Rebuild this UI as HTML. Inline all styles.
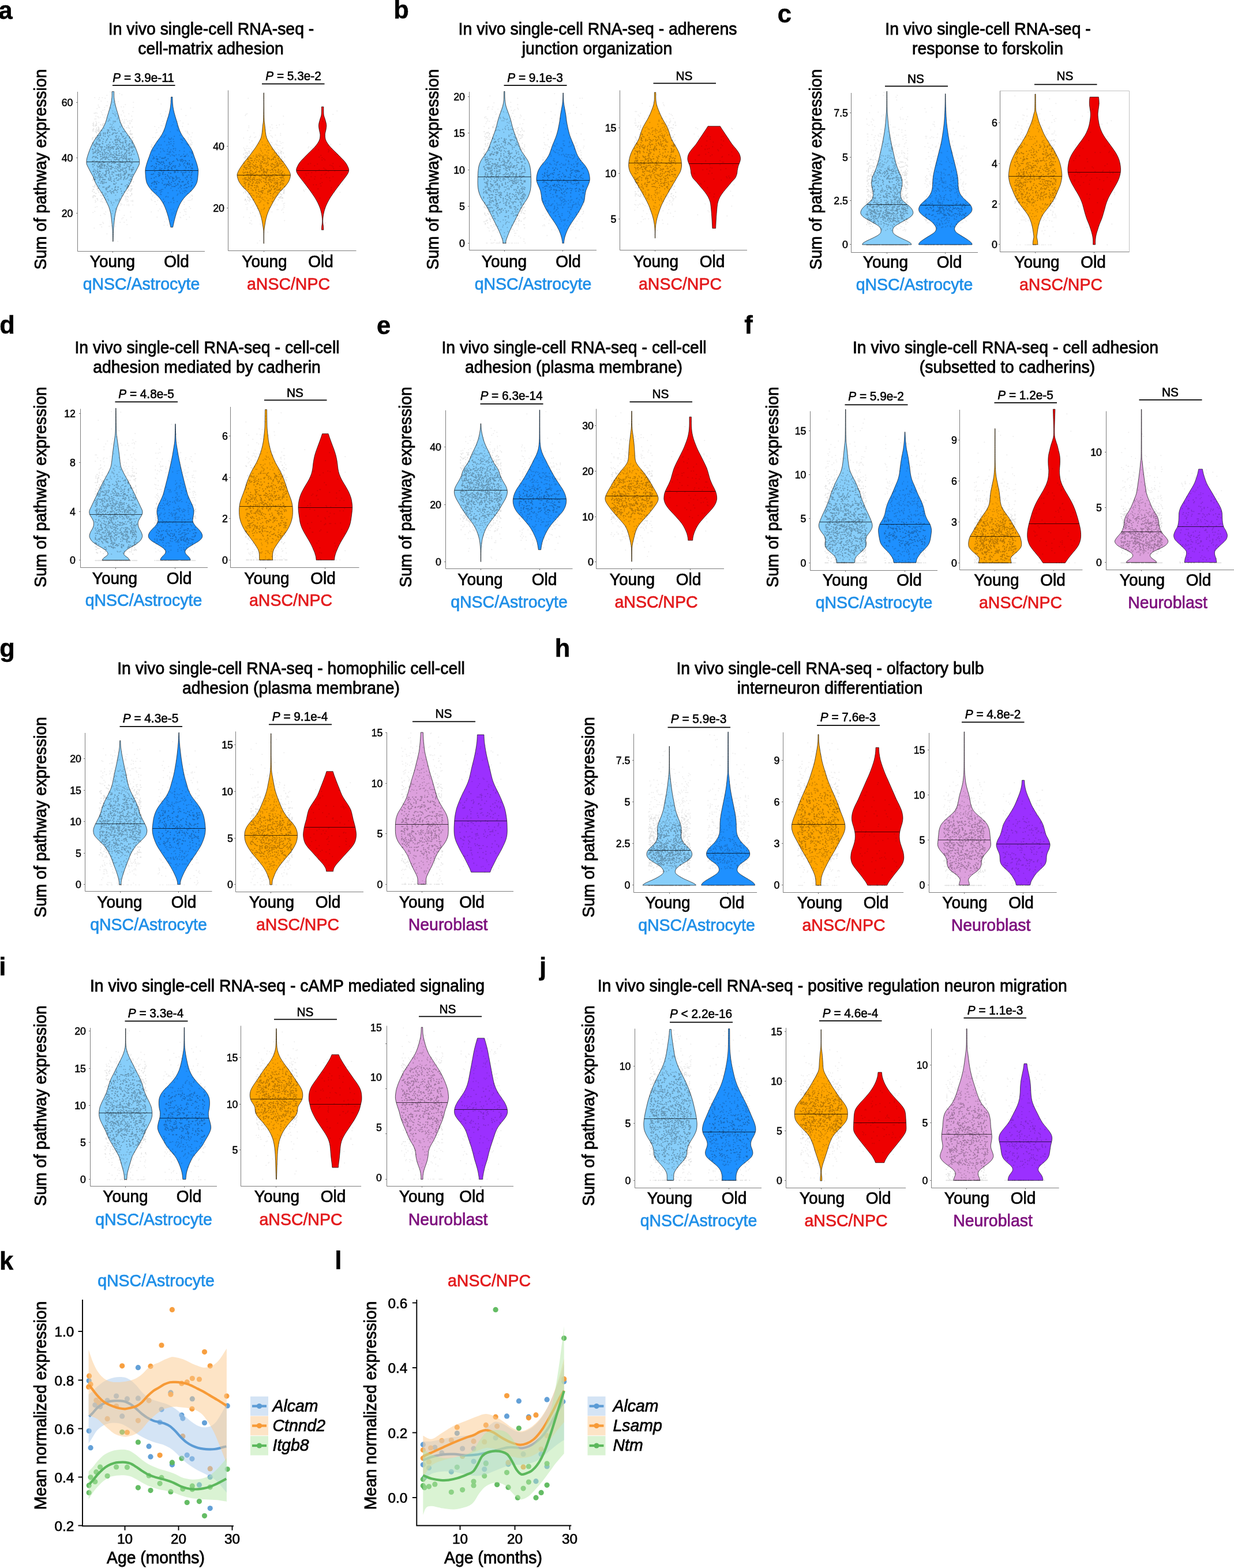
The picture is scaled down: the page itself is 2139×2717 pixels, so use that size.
<!DOCTYPE html>
<html lang="en"><head><meta charset="utf-8"><title>Figure</title>
<style>
html,body{margin:0;padding:0;background:#fff}
svg{display:block}
text{font-family:"Liberation Sans", sans-serif;}
</style></head><body>
<svg xmlns="http://www.w3.org/2000/svg" width="2139" height="2717" viewBox="0 0 2139 2717">
<rect width="2139" height="2717" fill="#fff"/>
<text x="-2.4" y="32.6" font-size="43.5" stroke="#000" stroke-width="0.5" font-weight="bold">a</text>
<text font-size="28.4" text-anchor="middle" stroke="#000" stroke-width="0.8" transform="translate(366.0 59.7) scale(1 1.045)">In vivo single-cell RNA-seq -</text>
<text font-size="28.4" text-anchor="middle" stroke="#000" stroke-width="0.8" transform="translate(365.5 93.7) scale(1 1.045)">cell-matrix adhesion</text>
<text font-size="28.3" text-anchor="middle" stroke="#000" stroke-width="0.8" transform="translate(80.0 293.5) rotate(-90) scale(1 1.04)">Sum of pathway expression</text>
<path d="M197.6 158.7c0 1.6-.1 6.4.1 9.7c.3 3.3.7 6.5 1.4 10c.8 3.6 2 7.6 3 11.5c1.1 3.8 2.4 7.8 3.5 11.4c1 3.6 1.6 6.7 2.8 10c1.3 3.3 2.6 6.4 4.7 10c2.1 3.6 5.3 7.6 7.9 11.4c2.6 3.8 5.6 7.6 7.9 11.4c2.2 3.9 4 7.7 5.7 11.5c1.6 3.8 3.1 8.1 4.3 11.4c1.1 3.3 1.9 6.3 2.4 8.6c.5 2.2.5 3.3.4 5c0 1.6.4 2.2-.7 5c-1.1 2.7-3.9 7.8-5.7 11.4c-1.9 3.6-4 6.9-5.4 10c-1.5 3.1-1.7 5.5-3.2 8.6c-1.5 3.1-3.7 6.6-5.7 10c-2 3.3-4.3 6.4-6.4 10c-2.1 3.5-4.3 7.6-6.2 11.4c-1.9 3.8-3.8 7.6-5.3 11.4c-1.4 3.8-2.4 7.4-3.2 11.5c-.9 4-1.2 8.3-1.8 12.8c-.5 4.5-1.1 9.5-1.4 14.3c-.3 4.8-.3 10.7-.4 14.3c-.1 3.6-.2 5.9-.2 7.1l-.5 0c0-1.2-.1-3.5-.2-7.1c-.1-3.6-.1-9.5-.4-14.3c-.3-4.8-.9-9.8-1.4-14.3c-.6-4.5-.9-8.8-1.7-12.8c-.9-4.1-1.9-7.7-3.3-11.5c-1.5-3.8-3.4-7.6-5.3-11.4c-1.9-3.8-4.1-7.9-6.2-11.4c-2.1-3.6-4.4-6.7-6.4-10c-2-3.4-4.2-6.9-5.7-10c-1.5-3.1-1.7-5.5-3.1-8.6c-1.5-3.1-3.6-6.4-5.5-10c-1.8-3.6-4.6-8.7-5.7-11.4c-1.1-2.8-.7-3.4-.7-5c0-1.7 0-2.8.4-5c.5-2.3 1.3-5.3 2.5-8.6c1.1-3.3 2.6-7.6 4.2-11.4c1.7-3.8 3.5-7.6 5.8-11.5c2.2-3.8 5.2-7.6 7.8-11.4c2.6-3.8 5.8-7.8 7.9-11.4c2.1-3.6 3.4-6.7 4.7-10c1.2-3.3 1.8-6.4 2.8-10c1.1-3.6 2.4-7.6 3.5-11.4c1-3.9 2.2-7.9 3-11.5c.7-3.5 1.1-6.7 1.4-10c.3-3.3.1-8.1.1-9.7z" fill="#87cefa" stroke="#000" stroke-opacity="0.72" stroke-width="0.9" stroke-linejoin="round"/>
<path d="M150.0 280.5H241.7" stroke="#000" stroke-opacity="0.7" stroke-width="1" fill="none"/>
<path d="M298.9 168.1c0 2 .1 8.1.4 11.8c.3 3.6.7 6.4 1.4 10c.7 3.5 1.9 7.8 2.9 11.4c1 3.6 2.1 6.7 3.1 10c1 3.3 1.6 6.4 2.9 10c1.3 3.6 2.8 7.6 5 11.4c2.1 3.8 5.6 8.1 7.8 11.4c2.3 3.4 4 5.8 5.7 8.6c1.8 2.9 3.6 5.5 5 8.6c1.5 3.1 2.4 6.7 3.6 10c1.2 3.3 2.6 6.9 3.6 10c1 3.1 1.9 6.2 2.4 8.6c.6 2.3.8 3.3.9 5.7c0 2.4-.2 5.7-.5 8.5c-.2 2.9-.5 6.2-1 8.6c-.4 2.4-.8 3.6-1.8 5.7c-1 2.2-2.5 4.8-4.3 7.2c-1.8 2.4-4 4.7-6.4 7.1c-2.4 2.4-5.6 4.8-7.9 7.2c-2.2 2.3-4 4.7-5.7 7.1c-1.7 2.4-2.9 4.3-4.3 7.1c-1.4 2.9-3 6.5-4.3 10c-1.3 3.6-2.5 7.7-3.5 11.5c-1.1 3.8-2.2 8.4-2.9 11.4c-.7 3-1.2 5.6-1.4 6.7l-3.7 0c-.3-1.1-.8-3.7-1.5-6.7c-.7-3-1.8-7.6-2.8-11.4c-1.1-3.8-2.3-7.9-3.6-11.5c-1.3-3.5-2.9-7.1-4.3-10c-1.4-2.8-2.6-4.7-4.3-7.1c-1.6-2.4-3.4-4.8-5.7-7.1c-2.2-2.4-5.5-4.8-7.8-7.2c-2.4-2.4-4.7-4.7-6.5-7.1c-1.8-2.4-3.2-5-4.3-7.2c-1-2.1-1.3-3.3-1.8-5.7c-.5-2.4-.8-5.7-1-8.6c-.3-2.8-.5-6.1-.4-8.5c0-2.4.3-3.4.8-5.7c.6-2.4 1.4-5.5 2.4-8.6c1-3.1 2.4-6.7 3.6-10c1.2-3.3 2.2-6.9 3.6-10c1.4-3.1 3.2-5.7 5-8.6c1.8-2.8 3.4-5.2 5.7-8.6c2.3-3.3 5.7-7.6 7.9-11.4c2.1-3.8 3.6-7.8 5-11.4c1.3-3.6 1.8-6.7 2.8-10c1-3.3 2.2-6.4 3.2-10c1-3.6 2.1-7.9 2.8-11.4c.7-3.6 1.1-6.4 1.4-10c.4-3.7.4-9.8.5-11.8z" fill="#1e90ff" stroke="#000" stroke-opacity="0.72" stroke-width="0.9" stroke-linejoin="round"/>
<path d="M251.9 295.5H343.6" stroke="#000" stroke-opacity="0.7" stroke-width="1" fill="none"/>
<path d="M134.5 159.0V435.5H355.0" stroke="#6e6e6e" stroke-width="0.9" fill="none"/>
<path d="M132.0 177.5L134.5 177.5" stroke="#6e6e6e" stroke-width="0.9" fill="none"/>
<path d="M132.0 273.5L134.5 273.5" stroke="#6e6e6e" stroke-width="0.9" fill="none"/>
<path d="M132.0 369.5L134.5 369.5" stroke="#6e6e6e" stroke-width="0.9" fill="none"/>
<text x="126.5" y="183.5" font-size="17.8" text-anchor="end" stroke="#000" stroke-width="0.5">60</text>
<text x="126.5" y="279.9" font-size="17.8" text-anchor="end" stroke="#000" stroke-width="0.5">40</text>
<text x="126.5" y="375.9" font-size="17.8" text-anchor="end" stroke="#000" stroke-width="0.5">20</text>
<path d="M195.5 435.5L195.5 438.0" stroke="#6e6e6e" stroke-width="0.9" fill="none"/>
<path d="M297.5 435.5L297.5 438.0" stroke="#6e6e6e" stroke-width="0.9" fill="none"/>
<text font-size="20.8" text-anchor="middle" stroke="#000" stroke-width="0.6" transform="translate(248.5 141.9) scale(1 1.02)"><tspan font-style="italic">P</tspan> = 3.9e-11</text>
<path d="M195.0 147.9L303.5 147.9" stroke="#000" stroke-width="1.7" fill="none"/>
<text font-size="28" text-anchor="middle" stroke="#000" stroke-width="0.7" transform="translate(195.0 463.3) scale(1 1.04)">Young</text>
<text font-size="28" text-anchor="middle" stroke="#000" stroke-width="0.7" transform="translate(306.0 463.3) scale(1 1.04)">Old</text>
<text font-size="28.5" text-anchor="middle" fill="#1f8fe8" stroke="#1f8fe8" stroke-width="0.7" transform="translate(245.0 501.5) scale(1 1.04)">qNSC/Astrocyte</text>
<path d="M457.5 160.9c0 4.3 0 18.1.1 26c0 7.9.1 16.1.4 21.4c.3 5.2.8 6.4 1.1 10c.4 3.6.7 8.1 1.2 11.4c.5 3.3.7 5.7 1.7 8.6c1 2.8 2.4 5.2 4.3 8.6c1.9 3.3 4.5 7.6 7.1 11.4c2.6 3.8 5.6 7.6 8.6 11.4c3 3.8 6.4 7.6 9.3 11.4c2.8 3.9 5.9 8.4 7.8 11.5c1.9 3.1 2.9 5.3 3.6 7.1c.7 1.8.7 2.2.7 3.6c0 1.4-.1 3-.7 5c-.6 2-1.3 4.5-2.8 7.1c-1.6 2.6-4 5.7-6.5 8.6c-2.5 2.9-5.8 5.2-8.5 8.6c-2.8 3.3-5.5 7.6-7.9 11.4c-2.4 3.8-4.4 7.6-6.4 11.4c-2.1 3.8-4.2 7.6-5.7 11.5c-1.6 3.8-2.7 7.6-3.6 11.4c-1 3.8-1.6 8.1-2.2 11.4c-.5 3.3-1 5.5-1.2 8.6c-.3 3.1-.3 6.1-.4 10c0 3.9 0 11.3 0 13.6l-.5 0c0-2.3.1-9.7 0-13.6c0-3.9 0-6.9-.3-10c-.3-3.1-.7-5.3-1.3-8.6c-.5-3.3-1.2-7.6-2.1-11.4c-1-3.8-2-7.6-3.6-11.4c-1.5-3.9-3.7-7.7-5.7-11.5c-2-3.8-4-7.6-6.4-11.4c-2.4-3.8-5.1-8.1-7.9-11.4c-2.7-3.4-6.1-5.7-8.6-8.6c-2.5-2.9-4.8-6-6.4-8.6c-1.5-2.6-2.2-5.1-2.8-7.1c-.6-2-.8-3.6-.8-5c0-1.4 0-1.8.8-3.6c.7-1.8 1.6-4 3.5-7.1c1.9-3.1 5-7.6 7.9-11.5c2.8-3.8 6.3-7.6 9.3-11.4c2.9-3.8 5.9-7.6 8.5-11.4c2.7-3.8 5.3-8.1 7.2-11.4c1.9-3.4 3.3-5.8 4.3-8.6c1-2.9 1.2-5.3 1.7-8.6c.5-3.3.7-7.8 1.1-11.4c.4-3.6.9-4.8 1.2-10c.2-5.3.3-13.5.4-21.4c.1-7.9 0-21.7 0-26z" fill="#ffa500" stroke="#000" stroke-opacity="0.72" stroke-width="0.9" stroke-linejoin="round"/>
<path d="M411.1 303.5H503.4" stroke="#000" stroke-opacity="0.7" stroke-width="1" fill="none"/>
<path d="M560.9 185c0 2.2-.1 9.9.2 13.3c.4 3.4 1.4 4.7 2 7.1c.7 2.4 1.6 5 2 7.2c.5 2.1.8 3.5.8 5.7c-.1 2.1-.6 4.7-1 7.1c-.4 2.4-1.4 4.6-1.5 7.2c-.1 2.6 0 5.9.7 8.5c.8 2.7 2.1 4.8 3.6 7.2c1.6 2.4 3.3 4.5 5.7 7.1c2.4 2.6 5.7 5.7 8.6 8.6c2.9 2.9 5.8 5.7 8.6 8.6c2.7 2.8 5.8 5.9 7.8 8.5c2.1 2.7 3.3 5 4.3 7.2c1 2.1 1.8 3.8 1.9 5.7c.1 1.9 0 3.3-1.2 5.7c-1.1 2.4-3.4 5.5-5.7 8.6c-2.2 3.1-5.1 6.4-7.8 10c-2.8 3.6-5.9 7.6-8.6 11.4c-2.8 3.8-5.6 7.9-7.9 11.4c-2.2 3.6-4 6.7-5.7 10c-1.7 3.4-3.1 6.5-4.3 10c-1.2 3.6-2.2 7.7-2.8 11.5c-.7 3.8-1 8.1-1 11.4c0 3.3.8 6.2 1 8.6c.2 2.4.2 4.7.3 5.7l-3.5 0c.1-1 .1-3.3.3-5.7c.2-2.4 1-5.3 1-8.6c0-3.3-.3-7.6-1-11.4c-.6-3.8-1.7-7.9-2.8-11.5c-1.2-3.5-2.7-6.6-4.3-10c-1.7-3.3-3.5-6.4-5.7-10c-2.3-3.5-5.2-7.6-7.9-11.4c-2.7-3.8-5.8-7.8-8.6-11.4c-2.7-3.6-5.6-6.9-7.8-10c-2.3-3.1-4.6-6.2-5.7-8.6c-1.2-2.4-1.3-3.8-1.2-5.7c.1-1.9.8-3.6 1.9-5.7c1-2.2 2.2-4.5 4.3-7.2c2-2.6 5.1-5.7 7.8-8.5c2.8-2.9 5.7-5.7 8.6-8.6c2.8-2.9 6.2-6 8.6-8.6c2.3-2.6 4.1-4.7 5.7-7.1c1.5-2.4 2.8-4.5 3.5-7.2c.8-2.6.9-5.9.8-8.5c-.2-2.6-1.1-4.8-1.5-7.2c-.4-2.4-.9-5-1-7.1c0-2.2.3-3.6.7-5.7c.5-2.2 1.4-4.8 2-7.2c.7-2.4 1.7-3.7 2-7.1c.4-3.4.3-11.1.3-13.3z" fill="#ee0000" stroke="#000" stroke-opacity="0.72" stroke-width="0.9" stroke-linejoin="round"/>
<path d="M514.1 295.5H604.2" stroke="#000" stroke-opacity="0.7" stroke-width="1" fill="none"/>
<path d="M395.5 156.5V434.5H617.5" stroke="#6e6e6e" stroke-width="0.9" fill="none"/>
<path d="M393.0 253.5L395.5 253.5" stroke="#6e6e6e" stroke-width="0.9" fill="none"/>
<path d="M393.0 360.5L395.5 360.5" stroke="#6e6e6e" stroke-width="0.9" fill="none"/>
<text x="389.0" y="260.2" font-size="17.8" text-anchor="end" stroke="#000" stroke-width="0.5">40</text>
<text x="389.0" y="366.9" font-size="17.8" text-anchor="end" stroke="#000" stroke-width="0.5">20</text>
<path d="M457.5 434.5L457.5 437.0" stroke="#6e6e6e" stroke-width="0.9" fill="none"/>
<path d="M558.5 434.5L558.5 437.0" stroke="#6e6e6e" stroke-width="0.9" fill="none"/>
<text font-size="20.8" text-anchor="middle" stroke="#000" stroke-width="0.6" transform="translate(508.5 139.4) scale(1 1.02)"><tspan font-style="italic">P</tspan> = 5.3e-2</text>
<path d="M454.0 145.4L562.5 145.4" stroke="#000" stroke-width="1.7" fill="none"/>
<text font-size="28" text-anchor="middle" stroke="#000" stroke-width="0.7" transform="translate(458.5 463.3) scale(1 1.04)">Young</text>
<text font-size="28" text-anchor="middle" stroke="#000" stroke-width="0.7" transform="translate(556.0 463.3) scale(1 1.04)">Old</text>
<text font-size="28.5" text-anchor="middle" fill="#e31a1c" stroke="#e31a1c" stroke-width="0.7" transform="translate(500.0 501.5) scale(1 1.04)">aNSC/NPC</text>
<text x="682.3" y="32.4" font-size="43.5" stroke="#000" stroke-width="0.5" font-weight="bold">b</text>
<text font-size="28.4" text-anchor="middle" stroke="#000" stroke-width="0.8" transform="translate(1036.0 59.7) scale(1 1.045)">In vivo single-cell RNA-seq - adherens</text>
<text font-size="28.4" text-anchor="middle" stroke="#000" stroke-width="0.8" transform="translate(1035.0 93.7) scale(1 1.045)">junction organization</text>
<text font-size="28.3" text-anchor="middle" stroke="#000" stroke-width="0.8" transform="translate(760.0 293.5) rotate(-90) scale(1 1.04)">Sum of pathway expression</text>
<path d="M875 158.4c0 2.4-.1 10 .3 14.3c.3 4.3.9 7.6 1.8 11.4c1 3.9 2.7 7.7 4 11.5c1.4 3.8 2.8 7.6 3.9 11.4c1.1 3.8 1.8 7.6 2.9 11.4c1 3.8 2.2 7.6 3.5 11.5c1.3 3.8 2.9 7.6 4.3 11.4c1.4 3.8 3 8.1 4.3 11.4c1.3 3.3 2 5.7 3.6 8.6c1.5 2.8 3.8 5.7 5.7 8.6c1.9 2.8 4.2 5.7 5.7 8.5c1.5 2.9 2.5 5.7 3.3 8.6c.8 2.9 1.1 5.4 1.4 8.6c.3 3.2.5 6.9.6 10.7c.1 3.8.3 8.2.1 12.1c-.1 4-.4 7.9-1.1 11.5c-.8 3.5-2.1 7.1-3.3 10c-1.2 2.8-2.4 4.7-3.9 7.1c-1.4 2.4-3.2 4.3-5 7.1c-1.7 2.9-3.8 6.5-5.7 10c-1.9 3.6-3.8 7.7-5.7 11.5c-1.9 3.8-3.8 7.6-5.7 11.4c-1.9 3.8-4 7.6-5.7 11.4c-1.8 3.8-3.5 8.4-4.7 11.5c-1.2 3.1-2 5.2-2.5 7.1c-.4 1.9-.2 3.6-.2 4.3l-5.2 0c0-.7.2-2.4-.3-4.3c-.4-1.9-1.2-4-2.4-7.1c-1.2-3.1-3-7.7-4.7-11.5c-1.8-3.8-3.8-7.6-5.7-11.4c-1.9-3.8-3.8-7.6-5.7-11.4c-1.9-3.8-3.9-7.9-5.8-11.5c-1.9-3.5-3.9-7.1-5.7-10c-1.8-2.8-3.5-4.7-5-7.1c-1.4-2.4-2.6-4.3-3.8-7.1c-1.2-2.9-2.6-6.5-3.3-10c-.8-3.6-1-7.5-1.2-11.5c-.1-3.9.1-8.3.2-12.1c.1-3.8.2-7.5.6-10.7c.3-3.2.6-5.7 1.4-8.6c.8-2.9 1.8-5.7 3.3-8.6c1.5-2.8 3.8-5.7 5.7-8.5c1.9-2.9 4.2-5.8 5.7-8.6c1.5-2.9 2.3-5.3 3.6-8.6c1.3-3.3 2.8-7.6 4.3-11.4c1.4-3.8 2.9-7.6 4.2-11.4c1.4-3.9 2.5-7.7 3.6-11.5c1.1-3.8 1.8-7.6 2.9-11.4c1.1-3.8 2.5-7.6 3.8-11.4c1.3-3.8 3.1-7.6 4-11.5c1-3.8 1.5-7.1 1.9-11.4c.3-4.3.2-11.9.3-14.3z" fill="#87cefa" stroke="#000" stroke-opacity="0.72" stroke-width="0.9" stroke-linejoin="round"/>
<path d="M828.3 306.5H920.3" stroke="#000" stroke-opacity="0.7" stroke-width="1" fill="none"/>
<path d="M976.4 161c.1 2.4.1 10.2.5 14.6c.3 4.3 1 7.6 1.7 11.4c.6 3.8 1.5 7.6 2.1 11.4c.6 3.8.8 7.6 1.4 11.5c.6 3.8 1.4 7.6 2.2 11.4c.8 3.8 1.7 7.6 2.8 11.4c1.2 3.8 3 8.1 4.3 11.4c1.3 3.4 2.5 5.8 3.6 8.6c1.1 2.9 1.8 5.7 2.9 8.6c1 2.8 2 5.7 3.5 8.6c1.6 2.8 3.6 5.7 5.7 8.5c2.2 2.9 5.2 5.7 7.2 8.6c2 2.9 3.7 5.7 5 8.6c1.2 2.8 1.9 5.7 2.4 8.5c.5 2.9.8 5.8.4 8.6c-.4 2.9-1.7 5.7-2.8 8.6c-1.1 2.8-2.7 5.7-3.6 8.6c-.9 2.8-1.2 5.7-1.7 8.5c-.5 2.9-.4 5.7-1.1 8.6c-.8 2.9-2.3 5.7-3.6 8.6c-1.3 2.8-2.4 5.2-4.3 8.5c-1.9 3.4-4.6 7.7-7.1 11.5c-2.5 3.8-5.5 7.6-7.9 11.4c-2.4 3.8-4.6 7.6-6.4 11.4c-1.8 3.8-3.3 8.1-4.3 11.5c-1 3.3-1.4 6.6-1.7 8.5c-.3 1.9 0 2.4 0 2.9l-2.9 0c0-.5.3-1 0-2.9c-.3-1.9-.7-5.2-1.7-8.5c-1-3.4-2.5-7.7-4.3-11.5c-1.8-3.8-4-7.6-6.4-11.4c-2.4-3.8-5.4-7.6-7.9-11.4c-2.5-3.8-5.2-8.1-7.1-11.5c-1.9-3.3-3-5.7-4.3-8.5c-1.3-2.9-2.8-5.7-3.6-8.6c-.8-2.9-.6-5.7-1.1-8.6c-.5-2.8-.8-5.7-1.7-8.5c-.9-2.9-2.5-5.8-3.6-8.6c-1.1-2.9-2.5-5.7-2.9-8.6c-.4-2.8 0-5.7.5-8.6c.4-2.8 1.2-5.7 2.4-8.5c1.2-2.9 3-5.7 5-8.6c2-2.9 5-5.7 7.1-8.6c2.2-2.8 4.2-5.7 5.8-8.5c1.5-2.9 2.5-5.8 3.5-8.6c1.1-2.9 1.8-5.7 2.9-8.6c1.1-2.8 2.2-5.2 3.6-8.6c1.3-3.3 3.1-7.6 4.2-11.4c1.2-3.8 2.1-7.6 2.9-11.4c.8-3.8 1.5-7.6 2.1-11.4c.6-3.9.9-7.7 1.5-11.5c.6-3.8 1.5-7.6 2.1-11.4c.7-3.8 1.4-7.1 1.7-11.4c.4-4.4.4-12.2.5-14.6z" fill="#1e90ff" stroke="#000" stroke-opacity="0.72" stroke-width="0.9" stroke-linejoin="round"/>
<path d="M930.1 312.5H1022.1" stroke="#000" stroke-opacity="0.7" stroke-width="1" fill="none"/>
<path d="M813.5 159.0V433.5H1034.0" stroke="#6e6e6e" stroke-width="0.9" fill="none"/>
<path d="M811.0 167.5L813.5 167.5" stroke="#6e6e6e" stroke-width="0.9" fill="none"/>
<path d="M811.0 230.5L813.5 230.5" stroke="#6e6e6e" stroke-width="0.9" fill="none"/>
<path d="M811.0 294.5L813.5 294.5" stroke="#6e6e6e" stroke-width="0.9" fill="none"/>
<path d="M811.0 357.5L813.5 357.5" stroke="#6e6e6e" stroke-width="0.9" fill="none"/>
<path d="M811.0 421.5L813.5 421.5" stroke="#6e6e6e" stroke-width="0.9" fill="none"/>
<text x="806.0" y="173.5" font-size="17.8" text-anchor="end" stroke="#000" stroke-width="0.5">20</text>
<text x="806.0" y="237.4" font-size="17.8" text-anchor="end" stroke="#000" stroke-width="0.5">15</text>
<text x="806.0" y="300.6" font-size="17.8" text-anchor="end" stroke="#000" stroke-width="0.5">10</text>
<text x="806.0" y="364.2" font-size="17.8" text-anchor="end" stroke="#000" stroke-width="0.5">5</text>
<text x="806.0" y="427.8" font-size="17.8" text-anchor="end" stroke="#000" stroke-width="0.5">0</text>
<path d="M874.5 433.5L874.5 436.0" stroke="#6e6e6e" stroke-width="0.9" fill="none"/>
<path d="M975.5 433.5L975.5 436.0" stroke="#6e6e6e" stroke-width="0.9" fill="none"/>
<text font-size="20.8" text-anchor="middle" stroke="#000" stroke-width="0.6" transform="translate(927.5 141.9) scale(1 1.02)"><tspan font-style="italic">P</tspan> = 9.1e-3</text>
<path d="M873.5 147.9L982.5 147.9" stroke="#000" stroke-width="1.7" fill="none"/>
<text font-size="28" text-anchor="middle" stroke="#000" stroke-width="0.7" transform="translate(874.0 463.3) scale(1 1.04)">Young</text>
<text font-size="28" text-anchor="middle" stroke="#000" stroke-width="0.7" transform="translate(985.0 463.3) scale(1 1.04)">Old</text>
<text font-size="28.5" text-anchor="middle" fill="#1f8fe8" stroke="#1f8fe8" stroke-width="0.7" transform="translate(924.0 501.5) scale(1 1.04)">qNSC/Astrocyte</text>
<path d="M1136.7 160.1c0 2.1-.1 9 .2 12.5c.2 3.5.6 5.7 1.2 8.5c.7 2.9 1.8 5.8 2.9 8.6c1.1 2.9 2.3 5.7 3.6 8.6c1.3 2.8 2.7 5.7 4.3 8.6c1.5 2.8 3.4 5.7 5 8.5c1.5 2.9 3.1 5.7 4.2 8.6c1.2 2.9 1.9 5.7 2.9 8.6c1 2.8 1.5 5.7 2.9 8.5c1.3 2.9 3.3 5.8 5 8.6c1.6 2.9 3.5 5.7 5 8.6c1.5 2.8 2.9 5.7 4 8.6c1 2.8 1.8 5.9 2.4 8.5c.6 2.6.8 4.8 1 7.2c.2 2.4.4 4.5 0 7.1c-.4 2.6-1.2 5.7-2.4 8.6c-1.3 2.8-3.4 5.7-5 8.6c-1.7 2.8-3.4 5.7-5 8.5c-1.7 2.9-3.4 5.7-5 8.6c-1.7 2.9-3.1 5.2-5 8.6c-1.9 3.3-4.4 7.6-6.5 11.4c-2 3.8-4 7.6-5.7 11.4c-1.7 3.8-3 7.6-4.3 11.5c-1.3 3.8-2.6 7.6-3.5 11.4c-1 3.8-1.7 7.6-2.2 11.4c-.5 3.8-.7 7.6-.8 11.4c-.2 3.9-.1 9.6-.1 11.5l-.5 0c0-1.9.1-7.6 0-11.5c-.2-3.8-.4-7.6-.9-11.4c-.5-3.8-1.2-7.6-2.1-11.4c-1-3.8-2.3-7.6-3.6-11.4c-1.3-3.9-2.6-7.7-4.3-11.5c-1.6-3.8-3.7-7.6-5.7-11.4c-2-3.8-4.5-8.1-6.4-11.4c-1.9-3.4-3.3-5.7-5-8.6c-1.7-2.9-3.3-5.7-5-8.6c-1.7-2.8-3.3-5.7-5-8.5c-1.7-2.9-3.8-5.8-5-8.6c-1.3-2.9-2-6-2.4-8.6c-.4-2.6-.2-4.7 0-7.1c.1-2.4.4-4.6 1-7.2c.5-2.6 1.3-5.7 2.4-8.5c1.1-2.9 2.5-5.8 4-8.6c1.5-2.9 3.3-5.7 5-8.6c1.7-2.8 3.7-5.7 5-8.6c1.3-2.8 1.9-5.7 2.8-8.5c1-2.9 1.7-5.7 2.9-8.6c1.2-2.9 2.7-5.7 4.3-8.6c1.5-2.8 3.4-5.7 5-8.5c1.5-2.9 3-5.8 4.3-8.6c1.3-2.9 2.5-5.7 3.5-8.6c1.1-2.8 2.2-5.7 2.9-8.6c.7-2.8 1-5 1.3-8.5c.2-3.5.1-10.4.1-12.5z" fill="#ffa500" stroke="#000" stroke-opacity="0.72" stroke-width="0.9" stroke-linejoin="round"/>
<path d="M1089.9 282.5H1181.2" stroke="#000" stroke-opacity="0.7" stroke-width="1" fill="none"/>
<path d="M1248.4 218.7c.6.9 1.8 3 3.3 5.3c1.5 2.3 3.8 5.7 5.7 8.6c1.9 2.8 3.8 5.7 5.7 8.5c1.9 2.9 3.6 5.8 5.8 8.6c2.1 2.9 5.1 6 7.1 8.6c2 2.6 3.8 5 5 7.1c1.2 2.2 1.7 3.8 2.1 5.7c.4 1.9.6 3.9.3 5.8c-.2 1.9-1 3.8-1.7 5.7c-.6 1.9-1.5 3.5-2.1 5.7c-.6 2.1-1.1 5-1.5 7.1c-.3 2.2-.1 3.6-.7 5.7c-.6 2.2-1.3 4.8-2.8 7.2c-1.6 2.4-4.2 4.5-6.5 7.1c-2.2 2.6-4.7 5.7-7.1 8.6c-2.4 2.9-5 5.7-7.1 8.6c-2.2 2.8-4.2 5.7-5.8 8.5c-1.5 2.9-2.7 5.8-3.5 8.6c-.9 2.9-1.1 5.3-1.5 8.6c-.4 3.3-.6 7.6-1 11.4c-.3 3.8-.6 7.1-.8 11.4c-.3 4.4-.6 12.2-.7 14.6l-5.7 0c-.2-2.4-.5-10.2-.8-14.6c-.2-4.3-.5-7.6-.8-11.4c-.3-3.8-.6-8.1-1-11.4c-.4-3.3-.6-5.7-1.4-8.6c-.9-2.8-2.1-5.7-3.6-8.6c-1.6-2.8-3.6-5.7-5.7-8.5c-2.2-2.9-4.8-5.7-7.2-8.6c-2.4-2.9-4.9-6-7.1-8.6c-2.3-2.6-4.9-4.7-6.4-7.1c-1.6-2.4-2.3-5-2.9-7.2c-.6-2.1-.4-3.5-.7-5.7c-.4-2.1-.8-5-1.4-7.1c-.6-2.2-1.5-3.8-2.2-5.7c-.6-1.9-1.5-3.8-1.7-5.7c-.2-1.9-.1-3.9.3-5.8c.4-1.9.9-3.5 2.1-5.7c1.2-2.1 3-4.5 5-7.1c2.1-2.6 5-5.7 7.2-8.6c2.1-2.8 3.8-5.7 5.7-8.6c1.9-2.8 3.8-5.7 5.7-8.5c1.9-2.9 4.2-6.3 5.7-8.6c1.5-2.3 2.8-4.4 3.3-5.3z" fill="#ee0000" stroke="#000" stroke-opacity="0.72" stroke-width="0.9" stroke-linejoin="round"/>
<path d="M1194.0 283.5H1281.4" stroke="#000" stroke-opacity="0.7" stroke-width="1" fill="none"/>
<path d="M1074.5 156.5V433.5H1295.0" stroke="#6e6e6e" stroke-width="0.9" fill="none"/>
<path d="M1072.0 221.5L1074.5 221.5" stroke="#6e6e6e" stroke-width="0.9" fill="none"/>
<path d="M1072.0 300.5L1074.5 300.5" stroke="#6e6e6e" stroke-width="0.9" fill="none"/>
<path d="M1072.0 379.5L1074.5 379.5" stroke="#6e6e6e" stroke-width="0.9" fill="none"/>
<text x="1068.5" y="228.4" font-size="17.8" text-anchor="end" stroke="#000" stroke-width="0.5">15</text>
<text x="1068.5" y="307.2" font-size="17.8" text-anchor="end" stroke="#000" stroke-width="0.5">10</text>
<text x="1068.5" y="385.5" font-size="17.8" text-anchor="end" stroke="#000" stroke-width="0.5">5</text>
<path d="M1135.5 433.5L1135.5 436.0" stroke="#6e6e6e" stroke-width="0.9" fill="none"/>
<path d="M1237.5 433.5L1237.5 436.0" stroke="#6e6e6e" stroke-width="0.9" fill="none"/>
<text font-size="20.8" text-anchor="middle" stroke="#000" stroke-width="0.6" transform="translate(1186.0 138.9) scale(1 1.02)">NS</text>
<path d="M1132.5 144.4L1241.0 144.4" stroke="#000" stroke-width="1.7" fill="none"/>
<text font-size="28" text-anchor="middle" stroke="#000" stroke-width="0.7" transform="translate(1137.0 463.3) scale(1 1.04)">Young</text>
<text font-size="28" text-anchor="middle" stroke="#000" stroke-width="0.7" transform="translate(1234.5 463.3) scale(1 1.04)">Old</text>
<text font-size="28.5" text-anchor="middle" fill="#e31a1c" stroke="#e31a1c" stroke-width="0.7" transform="translate(1179.0 501.5) scale(1 1.04)">aNSC/NPC</text>
<text x="1347.8" y="39.0" font-size="43.5" stroke="#000" stroke-width="0.5" font-weight="bold">c</text>
<text font-size="28.4" text-anchor="middle" stroke="#000" stroke-width="0.8" transform="translate(1712.5 59.7) scale(1 1.045)">In vivo single-cell RNA-seq -</text>
<text font-size="28.4" text-anchor="middle" stroke="#000" stroke-width="0.8" transform="translate(1712.0 93.7) scale(1 1.045)">response to forskolin</text>
<text font-size="28.3" text-anchor="middle" stroke="#000" stroke-width="0.8" transform="translate(1424.0 293.5) rotate(-90) scale(1 1.04)">Sum of pathway expression</text>
<path d="M1537.5 158.3c.1 4.4.1 19.6.2 26.4c.2 6.8.4 9.5.7 14.3c.3 4.8.7 9.5 1.2 14.3c.4 4.7 1 9.5 1.7 14.3c.7 4.7 1.5 9.5 2.4 14.3c.9 4.7 1.8 9.5 2.9 14.2c1 4.8 2.1 9.6 3.3 14.3c1.1 4.8 2.2 10 3.5 14.3c1.3 4.3 2.9 7.9 4.3 11.4c1.4 3.6 3.3 7.2 4.3 10c1 2.9 1.4 4.8 1.7 7.2c.3 2.4.3 4.5 0 7.1c-.3 2.6-1.2 5.7-1.7 8.6c-.5 2.9-1.1 6-1 8.6c.1 2.6.8 5.2 1.7 7.1c.9 1.9 2.2 2.9 3.6 4.3c1.4 1.4 3.3 2.9 5 4.3c1.7 1.4 3.5 2.8 5 4.3c1.5 1.4 2.9 2.6 4 4.3c1.1 1.6 2.2 4 2.4 5.7c.3 1.6-.2 2.8-1 4.3c-.8 1.4-2.1 2.8-4 4.2c-1.8 1.5-4.3 2.7-7.1 4.3c-2.9 1.7-6.8 3.8-10 5.7c-3.2 1.9-7.2 4.1-9.3 5.8c-2.1 1.6-2.5 2.8-3.2 4.2c-.6 1.5-.8 2.9-.7 4.3c.2 1.5.5 2.9 1.7 4.3c1.3 1.4 3.4 2.9 5.8 4.3c2.3 1.4 5.6 2.9 8.5 4.3c3 1.4 6.8 3 9.3 4.3c2.5 1.3 4.5 2.5 5.7 3.5c1.2 1.1 1.2 2.4 1.5 2.9l-85.2 0c.3-.5.3-1.8 1.4-2.9c1.2-1 3.3-2.2 5.8-3.5c2.5-1.3 6.3-2.9 9.2-4.3c3-1.4 6.2-2.9 8.6-4.3c2.4-1.4 4.5-2.9 5.7-4.3c1.3-1.4 1.6-2.8 1.7-4.3c.2-1.4 0-2.8-.7-4.3c-.6-1.4-1-2.6-3.1-4.2c-2.1-1.7-6.1-3.9-9.3-5.8c-3.2-1.9-7.1-4-10-5.7c-2.9-1.6-5.3-2.8-7.1-4.3c-1.9-1.4-3.2-2.8-4-4.2c-.9-1.5-1.3-2.7-1-4.3c.2-1.7 1.3-4.1 2.4-5.7c1.1-1.7 2.5-2.9 4-4.3c1.5-1.5 3.3-2.9 5-4.3c1.7-1.4 3.6-2.9 5-4.3c1.4-1.4 2.7-2.4 3.6-4.3c.8-1.9 1.6-4.5 1.7-7.1c.1-2.6-.6-5.7-1-8.6c-.5-2.9-1.5-6-1.7-8.6c-.3-2.6-.3-4.7 0-7.1c.2-2.4.7-4.3 1.7-7.2c1-2.8 2.8-6.4 4.3-10c1.4-3.5 2.9-7.1 4.2-11.4c1.4-4.3 2.5-9.5 3.6-14.3c1.2-4.7 2.3-9.5 3.3-14.3c1-4.7 2-9.5 2.9-14.2c.8-4.8 1.7-9.6 2.4-14.3c.7-4.8 1.2-9.6 1.7-14.3c.5-4.8.8-9.5 1.1-14.3c.4-4.8.6-7.5.8-14.3c.1-6.8.1-22 .1-26.4z" fill="#87cefa" stroke="#000" stroke-opacity="0.72" stroke-width="0.9" stroke-linejoin="round"/>
<path d="M1502.5 354.5H1572.1" stroke="#000" stroke-opacity="0.7" stroke-width="1" fill="none"/>
<path d="M1639 162.6c0 3.7.1 14.9.3 22.1c.2 7.3.6 15.5 1 21.4c.4 6 .8 9.6 1.4 14.3c.6 4.8 1.3 9.6 2 14.3c.8 4.8 1.6 9.5 2.6 14.3c1 4.8 2.4 9.5 3.6 14.3c1.1 4.7 2.3 9.5 3.5 14.3c1.2 4.7 2.6 10 3.6 14.3c1 4.2 1.8 7.8 2.4 11.4c.6 3.6.9 6.7 1.2 10c.2 3.3 0 6.9.4 10c.4 3.1.8 5.9 1.7 8.6c.9 2.6 1.9 4.7 3.6 7.1c1.7 2.4 4.3 5 6.4 7.1c2.2 2.2 4.8 4.1 6.4 5.8c1.7 1.6 2.7 2.6 3.6 4.2c1 1.7 2 3.9 2.2 5.8c.1 1.9-.3 3.8-1.5 5.7c-1.2 1.9-3.4 3.8-5.7 5.7c-2.2 1.9-5.2 3.8-7.8 5.7c-2.7 1.9-5.8 3.8-7.9 5.7c-2.1 1.9-3.8 4.1-5 5.7c-1.2 1.7-1.8 2.9-2.1 4.3c-.4 1.4-.4 2.9.2 4.3c.6 1.4 1.7 2.9 3.3 4.3c1.6 1.4 3.8 2.6 6.5 4.3c2.6 1.6 6.5 3.9 9.2 5.7c2.8 1.8 5.4 3.6 7.2 5c1.7 1.4 2.7 2.6 3.3 3.6c.6.9.2 1.7.3 2.1l-92.3 0c0-.4-.3-1.2.3-2.1c.6-1 1.5-2.2 3.2-3.6c1.8-1.4 4.4-3.2 7.2-5c2.7-1.8 6.7-4.1 9.3-5.7c2.6-1.7 4.8-2.9 6.4-4.3c1.6-1.4 2.7-2.9 3.3-4.3c.6-1.4.6-2.9.3-4.3c-.3-1.4-1-2.6-2.2-4.3c-1.2-1.6-2.8-3.8-5-5.7c-2.1-1.9-5.2-3.8-7.8-5.7c-2.6-1.9-5.6-3.8-7.9-5.7c-2.2-1.9-4.5-3.8-5.7-5.7c-1.2-1.9-1.5-3.8-1.4-5.7c.1-1.9 1.2-4.1 2.1-5.8c1-1.6 1.9-2.6 3.6-4.2c1.7-1.7 4.3-3.6 6.4-5.8c2.2-2.1 4.8-4.7 6.4-7.1c1.7-2.4 2.7-4.5 3.6-7.1c.9-2.7 1.4-5.5 1.7-8.6c.4-3.1.2-6.7.5-10c.2-3.3.5-6.4 1.1-10c.6-3.6 1.4-7.2 2.4-11.4c1-4.3 2.4-9.6 3.6-14.3c1.2-4.8 2.4-9.6 3.6-14.3c1.2-4.8 2.5-9.5 3.5-14.3c1.1-4.8 1.9-9.5 2.6-14.3c.8-4.7 1.4-9.5 2-14.3c.6-4.7 1-8.3 1.4-14.3c.4-5.9.8-14.1 1-21.4c.3-7.2.3-18.4.4-22.1z" fill="#1e90ff" stroke="#000" stroke-opacity="0.72" stroke-width="0.9" stroke-linejoin="round"/>
<path d="M1595.5 355.5H1681.9" stroke="#000" stroke-opacity="0.7" stroke-width="1" fill="none"/>
<path d="M1475.5 161.0V437.5H1695.0" stroke="#6e6e6e" stroke-width="0.9" fill="none"/>
<path d="M1473.0 195.5L1475.5 195.5" stroke="#6e6e6e" stroke-width="0.9" fill="none"/>
<path d="M1473.0 272.5L1475.5 272.5" stroke="#6e6e6e" stroke-width="0.9" fill="none"/>
<path d="M1473.0 347.5L1475.5 347.5" stroke="#6e6e6e" stroke-width="0.9" fill="none"/>
<path d="M1473.0 423.5L1475.5 423.5" stroke="#6e6e6e" stroke-width="0.9" fill="none"/>
<text x="1470.0" y="201.9" font-size="17.8" text-anchor="end" stroke="#000" stroke-width="0.5">7.5</text>
<text x="1470.0" y="278.6" font-size="17.8" text-anchor="end" stroke="#000" stroke-width="0.5">5</text>
<text x="1470.0" y="354.1" font-size="17.8" text-anchor="end" stroke="#000" stroke-width="0.5">2.5</text>
<text x="1470.0" y="429.8" font-size="17.8" text-anchor="end" stroke="#000" stroke-width="0.5">0</text>
<path d="M1537.5 437.5L1537.5 440.0" stroke="#6e6e6e" stroke-width="0.9" fill="none"/>
<path d="M1638.5 437.5L1638.5 440.0" stroke="#6e6e6e" stroke-width="0.9" fill="none"/>
<text font-size="20.8" text-anchor="middle" stroke="#000" stroke-width="0.6" transform="translate(1587.5 143.9) scale(1 1.02)">NS</text>
<path d="M1534.0 149.4L1643.0 149.4" stroke="#000" stroke-width="1.7" fill="none"/>
<text font-size="28" text-anchor="middle" stroke="#000" stroke-width="0.7" transform="translate(1535.0 464.3) scale(1 1.04)">Young</text>
<text font-size="28" text-anchor="middle" stroke="#000" stroke-width="0.7" transform="translate(1645.5 464.3) scale(1 1.04)">Old</text>
<text font-size="28.5" text-anchor="middle" fill="#1f8fe8" stroke="#1f8fe8" stroke-width="0.7" transform="translate(1585.0 502.5) scale(1 1.04)">qNSC/Astrocyte</text>
<path d="M1795.1 163.1c.1 4.3 0 20 .3 25.8c.4 5.7 1.1 5.7 1.7 8.5c.7 2.9 1.4 5.7 2.2 8.6c.8 2.9 1.8 5.7 2.8 8.6c1.1 2.8 2.4 5.7 3.6 8.5c1.2 2.9 2.2 5.8 3.6 8.6c1.4 2.9 3 5.7 4.7 8.6c1.7 2.8 3.5 5.7 5.3 8.6c1.8 2.8 3.9 5.7 5.7 8.5c1.8 2.9 3.5 5.7 5 8.6c1.5 2.9 3 5.7 4.3 8.6c1.2 2.8 2.3 5.7 3.1 8.5c.9 2.9 1.5 5.8 2 8.6c.6 2.9 1 6.3 1.2 8.6c.2 2.2.2 3.1.1 5c-.1 1.9-.2 3.9-.7 6.4c-.5 2.5-1.2 5.7-2.1 8.6c-1 2.8-2.4 5.7-3.6 8.6c-1.2 2.8-2.3 5.7-3.6 8.5c-1.3 2.9-2.6 5.7-4.3 8.6c-1.6 2.9-3.7 5.7-5.7 8.6c-2 2.8-4.3 5.7-6.4 8.5c-2.2 2.9-4.7 5.8-6.4 8.6c-1.8 2.9-3.1 5.7-4.3 8.6c-1.2 2.8-2.1 5.7-2.9 8.6c-.8 2.8-1.4 5.9-1.8 8.5c-.5 2.6-.8 5-1 7.2c-.3 2.1-.8 4-.8 5.7c0 1.7.5 2.8.8 4.3c.2 1.4.5 2.7.7 4.3c.1 1.5.2 4.1.3 5l-8.6 0c0-.9.1-3.5.3-5c.1-1.6.4-2.9.7-4.3c.2-1.5.7-2.6.7-4.3c0-1.7-.4-3.6-.7-5.7c-.3-2.2-.5-4.6-1-7.2c-.5-2.6-1.1-5.7-1.9-8.5c-.8-2.9-1.6-5.8-2.8-8.6c-1.2-2.9-2.5-5.7-4.3-8.6c-1.8-2.8-4.3-5.7-6.4-8.6c-2.2-2.8-4.4-5.7-6.5-8.5c-2-2.9-4-5.7-5.7-8.6c-1.7-2.9-3-5.7-4.3-8.6c-1.3-2.8-2.4-5.7-3.5-8.5c-1.2-2.9-2.7-5.8-3.6-8.6c-1-2.9-1.7-6.1-2.2-8.6c-.4-2.5-.6-4.5-.7-6.4c-.1-1.9 0-2.8.2-5c.2-2.3.6-5.7 1.1-8.6c.5-2.8 1.2-5.7 2-8.6c.9-2.8 1.9-5.7 3.2-8.5c1.2-2.9 2.7-5.7 4.2-8.6c1.6-2.9 3.3-5.7 5-8.6c1.8-2.8 3.9-5.7 5.8-8.5c1.8-2.9 3.6-5.8 5.2-8.6c1.7-2.9 3.4-5.7 4.8-8.6c1.3-2.8 2.3-5.7 3.5-8.6c1.2-2.8 2.5-5.7 3.6-8.5c1.1-2.9 2-5.7 2.9-8.6c.8-2.9 1.5-5.7 2.1-8.6c.6-2.8 1.4-2.8 1.7-8.5c.3-5.8.3-21.5.3-25.8z" fill="#ffa500" stroke="#000" stroke-opacity="0.72" stroke-width="0.9" stroke-linejoin="round"/>
<path d="M1748.4 305.5H1840.7" stroke="#000" stroke-opacity="0.7" stroke-width="1" fill="none"/>
<path d="M1904.3 168.1c.1 1.1.6 4.2.7 6.5c.1 2.2.2 4.7 0 7.1c-.2 2.4-.7 4.8-1 7.2c-.3 2.3-.7 4.7-.9 7.1c-.1 2.4 0 4.8.2 7.1c.2 2.4.6 4.8 1 7.2c.4 2.4.7 4.5 1.4 7.1c.7 2.6 1.7 5.7 2.9 8.6c1.2 2.9 2.6 5.7 4.3 8.6c1.6 2.8 3.6 5.7 5.7 8.5c2 2.9 4.3 5.8 6.4 8.6c2.1 2.9 4.2 5.7 6.1 8.6c1.9 2.8 3.9 5.7 5.3 8.6c1.5 2.8 2.7 5.7 3.6 8.5c.9 2.9 1.4 5.7 1.9 8.6c.4 2.9.7 5.7.7 8.6c-.1 2.8-.5 5.7-1.2 8.5c-.6 2.9-1.6 5.8-2.8 8.6c-1.2 2.9-2.8 5.7-4.3 8.6c-1.6 2.8-3.3 5.7-5 8.6c-1.7 2.8-3.5 5.7-5 8.5c-1.6 2.9-3.1 5.7-4.3 8.6c-1.2 2.9-2.2 5.7-3.1 8.6c-.9 2.8-1.5 5.7-2.3 8.5c-.8 2.9-1.6 5.8-2.5 8.6c-.8 2.9-1.7 5.7-2.8 8.6c-1.1 2.8-2.5 5.7-3.6 8.6c-1.1 2.8-1.9 5.7-2.8 8.5c-.9 2.9-1.9 5.7-2.6 8.6c-.7 2.9-1.2 5.6-1.4 8.6c-.3 2.9-.2 7.7-.2 9.3l-4 0c0-1.6.1-6.4-.1-9.3c-.3-3-.8-5.7-1.5-8.6c-.6-2.9-1.6-5.7-2.5-8.6c-.9-2.8-1.8-5.7-2.9-8.5c-1.1-2.9-2.5-5.8-3.6-8.6c-1-2.9-1.9-5.7-2.8-8.6c-.9-2.8-1.7-5.7-2.4-8.6c-.8-2.8-1.4-5.7-2.3-8.5c-.9-2.9-1.9-5.7-3.2-8.6c-1.2-2.9-2.7-5.7-4.3-8.6c-1.5-2.8-3.3-5.7-5-8.5c-1.6-2.9-3.4-5.8-5-8.6c-1.5-2.9-3.1-5.7-4.2-8.6c-1.2-2.8-2.2-5.7-2.9-8.6c-.7-2.8-1.1-5.7-1.1-8.5c-.1-2.9.2-5.7.7-8.6c.4-2.9.9-5.7 1.8-8.6c.9-2.8 2.1-5.7 3.6-8.5c1.5-2.9 3.4-5.8 5.3-8.6c1.9-2.9 4-5.7 6.1-8.6c2.1-2.8 4.4-5.7 6.5-8.6c2-2.8 4-5.7 5.7-8.5c1.6-2.9 3.1-5.7 4.3-8.6c1.1-2.9 2.1-6 2.8-8.6c.7-2.6 1-4.7 1.4-7.1c.4-2.4.9-4.8 1-7.2c.2-2.3.3-4.7.2-7.1c-.1-2.4-.6-4.8-.9-7.1c-.3-2.4-.8-4.8-1-7.2c-.1-2.4-.1-4.9 0-7.1c.1-2.3.6-5.4.7-6.5z" fill="#ee0000" stroke="#000" stroke-opacity="0.72" stroke-width="0.9" stroke-linejoin="round"/>
<path d="M1851.4 298.5H1942.0" stroke="#000" stroke-opacity="0.7" stroke-width="1" fill="none"/>
<path d="M1733.5 157.5H1957.5V436.5" stroke="#c2c2c2" stroke-width="1" fill="none"/>
<path d="M1733.5 157.5V436.5H1957.5" stroke="#6e6e6e" stroke-width="0.9" fill="none"/>
<path d="M1731.0 212.5L1733.5 212.5" stroke="#6e6e6e" stroke-width="0.9" fill="none"/>
<path d="M1731.0 283.5L1733.5 283.5" stroke="#6e6e6e" stroke-width="0.9" fill="none"/>
<path d="M1731.0 353.5L1733.5 353.5" stroke="#6e6e6e" stroke-width="0.9" fill="none"/>
<path d="M1731.0 423.5L1733.5 423.5" stroke="#6e6e6e" stroke-width="0.9" fill="none"/>
<text x="1729.0" y="218.9" font-size="17.8" text-anchor="end" stroke="#000" stroke-width="0.5">6</text>
<text x="1729.0" y="289.6" font-size="17.8" text-anchor="end" stroke="#000" stroke-width="0.5">4</text>
<text x="1729.0" y="359.6" font-size="17.8" text-anchor="end" stroke="#000" stroke-width="0.5">2</text>
<text x="1729.0" y="429.6" font-size="17.8" text-anchor="end" stroke="#000" stroke-width="0.5">0</text>
<path d="M1794.5 436.5L1794.5 439.0" stroke="#6e6e6e" stroke-width="0.9" fill="none"/>
<path d="M1896.5 436.5L1896.5 439.0" stroke="#6e6e6e" stroke-width="0.9" fill="none"/>
<text font-size="20.8" text-anchor="middle" stroke="#000" stroke-width="0.6" transform="translate(1846.0 138.9) scale(1 1.02)">NS</text>
<path d="M1793.0 146.4L1901.5 146.4" stroke="#000" stroke-width="1.7" fill="none"/>
<text font-size="28" text-anchor="middle" stroke="#000" stroke-width="0.7" transform="translate(1797.5 464.3) scale(1 1.04)">Young</text>
<text font-size="28" text-anchor="middle" stroke="#000" stroke-width="0.7" transform="translate(1895.0 464.3) scale(1 1.04)">Old</text>
<text font-size="28.5" text-anchor="middle" fill="#e31a1c" stroke="#e31a1c" stroke-width="0.7" transform="translate(1839.0 502.5) scale(1 1.04)">aNSC/NPC</text>
<text x="-0.7" y="578.1" font-size="43.5" stroke="#000" stroke-width="0.5" font-weight="bold">d</text>
<text font-size="28.4" text-anchor="middle" stroke="#000" stroke-width="0.8" transform="translate(359.0 612.2) scale(1 1.045)">In vivo single-cell RNA-seq - cell-cell</text>
<text font-size="28.4" text-anchor="middle" stroke="#000" stroke-width="0.8" transform="translate(358.5 645.7) scale(1 1.045)">adhesion mediated by cadherin</text>
<text font-size="28.3" text-anchor="middle" stroke="#000" stroke-width="0.8" transform="translate(80.0 844.0) rotate(-90) scale(1 1.04)">Sum of pathway expression</text>
<path d="M201.1 707.4c.1 6.5.2 29.8.5 38.6c.3 8.8.8 9.5 1.4 14.3c.6 4.7 1.4 9.5 2 14.3c.6 4.7 1.3 9.7 1.9 14.3c.5 4.5.8 9.2 1.4 12.8c.5 3.6.9 5.7 1.8 8.6c1 2.8 2.5 5.7 3.9 8.6c1.4 2.8 3 5.7 4.6 8.5c1.5 2.9 3.2 5.7 4.7 8.6c1.5 2.9 2.8 5.7 4.3 8.6c1.4 2.8 2.9 5.7 4.3 8.5c1.3 2.9 2.6 5.8 4 8.6c1.3 2.9 2.7 5.7 4.1 8.6c1.4 2.8 2.9 6.2 4 8.6c1.1 2.3 2.1 4 2.6 5.7c.4 1.6.4 2.8.3 4.3c-.2 1.4-.6 2.6-1.5 4.2c-.8 1.7-2.5 3.9-3.5 5.8c-1 1.9-2.1 3.8-2.5 5.7c-.4 1.9-.3 3.8 0 5.7c.4 1.9 1.1 3.8 2 5.7c.9 1.9 2.5 3.8 3.3 5.7c.9 1.9 1.6 4.1 1.9 5.7c.2 1.7.2 2.6-.5 4.3c-.6 1.7-1.7 3.8-3.5 5.7c-1.8 1.9-4.3 3.8-7.2 5.7c-2.8 1.9-7.2 4.1-10 5.8c-2.7 1.6-4.7 2.8-6.4 4.2c-1.7 1.5-2.9 3.1-3.6 4.3c-.7 1.2-.9 1.9-.7 2.9c.3.9 1 1.8 2.2 2.8c1.1 1.1 3.6 2.4 5 3.6c1.3 1.3 2.3 3.2 2.8 3.9l-47.7 0c.5-.7 1.5-2.6 2.9-3.9c1.3-1.2 3.8-2.5 5-3.6c1.1-1 1.9-1.9 2.1-2.8c.2-1 0-1.7-.7-2.9c-.7-1.2-1.9-2.8-3.6-4.3c-1.7-1.4-3.7-2.6-6.4-4.2c-2.8-1.7-7.2-3.9-10-5.8c-2.9-1.9-5.4-3.8-7.2-5.7c-1.7-1.9-2.9-4-3.5-5.7c-.7-1.7-.7-2.6-.5-4.3c.3-1.6 1-3.8 1.9-5.7c.9-1.9 2.4-3.8 3.3-5.7c.9-1.9 1.7-3.8 2-5.7c.3-1.9.4-3.8 0-5.7c-.4-1.9-1.4-3.8-2.4-5.7c-1-1.9-2.8-4.1-3.6-5.8c-.8-1.6-1.3-2.8-1.4-4.2c-.2-1.5-.2-2.7.2-4.3c.5-1.7 1.5-3.4 2.6-5.7c1.1-2.4 2.7-5.8 4-8.6c1.4-2.9 2.8-5.7 4.2-8.6c1.3-2.8 2.6-5.7 4-8.6c1.3-2.8 2.8-5.7 4.2-8.5c1.5-2.9 2.8-5.7 4.3-8.6c1.5-2.9 3.2-5.7 4.7-8.6c1.6-2.8 3.2-5.7 4.6-8.5c1.4-2.9 2.9-5.8 3.9-8.6c.9-2.9 1.3-5 1.8-8.6c.6-3.6.9-8.3 1.5-12.8c.5-4.6 1.2-9.6 1.8-14.3c.7-4.8 1.4-9.6 2-14.3c.6-4.8 1.1-5.5 1.4-14.3c.4-8.8.4-32.1.5-38.6z" fill="#87cefa" stroke="#000" stroke-opacity="0.72" stroke-width="0.9" stroke-linejoin="round"/>
<path d="M155.7 891.5H246.0" stroke="#000" stroke-opacity="0.7" stroke-width="1" fill="none"/>
<path d="M304.2 734.6c.2 4.3.3 19 .7 25.7c.3 6.7 1 9.5 1.7 14.3c.7 4.7 1.5 9.5 2.4 14.3c.9 4.7 1.8 9.5 2.9 14.2c1 4.8 2.1 9.6 3.2 14.3c1.2 4.8 2.3 9.6 3.5 14.3c1.2 4.8 2.5 10 3.7 14.3c1.1 4.3 1.9 7.9 3.1 11.4c1.3 3.6 2.9 6.9 4.3 10c1.4 3.1 3 6 4 8.6c1 2.6 1.7 5 2 7.1c.4 2.2.3 3.6.2 5.8c-.2 2.1-.9 5-1.2 7.1c-.3 2.1-.8 4-.7 5.7c.1 1.7.3 2.6 1.1 4.3c.9 1.7 2.3 3.8 3.9 5.7c1.6 1.9 4 3.8 5.7 5.7c1.7 1.9 3.3 4 4.3 5.7c1 1.8 1.6 3.5 1.7 5c.1 1.6 0 2.8-1 4.3c-1 1.6-2.6 3.2-5 5c-2.4 1.8-6.2 3.8-9.3 5.7c-3.1 1.9-7 4.1-9.3 5.8c-2.2 1.6-3.4 2.9-4.2 4.2c-.9 1.4-1.2 2.4-1 3.6c.1 1.2.7 2.3 1.7 3.6c1 1.3 3.1 3 4.3 4.3c1.1 1.3 2 2.5 2.5 3.5c.6 1 .5 2.1.6 2.5l-52 0c.1-.4 0-1.5.6-2.5c.5-1 1.4-2.2 2.5-3.5c1.2-1.3 3.3-3 4.3-4.3c1-1.3 1.6-2.4 1.7-3.6c.2-1.2-.1-2.2-1-3.6c-.8-1.3-2-2.6-4.2-4.2c-2.3-1.7-6.2-3.9-9.3-5.8c-3.1-1.9-6.9-3.9-9.3-5.7c-2.4-1.8-4-3.4-5-5c-1-1.5-1.1-2.7-1-4.3c.1-1.5.7-3.2 1.7-5c1-1.7 2.6-3.8 4.3-5.7c1.7-1.9 4.1-3.8 5.7-5.7c1.6-1.9 3-4 3.9-5.7c.8-1.7 1-2.6 1.1-4.3c.1-1.7-.4-3.6-.7-5.7c-.3-2.1-1-5-1.2-7.1c-.1-2.2-.2-3.6.2-5.8c.3-2.1 1-4.5 2-7.1c1-2.6 2.6-5.5 4-8.6c1.4-3.1 3-6.4 4.3-10c1.2-3.5 2-7.1 3.1-11.4c1.2-4.3 2.5-9.5 3.7-14.3c1.2-4.7 2.3-9.5 3.5-14.3c1.1-4.7 2.2-9.5 3.2-14.3c1.1-4.7 2-9.5 2.9-14.2c.9-4.8 1.7-9.6 2.4-14.3c.7-4.8 1.4-7.6 1.7-14.3c.4-6.7.5-21.4.7-25.7z" fill="#1e90ff" stroke="#000" stroke-opacity="0.72" stroke-width="0.9" stroke-linejoin="round"/>
<path d="M273.2 904.5H334.8" stroke="#000" stroke-opacity="0.7" stroke-width="1" fill="none"/>
<path d="M139.5 708.5V983.5H360.0" stroke="#6e6e6e" stroke-width="0.9" fill="none"/>
<path d="M137.0 716.5L139.5 716.5" stroke="#6e6e6e" stroke-width="0.9" fill="none"/>
<path d="M137.0 801.5L139.5 801.5" stroke="#6e6e6e" stroke-width="0.9" fill="none"/>
<path d="M137.0 886.5L139.5 886.5" stroke="#6e6e6e" stroke-width="0.9" fill="none"/>
<path d="M137.0 970.5L139.5 970.5" stroke="#6e6e6e" stroke-width="0.9" fill="none"/>
<text x="131.0" y="722.5" font-size="17.8" text-anchor="end" stroke="#000" stroke-width="0.5">12</text>
<text x="131.0" y="807.9" font-size="17.8" text-anchor="end" stroke="#000" stroke-width="0.5">8</text>
<text x="131.0" y="892.5" font-size="17.8" text-anchor="end" stroke="#000" stroke-width="0.5">4</text>
<text x="131.0" y="976.8" font-size="17.8" text-anchor="end" stroke="#000" stroke-width="0.5">0</text>
<path d="M200.5 983.5L200.5 986.0" stroke="#6e6e6e" stroke-width="0.9" fill="none"/>
<path d="M303.5 983.5L303.5 986.0" stroke="#6e6e6e" stroke-width="0.9" fill="none"/>
<text font-size="20.8" text-anchor="middle" stroke="#000" stroke-width="0.6" transform="translate(253.5 690.4) scale(1 1.02)"><tspan font-style="italic">P</tspan> = 4.8e-5</text>
<path d="M199.5 696.4L308.0 696.4" stroke="#000" stroke-width="1.7" fill="none"/>
<text font-size="28" text-anchor="middle" stroke="#000" stroke-width="0.7" transform="translate(199.0 1011.8) scale(1 1.04)">Young</text>
<text font-size="28" text-anchor="middle" stroke="#000" stroke-width="0.7" transform="translate(310.5 1011.8) scale(1 1.04)">Old</text>
<text font-size="28.5" text-anchor="middle" fill="#1f8fe8" stroke="#1f8fe8" stroke-width="0.7" transform="translate(249.0 1050.0) scale(1 1.04)">qNSC/Astrocyte</text>
<path d="M462.4 709.7c.1 3.2.2 13.5.3 19c.1 5.6.1 9.5.4 14.3c.4 4.8 1 10.2 1.5 14.3c.4 4 .7 6.4 1.4 10c.7 3.6 1.5 7.6 2.6 11.4c1 3.8 2.4 7.6 3.8 11.4c1.5 3.9 3.1 7.7 5 11.5c1.9 3.8 4.4 7.6 6.5 11.4c2 3.8 4 7.6 5.7 11.4c1.6 3.8 3.1 8.1 4.3 11.5c1.1 3.3 1.9 5.7 2.8 8.5c1 2.9 1.8 5.7 2.9 8.6c1 2.9 2.2 5.7 3.3 8.6c1 2.8 2.1 5.7 2.8 8.5c.7 2.9 1.2 5.8 1.4 8.6c.3 2.9.4 5.7.3 8.6c0 2.8-.2 5.7-.7 8.6c-.5 2.8-1.2 5.7-2.1 8.5c-1 2.9-2.2 5.7-3.6 8.6c-1.4 2.9-3.1 5.7-5 8.6c-1.9 2.8-4.3 5.7-6.4 8.5c-2.2 2.9-4.4 5.8-6.5 8.6c-2 2.9-4.2 6.2-5.7 8.6c-1.4 2.4-2.3 3.8-3.1 5.7c-.8 1.9-1.3 3.8-1.6 5.7c-.3 1.9-.2 3.8-.3 5.7c0 2 0 5 0 6l-22.8 0c0-1 0-4 0-6c-.1-1.9 0-3.8-.3-5.7c-.3-1.9-.8-3.8-1.6-5.7c-.8-1.9-1.7-3.3-3.1-5.7c-1.5-2.4-3.7-5.7-5.7-8.6c-2.1-2.8-4.3-5.7-6.5-8.6c-2.1-2.8-4.5-5.7-6.4-8.5c-1.9-2.9-3.6-5.7-5-8.6c-1.4-2.9-2.6-5.7-3.6-8.6c-.9-2.8-1.6-5.7-2.1-8.5c-.5-2.9-.7-5.8-.7-8.6c-.1-2.9 0-5.7.3-8.6c.2-2.8.7-5.7 1.4-8.6c.7-2.8 1.8-5.7 2.8-8.5c1.1-2.9 2.3-5.7 3.3-8.6c1.1-2.9 1.9-5.7 2.9-8.6c.9-2.8 1.7-5.2 2.8-8.5c1.2-3.4 2.7-7.7 4.3-11.5c1.7-3.8 3.7-7.6 5.7-11.4c2.1-3.8 4.6-7.6 6.5-11.4c1.9-3.8 3.5-7.6 5-11.5c1.4-3.8 2.8-7.6 3.8-11.4c1.1-3.8 1.9-7.8 2.6-11.4c.7-3.6 1-6 1.4-10c.5-4.1 1.1-9.5 1.5-14.3c.3-4.8.3-8.7.4-14.3c.1-5.5.2-15.8.3-19z" fill="#ffa500" stroke="#000" stroke-opacity="0.72" stroke-width="0.9" stroke-linejoin="round"/>
<path d="M415.1 877.5H506.9" stroke="#000" stroke-opacity="0.7" stroke-width="1" fill="none"/>
<path d="M569.1 751.6c.4.9 1 3.1 1.9 5.7c.9 2.6 2.3 6.4 3.6 10c1.3 3.6 2.9 7.6 4.3 11.4c1.3 3.8 2.6 7.6 3.5 11.4c1 3.9 1.6 7.7 2.2 11.5c.6 3.8.8 8.1 1.4 11.4c.6 3.3 1.2 5.7 2.1 8.6c1 2.8 2.2 5.7 3.6 8.5c1.4 2.9 3.3 5.8 5 8.6c1.7 2.9 3.5 5.7 5 8.6c1.6 2.8 3.1 5.7 4.3 8.6c1.2 2.8 2.1 5.7 2.9 8.5c.7 2.9 1.1 6 1.4 8.6c.3 2.6.5 4.5.4 7.1c0 2.7-.4 5.8-.7 8.6c-.3 2.9-.7 5.7-1.1 8.6c-.5 2.8-.8 5.7-1.5 8.6c-.7 2.8-1.6 5.7-2.8 8.5c-1.2 2.9-2.8 5.7-4.3 8.6c-1.6 2.9-3.3 5.7-5 8.6c-1.7 2.8-3.5 5.7-5 8.5c-1.6 2.9-3 5.8-4.3 8.6c-1.3 2.9-2.6 6-3.6 8.6c-.9 2.6-1.6 4.9-2.1 7.1c-.5 2.2-.6 5-.7 6l-31.5 0c-.1-1-.2-3.8-.7-6c-.4-2.2-1.2-4.5-2.1-7.1c-1-2.6-2.3-5.7-3.6-8.6c-1.3-2.8-2.7-5.7-4.3-8.6c-1.5-2.8-3.3-5.7-5-8.5c-1.6-2.9-3.4-5.7-5-8.6c-1.5-2.9-3.1-5.7-4.3-8.6c-1.1-2.8-2.1-5.7-2.8-8.5c-.7-2.9-1-5.8-1.4-8.6c-.5-2.9-.9-5.7-1.2-8.6c-.3-2.8-.7-5.9-.7-8.6c0-2.6.1-4.5.4-7.1c.3-2.6.7-5.7 1.5-8.6c.7-2.8 1.6-5.7 2.8-8.5c1.2-2.9 2.8-5.8 4.3-8.6c1.5-2.9 3.3-5.7 5-8.6c1.7-2.8 3.6-5.7 5-8.6c1.4-2.8 2.6-5.7 3.6-8.5c.9-2.9 1.5-5.3 2.1-8.6c.6-3.3.8-7.6 1.4-11.4c.6-3.8 1.2-7.6 2.2-11.5c.9-3.8 2.2-7.6 3.6-11.4c1.3-3.8 2.9-7.8 4.2-11.4c1.4-3.6 2.7-7.4 3.6-10c.9-2.6 1.6-4.8 1.9-5.7z" fill="#ee0000" stroke="#000" stroke-opacity="0.72" stroke-width="0.9" stroke-linejoin="round"/>
<path d="M517.1 879.5H610.7" stroke="#000" stroke-opacity="0.7" stroke-width="1" fill="none"/>
<path d="M399.5 705.0V983.5H622.5" stroke="#6e6e6e" stroke-width="0.9" fill="none"/>
<path d="M397.0 755.5L399.5 755.5" stroke="#6e6e6e" stroke-width="0.9" fill="none"/>
<path d="M397.0 827.5L399.5 827.5" stroke="#6e6e6e" stroke-width="0.9" fill="none"/>
<path d="M397.0 898.5L399.5 898.5" stroke="#6e6e6e" stroke-width="0.9" fill="none"/>
<path d="M397.0 970.5L399.5 970.5" stroke="#6e6e6e" stroke-width="0.9" fill="none"/>
<text x="395.0" y="761.6" font-size="17.8" text-anchor="end" stroke="#000" stroke-width="0.5">6</text>
<text x="395.0" y="833.8" font-size="17.8" text-anchor="end" stroke="#000" stroke-width="0.5">4</text>
<text x="395.0" y="905.2" font-size="17.8" text-anchor="end" stroke="#000" stroke-width="0.5">2</text>
<text x="395.0" y="976.6" font-size="17.8" text-anchor="end" stroke="#000" stroke-width="0.5">0</text>
<path d="M460.5 983.5L460.5 986.0" stroke="#6e6e6e" stroke-width="0.9" fill="none"/>
<path d="M563.5 983.5L563.5 986.0" stroke="#6e6e6e" stroke-width="0.9" fill="none"/>
<text font-size="20.8" text-anchor="middle" stroke="#000" stroke-width="0.6" transform="translate(511.5 687.9) scale(1 1.02)">NS</text>
<path d="M458.0 693.4L566.5 693.4" stroke="#000" stroke-width="1.7" fill="none"/>
<text font-size="28" text-anchor="middle" stroke="#000" stroke-width="0.7" transform="translate(462.5 1011.8) scale(1 1.04)">Young</text>
<text font-size="28" text-anchor="middle" stroke="#000" stroke-width="0.7" transform="translate(560.0 1011.8) scale(1 1.04)">Old</text>
<text font-size="28.5" text-anchor="middle" fill="#e31a1c" stroke="#e31a1c" stroke-width="0.7" transform="translate(504.0 1050.0) scale(1 1.04)">aNSC/NPC</text>
<text x="653.0" y="578.8" font-size="43.5" stroke="#000" stroke-width="0.5" font-weight="bold">e</text>
<text font-size="28.4" text-anchor="middle" stroke="#000" stroke-width="0.8" transform="translate(995.0 612.2) scale(1 1.045)">In vivo single-cell RNA-seq - cell-cell</text>
<text font-size="28.4" text-anchor="middle" stroke="#000" stroke-width="0.8" transform="translate(994.5 645.7) scale(1 1.045)">adhesion (plasma membrane)</text>
<text font-size="28.3" text-anchor="middle" stroke="#000" stroke-width="0.8" transform="translate(712.5 844.0) rotate(-90) scale(1 1.04)">Sum of pathway expression</text>
<path d="M833.7 734c.1 1.8.3 7 .7 10.7c.5 3.7 1.3 7.9 2.2 11.4c.8 3.6 1.6 6.7 2.8 10c1.2 3.4 2.9 6.9 4.3 10c1.4 3.1 3 5.8 4.3 8.6c1.3 2.9 2.3 5.7 3.6 8.6c1.3 2.8 2.6 5.7 4.3 8.6c1.6 2.8 4.1 5.9 5.7 8.5c1.5 2.6 2.6 4.8 3.5 7.2c1 2.4 1.1 4.5 2.2 7.1c1.1 2.6 2.7 5.7 4.3 8.6c1.5 2.8 3.8 6.2 5 8.6c1.2 2.3 1.6 4 2.1 5.7c.5 1.6.7 2.6.7 4.3c0 1.6-.1 3.5-.7 5.7c-.6 2.1-1.5 4.5-2.8 7.1c-1.4 2.6-3.4 5.7-5 8.6c-1.7 2.8-3.3 5.7-5 8.6c-1.8 2.8-3.7 5.7-5.8 8.5c-2 2.9-4.2 5.7-6.4 8.6c-2.1 2.9-4.5 5.7-6.4 8.6c-1.9 2.8-3.6 5.7-5 8.5c-1.4 2.9-2.6 5.8-3.6 8.6c-1 2.9-1.8 5.7-2.4 8.6c-.7 2.8-1 5.2-1.4 8.6c-.4 3.3-.8 7.8-1 11.4c-.2 3.6-.2 6.7-.2 10c-.1 3.3 0 8.3 0 10l-.5 0c0-1.7 0-6.7 0-10c-.1-3.3 0-6.4-.2-10c-.2-3.6-.6-8.1-1-11.4c-.4-3.4-.8-5.8-1.4-8.6c-.7-2.9-1.5-5.7-2.5-8.6c-1-2.8-2.1-5.7-3.5-8.6c-1.5-2.8-3.1-5.7-5-8.5c-1.9-2.9-4.3-5.7-6.5-8.6c-2.1-2.9-4.4-5.7-6.4-8.6c-2-2.8-3.9-5.7-5.7-8.5c-1.8-2.9-3.3-5.8-5-8.6c-1.7-2.9-3.7-6-5-8.6c-1.3-2.6-2.3-5-2.9-7.1c-.6-2.2-.7-4.1-.7-5.7c0-1.7.3-2.7.7-4.3c.5-1.7 1-3.4 2.2-5.7c1.2-2.4 3.4-5.8 5-8.6c1.5-2.9 3.2-6 4.3-8.6c1-2.6 1.2-4.7 2.1-7.1c1-2.4 2-4.6 3.6-7.2c1.5-2.6 4-5.7 5.7-8.5c1.7-2.9 3-5.8 4.3-8.6c1.3-2.9 2.2-5.7 3.6-8.6c1.3-2.8 2.8-5.5 4.2-8.6c1.5-3.1 3.1-6.6 4.3-10c1.2-3.3 2.1-6.4 2.9-10c.8-3.5 1.7-7.7 2.1-11.4c.5-3.7.6-8.9.7-10.7z" fill="#87cefa" stroke="#000" stroke-opacity="0.72" stroke-width="0.9" stroke-linejoin="round"/>
<path d="M787.8 849.5H879.0" stroke="#000" stroke-opacity="0.7" stroke-width="1" fill="none"/>
<path d="M935.7 710.4c0 7.6 0 35.7.2 45.7c.1 10 .3 10.5.7 14.3c.3 3.8.7 5.7 1.4 8.6c.7 2.9 1.7 5.7 2.9 8.6c1.1 2.8 2.8 5.7 4.2 8.5c1.5 2.9 2.9 5.8 4.3 8.6c1.5 2.9 3.1 5.7 4.6 8.6c1.5 2.8 3.1 5.7 4.7 8.6c1.6 2.8 3.2 5.7 5 8.5c1.8 2.9 3.8 5.7 5.7 8.6c1.9 2.9 4.2 6 5.7 8.6c1.6 2.6 2.7 5 3.6 7.1c.9 2.2 1.4 3.8 1.9 5.7c.4 1.9.9 3.6 1 5.7c.1 2.2 0 4.8-.5 7.2c-.4 2.4-1.3 4.7-2.4 7.1c-1.1 2.4-2.5 4.8-4.3 7.2c-1.8 2.4-4.3 4.7-6.4 7.1c-2.1 2.4-4.2 4.5-6.4 7.2c-2.3 2.6-5 5.7-7.2 8.5c-2.1 2.9-4 5.7-5.7 8.6c-1.7 2.9-3 5.7-4.3 8.6c-1.3 2.8-2.6 5.7-3.5 8.5c-1 2.9-1.6 5.9-2.2 8.6c-.5 2.8-.9 6.6-1.1 7.9l-4.3 0c-.2-1.3-.6-5.1-1.2-7.9c-.5-2.7-1.1-5.7-2.1-8.6c-1-2.8-2.3-5.7-3.6-8.5c-1.3-2.9-2.6-5.7-4.3-8.6c-1.6-2.9-3.5-5.7-5.7-8.6c-2.1-2.8-4.9-5.9-7.1-8.5c-2.3-2.7-4.3-4.8-6.4-7.2c-2.2-2.4-4.7-4.7-6.5-7.1c-1.8-2.4-3.1-4.8-4.3-7.2c-1.1-2.4-1.9-4.7-2.4-7.1c-.5-2.4-.5-5-.4-7.2c.1-2.1.5-3.8 1-5.7c.5-1.9.9-3.5 1.8-5.7c.9-2.1 2.1-4.5 3.6-7.1c1.6-2.6 3.8-5.7 5.7-8.6c1.9-2.9 4-5.7 5.7-8.6c1.8-2.8 3.4-5.7 5-8.5c1.7-2.9 3.2-5.8 4.8-8.6c1.5-2.9 3.1-5.7 4.5-8.6c1.5-2.8 2.9-5.7 4.3-8.6c1.4-2.8 3.1-5.7 4.3-8.5c1.2-2.9 2.1-5.7 2.9-8.6c.7-2.9 1-4.8 1.4-8.6c.3-3.8.6-4.3.7-14.3c.1-10 .1-38.1.2-45.7z" fill="#1e90ff" stroke="#000" stroke-opacity="0.72" stroke-width="0.9" stroke-linejoin="round"/>
<path d="M889.5 864.5H981.3" stroke="#000" stroke-opacity="0.7" stroke-width="1" fill="none"/>
<path d="M772.5 711.0V985.5H992.5" stroke="#6e6e6e" stroke-width="0.9" fill="none"/>
<path d="M770.0 774.5L772.5 774.5" stroke="#6e6e6e" stroke-width="0.9" fill="none"/>
<path d="M770.0 874.5L772.5 874.5" stroke="#6e6e6e" stroke-width="0.9" fill="none"/>
<path d="M770.0 973.5L772.5 973.5" stroke="#6e6e6e" stroke-width="0.9" fill="none"/>
<text x="765.0" y="780.9" font-size="17.8" text-anchor="end" stroke="#000" stroke-width="0.5">40</text>
<text x="765.0" y="880.5" font-size="17.8" text-anchor="end" stroke="#000" stroke-width="0.5">20</text>
<text x="765.0" y="979.8" font-size="17.8" text-anchor="end" stroke="#000" stroke-width="0.5">0</text>
<path d="M833.5 985.5L833.5 988.0" stroke="#6e6e6e" stroke-width="0.9" fill="none"/>
<path d="M935.5 985.5L935.5 988.0" stroke="#6e6e6e" stroke-width="0.9" fill="none"/>
<text font-size="20.8" text-anchor="middle" stroke="#000" stroke-width="0.6" transform="translate(886.5 692.9) scale(1 1.02)"><tspan font-style="italic">P</tspan> = 6.3e-14</text>
<path d="M832.5 699.9L941.5 699.9" stroke="#000" stroke-width="1.7" fill="none"/>
<text font-size="28" text-anchor="middle" stroke="#000" stroke-width="0.7" transform="translate(832.5 1014.3) scale(1 1.04)">Young</text>
<text font-size="28" text-anchor="middle" stroke="#000" stroke-width="0.7" transform="translate(943.5 1014.3) scale(1 1.04)">Old</text>
<text font-size="28.5" text-anchor="middle" fill="#1f8fe8" stroke="#1f8fe8" stroke-width="0.7" transform="translate(882.5 1052.5) scale(1 1.04)">qNSC/Astrocyte</text>
<path d="M1095.3 712.4c0 4.4 0 19.7.3 26.5c.3 6.7 1 9.5 1.5 14.2c.6 4.8 1.3 9.6 1.8 14.3c.4 4.8.8 10 1.1 14.3c.3 4.3.4 8.3.7 11.4c.4 3.1.5 4.8 1.4 7.2c1 2.4 2.4 4.5 4.3 7.1c1.9 2.6 4.9 5.7 7.2 8.6c2.2 2.9 4.4 5.7 6.4 8.6c2 2.8 3.9 5.7 5.7 8.5c1.8 2.9 3.3 5.8 5 8.6c1.7 2.9 3.6 6 5 8.6c1.4 2.6 2.7 5 3.6 7.1c.9 2.2 1.6 3.8 1.7 5.7c.1 1.9-.1 3.6-1 5.8c-.9 2.1-2.5 4.5-4.3 7.1c-1.8 2.6-4.2 5.7-6.4 8.6c-2.3 2.8-4.7 5.7-7.2 8.5c-2.5 2.9-5.3 5.8-7.8 8.6c-2.5 2.9-5.2 5.7-7.2 8.6c-1.9 2.8-3.3 5.7-4.5 8.6c-1.2 2.8-1.8 5.7-2.6 8.5c-.8 2.9-1.5 5.7-2.1 8.6c-.7 2.9-1.4 5.7-1.8 8.6c-.4 2.8-.5 3.8-.7 8.5c-.1 4.8-.1 16.7-.2 20l-.4 0c-.1-3.3-.1-15.2-.2-20c-.2-4.7-.3-5.7-.7-8.5c-.4-2.9-1.1-5.7-1.8-8.6c-.6-2.9-1.3-5.7-2.1-8.6c-.8-2.8-1.4-5.7-2.6-8.5c-1.2-2.9-2.6-5.8-4.5-8.6c-2-2.9-4.7-5.7-7.2-8.6c-2.5-2.8-5.3-5.7-7.8-8.6c-2.5-2.8-4.9-5.7-7.2-8.5c-2.2-2.9-4.6-6-6.4-8.6c-1.8-2.6-3.4-5-4.3-7.1c-.9-2.2-1.1-3.9-1-5.8c.1-1.9.8-3.5 1.7-5.7c.9-2.1 2.2-4.5 3.6-7.1c1.4-2.6 3.3-5.7 5-8.6c1.7-2.8 3.2-5.7 5-8.6c1.8-2.8 3.7-5.7 5.7-8.5c2-2.9 4.2-5.7 6.4-8.6c2.3-2.9 5.3-6 7.2-8.6c1.9-2.6 3.3-4.7 4.3-7.1c.9-2.4 1-4.1 1.4-7.2c.3-3.1.4-7.1.7-11.4c.3-4.3.7-9.5 1.1-14.3c.5-4.7 1.2-9.5 1.8-14.3c.5-4.7 1.2-7.5 1.5-14.2c.3-6.8.3-22.1.3-26.5z" fill="#ffa500" stroke="#000" stroke-opacity="0.72" stroke-width="0.9" stroke-linejoin="round"/>
<path d="M1050.2 859.5H1139.8" stroke="#000" stroke-opacity="0.7" stroke-width="1" fill="none"/>
<path d="M1198.4 722.4c.1 2.8 0 11.8.2 16.5c.2 4.6.5 7.8 1.1 11.4c.6 3.6 1.4 6.7 2.4 10c1 3.3 2.4 6.9 3.6 10c1.2 3.1 2.3 5.7 3.6 8.6c1.3 2.8 2.8 5.7 4.3 8.5c1.4 2.9 2.8 5.7 4.3 8.6c1.4 2.9 2.9 5.7 4.2 8.6c1.4 2.8 2.6 5.7 3.6 8.5c1 2.9 1.8 5.8 2.6 8.6c.8 2.9 1.4 5.7 2.4 8.6c1 2.8 2.3 5.7 3.6 8.6c1.3 2.8 3.1 5.9 4.3 8.5c1.2 2.6 2.2 4.8 2.8 7.2c.7 2.4 1.1 5 1.2 7.1c.1 2.2.1 3.6-.5 5.7c-.5 2.2-1.5 4.8-2.8 7.2c-1.3 2.4-2.9 4.5-5 7.1c-2.2 2.6-5.3 5.7-7.9 8.6c-2.6 2.8-5.3 5.7-7.8 8.6c-2.5 2.8-5.1 5.7-7.2 8.5c-2 2.9-3.5 5.7-5 8.6c-1.4 2.9-2.7 6-3.5 8.6c-.9 2.6-1.4 5.2-1.8 7.1c-.3 2-.3 3.8-.4 4.6l-8 0c-.1-.8-.1-2.6-.4-4.6c-.4-1.9-.8-4.5-1.7-7.1c-.9-2.6-2.2-5.7-3.6-8.6c-1.4-2.9-3-5.7-5-8.6c-2-2.8-4.6-5.7-7.1-8.5c-2.5-2.9-5.3-5.8-7.9-8.6c-2.6-2.9-5.7-6-7.9-8.6c-2.1-2.6-3.6-4.7-5-7.1c-1.3-2.4-2.3-5-2.8-7.2c-.6-2.1-.6-3.5-.4-5.7c.1-2.1.4-4.7 1.1-7.1c.7-2.4 1.7-4.6 2.9-7.2c1.1-2.6 2.9-5.7 4.2-8.5c1.4-2.9 2.6-5.8 3.6-8.6c1-2.9 1.6-5.7 2.4-8.6c.9-2.8 1.6-5.7 2.6-8.6c1-2.8 2.3-5.7 3.6-8.5c1.3-2.9 2.8-5.7 4.3-8.6c1.4-2.9 2.8-5.7 4.3-8.6c1.4-2.8 2.9-5.7 4.2-8.5c1.4-2.9 2.4-5.5 3.6-8.6c1.2-3.1 2.6-6.7 3.6-10c1-3.3 1.8-6.4 2.4-10c.6-3.6.9-6.8 1.2-11.4c.2-4.7.1-13.7.1-16.5z" fill="#ee0000" stroke="#000" stroke-opacity="0.72" stroke-width="0.9" stroke-linejoin="round"/>
<path d="M1153.1 851.5H1240.3" stroke="#000" stroke-opacity="0.7" stroke-width="1" fill="none"/>
<path d="M1033.5 708.5V985.5H1255.0" stroke="#6e6e6e" stroke-width="0.9" fill="none"/>
<path d="M1031.0 737.5L1033.5 737.5" stroke="#6e6e6e" stroke-width="0.9" fill="none"/>
<path d="M1031.0 816.5L1033.5 816.5" stroke="#6e6e6e" stroke-width="0.9" fill="none"/>
<path d="M1031.0 895.5L1033.5 895.5" stroke="#6e6e6e" stroke-width="0.9" fill="none"/>
<path d="M1031.0 973.5L1033.5 973.5" stroke="#6e6e6e" stroke-width="0.9" fill="none"/>
<text x="1029.0" y="744.2" font-size="17.8" text-anchor="end" stroke="#000" stroke-width="0.5">30</text>
<text x="1029.0" y="822.9" font-size="17.8" text-anchor="end" stroke="#000" stroke-width="0.5">20</text>
<text x="1029.0" y="901.5" font-size="17.8" text-anchor="end" stroke="#000" stroke-width="0.5">10</text>
<text x="1029.0" y="979.6" font-size="17.8" text-anchor="end" stroke="#000" stroke-width="0.5">0</text>
<path d="M1094.5 985.5L1094.5 988.0" stroke="#6e6e6e" stroke-width="0.9" fill="none"/>
<path d="M1196.5 985.5L1196.5 988.0" stroke="#6e6e6e" stroke-width="0.9" fill="none"/>
<text font-size="20.8" text-anchor="middle" stroke="#000" stroke-width="0.6" transform="translate(1145.0 690.4) scale(1 1.02)">NS</text>
<path d="M1091.5 696.4L1200.0 696.4" stroke="#000" stroke-width="1.7" fill="none"/>
<text font-size="28" text-anchor="middle" stroke="#000" stroke-width="0.7" transform="translate(1096.0 1014.3) scale(1 1.04)">Young</text>
<text font-size="28" text-anchor="middle" stroke="#000" stroke-width="0.7" transform="translate(1193.5 1014.3) scale(1 1.04)">Old</text>
<text font-size="28.5" text-anchor="middle" fill="#e31a1c" stroke="#e31a1c" stroke-width="0.7" transform="translate(1137.5 1052.5) scale(1 1.04)">aNSC/NPC</text>
<text x="1290.2" y="578.1" font-size="43.5" stroke="#000" stroke-width="0.5" font-weight="bold">f</text>
<text font-size="28.4" text-anchor="middle" stroke="#000" stroke-width="0.8" transform="translate(1743.0 612.2) scale(1 1.045)">In vivo single-cell RNA-seq - cell adhesion</text>
<text font-size="28.4" text-anchor="middle" stroke="#000" stroke-width="0.8" transform="translate(1746.0 645.7) scale(1 1.045)">(subsetted to cadherins)</text>
<text font-size="28.3" text-anchor="middle" stroke="#000" stroke-width="0.8" transform="translate(1349.0 844.0) rotate(-90) scale(1 1.04)">Sum of pathway expression</text>
<path d="M1466 709.3c0 8 0 37.5.3 47.8c.2 10.4.7 9.6 1.1 14.3c.5 4.8 1 9.6 1.5 14.3c.4 4.8.8 10 1.4 14.3c.5 4.3 1.1 8.1 1.8 11.4c.8 3.4 1.7 5.7 2.9 8.6c1.2 2.9 2.9 5.7 4.3 8.6c1.4 2.8 3 5.7 4.3 8.5c1.3 2.9 2.4 5.8 3.5 8.6c1.2 2.9 2.6 5.7 3.6 8.6c1 2.8 1.5 5.7 2.4 8.6c1 2.8 2.2 5.7 3.3 8.5c1.2 2.9 2.3 5.7 3.6 8.6c1.3 2.9 2.7 5.7 4 8.6c1.3 2.8 2.7 5.9 3.9 8.5c1.1 2.7 2.1 5 2.8 7.2c.7 2.1 1.4 3.8 1.4 5.7c.1 1.9-.2 3.8-1 5.7c-.7 1.9-2 3.8-3.2 5.7c-1.3 1.9-3.3 4.1-4.3 5.7c-1.1 1.7-1.7 2.7-2.2 4.3c-.4 1.7-.7 3.8-.7 5.7c0 1.9.8 3.9.7 5.8c-.1 1.9-.3 3.8-1.4 5.7c-1.1 1.9-3.1 3.8-5 5.7c-1.9 1.9-4.6 4-6.4 5.7c-1.8 1.7-3.2 2.9-4.3 4.3c-1.1 1.4-1.7 2.5-2.2 4.3c-.4 1.8-.6 5.3-.7 6.4l-31.4 0c-.1-1.1-.2-4.6-.7-6.4c-.5-1.8-1.1-2.9-2.2-4.3c-1-1.4-2.5-2.6-4.2-4.3c-1.8-1.7-4.6-3.8-6.5-5.7c-1.9-1.9-3.9-3.8-5-5.7c-1-1.9-1.3-3.8-1.4-5.7c-.1-1.9.7-3.9.7-5.8c0-1.9-.2-4-.7-5.7c-.5-1.6-1.1-2.6-2.1-4.3c-1.1-1.6-3.1-3.8-4.3-5.7c-1.3-1.9-2.6-3.8-3.3-5.7c-.7-1.9-1.1-3.8-1-5.7c.1-1.9.7-3.6 1.4-5.7c.7-2.2 1.8-4.5 2.9-7.2c1.1-2.6 2.5-5.7 3.8-8.5c1.3-2.9 2.8-5.7 4-8.6c1.3-2.9 2.5-5.7 3.6-8.6c1.1-2.8 2.3-5.7 3.3-8.5c.9-2.9 1.4-5.8 2.4-8.6c1-2.9 2.4-5.7 3.6-8.6c1.2-2.8 2.2-5.7 3.6-8.6c1.3-2.8 2.8-5.7 4.2-8.5c1.5-2.9 3.1-5.7 4.3-8.6c1.2-2.9 2.1-5.2 2.9-8.6c.8-3.3 1.3-7.1 1.8-11.4c.6-4.3 1-9.5 1.5-14.3c.4-4.7 1-9.5 1.4-14.3c.4-4.7.9-3.9 1.1-14.3c.3-10.3.3-39.8.4-47.8z" fill="#87cefa" stroke="#000" stroke-opacity="0.72" stroke-width="0.9" stroke-linejoin="round"/>
<path d="M1420.6 904.5H1510.8" stroke="#000" stroke-opacity="0.7" stroke-width="1" fill="none"/>
<path d="M1568.9 748.6c.1 2.6.4 10.7.8 15.7c.4 5 1 9.5 1.7 14.3c.8 4.7 2.1 9.5 2.9 14.3c.8 4.7 1.5 9.5 2.1 14.2c.7 4.8 1.2 10.3 1.9 14.3c.7 4.1 1.4 6.9 2.4 10c1 3.1 2.4 5.7 3.6 8.6c1.2 2.9 2.4 5.7 3.6 8.6c1.1 2.8 2.2 5.7 3.5 8.5c1.3 2.9 3 5.8 4.3 8.6c1.3 2.9 2.6 5.7 3.6 8.6c1 2.8 1.7 5.7 2.4 8.6c.7 2.8 1 5.7 1.9 8.5c.9 2.9 2.2 6 3.5 8.6c1.4 2.6 3.3 5 4.3 7.1c1.1 2.2 1.6 3.9 2.2 5.8c.5 1.9.9 3.5 1 5.7c0 2.1-.3 4.7-.6 7.1c-.3 2.4-.7 4.8-1.1 7.2c-.5 2.3-.9 5-1.8 7.1c-.8 2.1-1.9 3.8-3.2 5.7c-1.4 1.9-3.3 3.8-5 5.7c-1.8 1.9-4 3.8-5.8 5.7c-1.7 1.9-3.2 3.9-4.5 5.8c-1.3 1.9-2.5 3.6-3.3 5.7c-.8 2-1.2 5.3-1.4 6.4l-38.6 0c-.3-1.1-.7-4.4-1.4-6.4c-.8-2.1-2-3.8-3.3-5.7c-1.3-1.9-2.9-3.9-4.6-5.8c-1.7-1.9-3.9-3.8-5.7-5.7c-1.8-1.9-3.6-3.8-5-5.7c-1.4-1.9-2.5-3.6-3.3-5.7c-.8-2.1-1.2-4.8-1.7-7.1c-.5-2.4-.9-4.8-1.2-7.2c-.2-2.4-.6-5-.5-7.1c0-2.2.4-3.8 1-5.7c.5-1.9 1-3.6 2.1-5.8c1.1-2.1 3-4.5 4.3-7.1c1.3-2.6 2.7-5.7 3.6-8.6c.9-2.8 1.1-5.7 1.8-8.5c.7-2.9 1.5-5.8 2.5-8.6c1-2.9 2.2-5.7 3.5-8.6c1.3-2.8 3-5.7 4.3-8.6c1.3-2.8 2.4-5.7 3.6-8.5c1.2-2.9 2.4-5.7 3.6-8.6c1.1-2.9 2.5-5.5 3.5-8.6c1-3.1 1.7-5.9 2.5-10c.7-4 1.1-9.5 1.8-14.3c.7-4.7 1.3-9.5 2.2-14.2c.8-4.8 2.1-9.6 2.8-14.3c.8-4.8 1.3-9.3 1.7-14.3c.5-5 .7-13.1.9-15.7z" fill="#1e90ff" stroke="#000" stroke-opacity="0.72" stroke-width="0.9" stroke-linejoin="round"/>
<path d="M1525.1 908.5H1612.1" stroke="#000" stroke-opacity="0.7" stroke-width="1" fill="none"/>
<path d="M1404.5 712.5V988.5H1625.0" stroke="#6e6e6e" stroke-width="0.9" fill="none"/>
<path d="M1402.0 746.5L1404.5 746.5" stroke="#6e6e6e" stroke-width="0.9" fill="none"/>
<path d="M1402.0 822.5L1404.5 822.5" stroke="#6e6e6e" stroke-width="0.9" fill="none"/>
<path d="M1402.0 898.5L1404.5 898.5" stroke="#6e6e6e" stroke-width="0.9" fill="none"/>
<path d="M1402.0 975.5L1404.5 975.5" stroke="#6e6e6e" stroke-width="0.9" fill="none"/>
<text x="1397.5" y="752.9" font-size="17.8" text-anchor="end" stroke="#000" stroke-width="0.5">15</text>
<text x="1397.5" y="828.9" font-size="17.8" text-anchor="end" stroke="#000" stroke-width="0.5">10</text>
<text x="1397.5" y="905.4" font-size="17.8" text-anchor="end" stroke="#000" stroke-width="0.5">5</text>
<text x="1397.5" y="981.5" font-size="17.8" text-anchor="end" stroke="#000" stroke-width="0.5">0</text>
<path d="M1465.5 988.5L1465.5 991.0" stroke="#6e6e6e" stroke-width="0.9" fill="none"/>
<path d="M1568.5 988.5L1568.5 991.0" stroke="#6e6e6e" stroke-width="0.9" fill="none"/>
<text font-size="20.8" text-anchor="middle" stroke="#000" stroke-width="0.6" transform="translate(1518.5 694.4) scale(1 1.02)"><tspan font-style="italic">P</tspan> = 5.9e-2</text>
<path d="M1464.5 701.4L1573.5 701.4" stroke="#000" stroke-width="1.7" fill="none"/>
<text font-size="28" text-anchor="middle" stroke="#000" stroke-width="0.7" transform="translate(1465.0 1015.3) scale(1 1.04)">Young</text>
<text font-size="28" text-anchor="middle" stroke="#000" stroke-width="0.7" transform="translate(1576.0 1015.3) scale(1 1.04)">Old</text>
<text font-size="28.5" text-anchor="middle" fill="#1f8fe8" stroke="#1f8fe8" stroke-width="0.7" transform="translate(1515.0 1053.5) scale(1 1.04)">qNSC/Astrocyte</text>
<path d="M1725 742.7c0 9.2 0 43.2.1 55.3c.2 12.1.3 12.4.6 17.1c.3 4.8.7 8.1 1.2 11.5c.4 3.3 1.1 5.7 1.7 8.5c.5 2.9 1.1 5.8 1.7 8.6c.6 2.9 1.4 5.7 1.8 8.6c.5 2.8.7 5.7 1 8.6c.4 2.8.5 5.9.9 8.5c.4 2.6.8 4.8 1.7 7.2c.9 2.4 2.2 4.7 3.6 7.1c1.4 2.4 3.3 4.8 5 7.2c1.7 2.3 3.4 4.7 5 7.1c1.5 2.4 2.8 4.8 4.3 7.1c1.4 2.4 2.7 4.6 4.3 7.2c1.5 2.6 3.3 5.7 5 8.6c1.6 2.8 3.8 5.9 5 8.5c1.1 2.6 1.6 5 2.1 7.2c.5 2.1.8 3.8.7 5.7c0 1.9-.1 3.8-1 5.7c-.9 1.9-2.8 4-4.3 5.7c-1.5 1.7-3.1 2.9-4.7 4.3c-1.6 1.4-3.6 2.9-5 4.3c-1.4 1.4-3 2.8-3.6 4.3c-.6 1.4-.1 2.8 0 4.3c.2 1.4.9 3.8 1 4.5l-56.8 0c.2-.7.8-3.1 1-4.5c.2-1.5.6-2.9 0-4.3c-.6-1.5-2.2-2.9-3.6-4.3c-1.4-1.4-3.4-2.9-5-4.3c-1.6-1.4-3.2-2.6-4.7-4.3c-1.5-1.7-3.4-3.8-4.3-5.7c-.9-1.9-.9-3.8-1-5.7c0-1.9.3-3.6.7-5.7c.5-2.2 1-4.6 2.2-7.2c1.2-2.6 3.3-5.7 5-8.5c1.6-2.9 3.4-6 5-8.6c1.5-2.6 2.8-4.8 4.3-7.2c1.4-2.3 2.7-4.7 4.2-7.1c1.6-2.4 3.4-4.8 5-7.1c1.7-2.4 3.6-4.8 5-7.2c1.5-2.4 2.7-4.7 3.6-7.1c.9-2.4 1.3-4.6 1.7-7.2c.5-2.6.6-5.7.9-8.5c.3-2.9.5-5.8 1-8.6c.5-2.9 1.2-5.7 1.8-8.6c.6-2.8 1.2-5.7 1.8-8.6c.5-2.8 1.2-5.2 1.7-8.5c.4-3.4.8-6.7 1.1-11.5c.3-4.7.5-5 .6-17.1c.1-12.1.1-46.1.2-55.3z" fill="#ffa500" stroke="#000" stroke-opacity="0.72" stroke-width="0.9" stroke-linejoin="round"/>
<path d="M1681.6 929.5H1767.9" stroke="#000" stroke-opacity="0.7" stroke-width="1" fill="none"/>
<path d="M1828.9 709.1c-.1 2.9-.4 10.3-.6 17.5c-.2 7.2-.7 19.7-.4 25.7c.2 5.9 1 6.7 1.8 10c.8 3.3 2.3 6.9 3.2 10c.8 3.1 1.4 5.7 2.1 8.6c.7 2.8 1.5 5.7 1.9 8.5c.4 2.9.5 5.7.5 8.6c.1 2.9-.1 5.7-.3 8.6c-.1 2.8-.6 5.7-.7 8.5c0 2.9.1 5.8.5 8.6c.3 2.9.6 5.7 1.4 8.6c.7 2.8 1.9 5.7 3.1 8.6c1.3 2.8 2.8 5.7 4.3 8.5c1.6 2.9 3.3 5.7 5 8.6c1.7 2.9 3.5 5.7 5 8.6c1.6 2.8 3 5.7 4.3 8.5c1.3 2.9 2.5 5.8 3.6 8.6c1 2.9 1.9 5.7 2.8 8.6c.9 2.8 1.7 5.7 2.5 8.6c.7 2.8 1.6 5.7 2.2 8.5c.7 2.9 1.4 5.7 1.8 8.6c.4 2.9.7 5.7.7 8.6c0 2.8-.1 5.7-.7 8.5c-.6 2.9-1.5 5.8-2.9 8.6c-1.4 2.9-3.6 5.7-5.7 8.6c-2.2 2.8-5 5.9-7.2 8.6c-2.1 2.6-3.9 4.7-5.7 7.1c-1.8 2.4-4.1 6.2-5 7.4l-38.5 0c-.9-1.2-3.3-5-5-7.4c-1.8-2.4-3.6-4.5-5.8-7.1c-2.1-2.7-5-5.8-7.1-8.6c-2.1-2.9-4.3-5.7-5.7-8.6c-1.4-2.8-2.3-5.7-2.9-8.6c-.6-2.8-.7-5.7-.7-8.5c0-2.9.3-5.7.7-8.6c.4-2.9 1.1-5.7 1.7-8.6c.7-2.8 1.5-5.7 2.3-8.5c.8-2.9 1.6-5.8 2.5-8.6c.8-2.9 1.7-5.7 2.8-8.6c1.1-2.8 2.3-5.7 3.6-8.6c1.3-2.8 2.7-5.7 4.3-8.5c1.5-2.9 3.3-5.7 5-8.6c1.6-2.9 3.4-5.7 5-8.6c1.5-2.8 3-5.7 4.3-8.5c1.2-2.9 2.3-5.8 3.1-8.6c.8-2.9 1.1-5.7 1.4-8.6c.3-2.8.5-5.7.5-8.6c-.1-2.8-.6-5.7-.8-8.5c-.1-2.9-.3-5.7-.2-8.6c0-2.9.1-5.7.5-8.6c.4-2.8 1.2-5.7 1.9-8.5c.7-2.9 1.2-5.5 2.1-8.6c.9-3.1 2.3-6.7 3.2-10c.8-3.3 1.6-4.1 1.8-10c.3-6-.2-18.5-.4-25.7c-.2-7.2-.5-14.6-.6-17.5z" fill="#ee0000" stroke="#000" stroke-opacity="0.72" stroke-width="0.9" stroke-linejoin="round"/>
<path d="M1783.7 907.5H1870.6" stroke="#000" stroke-opacity="0.7" stroke-width="1" fill="none"/>
<path d="M1663.5 710.0V987.5H1876.4" stroke="#6e6e6e" stroke-width="0.9" fill="none"/>
<path d="M1661.0 762.5L1663.5 762.5" stroke="#6e6e6e" stroke-width="0.9" fill="none"/>
<path d="M1661.0 833.5L1663.5 833.5" stroke="#6e6e6e" stroke-width="0.9" fill="none"/>
<path d="M1661.0 904.5L1663.5 904.5" stroke="#6e6e6e" stroke-width="0.9" fill="none"/>
<path d="M1661.0 975.5L1663.5 975.5" stroke="#6e6e6e" stroke-width="0.9" fill="none"/>
<text x="1659.0" y="768.8" font-size="17.8" text-anchor="end" stroke="#000" stroke-width="0.5">9</text>
<text x="1659.0" y="839.5" font-size="17.8" text-anchor="end" stroke="#000" stroke-width="0.5">6</text>
<text x="1659.0" y="910.6" font-size="17.8" text-anchor="end" stroke="#000" stroke-width="0.5">3</text>
<text x="1659.0" y="981.6" font-size="17.8" text-anchor="end" stroke="#000" stroke-width="0.5">0</text>
<path d="M1724.5 987.5L1724.5 990.0" stroke="#6e6e6e" stroke-width="0.9" fill="none"/>
<path d="M1826.5 987.5L1826.5 990.0" stroke="#6e6e6e" stroke-width="0.9" fill="none"/>
<text font-size="20.8" text-anchor="middle" stroke="#000" stroke-width="0.6" transform="translate(1777.5 691.9) scale(1 1.02)"><tspan font-style="italic">P</tspan> = 1.2e-5</text>
<path d="M1723.5 697.9L1832.0 697.9" stroke="#000" stroke-width="1.7" fill="none"/>
<text font-size="28" text-anchor="middle" stroke="#000" stroke-width="0.7" transform="translate(1727.5 1015.3) scale(1 1.04)">Young</text>
<text font-size="28" text-anchor="middle" stroke="#000" stroke-width="0.7" transform="translate(1825.0 1015.3) scale(1 1.04)">Old</text>
<text font-size="28.5" text-anchor="middle" fill="#e31a1c" stroke="#e31a1c" stroke-width="0.7" transform="translate(1769.0 1053.5) scale(1 1.04)">aNSC/NPC</text>
<path d="M1978.8 709.3c.1 12.7 0 61.3.2 76.4c.2 15.1.6 9.5 1 14.3c.4 4.8.9 9.5 1.4 14.3c.6 4.7 1.2 9.5 1.9 14.3c.6 4.7 1.3 10 2 14.3c.6 4.2 1.1 8.1 1.8 11.4c.8 3.3 1.8 5.7 2.9 8.6c1.1 2.8 2.4 5.7 3.6 8.5c1.2 2.9 2.1 5.7 3.5 8.6c1.5 2.9 3.5 6 5 8.6c1.6 2.6 3.3 4.7 4.3 7.1c1 2.4 1.3 4.5 1.7 7.2c.5 2.6.6 5.9 1.2 8.5c.5 2.6 1.2 5 2.1 7.2c1 2.1 2.2 3.8 3.6 5.7c1.4 1.9 3.6 4 5 5.7c1.4 1.7 2.5 3 3.3 4.3c.8 1.3 1.4 2.4 1.4 3.6c.1 1.1-.2 2.2-1.1 3.5c-.9 1.3-2.3 2.9-4.3 4.3c-2 1.4-5 2.9-7.9 4.3c-2.8 1.4-6.6 2.9-9.3 4.3c-2.6 1.4-5 3-6.4 4.3c-1.4 1.3-2 2.4-2.1 3.5c-.1 1.2.4 2.4 1.4 3.6c1 1.2 2.9 2.5 4.3 3.6c1.4 1.1 3 2 4 2.8c.9.9 1.4 2.1 1.7 2.5l-52.9 0c.3-.4.8-1.6 1.8-2.5c.9-.8 2.6-1.7 4-2.8c1.3-1.1 3.3-2.4 4.2-3.6c1-1.2 1.6-2.4 1.5-3.6c-.1-1.1-.7-2.2-2.2-3.5c-1.4-1.3-3.8-2.9-6.4-4.3c-2.6-1.4-6.4-2.9-9.3-4.3c-2.8-1.4-5.8-2.9-7.8-4.3c-2.1-1.4-3.4-3-4.3-4.3c-.9-1.3-1.2-2.4-1.2-3.5c.1-1.2.7-2.3 1.5-3.6c.7-1.3 1.9-2.6 3.2-4.3c1.4-1.7 3.6-3.8 5-5.7c1.5-1.9 2.7-3.6 3.6-5.7c1-2.2 1.6-4.6 2.2-7.2c.5-2.6.6-5.9 1.1-8.5c.5-2.7.7-4.8 1.7-7.2c1-2.4 2.8-4.5 4.3-7.1c1.5-2.6 3.6-5.7 5-8.6c1.4-2.9 2.4-5.7 3.6-8.6c1.2-2.8 2.5-5.7 3.5-8.5c1.1-2.9 2.1-5.3 2.9-8.6c.8-3.3 1.2-7.2 1.9-11.4c.6-4.3 1.3-9.6 2-14.3c.6-4.8 1.3-9.6 1.8-14.3c.6-4.8 1-9.5 1.4-14.3c.4-4.8.8.8 1-14.3c.2-15.1.2-63.7.2-76.4z" fill="#dda0dd" stroke="#000" stroke-opacity="0.72" stroke-width="0.9" stroke-linejoin="round"/>
<path d="M1943.9 921.5H2013.2" stroke="#000" stroke-opacity="0.7" stroke-width="1" fill="none"/>
<path d="M2084.3 812.9c.3 1.4 1 5.4 1.8 8.5c.9 3.1 2.1 6.9 3.2 10c1.1 3.1 2.1 5.7 3.6 8.6c1.4 2.9 3.3 5.7 5 8.6c1.6 2.8 3.3 5.7 5 8.5c1.6 2.9 3.3 5.8 5 8.6c1.6 2.9 3.5 6 5 8.6c1.4 2.6 2.6 4.7 3.5 7.1c.9 2.4 1.5 4.6 1.9 7.2c.3 2.6.1 5.7.3 8.5c.1 2.9.3 6 .7 8.6c.4 2.6.9 5 1.7 7.2c.8 2.1 2.3 3.8 3.3 5.7c.9 1.9 1.9 4 2.4 5.7c.5 1.7.9 2.6.7 4.3c-.1 1.6-.6 3.8-1.7 5.7c-1.1 1.9-3.1 3.8-5 5.7c-1.9 1.9-4.4 3.8-6.4 5.7c-2 1.9-4.3 4.1-5.7 5.7c-1.5 1.7-2.4 2.6-2.9 4.3c-.5 1.7-.3 3.8 0 5.7c.3 1.9 1.3 3.6 1.9 5.7c.5 2.2 1 6.2 1.3 7.5l-55.8 0c.3-1.3.8-5.3 1.3-7.5c.6-2.1 1.6-3.8 1.9-5.7c.3-1.9.5-4 0-5.7c-.5-1.7-1.4-2.6-2.9-4.3c-1.4-1.6-3.7-3.8-5.7-5.7c-2-1.9-4.5-3.8-6.4-5.7c-1.9-1.9-3.9-3.8-5-5.7c-1.1-1.9-1.6-4.1-1.7-5.7c-.2-1.7.2-2.6.7-4.3c.5-1.7 1.5-3.8 2.4-5.7c1-1.9 2.5-3.6 3.3-5.7c.8-2.2 1.3-4.6 1.7-7.2c.4-2.6.6-5.7.7-8.6c.2-2.8 0-5.9.3-8.5c.4-2.6 1-4.8 1.9-7.2c.9-2.4 2.1-4.5 3.5-7.1c1.5-2.6 3.4-5.7 5-8.6c1.7-2.8 3.4-5.7 5-8.6c1.7-2.8 3.4-5.7 5-8.5c1.7-2.9 3.6-5.7 5-8.6c1.5-2.9 2.5-5.5 3.6-8.6c1.1-3.1 2.3-6.9 3.2-10c.8-3.1 1.5-7.1 1.8-8.5z" fill="#9b30ff" stroke="#000" stroke-opacity="0.72" stroke-width="0.9" stroke-linejoin="round"/>
<path d="M2041.1 912.5H2120.9" stroke="#000" stroke-opacity="0.7" stroke-width="1" fill="none"/>
<path d="M1917.5 712.5V987.5H2139.0" stroke="#6e6e6e" stroke-width="0.9" fill="none"/>
<path d="M1915.0 783.5L1917.5 783.5" stroke="#6e6e6e" stroke-width="0.9" fill="none"/>
<path d="M1915.0 879.5L1917.5 879.5" stroke="#6e6e6e" stroke-width="0.9" fill="none"/>
<path d="M1915.0 974.5L1917.5 974.5" stroke="#6e6e6e" stroke-width="0.9" fill="none"/>
<text x="1910.0" y="789.8" font-size="17.8" text-anchor="end" stroke="#000" stroke-width="0.5">10</text>
<text x="1910.0" y="885.8" font-size="17.8" text-anchor="end" stroke="#000" stroke-width="0.5">5</text>
<text x="1910.0" y="980.8" font-size="17.8" text-anchor="end" stroke="#000" stroke-width="0.5">0</text>
<path d="M1978.5 987.5L1978.5 990.0" stroke="#6e6e6e" stroke-width="0.9" fill="none"/>
<path d="M2080.5 987.5L2080.5 990.0" stroke="#6e6e6e" stroke-width="0.9" fill="none"/>
<text font-size="20.8" text-anchor="middle" stroke="#000" stroke-width="0.6" transform="translate(2028.5 686.9) scale(1 1.02)">NS</text>
<path d="M1974.5 692.9L2083.5 692.9" stroke="#000" stroke-width="1.7" fill="none"/>
<text font-size="28" text-anchor="middle" stroke="#000" stroke-width="0.7" transform="translate(1980.0 1015.3) scale(1 1.04)">Young</text>
<text font-size="28" text-anchor="middle" stroke="#000" stroke-width="0.7" transform="translate(2077.5 1015.3) scale(1 1.04)">Old</text>
<text font-size="28.5" text-anchor="middle" fill="#7d0f7d" stroke="#7d0f7d" stroke-width="0.7" transform="translate(2024.0 1053.5) scale(1 1.04)">Neuroblast</text>
<text x="-0.7" y="1137.5" font-size="43.5" stroke="#000" stroke-width="0.5" font-weight="bold">g</text>
<text font-size="28.4" text-anchor="middle" stroke="#000" stroke-width="0.8" transform="translate(504.5 1168.2) scale(1 1.045)">In vivo single-cell RNA-seq - homophilic cell-cell</text>
<text font-size="28.4" text-anchor="middle" stroke="#000" stroke-width="0.8" transform="translate(504.5 1202.2) scale(1 1.045)">adhesion (plasma membrane)</text>
<text font-size="28.3" text-anchor="middle" stroke="#000" stroke-width="0.8" transform="translate(80.0 1416.0) rotate(-90) scale(1 1.04)">Sum of pathway expression</text>
<path d="M208.9 1283.4c.1 2 .1 7.9.5 11.7c.4 3.9 1.1 7.7 1.7 11.5c.7 3.8 1.4 7.6 2.2 11.4c.7 3.8 1.6 7.6 2.4 11.4c.8 3.8 1.8 7.6 2.6 11.5c.8 3.8 1.3 7.6 2.1 11.4c.9 3.8 1.8 8.1 2.9 11.4c1.1 3.3 2.2 5.7 3.6 8.6c1.3 2.8 2.8 5.7 4.2 8.6c1.5 2.8 3 5.7 4.3 8.5c1.3 2.9 2.6 5.7 3.6 8.6c1 2.9 1.5 5.7 2.4 8.6c1 2.8 2.1 5.7 3.3 8.5c1.3 2.9 3 6 4.3 8.6c1.3 2.6 2.7 5 3.6 7.2c.9 2.1 1.5 4 1.8 5.7c.4 1.6.5 2.6.3 4.3c-.2 1.6-.5 3.8-1.4 5.7c-1 1.9-2.6 3.8-4.3 5.7c-1.7 1.9-3.6 3.6-5.7 5.7c-2.2 2.1-5.1 4.8-7.2 7.1c-2 2.4-3.6 4.6-5.2 7.2c-1.7 2.6-3.4 5.7-4.8 8.6c-1.3 2.8-2.4 5.7-3.5 8.5c-1.1 2.9-2.1 5.7-3.2 8.6c-1 2.9-2.2 5.7-3.3 8.6c-1 2.8-1.9 5.7-2.8 8.5c-.9 2.9-1.9 6.2-2.4 8.6c-.6 2.4-.8 4.3-.9 5.7c-.1 1.5 0 2.6 0 3.2l-3.4 0c0-.6.1-1.7 0-3.2c-.2-1.4-.3-3.3-.9-5.7c-.5-2.4-1.5-5.7-2.4-8.6c-.9-2.8-1.8-5.7-2.9-8.5c-1-2.9-2.2-5.7-3.3-8.6c-1-2.9-2-5.7-3.1-8.6c-1.1-2.8-2.2-5.7-3.6-8.5c-1.4-2.9-3-6-4.7-8.6c-1.7-2.6-3.2-4.8-5.3-7.2c-2-2.3-5-5-7.1-7.1c-2.2-2.1-4.1-3.8-5.7-5.7c-1.7-1.9-3.4-3.8-4.3-5.7c-1-1.9-1.3-4.1-1.4-5.7c-.2-1.7-.1-2.7.2-4.3c.4-1.7 1-3.6 1.9-5.7c.9-2.2 2.3-4.6 3.6-7.2c1.3-2.6 3-5.7 4.3-8.6c1.2-2.8 2.3-5.7 3.2-8.5c1-2.9 1.5-5.7 2.5-8.6c1-2.9 2.2-5.7 3.5-8.6c1.4-2.8 2.9-5.7 4.3-8.5c1.5-2.9 3-5.8 4.3-8.6c1.3-2.9 2.5-5.3 3.6-8.6c1.1-3.3 2-7.6 2.8-11.4c.9-3.8 1.4-7.6 2.2-11.4c.8-3.9 1.7-7.7 2.6-11.5c.8-3.8 1.6-7.6 2.4-11.4c.7-3.8 1.5-7.6 2.1-11.4c.7-3.8 1.4-7.6 1.7-11.5c.4-3.8.5-9.7.6-11.7z" fill="#87cefa" stroke="#000" stroke-opacity="0.72" stroke-width="0.9" stroke-linejoin="round"/>
<path d="M165.7 1427.5H250.9" stroke="#000" stroke-opacity="0.7" stroke-width="1" fill="none"/>
<path d="M310.4 1269.4c.1 2.9.4 11.9.7 17.2c.4 5.2.9 9.5 1.5 14.3c.5 4.7 1 9.5 1.7 14.2c.7 4.8 1.4 9.6 2.3 14.3c.8 4.8 1.7 9.6 2.8 14.3c1.1 4.8 2.6 10 3.9 14.3c1.2 4.3 2.1 7.9 3.6 11.4c1.4 3.6 3.1 6.9 5 10c1.9 3.1 4.2 5.7 6.4 8.6c2.1 2.9 4.5 5.7 6.4 8.6c1.9 2.8 3.7 5.7 5 8.5c1.4 2.9 2.3 5.8 3.2 8.6c.8 2.9 1.3 5.7 1.8 8.6c.5 2.8.8 5.9 1 8.6c.3 2.6.5 4.5.4 7.1c-.1 2.6-.4 5.7-1 8.6c-.6 2.8-1.5 5.7-2.5 8.5c-1.1 2.9-2.2 5.8-3.6 8.6c-1.4 2.9-3.2 5.7-5 8.6c-1.8 2.8-3.8 5.7-5.7 8.6c-1.9 2.8-3.8 5.7-5.7 8.5c-1.9 2.9-4 5.7-5.7 8.6c-1.8 2.9-3.5 5.7-5 8.6c-1.6 2.8-3 5.7-4.3 8.5c-1.3 2.9-2.8 6.2-3.6 8.6c-.8 2.4-1.2 4.3-1.4 5.7c-.3 1.5 0 2.6 0 3.2l-4.9 0c0-.6.3-1.7 0-3.2c-.2-1.4-.6-3.3-1.4-5.7c-.8-2.4-2.3-5.7-3.6-8.6c-1.3-2.8-2.7-5.7-4.3-8.5c-1.5-2.9-3.2-5.7-5-8.6c-1.8-2.9-3.8-5.7-5.7-8.6c-1.9-2.8-3.8-5.7-5.7-8.5c-1.9-2.9-3.9-5.8-5.7-8.6c-1.8-2.9-3.6-5.7-5-8.6c-1.4-2.8-2.6-5.7-3.6-8.6c-1-2.8-2-5.7-2.6-8.5c-.6-2.9-.9-6-1-8.6c-.1-2.6.2-4.5.5-7.1c.2-2.7.5-5.8 1-8.6c.4-2.9 1-5.7 1.8-8.6c.9-2.8 1.8-5.7 3.2-8.6c1.3-2.8 3.1-5.7 5-8.5c1.9-2.9 4.3-5.7 6.4-8.6c2.1-2.9 4.5-5.5 6.4-8.6c1.9-3.1 3.6-6.4 5-10c1.5-3.5 2.4-7.1 3.6-11.4c1.2-4.3 2.7-9.5 3.9-14.3c1.1-4.7 2-9.5 2.8-14.3c.9-4.7 1.6-9.5 2.3-14.3c.7-4.7 1.2-9.5 1.7-14.2c.5-4.8 1.1-9.1 1.4-14.3c.4-5.3.6-14.3.8-17.2z" fill="#1e90ff" stroke="#000" stroke-opacity="0.72" stroke-width="0.9" stroke-linejoin="round"/>
<path d="M264.3 1435.5H356.0" stroke="#000" stroke-opacity="0.7" stroke-width="1" fill="none"/>
<path d="M147.5 1270.0V1544.5H367.5" stroke="#6e6e6e" stroke-width="0.9" fill="none"/>
<path d="M145.0 1314.5L147.5 1314.5" stroke="#6e6e6e" stroke-width="0.9" fill="none"/>
<path d="M145.0 1369.5L147.5 1369.5" stroke="#6e6e6e" stroke-width="0.9" fill="none"/>
<path d="M145.0 1423.5L147.5 1423.5" stroke="#6e6e6e" stroke-width="0.9" fill="none"/>
<path d="M145.0 1478.5L147.5 1478.5" stroke="#6e6e6e" stroke-width="0.9" fill="none"/>
<path d="M145.0 1532.5L147.5 1532.5" stroke="#6e6e6e" stroke-width="0.9" fill="none"/>
<text x="141.0" y="1321.4" font-size="17.8" text-anchor="end" stroke="#000" stroke-width="0.5">20</text>
<text x="141.0" y="1375.9" font-size="17.8" text-anchor="end" stroke="#000" stroke-width="0.5">15</text>
<text x="141.0" y="1430.2" font-size="17.8" text-anchor="end" stroke="#000" stroke-width="0.5">10</text>
<text x="141.0" y="1484.5" font-size="17.8" text-anchor="end" stroke="#000" stroke-width="0.5">5</text>
<text x="141.0" y="1538.8" font-size="17.8" text-anchor="end" stroke="#000" stroke-width="0.5">0</text>
<path d="M208.5 1544.5L208.5 1547.0" stroke="#6e6e6e" stroke-width="0.9" fill="none"/>
<path d="M309.5 1544.5L309.5 1547.0" stroke="#6e6e6e" stroke-width="0.9" fill="none"/>
<text font-size="20.8" text-anchor="middle" stroke="#000" stroke-width="0.6" transform="translate(261.0 1251.9) scale(1 1.02)"><tspan font-style="italic">P</tspan> = 4.3e-5</text>
<path d="M207.5 1258.9L316.0 1258.9" stroke="#000" stroke-width="1.7" fill="none"/>
<text font-size="28" text-anchor="middle" stroke="#000" stroke-width="0.7" transform="translate(207.5 1572.8) scale(1 1.04)">Young</text>
<text font-size="28" text-anchor="middle" stroke="#000" stroke-width="0.7" transform="translate(318.5 1572.8) scale(1 1.04)">Old</text>
<text font-size="28.5" text-anchor="middle" fill="#1f8fe8" stroke="#1f8fe8" stroke-width="0.7" transform="translate(257.5 1611.5) scale(1 1.04)">qNSC/Astrocyte</text>
<path d="M470 1271c0 7 0 31.5.1 42.1c.2 10.6.2 15.8.6 21.5c.4 5.7 1.2 8.8 1.9 12.8c.6 4.1 1.4 7.6 2.1 11.5c.8 3.8 1.4 7.6 2.4 11.4c1.1 3.8 2.4 7.6 3.8 11.4c1.3 3.8 3.1 7.9 4.5 11.4c1.5 3.6 2.8 6.9 4.3 10c1.6 3.1 3.2 6 5 8.6c1.8 2.6 3.7 4.8 5.7 7.2c2.1 2.3 4.6 4.7 6.5 7.1c1.9 2.4 3.6 4.8 5 7.1c1.3 2.4 2.2 5 2.8 7.2c.6 2.1.7 3.6.7 5.7c.1 2.1.1 4.8-.3 7.1c-.3 2.4-.8 4.6-1.8 7.2c-1 2.6-2.6 5.7-4.3 8.6c-1.7 2.8-3.6 5.7-5.7 8.5c-2.2 2.9-4.8 5.7-7.2 8.6c-2.3 2.9-4.8 5.7-7.1 8.6c-2.3 2.8-4.5 5.7-6.4 8.5c-1.9 2.9-3.7 6-5 8.6c-1.3 2.6-2.1 5-2.9 7.2c-.8 2.1-1.7 4-2.1 5.7c-.5 1.6-.6 2.8-.7 4.3c-.2 1.4-.2 3.5-.2 4.2l-4 0c0-.7 0-2.8-.1-4.2c-.2-1.5-.3-2.7-.7-4.3c-.5-1.7-1.4-3.6-2.2-5.7c-.8-2.2-1.5-4.6-2.8-7.2c-1.4-2.6-3.1-5.7-5-8.6c-1.9-2.8-4.2-5.7-6.5-8.5c-2.2-2.9-4.7-5.7-7.1-8.6c-2.4-2.9-5-5.7-7.2-8.6c-2.1-2.8-4-5.7-5.7-8.5c-1.6-2.9-3.2-6-4.3-8.6c-1-2.6-1.5-4.8-1.8-7.2c-.4-2.3-.4-5-.3-7.1c.1-2.1.1-3.6.7-5.7c.6-2.2 1.6-4.8 2.9-7.2c1.3-2.3 3.1-4.7 5-7.1c1.9-2.4 4.4-4.8 6.4-7.1c2-2.4 3.9-4.6 5.7-7.2c1.8-2.6 3.5-5.5 5-8.6c1.6-3.1 2.8-6.4 4.3-10c1.5-3.5 3.2-7.6 4.6-11.4c1.4-3.8 2.7-7.6 3.7-11.4c1-3.8 1.7-7.6 2.4-11.4c.8-3.9 1.5-7.4 2.2-11.5c.6-4 1.4-7.1 1.8-12.8c.4-5.7.5-10.9.6-21.5c.1-10.6.1-35.1.2-42.1z" fill="#ffa500" stroke="#000" stroke-opacity="0.72" stroke-width="0.9" stroke-linejoin="round"/>
<path d="M424.0 1447.5H515.4" stroke="#000" stroke-opacity="0.7" stroke-width="1" fill="none"/>
<path d="M577.1 1336.7c.5 1.3 1.5 4.7 2.6 7.9c1.2 3.2 2.8 7.6 4.3 11.4c1.5 3.8 3.1 7.9 4.6 11.4c1.4 3.6 2.5 6.9 4 10c1.5 3.1 3.2 5.7 5 8.6c1.8 2.9 3.9 5.7 5.7 8.6c1.7 2.8 3.5 5.7 4.7 8.5c1.2 2.9 1.7 5.8 2.4 8.6c.7 2.9 1.2 5.7 1.9 8.6c.7 2.8 1.7 5.7 2.4 8.6c.7 2.8 1.4 5.7 1.9 8.5c.4 2.9 1 5.7 1 8.6c0 2.9-.4 6-1 8.6c-.6 2.6-1.3 4.7-2.6 7.1c-1.3 2.4-3.1 4.8-5 7.2c-1.9 2.3-4.3 4.7-6.4 7.1c-2.2 2.4-4.3 4.8-6.5 7.1c-2.1 2.4-4.2 4.8-6.4 7.2c-2.1 2.4-4.7 5-6.4 7.1c-1.7 2.2-3 4.1-3.9 5.7c-.9 1.7-1.2 3.2-1.5 4.3c-.4 1.1-.3 2.1-.3 2.5l-12 0c-.1-.4 0-1.4-.3-2.5c-.3-1.1-.7-2.6-1.6-4.3c-.9-1.6-2.1-3.5-3.8-5.7c-1.8-2.1-4.3-4.7-6.5-7.1c-2.1-2.4-4.3-4.8-6.4-7.2c-2.1-2.3-4.3-4.7-6.4-7.1c-2.2-2.4-4.6-4.8-6.5-7.1c-1.9-2.4-3.7-4.8-5-7.2c-1.2-2.4-1.9-4.5-2.5-7.1c-.6-2.6-1-5.7-1-8.6c0-2.9.5-5.7 1-8.6c.4-2.8 1.1-5.7 1.8-8.5c.7-2.9 1.7-5.8 2.5-8.6c.7-2.9 1.1-5.7 1.8-8.6c.7-2.8 1.3-5.7 2.4-8.6c1.2-2.8 3-5.7 4.8-8.5c1.7-2.9 3.9-5.7 5.7-8.6c1.8-2.9 3.5-5.5 5-8.6c1.5-3.1 2.5-6.4 4-10c1.4-3.5 3.1-7.6 4.5-11.4c1.5-3.8 3.2-8.2 4.3-11.4c1.2-3.2 2.2-6.6 2.6-7.9z" fill="#ee0000" stroke="#000" stroke-opacity="0.72" stroke-width="0.9" stroke-linejoin="round"/>
<path d="M527.5 1433.5H615.6" stroke="#000" stroke-opacity="0.7" stroke-width="1" fill="none"/>
<path d="M408.5 1267.5V1545.5H630.0" stroke="#6e6e6e" stroke-width="0.9" fill="none"/>
<path d="M406.0 1290.5L408.5 1290.5" stroke="#6e6e6e" stroke-width="0.9" fill="none"/>
<path d="M406.0 1371.5L408.5 1371.5" stroke="#6e6e6e" stroke-width="0.9" fill="none"/>
<path d="M406.0 1452.5L408.5 1452.5" stroke="#6e6e6e" stroke-width="0.9" fill="none"/>
<path d="M406.0 1532.5L408.5 1532.5" stroke="#6e6e6e" stroke-width="0.9" fill="none"/>
<text x="404.0" y="1297.1" font-size="17.8" text-anchor="end" stroke="#000" stroke-width="0.5">15</text>
<text x="404.0" y="1377.8" font-size="17.8" text-anchor="end" stroke="#000" stroke-width="0.5">10</text>
<text x="404.0" y="1458.5" font-size="17.8" text-anchor="end" stroke="#000" stroke-width="0.5">5</text>
<text x="404.0" y="1538.9" font-size="17.8" text-anchor="end" stroke="#000" stroke-width="0.5">0</text>
<path d="M469.5 1545.5L469.5 1548.0" stroke="#6e6e6e" stroke-width="0.9" fill="none"/>
<path d="M571.5 1545.5L571.5 1548.0" stroke="#6e6e6e" stroke-width="0.9" fill="none"/>
<text font-size="20.8" text-anchor="middle" stroke="#000" stroke-width="0.6" transform="translate(520.0 1249.4) scale(1 1.02)"><tspan font-style="italic">P</tspan> = 9.1e-4</text>
<path d="M466.0 1255.4L575.0 1255.4" stroke="#000" stroke-width="1.7" fill="none"/>
<text font-size="28" text-anchor="middle" stroke="#000" stroke-width="0.7" transform="translate(471.0 1572.8) scale(1 1.04)">Young</text>
<text font-size="28" text-anchor="middle" stroke="#000" stroke-width="0.7" transform="translate(568.5 1572.8) scale(1 1.04)">Old</text>
<text font-size="28.5" text-anchor="middle" fill="#e31a1c" stroke="#e31a1c" stroke-width="0.7" transform="translate(516.0 1611.5) scale(1 1.04)">aNSC/NPC</text>
<path d="M733.3 1269.1c.1 1.8.3 7.1.6 10.8c.2 3.6.6 7.6 1 11.4c.4 3.8.7 7.6 1.4 11.4c.7 3.8 1.7 7.6 2.6 11.4c.9 3.9 1.9 7.7 2.8 11.5c1 3.8 1.8 7.6 2.9 11.4c1 3.8 2.4 7.6 3.5 11.4c1.2 3.8 2.3 7.6 3.3 11.5c1.1 3.8 2.1 7.6 3.2 11.4c1.1 3.8 2.1 7.8 3.5 11.4c1.5 3.6 3.4 6.9 5 10c1.7 3.1 3.5 6 5 8.6c1.6 2.6 3.1 4.7 4.3 7.1c1.2 2.4 2.2 4.8 2.9 7.2c.7 2.4 1.1 4.5 1.4 7.1c.3 2.6.4 5.5.4 8.6c.1 3.1.2 6.9 0 10c-.1 3.1-.3 5.7-1.1 8.6c-.8 2.8-2.1 5.9-3.6 8.5c-1.4 2.6-3.1 4.6-5 7.2c-1.9 2.6-4.5 5.7-6.4 8.5c-1.9 2.9-3.6 5.8-5 8.6c-1.4 2.9-2.4 5.7-3.6 8.6c-1.2 2.8-2.2 5.7-3.5 8.6c-1.4 2.8-3 5.9-4.3 8.5c-1.3 2.6-2.6 5-3.6 7.2c-1 2.1-1.7 3.8-2.1 5.7c-.5 1.9-.4 3.9-.5 5.7c0 1.8 0 4.4 0 5.3l-14.3 0c0-.9.1-3.5 0-5.3c0-1.8 0-3.8-.4-5.7c-.4-1.9-1.2-3.6-2.1-5.7c-1-2.2-2.3-4.6-3.6-7.2c-1.3-2.6-3-5.7-4.3-8.5c-1.3-2.9-2.4-5.8-3.6-8.6c-1.1-2.9-2.1-5.7-3.5-8.6c-1.5-2.8-3.1-5.7-5-8.6c-1.9-2.8-4.6-5.9-6.5-8.5c-1.9-2.6-3.5-4.6-5-7.2c-1.4-2.6-2.7-5.7-3.5-8.5c-.8-2.9-1-5.5-1.2-8.6c-.2-3.1 0-6.9 0-10c.1-3.1.1-6 .5-8.6c.3-2.6.7-4.7 1.4-7.1c.7-2.4 1.7-4.8 2.8-7.2c1.2-2.4 2.8-4.5 4.3-7.1c1.6-2.6 3.4-5.5 5-8.6c1.7-3.1 3.6-6.4 5-10c1.5-3.6 2.5-7.6 3.6-11.4c1.1-3.8 2.1-7.6 3.1-11.4c1.1-3.9 2.2-7.7 3.3-11.5c1.2-3.8 2.5-7.6 3.6-11.4c1.1-3.8 1.9-7.6 2.9-11.4c.9-3.8 1.9-7.6 2.8-11.5c.9-3.8 1.9-7.6 2.6-11.4c.7-3.8 1-7.6 1.4-11.4c.4-3.8.8-7.8 1-11.4c.3-3.7.5-9 .6-10.8z" fill="#dda0dd" stroke="#000" stroke-opacity="0.72" stroke-width="0.9" stroke-linejoin="round"/>
<path d="M685.6 1428.5H777.0" stroke="#000" stroke-opacity="0.7" stroke-width="1" fill="none"/>
<path d="M838.9 1273.1c.1 2.1.2 8 .7 12.5c.4 4.4 1.3 9.5 2.1 14.3c.8 4.7 1.8 9.5 2.9 14.2c1 4.8 2.4 9.6 3.5 14.3c1.2 4.8 2.3 10 3.3 14.3c1.1 4.3 1.8 7.6 3.2 11.4c1.3 3.9 3.2 7.7 5 11.5c1.8 3.8 3.9 7.6 5.7 11.4c1.8 3.8 3.4 7.6 5 11.4c1.5 3.8 3.1 7.6 4.3 11.5c1.1 3.8 1.9 7.6 2.5 11.4c.7 3.8 1.1 7.6 1.5 11.4c.3 3.8.5 7.6.5 11.4c.1 3.9.2 7.9-.2 11.5c-.4 3.5-1.1 6.6-2.2 10c-1.1 3.3-2.7 6.6-4.3 10c-1.5 3.3-3.2 6.6-5 10c-1.8 3.3-3.9 6.6-5.7 10c-1.8 3.3-3.4 6.9-5 10c-1.5 3.1-3.1 5.9-4.3 8.5c-1.2 2.7-2.4 6-2.8 7.2l-32.9 0c-.5-1.2-1.7-4.5-2.8-7.2c-1.2-2.6-2.8-5.4-4.3-8.5c-1.6-3.1-3.2-6.7-5-10c-1.8-3.4-4-6.7-5.7-10c-1.8-3.4-3.5-6.7-5-10c-1.6-3.4-3.3-6.7-4.3-10c-1.1-3.4-1.8-6.5-2.2-10c-.4-3.6-.3-7.6-.3-11.5c.1-3.8.3-7.6.6-11.4c.3-3.8.8-7.6 1.4-11.4c.7-3.8 1.5-7.6 2.6-11.4c1.2-3.9 2.8-7.7 4.3-11.5c1.5-3.8 3.2-7.6 5-11.4c1.8-3.8 3.9-7.6 5.7-11.4c1.8-3.8 3.7-7.6 5-11.5c1.4-3.8 2.1-7.1 3.2-11.4c1-4.3 2.1-9.5 3.2-14.3c1.2-4.7 2.5-9.5 3.6-14.3c1.1-4.7 2-9.5 2.9-14.2c.8-4.8 1.6-9.9 2.1-14.3c.5-4.5.6-10.4.7-12.5z" fill="#9b30ff" stroke="#000" stroke-opacity="0.72" stroke-width="0.9" stroke-linejoin="round"/>
<path d="M787.8 1422.5H878.5" stroke="#000" stroke-opacity="0.7" stroke-width="1" fill="none"/>
<path d="M670.5 1269.0V1544.5H890.0" stroke="#6e6e6e" stroke-width="0.9" fill="none"/>
<path d="M668.0 1269.5L670.5 1269.5" stroke="#6e6e6e" stroke-width="0.9" fill="none"/>
<path d="M668.0 1357.5L670.5 1357.5" stroke="#6e6e6e" stroke-width="0.9" fill="none"/>
<path d="M668.0 1444.5L670.5 1444.5" stroke="#6e6e6e" stroke-width="0.9" fill="none"/>
<path d="M668.0 1532.5L670.5 1532.5" stroke="#6e6e6e" stroke-width="0.9" fill="none"/>
<text x="663.5" y="1276.4" font-size="17.8" text-anchor="end" stroke="#000" stroke-width="0.5">15</text>
<text x="663.5" y="1363.9" font-size="17.8" text-anchor="end" stroke="#000" stroke-width="0.5">10</text>
<text x="663.5" y="1451.1" font-size="17.8" text-anchor="end" stroke="#000" stroke-width="0.5">5</text>
<text x="663.5" y="1538.5" font-size="17.8" text-anchor="end" stroke="#000" stroke-width="0.5">0</text>
<path d="M731.5 1544.5L731.5 1547.0" stroke="#6e6e6e" stroke-width="0.9" fill="none"/>
<path d="M832.5 1544.5L832.5 1547.0" stroke="#6e6e6e" stroke-width="0.9" fill="none"/>
<text font-size="20.8" text-anchor="middle" stroke="#000" stroke-width="0.6" transform="translate(769.0 1244.4) scale(1 1.02)">NS</text>
<path d="M715.0 1250.4L824.0 1250.4" stroke="#000" stroke-width="1.7" fill="none"/>
<text font-size="28" text-anchor="middle" stroke="#000" stroke-width="0.7" transform="translate(731.0 1572.8) scale(1 1.04)">Young</text>
<text font-size="28" text-anchor="middle" stroke="#000" stroke-width="0.7" transform="translate(818.0 1572.8) scale(1 1.04)">Old</text>
<text font-size="28.5" text-anchor="middle" fill="#7d0f7d" stroke="#7d0f7d" stroke-width="0.7" transform="translate(776.5 1611.5) scale(1 1.04)">Neuroblast</text>
<text x="961.8" y="1137.5" font-size="43.5" stroke="#000" stroke-width="0.5" font-weight="bold">h</text>
<text font-size="28.4" text-anchor="middle" stroke="#000" stroke-width="0.8" transform="translate(1439.0 1168.2) scale(1 1.045)">In vivo single-cell RNA-seq - olfactory bulb</text>
<text font-size="28.4" text-anchor="middle" stroke="#000" stroke-width="0.8" transform="translate(1438.5 1202.2) scale(1 1.045)">interneuron differentiation</text>
<text font-size="28.3" text-anchor="middle" stroke="#000" stroke-width="0.8" transform="translate(1030.0 1416.0) rotate(-90) scale(1 1.04)">Sum of pathway expression</text>
<path d="M1160.5 1293.1c.1 6.4 0 29.6.2 38.3c.2 8.8.6 9.6 1 14.3c.4 4.8 1 9.5 1.6 14.3c.6 4.8 1.2 9.5 2 14.3c.7 4.7 1.7 9.5 2.6 14.3c.9 4.7 1.7 10 2.8 14.3c1.1 4.2 2.4 8.1 3.6 11.4c1.2 3.3 2.5 5.7 3.6 8.6c1 2.8 2 5.7 2.5 8.5c.6 2.9.6 5.7.6 8.6c0 2.9-.5 6-.3 8.6c.2 2.6.6 5 1.4 7.1c.9 2.2 2.1 3.8 3.6 5.7c1.6 1.9 4.1 4.1 5.7 5.7c1.7 1.7 3.1 2.9 4.3 4.3c1.2 1.5 2.2 2.8 2.9 4.3c.6 1.6 1.1 3.3 1 5c-.1 1.7-.7 3.5-1.7 5c-1 1.6-2.5 2.9-4.3 4.3c-1.8 1.4-4.2 2.9-6.5 4.3c-2.2 1.4-5 2.8-7.1 4.3c-2.1 1.4-4.2 2.8-5.7 4.3c-1.5 1.4-2.5 2.9-3.2 4.2c-.6 1.4-.8 2.4-.7 3.6c.2 1.2.5 2.3 1.7 3.6c1.3 1.3 3.5 2.8 5.8 4.3c2.2 1.4 5.2 2.9 7.8 4.3c2.6 1.3 5.3 2.3 7.9 3.5c2.6 1.2 5.9 2.6 7.8 3.6c1.9 1 2.8 1.5 3.6 2.1c.8.7 1.2 1.6 1.4 1.9l-92.3 0c.3-.3.6-1.2 1.5-1.9c.8-.6 1.6-1.1 3.5-2.1c1.9-1 5.3-2.4 7.9-3.6c2.6-1.2 5.2-2.2 7.9-3.5c2.6-1.4 5.6-2.9 7.8-4.3c2.3-1.5 4.5-3 5.7-4.3c1.3-1.3 1.6-2.4 1.7-3.6c.2-1.2 0-2.2-.7-3.6c-.6-1.3-1.6-2.8-3.1-4.2c-1.5-1.5-3.6-2.9-5.7-4.3c-2.2-1.5-4.9-2.9-7.2-4.3c-2.2-1.4-4.6-2.9-6.4-4.3c-1.8-1.4-3.3-2.7-4.3-4.3c-1-1.5-1.6-3.3-1.7-5c-.1-1.7.4-3.4 1-5c.6-1.5 1.7-2.8 2.9-4.3c1.1-1.4 2.6-2.6 4.2-4.3c1.7-1.6 4.2-3.8 5.8-5.7c1.5-1.9 2.7-3.5 3.5-5.7c.9-2.1 1.3-4.5 1.5-7.1c.1-2.6-.4-5.7-.3-8.6c0-2.9 0-5.7.5-8.6c.6-2.8 1.6-5.7 2.6-8.5c1-2.9 2.4-5.3 3.6-8.6c1.2-3.3 2.5-7.2 3.6-11.4c1-4.3 1.9-9.6 2.8-14.3c.9-4.8 1.8-9.6 2.6-14.3c.7-4.8 1.4-9.5 2-14.3c.6-4.8 1.1-9.5 1.6-14.3c.4-4.7.8-5.5 1-14.3c.2-8.7.1-31.9.1-38.3z" fill="#87cefa" stroke="#000" stroke-opacity="0.72" stroke-width="0.9" stroke-linejoin="round"/>
<path d="M1123.7 1473.5H1196.9" stroke="#000" stroke-opacity="0.7" stroke-width="1" fill="none"/>
<path d="M1262.4 1268.3c0 10.5.1 50.2.3 63.1c.2 12.9.5 9.6.9 14.3c.4 4.8.8 9.5 1.4 14.3c.6 4.8 1.3 9.5 2.1 14.3c.9 4.7 1.9 9.5 2.9 14.3c1 4.7 2 10 2.9 14.3c.8 4.2 1.6 7.6 2.1 11.4c.5 3.8.9 7.6 1.1 11.4c.3 3.8.1 8.1.3 11.4c.3 3.4.5 6 1.2 8.6c.7 2.6 1.8 4.8 3.1 7.2c1.4 2.3 3.2 5 5 7.1c1.8 2.1 4 3.9 5.7 5.7c1.8 1.8 3.5 3.3 4.7 5c1.3 1.7 2.3 3.5 2.9 5c.6 1.6.8 2.9.7 4.3c-.1 1.4-.3 2.9-1.1 4.3c-.8 1.4-2.1 2.8-3.6 4.3c-1.5 1.4-3.8 2.8-5.7 4.3c-1.9 1.4-4.1 2.8-5.7 4.2c-1.6 1.5-3.1 2.9-4 4.3c-1 1.5-1.5 3-1.7 4.3c-.3 1.3-.2 2.4.2 3.6c.5 1.2 1.2 2.2 2.6 3.6c1.4 1.3 3.6 2.8 5.7 4.2c2.2 1.5 4.8 2.9 7.2 4.3c2.4 1.5 5.1 3 7.1 4.3c2 1.3 3.8 2.5 5 3.6c1.2 1.1 1.7 2.1 2.2 2.8c.4.8.6 1.6.7 1.9l-92.9 0c.1-.3.3-1.1.7-1.9c.5-.7 1-1.7 2.2-2.8c1.2-1.1 2.9-2.3 5-3.6c2-1.3 4.7-2.8 7.1-4.3c2.4-1.4 5-2.8 7.2-4.3c2.1-1.4 4.3-2.9 5.7-4.2c1.4-1.4 2.1-2.4 2.5-3.6c.5-1.2.6-2.3.3-3.6c-.2-1.3-.7-2.8-1.7-4.3c-.9-1.4-2.4-2.8-4-4.3c-1.6-1.4-3.8-2.8-5.7-4.2c-1.9-1.5-4.2-2.9-5.7-4.3c-1.6-1.5-2.8-2.9-3.6-4.3c-.8-1.4-1.1-2.9-1.1-4.3c-.1-1.4.1-2.7.7-4.3c.6-1.5 1.6-3.3 2.8-5c1.3-1.7 3-3.2 4.8-5c1.7-1.8 3.9-3.6 5.7-5.7c1.8-2.1 3.6-4.8 5-7.1c1.3-2.4 2.4-4.6 3.1-7.2c.7-2.6.9-5.2 1.2-8.6c.2-3.3 0-7.6.2-11.4c.3-3.8.6-7.6 1.2-11.4c.5-3.8 1.3-7.2 2.1-11.4c.9-4.3 1.9-9.6 2.9-14.3c.9-4.8 2-9.6 2.8-14.3c.9-4.8 1.6-9.5 2.2-14.3c.6-4.8 1-9.5 1.4-14.3c.4-4.7.7-1.4.9-14.3c.2-12.9.2-52.6.3-63.1z" fill="#1e90ff" stroke="#000" stroke-opacity="0.72" stroke-width="0.9" stroke-linejoin="round"/>
<path d="M1224.9 1478.5H1299.4" stroke="#000" stroke-opacity="0.7" stroke-width="1" fill="none"/>
<path d="M1098.5 1271.5V1546.5H1312.1" stroke="#6e6e6e" stroke-width="0.9" fill="none"/>
<path d="M1096.0 1317.5L1098.5 1317.5" stroke="#6e6e6e" stroke-width="0.9" fill="none"/>
<path d="M1096.0 1389.5L1098.5 1389.5" stroke="#6e6e6e" stroke-width="0.9" fill="none"/>
<path d="M1096.0 1461.5L1098.5 1461.5" stroke="#6e6e6e" stroke-width="0.9" fill="none"/>
<path d="M1096.0 1533.5L1098.5 1533.5" stroke="#6e6e6e" stroke-width="0.9" fill="none"/>
<text x="1092.5" y="1324.4" font-size="17.8" text-anchor="end" stroke="#000" stroke-width="0.5">7.5</text>
<text x="1092.5" y="1396.2" font-size="17.8" text-anchor="end" stroke="#000" stroke-width="0.5">5</text>
<text x="1092.5" y="1468.2" font-size="17.8" text-anchor="end" stroke="#000" stroke-width="0.5">2.5</text>
<text x="1092.5" y="1540.1" font-size="17.8" text-anchor="end" stroke="#000" stroke-width="0.5">0</text>
<path d="M1160.5 1546.5L1160.5 1549.0" stroke="#6e6e6e" stroke-width="0.9" fill="none"/>
<path d="M1261.5 1546.5L1261.5 1549.0" stroke="#6e6e6e" stroke-width="0.9" fill="none"/>
<text font-size="20.8" text-anchor="middle" stroke="#000" stroke-width="0.6" transform="translate(1211.0 1252.9) scale(1 1.02)"><tspan font-style="italic">P</tspan> = 5.9e-3</text>
<path d="M1157.5 1260.4L1266.0 1260.4" stroke="#000" stroke-width="1.7" fill="none"/>
<text font-size="28" text-anchor="middle" stroke="#000" stroke-width="0.7" transform="translate(1157.5 1574.3) scale(1 1.04)">Young</text>
<text font-size="28" text-anchor="middle" stroke="#000" stroke-width="0.7" transform="translate(1268.5 1574.3) scale(1 1.04)">Old</text>
<text font-size="28.5" text-anchor="middle" fill="#1f8fe8" stroke="#1f8fe8" stroke-width="0.7" transform="translate(1207.5 1612.5) scale(1 1.04)">qNSC/Astrocyte</text>
<path d="M1419.1 1272.7c.1 2.2 0 8.8.3 12.9c.3 4 .9 7.6 1.5 11.4c.5 3.8 1.2 7.6 2 11.4c.7 3.8 1.3 7.6 2.2 11.5c.9 3.8 2.1 7.6 3.2 11.4c1.1 3.8 2.3 7.6 3.6 11.4c1.2 3.8 2.4 7.6 3.8 11.4c1.4 3.9 3.1 7.7 4.7 11.5c1.6 3.8 3.4 7.6 5 11.4c1.7 3.8 3.5 7.6 5 11.4c1.6 3.8 2.9 7.6 4.3 11.5c1.4 3.8 3 8.1 4.3 11.4c1.3 3.3 2.4 5.9 3.3 8.6c.9 2.6 1.6 5 2 7.1c.4 2.1.6 3.8.6 5.7c0 1.9-.1 3.6-.6 5.7c-.5 2.2-1.3 4.6-2.4 7.2c-1.2 2.6-2.8 5.7-4.3 8.5c-1.5 2.9-3.2 5.8-4.7 8.6c-1.6 2.9-3 5.7-4.6 8.6c-1.6 2.8-3.3 5.7-5 8.6c-1.7 2.8-3.4 5.7-5 8.5c-1.6 2.9-3.1 5.7-4.6 8.6c-1.5 2.9-2.9 5.7-4.3 8.6c-1.3 2.8-2.7 5.9-3.7 8.5c-.9 2.7-1.5 4.8-2 7.2c-.4 2.4-.6 5-.7 7.1c-.1 2.2-.1 4.8-.1 5.7l-8.6 0c0-.9 0-3.5-.2-5.7c-.1-2.1-.2-4.7-.7-7.1c-.4-2.4-1-4.5-2-7.2c-.9-2.6-2.4-5.7-3.7-8.5c-1.3-2.9-2.8-5.7-4.3-8.6c-1.4-2.9-2.9-5.7-4.5-8.6c-1.6-2.8-3.4-5.7-5-8.5c-1.7-2.9-3.4-5.8-5-8.6c-1.6-2.9-3.1-5.7-4.6-8.6c-1.6-2.8-3.2-5.7-4.7-8.6c-1.5-2.8-3.2-5.9-4.3-8.5c-1.1-2.6-1.9-5-2.4-7.2c-.5-2.1-.6-3.8-.6-5.7c0-1.9.1-3.6.6-5.7c.4-2.1 1.1-4.5 2-7.1c.8-2.7 2-5.3 3.2-8.6c1.3-3.3 2.9-7.6 4.3-11.4c1.5-3.9 2.8-7.7 4.3-11.5c1.6-3.8 3.3-7.6 5-11.4c1.7-3.8 3.4-7.6 5-11.4c1.6-3.8 3.3-7.6 4.7-11.5c1.5-3.8 2.6-7.6 3.9-11.4c1.2-3.8 2.4-7.6 3.6-11.4c1.1-3.8 2.2-7.6 3.1-11.4c.9-3.9 1.6-7.7 2.3-11.5c.7-3.8 1.4-7.6 2-11.4c.6-3.8 1.1-7.4 1.4-11.4c.3-4.1.3-10.7.3-12.9z" fill="#ffa500" stroke="#000" stroke-opacity="0.72" stroke-width="0.9" stroke-linejoin="round"/>
<path d="M1372.7 1428.5H1464.4" stroke="#000" stroke-opacity="0.7" stroke-width="1" fill="none"/>
<path d="M1523.3 1295.3c.1 1.7.2 6.7.7 10.3c.5 3.6 1.2 7.6 2.1 11.4c1 3.8 2.3 7.6 3.6 11.4c1.3 3.8 2.8 7.6 4.3 11.5c1.5 3.8 3.3 7.6 5 11.4c1.7 3.8 3.3 7.6 5 11.4c1.7 3.8 3.3 7.6 5 11.4c1.7 3.9 3.3 7.9 5 11.5c1.7 3.5 3.6 6.9 5 10c1.4 3.1 2.7 5.9 3.6 8.5c.9 2.7 1.4 4.8 1.8 7.2c.4 2.4.7 4.7.6 7.1c-.1 2.4-.5 4.8-1 7.2c-.5 2.4-1.4 4.5-2.1 7.1c-.8 2.6-1.7 5.7-2.2 8.6c-.5 2.8-.7 5.7-.7 8.6c0 2.8.4 5.7 1 8.5c.6 2.9 1.7 5.7 2.6 8.6c.9 2.9 2.2 6 2.8 8.6c.7 2.6 1 5 1.2 7.1c.2 2.2.3 3.6 0 5.7c-.3 2.2-.9 4.8-1.9 7.2c-1 2.4-2.6 4.7-4.3 7.1c-1.6 2.4-3.8 4.8-5.7 7.2c-1.9 2.3-3.9 4.7-5.7 7.1c-1.8 2.4-3.7 5-5.3 7.1c-1.5 2.2-3 4.1-4 5.8c-1 1.6-1.8 3.5-2.1 4.2l-33.7 0c-.4-.7-1.2-2.6-2.2-4.2c-1-1.7-2.4-3.6-4-5.8c-1.5-2.1-3.4-4.7-5.3-7.1c-1.8-2.4-3.8-4.8-5.7-7.1c-1.9-2.4-4-4.8-5.7-7.2c-1.7-2.4-3.3-4.7-4.3-7.1c-1-2.4-1.5-5-1.8-7.2c-.4-2.1-.2-3.5 0-5.7c.1-2.1.4-4.5 1.1-7.1c.7-2.6 2-5.7 2.9-8.6c.9-2.9 1.9-5.7 2.5-8.6c.6-2.8 1-5.7 1-8.5c.1-2.9-.2-5.8-.7-8.6c-.5-2.9-1.4-6-2.1-8.6c-.7-2.6-1.6-4.7-2.2-7.1c-.5-2.4-.9-4.8-1-7.2c0-2.4.2-4.7.6-7.1c.4-2.4 1-4.5 1.9-7.2c.9-2.6 2.1-5.4 3.5-8.5c1.5-3.1 3.4-6.5 5-10c1.7-3.6 3.4-7.6 5-11.5c1.7-3.8 3.4-7.6 5-11.4c1.7-3.8 3.4-7.6 5-11.4c1.7-3.8 3.5-7.6 5-11.4c1.6-3.9 3-7.7 4.3-11.5c1.3-3.8 2.6-7.6 3.6-11.4c.9-3.8 1.7-7.8 2.1-11.4c.5-3.6.6-8.6.7-10.3z" fill="#ee0000" stroke="#000" stroke-opacity="0.72" stroke-width="0.9" stroke-linejoin="round"/>
<path d="M1481.7 1441.5H1559.7" stroke="#000" stroke-opacity="0.7" stroke-width="1" fill="none"/>
<path d="M1357.5 1269.0V1546.5H1566.1" stroke="#6e6e6e" stroke-width="0.9" fill="none"/>
<path d="M1355.0 1317.5L1357.5 1317.5" stroke="#6e6e6e" stroke-width="0.9" fill="none"/>
<path d="M1355.0 1389.5L1357.5 1389.5" stroke="#6e6e6e" stroke-width="0.9" fill="none"/>
<path d="M1355.0 1461.5L1357.5 1461.5" stroke="#6e6e6e" stroke-width="0.9" fill="none"/>
<path d="M1355.0 1533.5L1357.5 1533.5" stroke="#6e6e6e" stroke-width="0.9" fill="none"/>
<text x="1351.5" y="1323.8" font-size="17.8" text-anchor="end" stroke="#000" stroke-width="0.5">9</text>
<text x="1351.5" y="1396.1" font-size="17.8" text-anchor="end" stroke="#000" stroke-width="0.5">6</text>
<text x="1351.5" y="1468.1" font-size="17.8" text-anchor="end" stroke="#000" stroke-width="0.5">3</text>
<text x="1351.5" y="1539.9" font-size="17.8" text-anchor="end" stroke="#000" stroke-width="0.5">0</text>
<path d="M1418.5 1546.5L1418.5 1549.0" stroke="#6e6e6e" stroke-width="0.9" fill="none"/>
<path d="M1520.5 1546.5L1520.5 1549.0" stroke="#6e6e6e" stroke-width="0.9" fill="none"/>
<text font-size="20.8" text-anchor="middle" stroke="#000" stroke-width="0.6" transform="translate(1470.0 1250.4) scale(1 1.02)"><tspan font-style="italic">P</tspan> = 7.6e-3</text>
<path d="M1416.0 1256.9L1525.0 1256.9" stroke="#000" stroke-width="1.7" fill="none"/>
<text font-size="28" text-anchor="middle" stroke="#000" stroke-width="0.7" transform="translate(1421.0 1574.3) scale(1 1.04)">Young</text>
<text font-size="28" text-anchor="middle" stroke="#000" stroke-width="0.7" transform="translate(1518.5 1574.3) scale(1 1.04)">Old</text>
<text font-size="28.5" text-anchor="middle" fill="#e31a1c" stroke="#e31a1c" stroke-width="0.7" transform="translate(1462.5 1612.5) scale(1 1.04)">aNSC/NPC</text>
<path d="M1671.7 1268c0 10.2 0 48.3.2 61.4c.2 13.1.6 12.4 1 17.2c.4 4.7.7 7.6 1.4 11.4c.7 3.8 1.8 7.6 2.8 11.4c1 3.8 2.3 7.6 3.2 11.5c.9 3.8 1.3 8.1 2.1 11.4c.9 3.3 1.6 5.9 2.9 8.6c1.3 2.6 2.8 4.7 5 7.1c2.1 2.4 5.2 4.8 7.8 7.1c2.7 2.4 5.6 4.8 7.9 7.2c2.3 2.4 4.2 4.5 5.7 7.1c1.5 2.6 2.4 5.7 3.2 8.6c.7 2.9.8 5.7 1.1 8.6c.3 2.8.5 5.7.7 8.5c.3 2.9.9 6.2.7 8.6c-.1 2.4-.7 3.8-1.7 5.7c-.9 1.9-2.5 3.8-4 5.7c-1.5 1.9-3.5 3.9-5 5.8c-1.5 1.9-3 3.8-3.8 5.7c-.9 1.9-1.2 3.8-1.5 5.7c-.3 1.9 0 3.8-.4 5.7c-.4 1.9-1 3.8-2.1 5.7c-1.2 1.9-2.9 3.8-5 5.7c-2.2 1.9-5.6 3.8-7.9 5.7c-2.3 1.9-4.5 4.1-5.7 5.8c-1.3 1.6-1.6 2.9-1.7 4.2c-.1 1.4.6 2.2 1 3.6c.3 1.4.8 4.2 1 5l-18.3 0c.2-.8.7-3.6 1-5c.3-1.4 1.1-2.2 1-3.6c-.1-1.3-.5-2.6-1.7-4.2c-1.3-1.7-3.5-3.9-5.7-5.8c-2.3-1.9-5.8-3.8-7.9-5.7c-2.1-1.9-3.8-3.8-5-5.7c-1.2-1.9-1.7-3.8-2.1-5.7c-.5-1.9-.2-3.8-.5-5.7c-.3-1.9-.5-3.8-1.4-5.7c-.9-1.9-2.4-3.8-3.9-5.7c-1.4-1.9-3.5-3.9-5-5.8c-1.5-1.9-3-3.8-4-5.7c-.9-1.9-1.5-3.3-1.7-5.7c-.1-2.4.5-5.7.7-8.6c.3-2.8.4-5.7.8-8.5c.3-2.9.4-5.7 1.1-8.6c.7-2.9 1.7-6 3.1-8.6c1.5-2.6 3.5-4.7 5.8-7.1c2.2-2.4 5.2-4.8 7.8-7.2c2.6-2.3 5.7-4.7 7.9-7.1c2.1-2.4 3.7-4.5 5-7.1c1.3-2.7 2-5.3 2.8-8.6c.9-3.3 1.3-7.6 2.2-11.4c.9-3.9 2.1-7.7 3.1-11.5c1-3.8 2.2-7.6 2.9-11.4c.7-3.8 1-6.7 1.4-11.4c.4-4.8.8-4.1 1-17.2c.2-13.1.1-51.2.2-61.4z" fill="#dda0dd" stroke="#000" stroke-opacity="0.72" stroke-width="0.9" stroke-linejoin="round"/>
<path d="M1626.1 1455.5H1716.7" stroke="#000" stroke-opacity="0.7" stroke-width="1" fill="none"/>
<path d="M1775.6 1352c.1 1.5.3 6 .7 8.9c.4 2.9 1.1 5.7 1.8 8.5c.8 2.9 1.8 5.7 2.9 8.6c1.1 2.9 2.4 5.7 3.6 8.6c1.2 2.8 2.2 5.7 3.5 8.5c1.4 2.9 3.1 5.8 4.8 8.6c1.6 2.9 3.4 5.7 5.2 8.6c1.9 2.8 4.1 5.7 5.8 8.6c1.6 2.8 3.1 5.7 4.2 8.5c1.2 2.9 1.6 5.7 2.5 8.6c.8 2.9 1.4 5.7 2.5 8.6c1.2 2.8 3.3 6.2 4.3 8.5c1.1 2.4 1.7 4.1 2.2 5.8c.4 1.6.6 2.6.4 4.2c-.2 1.7-.8 3.9-1.4 5.8c-.7 1.9-1.9 3.8-2.6 5.7c-.7 1.9-1.4 3.8-1.7 5.7c-.4 1.9-.3 3.8-.4 5.7c-.2 1.9-.2 3.8-.8 5.7c-.6 1.9-1.1 3.6-2.8 5.7c-1.7 2.2-4.8 4.8-7.2 7.2c-2.3 2.4-5.1 4.7-7.1 7.1c-2 2.4-3.5 4.8-5 7.2c-1.5 2.3-3 5-3.9 7.1c-.8 2.1-1.1 4.8-1.4 5.7l-24.3 0c-.2-.9-.5-3.6-1.4-5.7c-.9-2.1-2.4-4.8-3.9-7.1c-1.4-2.4-2.9-4.8-5-7.2c-2-2.4-4.7-4.7-7.1-7.1c-2.4-2.4-5.5-5-7.1-7.2c-1.7-2.1-2.3-3.8-2.9-5.7c-.6-1.9-.5-3.8-.7-5.7c-.2-1.9-.1-3.8-.4-5.7c-.4-1.9-1-3.8-1.8-5.7c-.7-1.9-1.9-3.8-2.5-5.7c-.7-1.9-1.3-4.1-1.5-5.8c-.1-1.6 0-2.6.5-4.2c.4-1.7 1-3.4 2.1-5.8c1.1-2.3 3.2-5.7 4.3-8.5c1.1-2.9 1.7-5.7 2.6-8.6c.8-2.9 1.3-5.7 2.4-8.6c1.1-2.8 2.6-5.7 4.3-8.5c1.7-2.9 3.9-5.8 5.7-8.6c1.8-2.9 3.6-5.7 5.3-8.6c1.7-2.8 3.3-5.7 4.7-8.6c1.4-2.8 2.4-5.7 3.6-8.5c1.2-2.9 2.5-5.7 3.5-8.6c1.1-2.9 2.1-5.7 2.9-8.6c.8-2.8 1.4-5.6 1.9-8.5c.4-2.9.6-7.4.7-8.9z" fill="#9b30ff" stroke="#000" stroke-opacity="0.72" stroke-width="0.9" stroke-linejoin="round"/>
<path d="M1727.4 1462.5H1819.7" stroke="#000" stroke-opacity="0.7" stroke-width="1" fill="none"/>
<path d="M1610.5 1270.0V1546.5H1831.7" stroke="#6e6e6e" stroke-width="0.9" fill="none"/>
<path d="M1608.0 1299.5L1610.5 1299.5" stroke="#6e6e6e" stroke-width="0.9" fill="none"/>
<path d="M1608.0 1377.5L1610.5 1377.5" stroke="#6e6e6e" stroke-width="0.9" fill="none"/>
<path d="M1608.0 1455.5L1610.5 1455.5" stroke="#6e6e6e" stroke-width="0.9" fill="none"/>
<path d="M1608.0 1533.5L1610.5 1533.5" stroke="#6e6e6e" stroke-width="0.9" fill="none"/>
<text x="1603.5" y="1305.9" font-size="17.8" text-anchor="end" stroke="#000" stroke-width="0.5">15</text>
<text x="1603.5" y="1383.8" font-size="17.8" text-anchor="end" stroke="#000" stroke-width="0.5">10</text>
<text x="1603.5" y="1461.6" font-size="17.8" text-anchor="end" stroke="#000" stroke-width="0.5">5</text>
<text x="1603.5" y="1539.9" font-size="17.8" text-anchor="end" stroke="#000" stroke-width="0.5">0</text>
<path d="M1671.5 1546.5L1671.5 1549.0" stroke="#6e6e6e" stroke-width="0.9" fill="none"/>
<path d="M1773.5 1546.5L1773.5 1549.0" stroke="#6e6e6e" stroke-width="0.9" fill="none"/>
<text font-size="20.8" text-anchor="middle" stroke="#000" stroke-width="0.6" transform="translate(1721.0 1245.4) scale(1 1.02)"><tspan font-style="italic">P</tspan> = 4.8e-2</text>
<path d="M1667.0 1251.4L1775.5 1251.4" stroke="#000" stroke-width="1.7" fill="none"/>
<text font-size="28" text-anchor="middle" stroke="#000" stroke-width="0.7" transform="translate(1672.5 1574.3) scale(1 1.04)">Young</text>
<text font-size="28" text-anchor="middle" stroke="#000" stroke-width="0.7" transform="translate(1770.0 1574.3) scale(1 1.04)">Old</text>
<text font-size="28.5" text-anchor="middle" fill="#7d0f7d" stroke="#7d0f7d" stroke-width="0.7" transform="translate(1717.5 1612.5) scale(1 1.04)">Neuroblast</text>
<text x="-1.7" y="1689.8" font-size="43.5" stroke="#000" stroke-width="0.5" font-weight="bold">i</text>
<text font-size="28.4" text-anchor="middle" stroke="#000" stroke-width="0.8" transform="translate(498.0 1718.2) scale(1 1.045)">In vivo single-cell RNA-seq - cAMP mediated signaling</text>
<text font-size="28.3" text-anchor="middle" stroke="#000" stroke-width="0.8" transform="translate(80.0 1916.0) rotate(-90) scale(1 1.04)">Sum of pathway expression</text>
<path d="M218 1782.1c0 4.5-.2 20.5.1 26.9c.4 6.4.9 7.9 1.8 11.4c.8 3.6 2.1 6.7 3.5 10c1.5 3.4 3.4 6.7 5 10c1.7 3.4 3.4 6.7 5 10c1.7 3.4 3.4 6.7 5 10c1.7 3.4 3.6 6.7 5 10c1.5 3.4 2.5 6.7 3.6 10c1.1 3.4 1.7 6.7 2.9 10c1.1 3.4 2.8 6.9 4.2 10c1.5 3.1 3 5.7 4.3 8.6c1.3 2.9 2.8 6 3.6 8.6c.8 2.6 1.1 5 1.4 7.1c.3 2.2.4 3.8.3 5.7c0 1.9 0 3.6-.6 5.7c-.5 2.2-1.4 4.6-2.5 7.2c-1.2 2.6-2.9 5.7-4.3 8.6c-1.4 2.8-3 5.7-4.3 8.5c-1.3 2.9-2.3 5.7-3.6 8.6c-1.3 2.9-2.7 5.7-4.3 8.6c-1.5 2.8-3.3 5.7-5 8.5c-1.6 2.9-3.3 5.8-5 8.6c-1.6 2.9-3.4 5.7-4.7 8.6c-1.2 2.8-1.9 5.7-2.8 8.6c-.9 2.8-1.6 5.7-2.5 8.5c-.8 2.9-1.7 6-2.4 8.6c-.6 2.6-1.1 4.7-1.4 7.1c-.3 2.5-.5 6.2-.6 7.5l-4 0c-.1-1.3-.2-5-.6-7.5c-.3-2.4-.7-4.5-1.4-7.1c-.6-2.6-1.6-5.7-2.4-8.6c-.8-2.8-1.6-5.7-2.4-8.5c-.9-2.9-1.6-5.8-2.9-8.6c-1.3-2.9-3.1-5.7-4.7-8.6c-1.6-2.8-3.3-5.7-5-8.6c-1.7-2.8-3.5-5.7-5-8.5c-1.6-2.9-3-5.7-4.3-8.6c-1.3-2.9-2.3-5.7-3.6-8.6c-1.3-2.8-2.8-5.7-4.3-8.5c-1.4-2.9-3.1-6-4.2-8.6c-1.2-2.6-2.1-5-2.6-7.2c-.5-2.1-.5-3.8-.6-5.7c0-1.9 0-3.5.3-5.7c.3-2.1.6-4.5 1.4-7.1c.9-2.6 2.3-5.7 3.6-8.6c1.3-2.9 2.9-5.5 4.3-8.6c1.4-3.1 3.1-6.6 4.3-10c1.2-3.3 1.8-6.6 2.8-10c1.1-3.3 2.2-6.6 3.6-10c1.4-3.3 3.3-6.6 5-10c1.7-3.3 3.3-6.6 5-10c1.7-3.3 3.3-6.6 5-10c1.7-3.3 3.6-6.6 5-10c1.4-3.3 2.7-6.4 3.6-10c.9-3.5 1.4-5 1.7-11.4c.3-6.4.1-22.4.2-26.9z" fill="#87cefa" stroke="#000" stroke-opacity="0.72" stroke-width="0.9" stroke-linejoin="round"/>
<path d="M171.8 1928.5H263.6" stroke="#000" stroke-opacity="0.7" stroke-width="1" fill="none"/>
<path d="M319.7 1780.4c0 4.8.1 21.9.3 28.6c.2 6.7.4 7.6.9 11.4c.4 3.8 1.1 7.6 1.8 11.5c.7 3.8 1.5 7.6 2.4 11.4c1 3.8 1.9 7.8 3.3 11.4c1.4 3.6 3.1 6.9 5 10c1.9 3.1 4.1 5.7 6.5 8.6c2.3 2.8 5.3 5.9 7.8 8.6c2.5 2.6 5.1 4.7 7.2 7.1c2 2.4 3.6 4.8 5 7.1c1.3 2.4 2.2 4.6 2.8 7.2c.6 2.6.7 5.7.7 8.6c0 2.8-.3 5.9-.7 8.5c-.3 2.6-1.2 4.6-1.4 7.2c-.2 2.6-.1 5.7.4 8.5c.5 2.9 1.8 5.8 2.4 8.6c.7 2.9 1.5 6 1.5 8.6c0 2.6-.5 4.5-1.5 7.1c-.9 2.6-2.7 5.7-4.2 8.6c-1.6 2.9-3.4 5.7-5 8.6c-1.7 2.8-3 5.7-5 8.5c-2.1 2.9-4.8 5.8-7.2 8.6c-2.4 2.9-5.1 5.7-7.1 8.6c-2.1 2.8-3.6 5.7-5 8.6c-1.5 2.8-2.5 5.7-3.6 8.5c-1.1 2.9-2.1 6-2.9 8.6c-.7 2.6-1 4.7-1.4 7.1c-.3 2.5-.6 6.2-.7 7.5l-5.1 0c-.2-1.3-.4-5-.8-7.5c-.3-2.4-.7-4.5-1.4-7.1c-.7-2.6-1.8-5.7-2.8-8.6c-1.1-2.8-2.2-5.7-3.6-8.5c-1.4-2.9-3-5.8-5-8.6c-2-2.9-4.8-5.7-7.2-8.6c-2.3-2.8-5.1-5.7-7.1-8.6c-2-2.8-3.3-5.7-5-8.5c-1.7-2.9-3.5-5.7-5-8.6c-1.5-2.9-3.3-6-4.3-8.6c-.9-2.6-1.4-4.5-1.4-7.1c0-2.6.8-5.7 1.4-8.6c.7-2.8 2-5.7 2.4-8.6c.5-2.8.6-5.9.5-8.5c-.2-2.6-1.1-4.6-1.5-7.2c-.3-2.6-.7-5.7-.7-8.5c0-2.9.1-6 .7-8.6c.6-2.6 1.6-4.8 2.9-7.2c1.3-2.3 3-4.7 5-7.1c2-2.4 4.6-4.5 7.1-7.1c2.5-2.7 5.5-5.8 7.9-8.6c2.4-2.9 4.5-5.5 6.4-8.6c1.9-3.1 3.6-6.4 5-10c1.4-3.6 2.4-7.6 3.3-11.4c1-3.8 1.7-7.6 2.4-11.4c.8-3.9 1.4-7.7 1.9-11.5c.5-3.8.7-4.7.9-11.4c.2-6.7.2-23.8.3-28.6z" fill="#1e90ff" stroke="#000" stroke-opacity="0.72" stroke-width="0.9" stroke-linejoin="round"/>
<path d="M276.7 1937.5H362.1" stroke="#000" stroke-opacity="0.7" stroke-width="1" fill="none"/>
<path d="M156.5 1781.0V2055.5H376.0" stroke="#6e6e6e" stroke-width="0.9" fill="none"/>
<path d="M154.0 1786.5L156.5 1786.5" stroke="#6e6e6e" stroke-width="0.9" fill="none"/>
<path d="M154.0 1851.5L156.5 1851.5" stroke="#6e6e6e" stroke-width="0.9" fill="none"/>
<path d="M154.0 1915.5L156.5 1915.5" stroke="#6e6e6e" stroke-width="0.9" fill="none"/>
<path d="M154.0 1979.5L156.5 1979.5" stroke="#6e6e6e" stroke-width="0.9" fill="none"/>
<path d="M154.0 2043.5L156.5 2043.5" stroke="#6e6e6e" stroke-width="0.9" fill="none"/>
<text x="149.0" y="1793.4" font-size="17.8" text-anchor="end" stroke="#000" stroke-width="0.5">20</text>
<text x="149.0" y="1857.6" font-size="17.8" text-anchor="end" stroke="#000" stroke-width="0.5">15</text>
<text x="149.0" y="1921.9" font-size="17.8" text-anchor="end" stroke="#000" stroke-width="0.5">10</text>
<text x="149.0" y="1985.8" font-size="17.8" text-anchor="end" stroke="#000" stroke-width="0.5">5</text>
<text x="149.0" y="2049.8" font-size="17.8" text-anchor="end" stroke="#000" stroke-width="0.5">0</text>
<path d="M217.5 2055.5L217.5 2058.0" stroke="#6e6e6e" stroke-width="0.9" fill="none"/>
<path d="M319.5 2055.5L319.5 2058.0" stroke="#6e6e6e" stroke-width="0.9" fill="none"/>
<text font-size="20.8" text-anchor="middle" stroke="#000" stroke-width="0.6" transform="translate(270.0 1762.9) scale(1 1.02)"><tspan font-style="italic">P</tspan> = 3.3e-4</text>
<path d="M216.5 1769.4L325.5 1769.4" stroke="#000" stroke-width="1.7" fill="none"/>
<text font-size="28" text-anchor="middle" stroke="#000" stroke-width="0.7" transform="translate(217.5 2083.3) scale(1 1.04)">Young</text>
<text font-size="28" text-anchor="middle" stroke="#000" stroke-width="0.7" transform="translate(327.5 2083.3) scale(1 1.04)">Old</text>
<text font-size="28.5" text-anchor="middle" fill="#1f8fe8" stroke="#1f8fe8" stroke-width="0.7" transform="translate(266.5 2122.5) scale(1 1.04)">qNSC/Astrocyte</text>
<path d="M479.3 1782.4c.1 4.4.1 20.1.4 26.5c.3 6.3.7 8.1 1.4 11.4c.8 3.3 1.7 5.7 2.9 8.6c1.2 2.8 2.8 5.7 4.6 8.5c1.8 2.9 4 5.7 6.1 8.6c2.1 2.9 4.4 5.7 6.4 8.6c2.1 2.8 3.9 5.7 5.8 8.5c1.9 2.9 3.9 6 5.7 8.6c1.8 2.6 3.5 5 5 7.2c1.4 2.1 2.5 3.8 3.5 5.7c1.1 1.9 2 3.8 2.6 5.7c.6 1.9.9 3.8 1 5.7c.1 1.9.1 3.8-.3 5.7c-.3 1.9-.9 3.8-1.8 5.7c-.9 1.9-2.5 3.8-3.6 5.7c-1.1 1.9-2.3 3.9-2.9 5.8c-.5 1.9 0 3.8-.4 5.7c-.3 1.9-.8 3.8-1.7 5.7c-.9 1.9-1.9 3.6-3.6 5.7c-1.6 2.1-4.1 4.5-6.4 7.1c-2.3 2.7-5 5.8-7.1 8.6c-2.2 2.9-4.1 5.7-5.8 8.6c-1.6 2.8-3.1 5.7-4.2 8.6c-1.2 2.8-2.1 5.2-2.9 8.5c-.8 3.4-1.6 7.6-2.1 11.5c-.6 3.8-.8 7.6-1 11.4c-.3 3.8-.5 7.6-.6 11.4c-.2 3.8-.2 7.6-.3 11.4c-.1 3.9-.2 8.1-.3 11.5c-.1 3.4-.2 7.4-.3 8.8l-.8 0c-.1-1.4-.2-5.4-.3-8.8c-.1-3.4-.2-7.6-.3-11.5c-.1-3.8-.1-7.6-.3-11.4c-.1-3.8-.3-7.6-.6-11.4c-.2-3.8-.4-7.6-1-11.4c-.5-3.9-1.3-8.1-2.1-11.5c-.8-3.3-1.7-5.7-2.9-8.5c-1.1-2.9-2.6-5.8-4.2-8.6c-1.7-2.9-3.6-5.7-5.8-8.6c-2.1-2.8-4.8-5.9-7.1-8.6c-2.3-2.6-4.8-5-6.4-7.1c-1.7-2.1-2.7-3.8-3.6-5.7c-.9-1.9-1.4-3.8-1.7-5.7c-.4-1.9.1-3.8-.4-5.7c-.6-1.9-1.8-3.9-2.9-5.8c-1.1-1.9-2.7-3.8-3.6-5.7c-.9-1.9-1.5-3.8-1.8-5.7c-.4-1.9-.4-3.8-.3-5.7c.1-1.9.4-3.8 1-5.7c.6-1.9 1.5-3.8 2.6-5.7c1-1.9 2.1-3.6 3.5-5.7c1.5-2.2 3.2-4.6 5-7.2c1.8-2.6 3.8-5.7 5.7-8.6c1.9-2.8 3.7-5.7 5.8-8.5c2-2.9 4.3-5.7 6.4-8.6c2.1-2.9 4.3-5.7 6.1-8.6c1.8-2.8 3.4-5.7 4.6-8.5c1.2-2.9 2.1-5.3 2.9-8.6c.7-3.3 1.1-5.1 1.4-11.4c.3-6.4.3-22.1.4-26.5z" fill="#ffa500" stroke="#000" stroke-opacity="0.72" stroke-width="0.9" stroke-linejoin="round"/>
<path d="M434.4 1904.5H523.6" stroke="#000" stroke-opacity="0.7" stroke-width="1" fill="none"/>
<path d="M587.1 1827.4c.6 1.2 1.9 4.6 3.3 7.2c1.4 2.6 3.3 5.7 5 8.5c1.8 2.9 3.6 5.8 5.5 8.6c1.9 2.9 4 5.7 6 8.6c2 2.8 3.9 5.7 6 8.6c2 2.8 4.4 5.9 6.1 8.5c1.7 2.6 3.1 4.8 4.3 7.2c1.1 2.4 2 4.7 2.6 7.1c.6 2.4.8 4.8 1 7.2c.1 2.3.2 4.7 0 7.1c-.3 2.4-.9 4.5-1.5 7.1c-.6 2.7-1.2 5.8-2.1 8.6c-1 2.9-2.2 5.7-3.6 8.6c-1.3 2.8-2.9 5.7-4.6 8.6c-1.6 2.8-3.5 5.7-5.4 8.5c-1.8 2.9-3.8 5.7-5.7 8.6c-1.9 2.9-4 5.7-5.7 8.6c-1.7 2.8-3.3 5.7-4.6 8.5c-1.2 2.9-2.2 5.8-2.8 8.6c-.7 2.9-.9 5.7-1.2 8.6c-.3 2.8-.4 5.5-.7 8.6c-.3 3.1-.6 6.9-1 10c-.4 3.1-.9 6.1-1.1 8.5c-.3 2.4-.4 4.8-.5 5.7l-10.5 0c-.1-.9-.2-3.3-.5-5.7c-.2-2.4-.8-5.4-1.1-8.5c-.4-3.1-.7-6.9-1-10c-.3-3.1-.4-5.8-.7-8.6c-.3-2.9-.5-5.7-1.2-8.6c-.6-2.8-1.6-5.7-2.8-8.6c-1.3-2.8-2.9-5.7-4.6-8.5c-1.7-2.9-3.8-5.7-5.7-8.6c-1.9-2.9-3.9-5.7-5.7-8.6c-1.9-2.8-3.8-5.7-5.5-8.5c-1.6-2.9-3.2-5.8-4.5-8.6c-1.4-2.9-2.6-5.7-3.6-8.6c-1-2.8-1.5-5.9-2.1-8.6c-.6-2.6-1.2-4.7-1.5-7.1c-.2-2.4-.1-4.8 0-7.1c.2-2.4.4-4.8 1-7.2c.6-2.4 1.5-4.7 2.6-7.1c1.1-2.4 2.5-4.6 4.3-7.2c1.7-2.6 4.1-5.7 6.1-8.5c2.1-2.9 4-5.8 6-8.6c2-2.9 4.1-5.7 6-8.6c1.9-2.8 3.7-5.7 5.5-8.6c1.7-2.8 3.6-5.9 5-8.5c1.3-2.6 2.7-6 3.2-7.2z" fill="#ee0000" stroke="#000" stroke-opacity="0.72" stroke-width="0.9" stroke-linejoin="round"/>
<path d="M536.9 1913.5H625.4" stroke="#000" stroke-opacity="0.7" stroke-width="1" fill="none"/>
<path d="M417.5 1777.5V2055.5H626.1" stroke="#6e6e6e" stroke-width="0.9" fill="none"/>
<path d="M415.0 1832.5L417.5 1832.5" stroke="#6e6e6e" stroke-width="0.9" fill="none"/>
<path d="M415.0 1913.5L417.5 1913.5" stroke="#6e6e6e" stroke-width="0.9" fill="none"/>
<path d="M415.0 1992.5L417.5 1992.5" stroke="#6e6e6e" stroke-width="0.9" fill="none"/>
<text x="412.5" y="1839.4" font-size="17.8" text-anchor="end" stroke="#000" stroke-width="0.5">15</text>
<text x="412.5" y="1919.6" font-size="17.8" text-anchor="end" stroke="#000" stroke-width="0.5">10</text>
<text x="412.5" y="1999.4" font-size="17.8" text-anchor="end" stroke="#000" stroke-width="0.5">5</text>
<path d="M478.5 2055.5L478.5 2058.0" stroke="#6e6e6e" stroke-width="0.9" fill="none"/>
<path d="M580.5 2055.5L580.5 2058.0" stroke="#6e6e6e" stroke-width="0.9" fill="none"/>
<text font-size="20.8" text-anchor="middle" stroke="#000" stroke-width="0.6" transform="translate(529.0 1761.4) scale(1 1.02)">NS</text>
<path d="M475.0 1766.4L584.0 1766.4" stroke="#000" stroke-width="1.7" fill="none"/>
<text font-size="28" text-anchor="middle" stroke="#000" stroke-width="0.7" transform="translate(480.0 2083.3) scale(1 1.04)">Young</text>
<text font-size="28" text-anchor="middle" stroke="#000" stroke-width="0.7" transform="translate(577.5 2083.3) scale(1 1.04)">Old</text>
<text font-size="28.5" text-anchor="middle" fill="#e31a1c" stroke="#e31a1c" stroke-width="0.7" transform="translate(521.5 2122.5) scale(1 1.04)">aNSC/NPC</text>
<path d="M732.6 1780c.1 2 .1 7.9.5 11.7c.5 3.9 1.3 7.6 2.2 11.4c.9 3.9 2 7.7 3.3 11.5c1.3 3.8 2.6 7.6 4.5 11.4c2 3.8 4.9 7.9 7.2 11.4c2.2 3.6 4.3 6.7 6.4 10c2.2 3.4 4.5 6.7 6.4 10c1.9 3.4 3.5 6.7 5 10c1.6 3.4 3.1 6.7 4.3 10c1.3 3.4 2.5 6.9 3.3 10c.8 3.1 1.2 6 1.4 8.6c.3 2.6.5 4.8.3 7.1c-.2 2.4-.8 4.8-1.4 7.2c-.6 2.4-1.3 4.5-2.1 7.1c-.9 2.6-2.1 5.7-2.9 8.6c-.8 2.9-1.3 5.7-2.1 8.6c-.9 2.8-1.8 5.7-2.9 8.5c-1.1 2.9-2.4 5.8-3.6 8.6c-1.2 2.9-2.4 5.7-3.5 8.6c-1.2 2.8-2.3 5.7-3.6 8.6c-1.3 2.8-2.8 5.7-4.3 8.5c-1.5 2.9-3.6 5.7-5 8.6c-1.4 2.9-2.5 5.7-3.1 8.6c-.7 2.8-.5 5.7-.9 8.5c-.4 2.9-1 5.8-1.7 8.6c-.8 2.9-1.9 5.7-2.9 8.6c-.9 2.8-2.1 5.7-2.8 8.6c-.7 2.8-1.2 6.1-1.5 8.5c-.2 2.5 0 5 0 6l-3.4 0c0-1 .3-3.5 0-6c-.2-2.4-.7-5.7-1.4-8.5c-.7-2.9-1.9-5.8-2.9-8.6c-.9-2.9-2.1-5.7-2.8-8.6c-.8-2.8-1.3-5.7-1.7-8.6c-.5-2.8-.2-5.7-.9-8.5c-.7-2.9-1.8-5.7-3.1-8.6c-1.4-2.9-3.5-5.7-5-8.6c-1.6-2.8-3-5.7-4.3-8.5c-1.3-2.9-2.4-5.8-3.6-8.6c-1.2-2.9-2.4-5.7-3.6-8.6c-1.2-2.8-2.5-5.7-3.5-8.6c-1.1-2.8-2.1-5.7-2.9-8.5c-.8-2.9-1.3-5.7-2.1-8.6c-.9-2.9-2.1-6-2.9-8.6c-.8-2.6-1.5-4.7-2.1-7.1c-.6-2.4-1.3-4.8-1.5-7.2c-.2-2.3 0-4.5.3-7.1c.3-2.6.7-5.5 1.4-8.6c.8-3.1 2.1-6.6 3.3-10c1.3-3.3 2.8-6.6 4.3-10c1.6-3.3 3.1-6.6 5-10c1.9-3.3 4.3-6.6 6.4-10c2.2-3.3 4.2-6.4 6.5-10c2.2-3.5 5.2-7.6 7.1-11.4c2-3.8 3.3-7.6 4.6-11.4c1.3-3.8 2.4-7.6 3.3-11.5c.9-3.8 1.7-7.5 2.1-11.4c.5-3.8.5-9.7.6-11.7z" fill="#dda0dd" stroke="#000" stroke-opacity="0.72" stroke-width="0.9" stroke-linejoin="round"/>
<path d="M686.9 1910.5H775.9" stroke="#000" stroke-opacity="0.7" stroke-width="1" fill="none"/>
<path d="M839.6 1798.9c.4 1.6 1.9 6.4 2.8 10c1 3.5 2.1 7.6 2.9 11.4c.8 3.8 1.4 7.6 2.1 11.4c.7 3.8 1.5 7.6 2.2 11.4c.7 3.9 1.4 7.7 2.1 11.5c.7 3.8 1.4 7.8 2.2 11.4c.7 3.6 1.3 6.9 2.1 10c.8 3.1 1.7 5.7 2.9 8.6c1.1 2.8 2.6 5.7 4.2 8.5c1.7 2.9 4 6 5.8 8.6c1.7 2.6 3.5 4.8 5 7.2c1.4 2.3 2.6 5 3.5 7.1c.9 2.1 1.4 3.9 1.7 5.7c.4 1.8.6 3.3.5 5c-.1 1.7-.3 3.2-1 5c-.7 1.8-1.8 3.6-3.3 5.7c-1.5 2.2-3.7 4.6-5.7 7.2c-2.1 2.6-4.7 5.7-6.5 8.5c-1.7 2.9-3.1 5.8-4.2 8.6c-1.2 2.9-1.9 5.7-2.9 8.6c-1 2.8-1.9 5.7-2.9 8.6c-.9 2.8-1.9 5.4-2.8 8.5c-1 3.1-1.9 6.5-2.9 10c-.9 3.6-1.8 7.6-2.8 11.5c-1.1 3.8-2.6 7.8-3.6 11.4c-1 3.6-1.8 6.9-2.4 10c-.7 3.1-1.3 6.4-1.6 8.6c-.3 2.1-.2 3.8-.3 4.5l-6.3 0c0-.7.1-2.4-.3-4.5c-.3-2.2-.9-5.5-1.5-8.6c-.7-3.1-1.5-6.4-2.5-10c-1-3.6-2.5-7.6-3.5-11.4c-1.1-3.9-1.9-7.9-2.9-11.5c-.9-3.5-1.9-6.9-2.8-10c-1-3.1-1.9-5.7-2.9-8.5c-1-2.9-1.9-5.8-2.9-8.6c-.9-2.9-1.6-5.7-2.8-8.6c-1.2-2.8-2.5-5.7-4.3-8.6c-1.8-2.8-4.4-5.9-6.4-8.5c-2.1-2.6-4.2-5-5.7-7.2c-1.5-2.1-2.6-3.9-3.3-5.7c-.7-1.8-.9-3.3-1-5c-.1-1.7 0-3.2.4-5c.4-1.8.8-3.6 1.7-5.7c.9-2.1 2.2-4.8 3.6-7.1c1.4-2.4 3.2-4.6 5-7.2c1.8-2.6 4-5.7 5.7-8.6c1.7-2.8 3.1-5.7 4.3-8.5c1.2-2.9 2-5.5 2.8-8.6c.9-3.1 1.5-6.4 2.2-10c.7-3.6 1.4-7.6 2.1-11.4c.7-3.8 1.5-7.6 2.2-11.5c.7-3.8 1.4-7.6 2.1-11.4c.7-3.8 1.3-7.6 2.2-11.4c.8-3.8 1.9-7.9 2.8-11.4c1-3.6 2.4-8.4 2.9-10z" fill="#9b30ff" stroke="#000" stroke-opacity="0.72" stroke-width="0.9" stroke-linejoin="round"/>
<path d="M787.9 1922.5H879.2" stroke="#000" stroke-opacity="0.7" stroke-width="1" fill="none"/>
<path d="M670.5 1777.5V2055.5H890.0" stroke="#6e6e6e" stroke-width="0.9" fill="none"/>
<path d="M668.0 1808.5L670.5 1808.5" stroke="#6e6e6e" stroke-width="0.9" fill="none"/>
<path d="M668.0 1886.5L670.5 1886.5" stroke="#6e6e6e" stroke-width="0.9" fill="none"/>
<path d="M668.0 1964.5L670.5 1964.5" stroke="#6e6e6e" stroke-width="0.9" fill="none"/>
<path d="M668.0 2043.5L670.5 2043.5" stroke="#6e6e6e" stroke-width="0.9" fill="none"/>
<text x="661.8" y="1786.5" font-size="17.8" text-anchor="end" stroke="#000" stroke-width="0.5">15</text>
<text x="661.8" y="1873.2" font-size="17.8" text-anchor="end" stroke="#000" stroke-width="0.5">10</text>
<text x="661.8" y="1960.1" font-size="17.8" text-anchor="end" stroke="#000" stroke-width="0.5">5</text>
<text x="661.8" y="2047.1" font-size="17.8" text-anchor="end" stroke="#000" stroke-width="0.5">0</text>
<path d="M731.5 2055.5L731.5 2058.0" stroke="#6e6e6e" stroke-width="0.9" fill="none"/>
<path d="M833.5 2055.5L833.5 2058.0" stroke="#6e6e6e" stroke-width="0.9" fill="none"/>
<text font-size="20.8" text-anchor="middle" stroke="#000" stroke-width="0.6" transform="translate(776.0 1756.4) scale(1 1.02)">NS</text>
<path d="M726.0 1761.4L835.0 1761.4" stroke="#000" stroke-width="1.7" fill="none"/>
<text font-size="28" text-anchor="middle" stroke="#000" stroke-width="0.7" transform="translate(731.0 2083.3) scale(1 1.04)">Young</text>
<text font-size="28" text-anchor="middle" stroke="#000" stroke-width="0.7" transform="translate(818.0 2083.3) scale(1 1.04)">Old</text>
<text font-size="28.5" text-anchor="middle" fill="#7d0f7d" stroke="#7d0f7d" stroke-width="0.7" transform="translate(776.5 2122.5) scale(1 1.04)">Neuroblast</text>
<text x="935.1" y="1690.3" font-size="43.5" stroke="#000" stroke-width="0.5" font-weight="bold">j</text>
<text font-size="28.4" text-anchor="middle" stroke="#000" stroke-width="0.8" transform="translate(1442.7 1718.2) scale(1 1.045)">In vivo single-cell RNA-seq - positive regulation neuron migration</text>
<text font-size="28.3" text-anchor="middle" stroke="#000" stroke-width="0.8" transform="translate(1030.0 1916.0) rotate(-90) scale(1 1.04)">Sum of pathway expression</text>
<path d="M1163.4 1783.6c.1 1.5.4 5.8.7 9.3c.4 3.4.9 7.6 1.5 11.4c.5 3.8 1.1 7.6 1.7 11.4c.6 3.8 1.1 7.6 1.8 11.4c.8 3.9 1.7 7.7 2.9 11.5c1.2 3.8 2.6 7.6 4.3 11.4c1.7 3.8 3.8 7.6 5.7 11.4c1.9 3.8 3.9 7.6 5.7 11.5c1.8 3.8 3.5 7.6 5 11.4c1.6 3.8 3 7.6 4.3 11.4c1.3 3.8 2.5 7.6 3.6 11.4c1 3.9 1.9 7.7 2.8 11.5c.9 3.8 1.7 7.6 2.5 11.4c.7 3.8 1.4 8.1 1.8 11.4c.4 3.4.6 5.7.4 8.6c-.1 2.9-.3 5.7-1.1 8.6c-.8 2.8-2.3 5.9-3.6 8.5c-1.3 2.7-2.8 4.8-4.3 7.2c-1.4 2.4-3.1 5-4.2 7.1c-1.2 2.2-1.8 3.8-2.5 5.7c-.6 1.9-1.1 3.9-1.4 5.8c-.3 1.9-.1 3.8-.4 5.7c-.3 1.9-.6 3.8-1.5 5.7c-.8 1.9-2.1 3.8-3.5 5.7c-1.5 1.9-3.4 3.8-5 5.7c-1.7 1.9-3.5 3.8-5 5.7c-1.6 1.9-3.1 3.8-4.3 5.7c-1.2 1.9-2.3 3.9-2.9 5.8c-.6 1.9-.6 3.6-.7 5.7c-.1 2.1 0 5.7 0 6.8l-11.4 0c0-1.1.1-4.7 0-6.8c-.1-2.1-.1-3.8-.7-5.7c-.6-1.9-1.7-3.9-2.9-5.8c-1.2-1.9-2.7-3.8-4.3-5.7c-1.5-1.9-3.3-3.8-5-5.7c-1.6-1.9-3.5-3.8-5-5.7c-1.4-1.9-2.7-3.8-3.5-5.7c-.9-1.9-1.2-3.8-1.5-5.7c-.3-1.9-.1-3.8-.4-5.7c-.3-1.9-.8-3.9-1.4-5.8c-.7-1.9-1.3-3.5-2.5-5.7c-1.1-2.1-2.8-4.7-4.2-7.1c-1.5-2.4-3-4.5-4.3-7.2c-1.3-2.6-2.8-5.7-3.6-8.5c-.8-2.9-1-5.7-1.1-8.6c-.2-2.9 0-5.2.4-8.6c.4-3.3 1.1-7.6 1.8-11.4c.8-3.8 1.6-7.6 2.5-11.4c.9-3.8 1.8-7.6 2.8-11.5c1.1-3.8 2.3-7.6 3.6-11.4c1.3-3.8 2.7-7.6 4.3-11.4c1.5-3.8 3.2-7.6 5-11.4c1.8-3.9 3.8-7.7 5.7-11.5c1.9-3.8 4-7.6 5.7-11.4c1.7-3.8 3.1-7.6 4.3-11.4c1.2-3.8 2.1-7.6 2.9-11.5c.7-3.8 1.2-7.6 1.8-11.4c.6-3.8 1.2-7.6 1.7-11.4c.6-3.8 1.1-8 1.5-11.4c.3-3.5.6-7.8.7-9.3z" fill="#87cefa" stroke="#000" stroke-opacity="0.72" stroke-width="0.9" stroke-linejoin="round"/>
<path d="M1116.8 1938.5H1207.2" stroke="#000" stroke-opacity="0.7" stroke-width="1" fill="none"/>
<path d="M1264.7 1782.6c.1 5 .1 22.8.3 30.3c.2 7.4.4 9.5.9 14.2c.4 4.8 1 9.6 1.8 14.3c.8 4.8 1.8 9.6 2.9 14.3c1 4.8 2.3 10 3.5 14.3c1.3 4.3 2.5 7.6 4 11.4c1.6 3.8 3.5 7.6 5.3 11.5c1.9 3.8 3.8 7.6 5.7 11.4c1.9 3.8 4 7.6 5.8 11.4c1.7 3.8 3.4 7.9 5 11.4c1.5 3.6 2.9 6.9 4.2 10c1.4 3.1 2.7 6 3.6 8.6c.9 2.6 1.5 5 1.9 7.2c.3 2.1.4 3.8.3 5.7c-.2 1.9-.8 3.8-1.5 5.7c-.7 1.9-1.9 3.8-2.8 5.7c-1 1.9-2.2 3.8-2.9 5.7c-.7 1.9-1.3 3.8-1.4 5.7c-.1 1.9.2 3.8.7 5.7c.5 1.9 1.7 3.9 2.1 5.8c.5 1.9 1 3.8.8 5.7c-.3 1.9-.9 3.8-2.2 5.7c-1.3 1.9-3.6 3.8-5.7 5.7c-2.1 1.9-4.9 3.8-7.1 5.7c-2.3 1.9-4.7 3.8-6.5 5.7c-1.8 1.9-3.1 3.8-4.3 5.7c-1.1 1.9-1.8 3.9-2.4 5.8c-.5 1.9-.7 3.6-.8 5.7c-.2 2.1 0 5.7 0 6.8l-24.3 0c0-1.1.1-4.7 0-6.8c-.2-2.1-.3-3.8-.9-5.7c-.5-1.9-1.3-3.9-2.4-5.8c-1.1-1.9-2.5-3.8-4.3-5.7c-1.8-1.9-4.2-3.8-6.4-5.7c-2.3-1.9-5-3.8-7.2-5.7c-2.1-1.9-4.4-3.8-5.7-5.7c-1.3-1.9-1.9-3.8-2.1-5.7c-.3-1.9.2-3.8.7-5.7c.5-1.9 1.7-3.9 2.1-5.8c.5-1.9.9-3.8.7-5.7c-.1-1.9-.7-3.8-1.4-5.7c-.7-1.9-1.9-3.8-2.8-5.7c-1-1.9-2.2-3.8-2.9-5.7c-.7-1.9-1.2-3.8-1.4-5.7c-.2-1.9-.1-3.6.3-5.7c.3-2.2.9-4.6 1.8-7.2c.9-2.6 2.3-5.5 3.6-8.6c1.3-3.1 2.7-6.4 4.3-10c1.5-3.5 3.2-7.6 5-11.4c1.8-3.8 3.8-7.6 5.7-11.4c1.9-3.8 3.9-7.6 5.7-11.4c1.8-3.9 3.7-7.7 5.3-11.5c1.5-3.8 2.7-7.1 4-11.4c1.2-4.3 2.5-9.5 3.6-14.3c1-4.7 2-9.5 2.8-14.3c.8-4.7 1.4-9.5 1.9-14.3c.4-4.7.6-6.8.8-14.2c.2-7.5.3-25.3.3-30.3z" fill="#1e90ff" stroke="#000" stroke-opacity="0.72" stroke-width="0.9" stroke-linejoin="round"/>
<path d="M1218.3 1961.5H1309.1" stroke="#000" stroke-opacity="0.7" stroke-width="1" fill="none"/>
<path d="M1100.5 1782.5V2058.5H1320.0" stroke="#6e6e6e" stroke-width="0.9" fill="none"/>
<path d="M1098.0 1847.5L1100.5 1847.5" stroke="#6e6e6e" stroke-width="0.9" fill="none"/>
<path d="M1098.0 1946.5L1100.5 1946.5" stroke="#6e6e6e" stroke-width="0.9" fill="none"/>
<path d="M1098.0 2045.5L1100.5 2045.5" stroke="#6e6e6e" stroke-width="0.9" fill="none"/>
<text x="1093.5" y="1853.6" font-size="17.8" text-anchor="end" stroke="#000" stroke-width="0.5">10</text>
<text x="1093.5" y="1952.9" font-size="17.8" text-anchor="end" stroke="#000" stroke-width="0.5">5</text>
<text x="1093.5" y="2051.5" font-size="17.8" text-anchor="end" stroke="#000" stroke-width="0.5">0</text>
<path d="M1161.5 2058.5L1161.5 2061.0" stroke="#6e6e6e" stroke-width="0.9" fill="none"/>
<path d="M1263.5 2058.5L1263.5 2061.0" stroke="#6e6e6e" stroke-width="0.9" fill="none"/>
<text font-size="20.8" text-anchor="middle" stroke="#000" stroke-width="0.6" transform="translate(1215.0 1764.4) scale(1 1.02)"><tspan font-style="italic">P</tspan> &lt; 2.2e-16</text>
<path d="M1161.0 1771.4L1270.0 1771.4" stroke="#000" stroke-width="1.7" fill="none"/>
<text font-size="28" text-anchor="middle" stroke="#000" stroke-width="0.7" transform="translate(1161.0 2085.8) scale(1 1.04)">Young</text>
<text font-size="28" text-anchor="middle" stroke="#000" stroke-width="0.7" transform="translate(1272.5 2085.8) scale(1 1.04)">Old</text>
<text font-size="28.5" text-anchor="middle" fill="#1f8fe8" stroke="#1f8fe8" stroke-width="0.7" transform="translate(1211.0 2125.0) scale(1 1.04)">qNSC/Astrocyte</text>
<path d="M1423.5 1784c.1 4.6-.1 20.8.2 27.9c.3 7 1 9.5 1.4 14.2c.5 4.8.9 10.3 1.2 14.3c.3 4.1.2 7.2.6 10c.4 2.9.8 4.6 1.8 7.2c1 2.6 2.8 5.7 4.3 8.5c1.5 2.9 3.3 5.8 5 8.6c1.7 2.9 3.2 5.7 5 8.6c1.8 2.8 3.8 5.7 5.7 8.6c1.9 2.8 3.8 5.9 5.7 8.5c1.9 2.6 4 4.8 5.7 7.2c1.8 2.4 3.7 5 5 7.1c1.4 2.2 2.2 3.8 2.9 5.7c.7 1.9 1 3.6 1.1 5.7c.2 2.2.3 4.8 0 7.2c-.2 2.4-.4 4.7-1.4 7.1c-1 2.4-2.8 4.8-4.7 7.2c-1.9 2.4-4.2 4.7-6.4 7.1c-2.3 2.4-5 4.8-7.2 7.2c-2.1 2.3-4 4.5-5.7 7.1c-1.7 2.6-3 5.7-4.3 8.6c-1.2 2.8-2.2 5.7-3.1 8.5c-1 2.9-1.7 5.8-2.6 8.6c-.9 2.9-1.9 5.7-2.8 8.6c-1 2.8-2 5.7-2.9 8.6c-.9 2.8-1.9 5.9-2.6 8.5c-.6 2.6-1.2 4.8-1.4 7.2c-.2 2.4-.1 5 0 7.1c.1 2.2.5 3.8.6 5.7c.1 1.9.1 4.8.1 5.7l-2.8 0c0-.9 0-3.8.1-5.7c.1-1.9.5-3.5.6-5.7c.1-2.1.2-4.7 0-7.1c-.3-2.4-.8-4.6-1.5-7.2c-.6-2.6-1.6-5.7-2.5-8.5c-.9-2.9-1.9-5.8-2.9-8.6c-.9-2.9-1.9-5.7-2.8-8.6c-.9-2.8-1.7-5.7-2.6-8.6c-1-2.8-1.9-5.7-3.2-8.5c-1.2-2.9-2.6-6-4.2-8.6c-1.7-2.6-3.6-4.8-5.8-7.1c-2.1-2.4-4.8-4.8-7.1-7.2c-2.3-2.4-4.6-4.7-6.4-7.1c-1.9-2.4-3.7-4.8-4.7-7.2c-1.1-2.4-1.2-4.7-1.5-7.1c-.2-2.4-.2-5 0-7.2c.2-2.1.5-3.8 1.2-5.7c.6-1.9 1.5-3.5 2.8-5.7c1.3-2.1 3.2-4.7 5-7.1c1.8-2.4 3.8-4.6 5.7-7.2c1.9-2.6 3.9-5.7 5.8-8.5c1.9-2.9 3.9-5.8 5.7-8.6c1.8-2.9 3.3-5.7 5-8.6c1.6-2.8 3.4-5.7 5-8.6c1.5-2.8 3.2-5.9 4.3-8.5c1-2.6 1.4-4.3 1.8-7.2c.4-2.8.3-5.9.6-10c.3-4 .7-9.5 1.1-14.3c.5-4.7 1.2-7.2 1.5-14.2c.2-7.1.1-23.3.1-27.9z" fill="#ffa500" stroke="#000" stroke-opacity="0.72" stroke-width="0.9" stroke-linejoin="round"/>
<path d="M1377.4 1930.5H1469.1" stroke="#000" stroke-opacity="0.7" stroke-width="1" fill="none"/>
<path d="M1528.3 1858c.2 1.4.5 5.4 1.1 8.1c.7 2.8 1.7 5.8 2.9 8.6c1.2 2.9 2.6 5.7 4.3 8.6c1.6 2.8 3.5 5.7 5.7 8.6c2.1 2.8 4.9 5.9 7.1 8.5c2.3 2.6 4.3 4.8 6.5 7.2c2.1 2.4 4.5 4.7 6.4 7.1c1.9 2.4 3.8 4.8 5 7.2c1.2 2.3 1.7 4.5 2.1 7.1c.5 2.6.6 5.7.7 8.6c.2 2.8.4 5.7.5 8.5c.1 2.9.3 6.2.3 8.6c-.1 2.4-.2 3.8-.8 5.7c-.6 1.9-1.5 3.6-2.8 5.7c-1.3 2.2-3.2 4.8-5 7.2c-1.8 2.4-3.8 4.7-5.7 7.1c-1.9 2.4-3.8 4.8-5.7 7.2c-1.9 2.4-3.9 4.7-5.8 7.1c-1.9 2.4-4 4.8-5.7 7.2c-1.6 2.3-3.1 5-4.3 7.1c-1.1 2.1-2 4.8-2.4 5.7l-15.1 0c-.4-.9-1.3-3.6-2.5-5.7c-1.1-2.1-2.6-4.8-4.2-7.1c-1.7-2.4-3.9-4.8-5.8-7.2c-1.9-2.4-3.8-4.7-5.7-7.1c-1.9-2.4-3.8-4.8-5.7-7.2c-1.9-2.4-3.9-4.7-5.7-7.1c-1.8-2.4-3.7-5-5-7.2c-1.3-2.1-2.3-3.8-2.9-5.7c-.6-1.9-.6-3.3-.7-5.7c0-2.4.2-5.7.3-8.6c.1-2.8.3-5.7.4-8.5c.2-2.9.3-6 .8-8.6c.4-2.6.9-4.8 2.1-7.1c1.2-2.4 3.1-4.8 5-7.2c1.9-2.4 4.3-4.7 6.4-7.1c2.2-2.4 4.2-4.6 6.5-7.2c2.2-2.6 5-5.7 7.1-8.5c2.1-2.9 4-5.8 5.7-8.6c1.7-2.9 3.1-5.7 4.3-8.6c1.2-2.8 2.2-5.8 2.9-8.6c.6-2.7.9-6.7 1.1-8.1z" fill="#ee0000" stroke="#000" stroke-opacity="0.72" stroke-width="0.9" stroke-linejoin="round"/>
<path d="M1479.8 1945.5H1570.5" stroke="#000" stroke-opacity="0.7" stroke-width="1" fill="none"/>
<path d="M1362.5 1781.0V2058.5H1570.1" stroke="#6e6e6e" stroke-width="0.9" fill="none"/>
<path d="M1360.0 1787.5L1362.5 1787.5" stroke="#6e6e6e" stroke-width="0.9" fill="none"/>
<path d="M1360.0 1873.5L1362.5 1873.5" stroke="#6e6e6e" stroke-width="0.9" fill="none"/>
<path d="M1360.0 1959.5L1362.5 1959.5" stroke="#6e6e6e" stroke-width="0.9" fill="none"/>
<path d="M1360.0 2045.5L1362.5 2045.5" stroke="#6e6e6e" stroke-width="0.9" fill="none"/>
<text x="1356.0" y="1794.1" font-size="17.8" text-anchor="end" stroke="#000" stroke-width="0.5">15</text>
<text x="1356.0" y="1880.2" font-size="17.8" text-anchor="end" stroke="#000" stroke-width="0.5">10</text>
<text x="1356.0" y="1965.9" font-size="17.8" text-anchor="end" stroke="#000" stroke-width="0.5">5</text>
<text x="1356.0" y="2051.9" font-size="17.8" text-anchor="end" stroke="#000" stroke-width="0.5">0</text>
<path d="M1423.5 2058.5L1423.5 2061.0" stroke="#6e6e6e" stroke-width="0.9" fill="none"/>
<path d="M1524.5 2058.5L1524.5 2061.0" stroke="#6e6e6e" stroke-width="0.9" fill="none"/>
<text font-size="20.8" text-anchor="middle" stroke="#000" stroke-width="0.6" transform="translate(1474.0 1762.9) scale(1 1.02)"><tspan font-style="italic">P</tspan> = 4.6e-4</text>
<path d="M1420.0 1768.9L1528.5 1768.9" stroke="#000" stroke-width="1.7" fill="none"/>
<text font-size="28" text-anchor="middle" stroke="#000" stroke-width="0.7" transform="translate(1425.0 2085.8) scale(1 1.04)">Young</text>
<text font-size="28" text-anchor="middle" stroke="#000" stroke-width="0.7" transform="translate(1522.5 2085.8) scale(1 1.04)">Old</text>
<text font-size="28.5" text-anchor="middle" fill="#e31a1c" stroke="#e31a1c" stroke-width="0.7" transform="translate(1466.5 2125.0) scale(1 1.04)">aNSC/NPC</text>
<path d="M1676.1 1782.6c.1 5 0 22.8.3 30.3c.3 7.4.9 9.5 1.5 14.2c.5 4.8 1.1 9.6 1.8 14.3c.7 4.8 1.4 9.6 2.4 14.3c1 4.8 2.4 10 3.6 14.3c1.2 4.3 2.4 7.6 3.6 11.4c1.2 3.8 2.4 8.1 3.6 11.5c1.1 3.3 1.9 5.7 3.1 8.5c1.2 2.9 2.5 6 4 8.6c1.5 2.6 3.3 5 5 7.1c1.7 2.2 3.6 3.9 5 5.8c1.4 1.9 2.6 3.5 3.6 5.7c.9 2.1 1.6 4.5 2.1 7.1c.6 2.6.9 5.7 1.2 8.6c.2 2.8.2 5.7.5 8.6c.3 2.8.9 5.7 1.2 8.5c.3 2.9.7 6 .7 8.6c0 2.6-.4 4.8-.7 7.1c-.3 2.4-1.1 5-1.2 7.2c-.1 2.1 0 3.8.5 5.7c.4 1.9 1.5 3.8 2.1 5.7c.6 1.9 1.5 4.1 1.7 5.7c.3 1.7.4 2.6-.3 4.3c-.6 1.7-1.9 3.8-3.5 5.7c-1.7 1.9-4.1 3.8-6.5 5.7c-2.4 1.9-5.7 4.1-7.8 5.8c-2.2 1.6-3.7 2.8-5 4.2c-1.3 1.5-2.4 2.9-2.9 4.3c-.5 1.5-.5 2.9-.3 4.3c.3 1.4 1.2 2.7 1.7 4.3c.6 1.6 1.5 4.5 1.8 5.4l-46.3 0c.3-.9 1.1-3.8 1.7-5.4c.6-1.6 1.5-2.9 1.7-4.3c.2-1.4.2-2.8-.3-4.3c-.5-1.4-1.5-2.8-2.8-4.3c-1.4-1.4-2.9-2.6-5-4.2c-2.2-1.7-5.5-3.9-7.9-5.8c-2.4-1.9-4.8-3.8-6.4-5.7c-1.7-1.9-3-4-3.6-5.7c-.6-1.7-.5-2.6-.3-4.3c.3-1.6 1.1-3.8 1.7-5.7c.7-1.9 1.7-3.8 2.2-5.7c.4-1.9.5-3.6.4-5.7c-.1-2.2-.8-4.8-1.1-7.2c-.4-2.3-.8-4.5-.8-7.1c0-2.6.4-5.7.8-8.6c.3-2.8.8-5.7 1.1-8.5c.3-2.9.3-5.8.6-8.6c.3-2.9.6-6 1.1-8.6c.6-2.6 1.2-5 2.2-7.1c.9-2.2 2.1-3.8 3.5-5.7c1.5-1.9 3.4-3.6 5-5.8c1.7-2.1 3.5-4.5 5-7.1c1.5-2.6 2.8-5.7 4-8.6c1.2-2.8 2.1-5.2 3.2-8.5c1.1-3.4 2.4-7.7 3.5-11.5c1.2-3.8 2.4-7.1 3.6-11.4c1.2-4.3 2.6-9.5 3.6-14.3c1-4.7 1.7-9.5 2.4-14.3c.7-4.7 1.3-9.5 1.9-14.3c.5-4.7 1.1-6.8 1.4-14.2c.3-7.5.2-25.3.3-30.3z" fill="#dda0dd" stroke="#000" stroke-opacity="0.72" stroke-width="0.9" stroke-linejoin="round"/>
<path d="M1632.5 1965.5H1718.9" stroke="#000" stroke-opacity="0.7" stroke-width="1" fill="none"/>
<path d="M1780 1843.1c.2 1.7.8 6.5 1.4 9.8c.6 3.2 1.5 6.6 2.2 10c.6 3.3 1.4 6.6 1.8 10c.5 3.3.8 6.6 1 10c.3 3.3.2 6.6.5 10c.2 3.3.4 6.9 1 10c.5 3.1 1.1 5.7 2.1 8.5c1 2.9 2.3 5.7 3.6 8.6c1.3 2.9 2.8 5.7 4.3 8.6c1.4 2.8 2.7 5.7 4.2 8.5c1.6 2.9 3.3 6 5 8.6c1.8 2.6 3.9 4.8 5.8 7.2c1.9 2.3 4.1 5 5.7 7.1c1.5 2.1 2.7 3.8 3.5 5.7c.9 1.9 1.3 3.8 1.5 5.7c.1 1.9-.1 3.6-.5 5.7c-.3 2.2-1.1 4.6-1.7 7.2c-.5 2.6-.9 5.7-1.4 8.6c-.5 2.8-.6 5.9-1.4 8.5c-.9 2.6-2.1 5-3.6 7.2c-1.5 2.1-3.7 3.8-5.7 5.7c-2 1.9-4.9 4-6.4 5.7c-1.6 1.7-2.4 2.9-2.9 4.3c-.5 1.4-.5 2.8 0 4.3c.5 1.4 1.9 2.8 2.9 4.3c.9 1.4 2.1 2.8 2.8 4.2c.8 1.5 1.4 2.9 1.7 4.3c.4 1.4.4 3.4.5 4l-60.6 0c.1-.6.1-2.6.4-4c.4-1.4 1-2.8 1.7-4.3c.8-1.4 1.9-2.8 2.9-4.2c.9-1.5 2.4-2.9 2.8-4.3c.5-1.5.5-2.9 0-4.3c-.4-1.4-1.3-2.6-2.8-4.3c-1.6-1.7-4.4-3.8-6.4-5.7c-2.1-1.9-4.2-3.6-5.8-5.7c-1.5-2.2-2.7-4.6-3.5-7.2c-.9-2.6-1-5.7-1.5-8.5c-.4-2.9-.9-6-1.4-8.6c-.5-2.6-1.3-5-1.7-7.2c-.4-2.1-.6-3.8-.4-5.7c.1-1.9.6-3.8 1.4-5.7c.8-1.9 2-3.6 3.6-5.7c1.5-2.1 3.8-4.8 5.7-7.1c1.9-2.4 3.9-4.6 5.7-7.2c1.8-2.6 3.5-5.7 5-8.6c1.5-2.8 2.9-5.7 4.3-8.5c1.4-2.9 3-5.7 4.3-8.6c1.3-2.9 2.6-5.7 3.5-8.6c1-2.8 1.7-5.4 2.2-8.5c.5-3.1.7-6.7 1-10c.2-3.4.2-6.7.4-10c.3-3.4.5-6.7 1-10c.5-3.4 1.2-6.7 1.9-10c.6-3.4 1.5-6.8 2.1-10c.6-3.3 1.2-8.1 1.4-9.8z" fill="#9b30ff" stroke="#000" stroke-opacity="0.72" stroke-width="0.9" stroke-linejoin="round"/>
<path d="M1732.3 1978.5H1822.8" stroke="#000" stroke-opacity="0.7" stroke-width="1" fill="none"/>
<path d="M1614.5 1782.5V2058.5H1835.7" stroke="#6e6e6e" stroke-width="0.9" fill="none"/>
<path d="M1612.0 1845.5L1614.5 1845.5" stroke="#6e6e6e" stroke-width="0.9" fill="none"/>
<path d="M1612.0 1945.5L1614.5 1945.5" stroke="#6e6e6e" stroke-width="0.9" fill="none"/>
<path d="M1612.0 2045.5L1614.5 2045.5" stroke="#6e6e6e" stroke-width="0.9" fill="none"/>
<text x="1608.5" y="1851.8" font-size="17.8" text-anchor="end" stroke="#000" stroke-width="0.5">10</text>
<text x="1608.5" y="1951.9" font-size="17.8" text-anchor="end" stroke="#000" stroke-width="0.5">5</text>
<text x="1608.5" y="2051.5" font-size="17.8" text-anchor="end" stroke="#000" stroke-width="0.5">0</text>
<path d="M1675.5 2058.5L1675.5 2061.0" stroke="#6e6e6e" stroke-width="0.9" fill="none"/>
<path d="M1777.5 2058.5L1777.5 2061.0" stroke="#6e6e6e" stroke-width="0.9" fill="none"/>
<text font-size="20.8" text-anchor="middle" stroke="#000" stroke-width="0.6" transform="translate(1725.0 1757.9) scale(1 1.02)"><tspan font-style="italic">P</tspan> = 1.1e-3</text>
<path d="M1670.5 1763.9L1779.0 1763.9" stroke="#000" stroke-width="1.7" fill="none"/>
<text font-size="28" text-anchor="middle" stroke="#000" stroke-width="0.7" transform="translate(1676.0 2085.8) scale(1 1.04)">Young</text>
<text font-size="28" text-anchor="middle" stroke="#000" stroke-width="0.7" transform="translate(1773.5 2085.8) scale(1 1.04)">Old</text>
<text font-size="28.5" text-anchor="middle" fill="#7d0f7d" stroke="#7d0f7d" stroke-width="0.7" transform="translate(1721.0 2125.0) scale(1 1.04)">Neuroblast</text>
<text x="-1.0" y="2199.6" font-size="43.5" stroke="#000" stroke-width="0.5" font-weight="bold">k</text>
<circle cx="154.2" cy="2392.5" r="4.6" fill="#5b9bd5" fill-opacity="0.95"/>
<circle cx="154.2" cy="2479.5" r="4.6" fill="#5b9bd5" fill-opacity="0.95"/>
<circle cx="157.1" cy="2508.7" r="4.6" fill="#5b9bd5" fill-opacity="0.95"/>
<circle cx="164.8" cy="2434.5" r="4.6" fill="#5b9bd5" fill-opacity="0.95"/>
<circle cx="173.6" cy="2437.4" r="4.6" fill="#5b9bd5" fill-opacity="0.95"/>
<circle cx="186.1" cy="2426.8" r="4.6" fill="#5b9bd5" fill-opacity="0.95"/>
<circle cx="201.6" cy="2419.1" r="4.6" fill="#5b9bd5" fill-opacity="0.95"/>
<circle cx="211.7" cy="2453.9" r="4.6" fill="#5b9bd5" fill-opacity="0.95"/>
<circle cx="220.4" cy="2423.9" r="4.6" fill="#5b9bd5" fill-opacity="0.95"/>
<circle cx="239.4" cy="2369.7" r="4.6" fill="#5b9bd5" fill-opacity="0.95"/>
<circle cx="239.4" cy="2422.9" r="4.6" fill="#5b9bd5" fill-opacity="0.95"/>
<circle cx="258.1" cy="2506.2" r="4.6" fill="#5b9bd5" fill-opacity="0.95"/>
<circle cx="261.0" cy="2524.2" r="4.6" fill="#5b9bd5" fill-opacity="0.95"/>
<circle cx="277.1" cy="2464.5" r="4.6" fill="#5b9bd5" fill-opacity="0.95"/>
<circle cx="280.0" cy="2442.3" r="4.6" fill="#5b9bd5" fill-opacity="0.95"/>
<circle cx="295.9" cy="2413.2" r="4.6" fill="#5b9bd5" fill-opacity="0.95"/>
<circle cx="298.4" cy="2538.1" r="4.6" fill="#5b9bd5" fill-opacity="0.95"/>
<circle cx="314.9" cy="2452.0" r="4.6" fill="#5b9bd5" fill-opacity="0.95"/>
<circle cx="316.8" cy="2457.8" r="4.6" fill="#5b9bd5" fill-opacity="0.95"/>
<circle cx="324.2" cy="2521.3" r="4.6" fill="#5b9bd5" fill-opacity="0.95"/>
<circle cx="333.3" cy="2423.9" r="4.6" fill="#5b9bd5" fill-opacity="0.95"/>
<circle cx="332.9" cy="2527.8" r="4.6" fill="#5b9bd5" fill-opacity="0.95"/>
<circle cx="345.4" cy="2572.9" r="4.6" fill="#5b9bd5" fill-opacity="0.95"/>
<circle cx="354.5" cy="2465.5" r="4.6" fill="#5b9bd5" fill-opacity="0.95"/>
<circle cx="364.2" cy="2559.4" r="4.6" fill="#5b9bd5" fill-opacity="0.95"/>
<circle cx="364.2" cy="2613.6" r="4.6" fill="#5b9bd5" fill-opacity="0.95"/>
<circle cx="394.2" cy="2435.9" r="4.6" fill="#5b9bd5" fill-opacity="0.95"/>
<circle cx="154.6" cy="2384.2" r="4.6" fill="#f79a36" fill-opacity="0.95"/>
<circle cx="157.1" cy="2398.7" r="4.6" fill="#f79a36" fill-opacity="0.95"/>
<circle cx="153.6" cy="2403.2" r="4.6" fill="#f79a36" fill-opacity="0.95"/>
<circle cx="166.8" cy="2426.4" r="4.6" fill="#f79a36" fill-opacity="0.95"/>
<circle cx="171.6" cy="2430.7" r="4.6" fill="#f79a36" fill-opacity="0.95"/>
<circle cx="186.1" cy="2458.4" r="4.6" fill="#f79a36" fill-opacity="0.95"/>
<circle cx="201.6" cy="2436.5" r="4.6" fill="#f79a36" fill-opacity="0.95"/>
<circle cx="211.7" cy="2366.8" r="4.6" fill="#f79a36" fill-opacity="0.95"/>
<circle cx="220.4" cy="2482.0" r="4.6" fill="#f79a36" fill-opacity="0.95"/>
<circle cx="239.4" cy="2461.6" r="4.6" fill="#f79a36" fill-opacity="0.95"/>
<circle cx="258.1" cy="2426.8" r="4.6" fill="#f79a36" fill-opacity="0.95"/>
<circle cx="261.0" cy="2367.4" r="4.6" fill="#f79a36" fill-opacity="0.95"/>
<circle cx="277.1" cy="2521.6" r="4.6" fill="#f79a36" fill-opacity="0.95"/>
<circle cx="280.0" cy="2331.0" r="4.6" fill="#f79a36" fill-opacity="0.95"/>
<circle cx="295.9" cy="2416.2" r="4.6" fill="#f79a36" fill-opacity="0.95"/>
<circle cx="298.4" cy="2269.4" r="4.6" fill="#f79a36" fill-opacity="0.95"/>
<circle cx="314.9" cy="2397.2" r="4.6" fill="#f79a36" fill-opacity="0.95"/>
<circle cx="324.2" cy="2394.9" r="4.6" fill="#f79a36" fill-opacity="0.95"/>
<circle cx="333.3" cy="2388.5" r="4.6" fill="#f79a36" fill-opacity="0.95"/>
<circle cx="332.9" cy="2441.3" r="4.6" fill="#f79a36" fill-opacity="0.95"/>
<circle cx="345.4" cy="2390.0" r="4.6" fill="#f79a36" fill-opacity="0.95"/>
<circle cx="354.5" cy="2342.6" r="4.6" fill="#f79a36" fill-opacity="0.95"/>
<circle cx="364.2" cy="2366.8" r="4.6" fill="#f79a36" fill-opacity="0.95"/>
<circle cx="364.2" cy="2544.9" r="4.6" fill="#f79a36" fill-opacity="0.95"/>
<circle cx="392.9" cy="2419.1" r="4.6" fill="#f79a36" fill-opacity="0.95"/>
<circle cx="316.8" cy="2488.7" r="4.6" fill="#f79a36" fill-opacity="0.95"/>
<circle cx="154.2" cy="2573.9" r="4.6" fill="#5cb85c" fill-opacity="0.95"/>
<circle cx="154.2" cy="2586.5" r="4.6" fill="#5cb85c" fill-opacity="0.95"/>
<circle cx="157.1" cy="2559.8" r="4.6" fill="#5cb85c" fill-opacity="0.95"/>
<circle cx="164.8" cy="2567.5" r="4.6" fill="#5cb85c" fill-opacity="0.95"/>
<circle cx="166.8" cy="2550.7" r="4.6" fill="#5cb85c" fill-opacity="0.95"/>
<circle cx="173.6" cy="2542.0" r="4.6" fill="#5cb85c" fill-opacity="0.95"/>
<circle cx="186.1" cy="2557.5" r="4.6" fill="#5cb85c" fill-opacity="0.95"/>
<circle cx="201.6" cy="2542.0" r="4.6" fill="#5cb85c" fill-opacity="0.95"/>
<circle cx="211.7" cy="2481.6" r="4.6" fill="#5cb85c" fill-opacity="0.95"/>
<circle cx="220.4" cy="2542.4" r="4.6" fill="#5cb85c" fill-opacity="0.95"/>
<circle cx="239.4" cy="2499.0" r="4.6" fill="#5cb85c" fill-opacity="0.95"/>
<circle cx="239.4" cy="2577.8" r="4.6" fill="#5cb85c" fill-opacity="0.95"/>
<circle cx="258.1" cy="2556.9" r="4.6" fill="#5cb85c" fill-opacity="0.95"/>
<circle cx="261.0" cy="2582.6" r="4.6" fill="#5cb85c" fill-opacity="0.95"/>
<circle cx="277.1" cy="2570.6" r="4.6" fill="#5cb85c" fill-opacity="0.95"/>
<circle cx="280.0" cy="2560.4" r="4.6" fill="#5cb85c" fill-opacity="0.95"/>
<circle cx="295.9" cy="2584.9" r="4.6" fill="#5cb85c" fill-opacity="0.95"/>
<circle cx="298.4" cy="2534.2" r="4.6" fill="#5cb85c" fill-opacity="0.95"/>
<circle cx="314.9" cy="2527.1" r="4.6" fill="#5cb85c" fill-opacity="0.95"/>
<circle cx="316.8" cy="2580.1" r="4.6" fill="#5cb85c" fill-opacity="0.95"/>
<circle cx="324.2" cy="2603.5" r="4.6" fill="#5cb85c" fill-opacity="0.95"/>
<circle cx="333.3" cy="2574.9" r="4.6" fill="#5cb85c" fill-opacity="0.95"/>
<circle cx="333.3" cy="2580.7" r="4.6" fill="#5cb85c" fill-opacity="0.95"/>
<circle cx="345.4" cy="2601.6" r="4.6" fill="#5cb85c" fill-opacity="0.95"/>
<circle cx="354.5" cy="2626.6" r="4.6" fill="#5cb85c" fill-opacity="0.95"/>
<circle cx="364.2" cy="2576.8" r="4.6" fill="#5cb85c" fill-opacity="0.95"/>
<circle cx="394.2" cy="2545.8" r="4.6" fill="#5cb85c" fill-opacity="0.95"/>
<path d="M153.6 2416.2c1.2-1 4.9-3.6 7.4-5.9c2.5-2.2 4.8-5.1 7.7-7.7c2.9-2.6 6.5-5.6 9.7-7.7c3.2-2.1 6.4-3.6 9.7-4.9c3.2-1.3 6.4-2.2 9.7-2.9c3.2-.6 6.4-1 9.6-1c3.3 0 6.5 0 9.7 1c3.2 1 6.5 2.6 9.7 4.9c3.2 2.2 6.4 5.3 9.7 8.7c3.2 3.4 6.4 8.2 9.6 11.6c3.3 3.4 6.5 6.4 9.7 8.7c3.2 2.2 6.5 3.5 9.7 4.8c3.2 1.3 6.5 2 9.7 2.9c3.2 1 6.4 1.8 9.7 2.9c3.2 1.2 6.4 2.3 9.6 3.9c3.3 1.6 6.5 3.6 9.7 5.8c3.2 2.3 6.5 5.2 9.7 7.8c3.2 2.5 6.4 5.1 9.7 7.7c3.2 2.6 6.4 5.5 9.7 7.7c3.2 2.3 6.4 4.4 9.6 5.9c3.3 1.4 6.5 2.5 9.7 2.9c3.2.3 6.5.1 9.7-1c3.2-1.1 6.4-2.6 9.7-5.8c3.2-3.2 6.2-8.1 9.6-13.6c3.5-5.5 9.4-16.1 11.3-19.3l0 152.9c-1.9-2.3-7.8-9.7-11.3-13.6c-3.4-3.8-6.4-7.1-9.6-9.6c-3.3-2.6-6.5-4.1-9.7-5.8c-3.2-1.8-6.5-3.3-9.7-4.9c-3.2-1.6-6.4-3-9.7-4.8c-3.2-1.8-6.4-3.7-9.6-5.8c-3.3-2.1-6.5-4.2-9.7-6.8c-3.3-2.6-6.5-5.6-9.7-8.7c-3.2-3.1-6.5-6.8-9.7-9.7c-3.2-2.9-6.4-5.6-9.7-7.7c-3.2-2.1-6.4-3.6-9.6-4.9c-3.3-1.3-6.5-1.9-9.7-2.9c-3.2-.9-6.5-1.8-9.7-2.9c-3.2-1.1-6.5-2.4-9.7-3.9c-3.2-1.4-6.4-3-9.7-4.8c-3.2-1.8-6.4-3.5-9.6-5.8c-3.3-2.3-6.5-5.5-9.7-7.7c-3.2-2.3-6.5-4.2-9.7-5.8c-3.2-1.7-6.4-3.1-9.7-3.9c-3.2-.8-6.4-1-9.6-1c-3.3 0-6.5.2-9.7 1c-3.3.8-6.5 1.9-9.7 3.9c-3.2 1.9-6.8 4.5-9.7 7.7c-2.9 3.2-5.2 7.7-7.7 11.6c-2.5 3.9-6.2 9.7-7.4 11.6z" fill="#a9c9ec" fill-opacity="0.5"/>
<path d="M154.6 2454.5c1-1.1 4-3.9 6.4-6.4c2.3-2.5 4.8-6.1 7.7-8.7c2.9-2.6 6.5-5 9.7-6.8c3.2-1.8 6.4-3 9.7-3.9c3.2-.8 6.4-1.1 9.7-1.3c3.2-.2 6.4-.2 9.6 0c3.3.2 6.5.3 9.7 1.3c3.2 1.1 6.5 2.8 9.7 4.9c3.2 2.1 6.4 5 9.7 7.7c3.2 2.8 6.4 6.1 9.6 8.7c3.3 2.6 6.5 4.9 9.7 6.8c3.2 1.9 6.5 3.6 9.7 4.8c3.2 1.3 6.5 1.8 9.7 2.6c3.2.8 6.4 1.1 9.7 2.3c3.2 1.2 6.4 2.6 9.6 4.8c3.3 2.3 6.5 5.5 9.7 8.7c3.2 3.3 6.5 7.5 9.7 10.7c3.2 3.2 6.4 6.3 9.7 8.7c3.2 2.4 6.4 4.2 9.7 5.8c3.2 1.5 6.4 2.6 9.6 3.5c3.3.9 6.5 1.5 9.7 1.9c3.2.5 6.5.7 9.7.8c3.2.1 6.4 0 9.7-.4c3.2-.4 6.3-1.1 9.6-1.9c3.4-.8 8.9-2.5 10.7-2.9" fill="none" stroke="#5b9bd5" stroke-width="4.2" stroke-linecap="butt" stroke-linejoin="round"/>
<path d="M153.6 2338.7c1.2 3.6 4.9 15.2 7.4 21.3c2.5 6.1 4.8 11 7.7 15.5c2.9 4.5 6.5 8.7 9.7 11.6c3.2 2.9 6.4 4.5 9.7 5.8c3.2 1.3 6.4 1.6 9.7 2c3.2.3 6.4.1 9.6 0c3.3-.2 6.5-.5 9.7-1c3.2-.5 6.5-1 9.7-1.9c3.2-1 6.4-2.1 9.7-3.9c3.2-1.8 6.4-4 9.6-6.8c3.3-2.7 6.5-6.9 9.7-9.7c3.2-2.7 6.5-5 9.7-6.7c3.2-1.8 6.5-2.5 9.7-3.9c3.2-1.5 6.4-3.4 9.7-4.9c3.2-1.4 7.1-3 9.6-3.8c2.6-.8 2.6-1.3 5.8-1c3.3.3 9.7 1.8 13.6 2.9c3.9 1.1 6.4 2.4 9.7 3.9c3.2 1.4 6.4 3.4 9.7 4.8c3.2 1.5 6.4 2.8 9.6 3.9c3.3 1.1 6.5 2.6 9.7 2.9c3.2.3 6.5 0 9.7-1c3.2-.9 6.4-2.4 9.7-4.8c3.2-2.4 6.2-5.2 9.6-9.7c3.5-4.5 9.4-14.5 11.3-17.4l0 199.4c-1.9-4.9-7.8-20.4-11.3-29.1c-3.4-8.7-6.4-16.4-9.6-23.2c-3.3-6.8-6.5-12.3-9.7-17.4c-3.2-5.2-6.5-10-9.7-13.6c-3.2-3.5-6.4-5.8-9.7-7.7c-3.2-1.9-6.4-2.9-9.6-3.9c-3.3-1-6.5-1.4-9.7-1.9c-3.3-.5-6.5-.7-9.7-1c-3.2-.3-6.5-1-9.7-1c-3.2 0-6.4.4-9.7 1c-3.2.7-6.4 1.5-9.6 2.9c-3.3 1.5-6.5 3.6-9.7 5.8c-3.2 2.3-6.5 4.9-9.7 7.8c-3.2 2.9-6.5 6.1-9.7 9.6c-3.2 3.6-6.4 8.4-9.7 11.7c-3.2 3.2-6.4 5.8-9.6 7.7c-3.3 1.9-6.5 2.9-9.7 3.9c-3.2.9-6.5 1.9-9.7 1.9c-3.2 0-6.4-1-9.7-1.9c-3.2-1-6.4-2-9.6-3.9c-3.3-1.9-6.5-5-9.7-7.7c-3.3-2.8-6.5-5.8-9.7-8.8c-3.2-2.9-6.8-6.6-9.7-8.7c-2.9-2.1-5.2-2.9-7.7-3.8c-2.5-1-6.2-1.6-7.4-2z" fill="#fbc98e" fill-opacity="0.5"/>
<path d="M154.6 2399.7c1 1.4 4 5.6 6.4 8.7c2.3 3.1 4.8 6.5 7.7 9.7c2.9 3.2 6.5 7.1 9.7 9.7c3.2 2.5 6.4 4.2 9.7 5.8c3.2 1.6 6.4 2.7 9.7 3.8c3.2 1.2 6.4 2.3 9.6 2.9c3.3.7 6.5 1.2 9.7 1c3.2-.1 6.5-1.1 9.7-1.9c3.2-.8 6.4-1.3 9.7-2.9c3.2-1.6 6.4-3.9 9.6-6.8c3.3-2.9 6.5-7.4 9.7-10.6c3.2-3.3 6.5-6.3 9.7-8.8c3.2-2.4 6.5-3.8 9.7-5.8c3.2-1.9 6.4-4.2 9.7-5.8c3.2-1.5 6.4-2.8 9.6-3.5c3.3-.6 6.5-.4 9.7-.3c3.2.1 6.5.4 9.7.9c3.2.5 6.4 1 9.7 2c3.2.9 6.4 2.4 9.7 3.8c3.2 1.5 6.4 3.3 9.6 4.9c3.3 1.6 6.5 3 9.7 4.8c3.2 1.8 6.5 3.9 9.7 5.8c3.2 2 6.4 3.9 9.7 5.8c3.2 2 6.3 3.7 9.6 5.8c3.4 2.1 8.9 5.7 10.7 6.8" fill="none" stroke="#f79a36" stroke-width="4.2" stroke-linecap="butt" stroke-linejoin="round"/>
<path d="M153.6 2549.7c1.2-1.3 4.9-4.8 7.4-7.7c2.5-2.9 4.8-6.5 7.7-9.7c2.9-3.2 6.5-7.1 9.7-9.7c3.2-2.6 6.4-4.2 9.7-5.8c3.2-1.5 6.4-2.7 9.7-3.5c3.2-.8 6.4-1.1 9.6-1.3c3.3-.3 6.5-.5 9.7 0c3.2.5 6.5 1.3 9.7 2.9c3.2 1.6 6.4 4.3 9.7 6.7c3.2 2.5 6.4 5.4 9.6 7.8c3.3 2.4 6.5 4.8 9.7 6.8c3.2 1.9 6.5 3.4 9.7 4.8c3.2 1.5 6.5 2.7 9.7 3.9c3.2 1.1 6.4 1.9 9.7 2.9c3.2.9 6.4 1.8 9.6 2.9c3.3 1.1 6.5 2.4 9.7 3.9c3.2 1.4 6.5 3.5 9.7 4.8c3.2 1.3 6.4 2.2 9.7 2.9c3.2.7 6.4 1.2 9.7 1.4c3.2.1 6.4 0 9.6-.4c3.3-.4 6.5-1 9.7-2c3.2-.9 6.5-1.9 9.7-3.8c3.2-2 6.4-4.9 9.7-7.8c3.2-2.9 6.2-5.8 9.6-9.7c3.5-3.8 9.4-11.3 11.3-13.5l0 75.5c-1.9-.3-7.8-1.5-11.3-2c-3.4-.4-6.4-.7-9.6-.9c-3.3-.3-6.5-.4-9.7-.6c-3.2-.2-6.5-.2-9.7-.4c-3.2-.2-6.4-.6-9.7-1c-3.2-.3-6.4-.4-9.6-.9c-3.3-.5-6.5-1.2-9.7-2c-3.3-.8-6.5-1.7-9.7-2.9c-3.2-1.1-6.5-2.7-9.7-3.8c-3.2-1.2-6.4-2.1-9.7-2.9c-3.2-.8-6.4-1.3-9.6-2c-3.3-.6-6.5-1.1-9.7-1.9c-3.2-.8-6.5-1.8-9.7-2.9c-3.2-1.1-6.5-2.4-9.7-3.9c-3.2-1.4-6.4-3.1-9.7-4.8c-3.2-1.8-6.4-4.1-9.6-5.8c-3.3-1.8-6.5-3.7-9.7-4.9c-3.2-1.1-6.5-1.6-9.7-1.9c-3.2-.3-6.4-.2-9.7 0c-3.2.2-6.4.3-9.6 1c-3.3.6-6.5 1.3-9.7 2.9c-3.3 1.6-6.5 4-9.7 6.7c-3.2 2.8-6.8 6.5-9.7 9.7c-2.9 3.2-5.2 6.1-7.7 9.7c-2.5 3.5-6.2 9.7-7.4 11.6z" fill="#b5e8a8" fill-opacity="0.5"/>
<path d="M154.6 2572c1-1.2 4-4.1 6.4-6.8c2.3-2.7 4.8-6.4 7.7-9.7c2.9-3.2 6.5-6.9 9.7-9.7c3.2-2.7 6.4-5 9.7-6.7c3.2-1.8 6.4-3 9.7-3.9c3.2-.9 6.4-1.1 9.6-1.4c3.3-.2 6.5-.3 9.7 0c3.2.4 6.5 1 9.7 2.4c3.2 1.3 6.4 3.7 9.7 5.8c3.2 2.1 6.4 4.7 9.6 6.7c3.3 2.1 6.5 4.2 9.7 5.9c3.2 1.6 6.5 2.7 9.7 3.8c3.2 1.2 6.5 2.1 9.7 2.9c3.2.9 6.4 1.5 9.7 2.4c3.2.9 6.4 1.8 9.6 3.1c3.3 1.2 6.5 2.7 9.7 4.2c3.2 1.5 6.5 3.6 9.7 4.8c3.2 1.3 6.4 2.2 9.7 3c3.2.7 6.4 1.2 9.7 1.5c3.2.3 6.4.2 9.6 0c3.3-.2 6.5-.6 9.7-1.2c3.2-.5 6.5-1.2 9.7-2.3c3.2-1 6.4-2.4 9.7-3.9c3.2-1.4 6.3-3 9.6-4.8c3.4-1.8 8.9-4.8 10.7-5.8" fill="none" stroke="#5cb85c" stroke-width="4.2" stroke-linecap="butt" stroke-linejoin="round"/>
<path d="M143.0 2252.0V2644.2H404.9" stroke="#000" stroke-width="1.9" fill="none" stroke-linejoin="miter"/>
<path d="M135.5 2307.0L143.0 2307.0" stroke="#000" stroke-width="1.9" fill="none"/>
<text x="128.4" y="2316.3" font-size="24.3" text-anchor="end" stroke="#000" stroke-width="0.7">1.0</text>
<path d="M135.5 2391.5L143.0 2391.5" stroke="#000" stroke-width="1.9" fill="none"/>
<text x="128.4" y="2400.8" font-size="24.3" text-anchor="end" stroke="#000" stroke-width="0.7">0.8</text>
<path d="M135.5 2475.5L143.0 2475.5" stroke="#000" stroke-width="1.9" fill="none"/>
<text x="128.4" y="2484.8" font-size="24.3" text-anchor="end" stroke="#000" stroke-width="0.7">0.6</text>
<path d="M135.5 2559.5L143.0 2559.5" stroke="#000" stroke-width="1.9" fill="none"/>
<text x="128.4" y="2568.8" font-size="24.3" text-anchor="end" stroke="#000" stroke-width="0.7">0.4</text>
<path d="M135.5 2643.5L143.0 2643.5" stroke="#000" stroke-width="1.9" fill="none"/>
<text x="128.4" y="2652.8" font-size="24.3" text-anchor="end" stroke="#000" stroke-width="0.7">0.2</text>
<path d="M216.5 2644.2L216.5 2651.7" stroke="#000" stroke-width="1.9" fill="none"/>
<text x="216.5" y="2675.0" font-size="24.3" text-anchor="middle" stroke="#000" stroke-width="0.7">10</text>
<path d="M309.5 2644.2L309.5 2651.7" stroke="#000" stroke-width="1.9" fill="none"/>
<text x="309.5" y="2675.0" font-size="24.3" text-anchor="middle" stroke="#000" stroke-width="0.7">20</text>
<path d="M402.5 2644.2L402.5 2651.7" stroke="#000" stroke-width="1.9" fill="none"/>
<text x="402.5" y="2675.0" font-size="24.3" text-anchor="middle" stroke="#000" stroke-width="0.7">30</text>
<text font-size="28.5" text-anchor="middle" fill="#1f8fe8" stroke="#1f8fe8" stroke-width="0.7" transform="translate(270.5 2229.0) scale(1 1.04)">qNSC/Astrocyte</text>
<text font-size="28.3" text-anchor="middle" stroke="#000" stroke-width="0.8" transform="translate(270.0 2709.0) scale(1 1.04)">Age (months)</text>
<text font-size="28.3" text-anchor="middle" stroke="#000" stroke-width="0.8" transform="translate(80.0 2435.5) rotate(-90) scale(1 1.04)">Mean normalized expression</text>
<rect x="434.0" y="2419.8" width="31.0" height="33.4" fill="#a9c9ec" fill-opacity="0.5"/>
<path d="M437.0 2436.5L462.0 2436.5" stroke="#5b9bd5" stroke-width="4.2" fill="none"/>
<circle cx="449.5" cy="2436.5" r="4.6" fill="#5b9bd5"/>
<text font-size="28.4" stroke="#000" stroke-width="0.7" font-style="italic" transform="translate(472.5 2445.5) scale(1 1.04)">Alcam</text>
<rect x="434.0" y="2453.8" width="31.0" height="33.4" fill="#fbc98e" fill-opacity="0.5"/>
<path d="M437.0 2470.5L462.0 2470.5" stroke="#f79a36" stroke-width="4.2" fill="none"/>
<circle cx="449.5" cy="2470.5" r="4.6" fill="#f79a36"/>
<text font-size="28.4" stroke="#000" stroke-width="0.7" font-style="italic" transform="translate(472.5 2479.5) scale(1 1.04)">Ctnnd2</text>
<rect x="434.0" y="2488.3" width="31.0" height="33.4" fill="#b5e8a8" fill-opacity="0.5"/>
<path d="M437.0 2505.0L462.0 2505.0" stroke="#5cb85c" stroke-width="4.2" fill="none"/>
<circle cx="449.5" cy="2505.0" r="4.6" fill="#5cb85c"/>
<text font-size="28.4" stroke="#000" stroke-width="0.7" font-style="italic" transform="translate(472.5 2514.0) scale(1 1.04)">Itgb8</text>
<text x="580.3" y="2199.3" font-size="43.5" stroke="#000" stroke-width="0.5" font-weight="bold">l</text>
<circle cx="733.3" cy="2503.2" r="4.6" fill="#5b9bd5" fill-opacity="0.95"/>
<circle cx="733.3" cy="2538.1" r="4.6" fill="#5b9bd5" fill-opacity="0.95"/>
<circle cx="735.8" cy="2560.3" r="4.6" fill="#5b9bd5" fill-opacity="0.95"/>
<circle cx="743.5" cy="2543.5" r="4.6" fill="#5b9bd5" fill-opacity="0.95"/>
<circle cx="753.8" cy="2508.1" r="4.6" fill="#5b9bd5" fill-opacity="0.95"/>
<circle cx="765.8" cy="2517.7" r="4.6" fill="#5b9bd5" fill-opacity="0.95"/>
<circle cx="782.3" cy="2550.3" r="4.6" fill="#5b9bd5" fill-opacity="0.95"/>
<circle cx="792.3" cy="2483.5" r="4.6" fill="#5b9bd5" fill-opacity="0.95"/>
<circle cx="801.6" cy="2510.0" r="4.6" fill="#5b9bd5" fill-opacity="0.95"/>
<circle cx="821.0" cy="2510.0" r="4.6" fill="#5b9bd5" fill-opacity="0.95"/>
<circle cx="821.0" cy="2532.3" r="4.6" fill="#5b9bd5" fill-opacity="0.95"/>
<circle cx="839.7" cy="2545.8" r="4.6" fill="#5b9bd5" fill-opacity="0.95"/>
<circle cx="842.3" cy="2535.2" r="4.6" fill="#5b9bd5" fill-opacity="0.95"/>
<circle cx="859.1" cy="2491.6" r="4.6" fill="#5b9bd5" fill-opacity="0.95"/>
<circle cx="878.5" cy="2453.9" r="4.6" fill="#5b9bd5" fill-opacity="0.95"/>
<circle cx="881.0" cy="2537.1" r="4.6" fill="#5b9bd5" fill-opacity="0.95"/>
<circle cx="899.4" cy="2427.7" r="4.6" fill="#5b9bd5" fill-opacity="0.95"/>
<circle cx="907.1" cy="2519.7" r="4.6" fill="#5b9bd5" fill-opacity="0.95"/>
<circle cx="916.4" cy="2455.2" r="4.6" fill="#5b9bd5" fill-opacity="0.95"/>
<circle cx="929.0" cy="2566.7" r="4.6" fill="#5b9bd5" fill-opacity="0.95"/>
<circle cx="938.1" cy="2519.7" r="4.6" fill="#5b9bd5" fill-opacity="0.95"/>
<circle cx="948.1" cy="2425.2" r="4.6" fill="#5b9bd5" fill-opacity="0.95"/>
<circle cx="948.1" cy="2541.0" r="4.6" fill="#5b9bd5" fill-opacity="0.95"/>
<circle cx="977.7" cy="2393.9" r="4.6" fill="#5b9bd5" fill-opacity="0.95"/>
<circle cx="975.8" cy="2428.7" r="4.6" fill="#5b9bd5" fill-opacity="0.95"/>
<circle cx="733.3" cy="2512.5" r="4.6" fill="#f79a36" fill-opacity="0.95"/>
<circle cx="733.3" cy="2526.8" r="4.6" fill="#f79a36" fill-opacity="0.95"/>
<circle cx="743.5" cy="2533.2" r="4.6" fill="#f79a36" fill-opacity="0.95"/>
<circle cx="746.5" cy="2509.0" r="4.6" fill="#f79a36" fill-opacity="0.95"/>
<circle cx="765.8" cy="2496.4" r="4.6" fill="#f79a36" fill-opacity="0.95"/>
<circle cx="782.3" cy="2495.5" r="4.6" fill="#f79a36" fill-opacity="0.95"/>
<circle cx="792.3" cy="2473.2" r="4.6" fill="#f79a36" fill-opacity="0.95"/>
<circle cx="801.6" cy="2523.5" r="4.6" fill="#f79a36" fill-opacity="0.95"/>
<circle cx="821.0" cy="2497.4" r="4.6" fill="#f79a36" fill-opacity="0.95"/>
<circle cx="839.7" cy="2498.4" r="4.6" fill="#f79a36" fill-opacity="0.95"/>
<circle cx="842.3" cy="2469.4" r="4.6" fill="#f79a36" fill-opacity="0.95"/>
<circle cx="859.1" cy="2455.2" r="4.6" fill="#f79a36" fill-opacity="0.95"/>
<circle cx="861.6" cy="2471.3" r="4.6" fill="#f79a36" fill-opacity="0.95"/>
<circle cx="878.5" cy="2418.5" r="4.6" fill="#f79a36" fill-opacity="0.95"/>
<circle cx="881.0" cy="2534.2" r="4.6" fill="#f79a36" fill-opacity="0.95"/>
<circle cx="907.1" cy="2541.9" r="4.6" fill="#f79a36" fill-opacity="0.95"/>
<circle cx="916.4" cy="2456.8" r="4.6" fill="#f79a36" fill-opacity="0.95"/>
<circle cx="929.0" cy="2451.9" r="4.6" fill="#f79a36" fill-opacity="0.95"/>
<circle cx="938.1" cy="2511.0" r="4.6" fill="#f79a36" fill-opacity="0.95"/>
<circle cx="948.1" cy="2487.7" r="4.6" fill="#f79a36" fill-opacity="0.95"/>
<circle cx="977.7" cy="2389.4" r="4.6" fill="#f79a36" fill-opacity="0.95"/>
<circle cx="733.3" cy="2563.2" r="4.6" fill="#5cb85c" fill-opacity="0.95"/>
<circle cx="733.3" cy="2574.4" r="4.6" fill="#5cb85c" fill-opacity="0.95"/>
<circle cx="735.8" cy="2577.7" r="4.6" fill="#5cb85c" fill-opacity="0.95"/>
<circle cx="743.5" cy="2575.8" r="4.6" fill="#5cb85c" fill-opacity="0.95"/>
<circle cx="753.8" cy="2571.9" r="4.6" fill="#5cb85c" fill-opacity="0.95"/>
<circle cx="782.3" cy="2585.5" r="4.6" fill="#5cb85c" fill-opacity="0.95"/>
<circle cx="792.3" cy="2542.3" r="4.6" fill="#5cb85c" fill-opacity="0.95"/>
<circle cx="801.6" cy="2581.6" r="4.6" fill="#5cb85c" fill-opacity="0.95"/>
<circle cx="821.0" cy="2567.1" r="4.6" fill="#5cb85c" fill-opacity="0.95"/>
<circle cx="821.0" cy="2573.9" r="4.6" fill="#5cb85c" fill-opacity="0.95"/>
<circle cx="839.7" cy="2557.4" r="4.6" fill="#5cb85c" fill-opacity="0.95"/>
<circle cx="842.3" cy="2536.1" r="4.6" fill="#5cb85c" fill-opacity="0.95"/>
<circle cx="859.1" cy="2269.4" r="4.6" fill="#5cb85c" fill-opacity="0.95"/>
<circle cx="861.6" cy="2572.5" r="4.6" fill="#5cb85c" fill-opacity="0.95"/>
<circle cx="878.5" cy="2551.6" r="4.6" fill="#5cb85c" fill-opacity="0.95"/>
<circle cx="881.0" cy="2577.2" r="4.6" fill="#5cb85c" fill-opacity="0.95"/>
<circle cx="897.4" cy="2595.2" r="4.6" fill="#5cb85c" fill-opacity="0.95"/>
<circle cx="899.4" cy="2474.8" r="4.6" fill="#5cb85c" fill-opacity="0.95"/>
<circle cx="907.1" cy="2579.1" r="4.6" fill="#5cb85c" fill-opacity="0.95"/>
<circle cx="916.4" cy="2541.0" r="4.6" fill="#5cb85c" fill-opacity="0.95"/>
<circle cx="916.4" cy="2568.1" r="4.6" fill="#5cb85c" fill-opacity="0.95"/>
<circle cx="929.0" cy="2595.2" r="4.6" fill="#5cb85c" fill-opacity="0.95"/>
<circle cx="938.1" cy="2586.4" r="4.6" fill="#5cb85c" fill-opacity="0.95"/>
<circle cx="948.1" cy="2536.1" r="4.6" fill="#5cb85c" fill-opacity="0.95"/>
<circle cx="948.1" cy="2573.3" r="4.6" fill="#5cb85c" fill-opacity="0.95"/>
<circle cx="977.7" cy="2318.8" r="4.6" fill="#5cb85c" fill-opacity="0.95"/>
<path d="M733.3 2497.4c2.5 0 9.3.7 15.1 0c5.7-.6 12.9-2.6 19.3-3.9c6.5-1.2 12.9-2.9 19.4-3.8c6.4-1 12.9-1 19.4-2c6.4-.9 12.9-1.2 19.3-3.8c6.5-2.6 13.9-8.3 19.4-11.6c5.4-3.4 8.7-8.1 13.5-8.8c4.8-.6 10.3 2.5 15.5 4.9c5.2 2.4 10.6 7.4 15.5 9.7c4.8 2.2 9 4 13.5 3.8c4.5-.1 9.4-2.5 13.6-4.8c4.2-2.3 7.7-5 11.6-8.7c3.9-3.7 7.7-7.8 11.6-13.6c3.9-5.8 7.7-13.2 11.6-21.3c3.9-8 8.4-19 11.6-27c3.2-8.1 5.3-14.2 7.8-21.3c2.4-7.1 5.6-17.8 6.7-21.3l0 131.6c-1.1.6-4.3 2.2-6.7 3.9c-2.5 1.6-4.6 3.2-7.8 5.8c-3.2 2.5-7.7 6.4-11.6 9.6c-3.9 3.3-7.7 6.8-11.6 9.7c-3.9 2.9-7.7 5.8-11.6 7.8c-3.9 1.9-7.4 2.9-11.6 3.8c-4.2 1-8.1 1.5-13.6 2c-5.5.4-12.9-.4-19.3.9c-6.5 1.3-12.9 4.4-19.4 6.8c-6.4 2.4-12.9 5.8-19.3 7.7c-6.5 2-12.9 3.8-19.4 3.9c-6.4.2-12.9-1.8-19.3-2.9c-6.5-1.1-13-3.1-19.4-3.9c-6.5-.8-12.9-1.4-19.4-.9c-6.4.5-13.6 1.3-19.3 3.8c-5.8 2.6-12.6 9.7-15.1 11.7z" fill="#a9c9ec" fill-opacity="0.5"/>
<path d="M733.3 2530.3c2.5-.9 9.3-4.1 15.1-5.8c5.7-1.7 12.9-3.4 19.3-4.2c6.5-.9 12.9-.9 19.4-.6c6.4.2 12.9 1.7 19.4 1.9c6.4.2 12.9-.2 19.3-1c6.5-.8 12.9-2.4 19.4-3.8c6.4-1.5 13.5-3.4 19.3-4.9c5.8-1.4 10.7-3.2 15.5-3.8c4.8-.7 9.4-.3 13.5 0c4.2.2 7.8 1.6 11.7 1.3c3.8-.3 7.7-1.6 11.6-3.3c3.8-1.7 7.7-3.8 11.6-6.7c3.9-3 7.7-6.2 11.6-10.7c3.9-4.5 7.7-10.2 11.6-16.4c3.9-6.3 7.3-13.9 11.6-21.3c4.4-7.5 12.1-19.4 14.5-23.3" fill="none" stroke="#5b9bd5" stroke-width="4.2" stroke-linecap="butt" stroke-linejoin="round"/>
<path d="M733.3 2487.7c2.5 1 9.3 6.8 15.1 5.8c5.7-.9 12.9-7.7 19.3-11.6c6.5-3.8 12.9-8.4 19.4-11.6c6.4-3.2 12.9-5.1 19.4-7.7c6.4-2.6 13.3-5.7 19.3-7.8c6-2.1 11-4.8 16.5-4.8c5.4 0 11.1 2.4 16.4 4.8c5.3 2.5 10.3 6.3 15.5 9.7c5.2 3.4 10.6 8.1 15.5 10.7c4.8 2.5 9 4.8 13.5 4.8c4.5 0 9.4-2.6 13.6-4.8c4.2-2.3 7.7-5 11.6-8.7c3.9-3.8 7.7-8.1 11.6-13.6c3.9-5.5 7.7-11.3 11.6-19.4c3.9-8 8.4-20 11.6-29c3.2-9 5.3-16.8 7.8-25.1c2.4-8.4 5.6-21 6.7-25.2l0 110.3c-1.1 1.3-4.3 4.9-6.7 7.8c-2.5 2.9-4.6 5.4-7.8 9.6c-3.2 4.2-7.7 10.7-11.6 15.5c-3.9 4.9-7.7 9.9-11.6 13.6c-3.9 3.7-7.7 6.4-11.6 8.7c-3.9 2.2-7.4 3.7-11.6 4.8c-4.2 1.1-9.1 1.9-13.6 1.9c-4.5 0-8.7-.6-13.5-1.9c-4.9-1.3-10.3-3.5-15.5-5.8c-5.2-2.3-10.2-6.1-15.5-7.7c-5.3-1.6-11-2.6-16.4-2c-5.5.7-10.5 3.7-16.5 5.8c-6 2.1-12.9 5-19.3 6.8c-6.5 1.8-13 2.4-19.4 3.9c-6.5 1.4-12.9 2.6-19.4 4.8c-6.4 2.3-13.6 3.9-19.3 8.7c-5.8 4.9-12.6 17-15.1 20.4z" fill="#fbc98e" fill-opacity="0.5"/>
<path d="M733.3 2523.5c2.5-1.1 9.3-4.1 15.1-6.7c5.7-2.6 12.9-5.8 19.3-8.7c6.5-2.9 12.9-6 19.4-8.7c6.4-2.8 13.7-5.7 19.4-7.8c5.6-2.1 10.3-3.1 14.5-4.8c4.2-1.8 7.1-4.4 10.6-5.8c3.6-1.5 6.8-3.1 10.7-2.9c3.8.1 7.9 1.6 12.5 3.8c4.7 2.3 10.4 6.8 15.5 9.7c5.2 2.9 10.3 5.8 15.5 7.8c5.2 2 11 3.9 15.5 4.2c4.5.3 7.7-.8 11.6-2.3c3.9-1.5 7.7-3.6 11.6-6.8c3.9-3.2 7.8-7.6 11.6-12.6c3.9-5 7.8-10.9 11.6-17.4c3.9-6.4 8.1-14.5 11.7-21.3c3.5-6.7 6.6-13.7 9.6-19.3c3.1-5.7 7.3-12.1 8.7-14.5" fill="none" stroke="#f79a36" stroke-width="4.2" stroke-linecap="butt" stroke-linejoin="round"/>
<path d="M733.3 2511c2.5 1.6 9.3 7.1 15.1 9.6c5.7 2.6 12.9 5 19.3 5.8c6.5.9 12.9 0 19.4-.9c6.4-1 13.9-2.8 19.4-4.9c5.4-2.1 9.3-3.5 13.5-7.7c4.2-4.2 7.7-12.3 11.6-17.4c3.9-5.2 7.1-10.7 11.6-13.6c4.5-2.9 10.3-3.5 15.5-3.8c5.2-.4 11 0 15.5 1.9c4.5 1.9 7.7 5.2 11.6 9.7c3.9 4.5 8.4 13.5 11.6 17.4c3.2 3.9 4.5 5.5 7.8 5.8c3.2.3 7.7-1.6 11.6-3.9c3.8-2.2 7.7-5.1 11.6-9.6c3.9-4.6 7.7-9.7 11.6-17.5c3.9-7.7 8.1-17.7 11.6-29c3.6-11.3 6.5-21.9 9.7-38.7c3.2-16.8 6.9-42.6 9.7-61.9c2.7-19.4 5.6-45.2 6.7-54.2l0 220.6c-1.1 1.3-4 4.5-6.7 7.7c-2.8 3.3-6.5 7.5-9.7 11.7c-3.2 4.2-6.1 8.7-9.7 13.5c-3.5 4.8-7.7 10.7-11.6 15.5c-3.9 4.8-7.7 9.3-11.6 13.5c-3.9 4.2-7.8 8.8-11.6 11.7c-3.9 2.9-8.4 5.1-11.6 5.8c-3.3.6-4.6.3-7.8-2c-3.2-2.2-7.7-7.7-11.6-11.6c-3.9-3.9-7.1-9-11.6-11.6c-4.5-2.6-10.3-4.2-15.5-3.9c-5.2.4-11 2.9-15.5 5.8c-4.5 2.9-7.7 6.8-11.6 11.6c-3.9 4.9-7.4 13.3-11.6 17.5c-4.2 4.2-8.1 5.8-13.5 7.7c-5.5 1.9-13 3.6-19.4 3.9c-6.5.3-12.9-1-19.4-2c-6.4-.9-14.5-3.7-19.3-3.8c-4.9-.2-7.2.3-9.7 2.9c-2.5 2.6-4.5 10.5-5.4 12.6z" fill="#b5e8a8" fill-opacity="0.5"/>
<path d="M733.3 2556.4c2.5 1 10 4.5 15.1 5.9c5.1 1.3 10.6 2.1 15.5 2.5c4.8.4 8.7.4 13.5-.2c4.9-.6 10.3-1.8 15.5-3.3c5.2-1.5 11-3.9 15.5-5.8c4.5-2 8.4-2.9 11.6-5.8c3.2-2.9 5.2-7.3 7.7-11.6c2.6-4.4 4.9-11 7.8-14.6c2.9-3.5 5.8-5.2 9.7-6.7c3.8-1.5 9.3-2.2 13.5-2.4c4.2-.1 8.1.4 11.6 1.4c3.6 1 6.8 2.1 9.7 4.8c2.9 2.8 5.2 7.3 7.7 11.7c2.6 4.3 5.2 10.8 7.8 14.5c2.6 3.7 5.1 6.6 7.7 7.7c2.6 1.1 4.5.2 7.8-1c3.2-1.1 7.7-2.5 11.6-5.8c3.9-3.2 8-8 11.6-13.5c3.5-5.5 6.4-11.6 9.7-19.4c3.2-7.7 6.4-17.4 9.6-27.1c3.3-9.6 6.8-21.6 9.7-30.9c2.9-9.4 5.3-17.4 7.8-25.2c2.4-7.7 5.6-17.7 6.7-21.3" fill="none" stroke="#5cb85c" stroke-width="4.2" stroke-linecap="butt" stroke-linejoin="round"/>
<path d="M722.3 2252.0V2643.5H990.3" stroke="#000" stroke-width="1.9" fill="none" stroke-linejoin="miter"/>
<path d="M714.8 2257.5L722.3 2257.5" stroke="#000" stroke-width="1.9" fill="none"/>
<text x="706.4" y="2266.8" font-size="24.3" text-anchor="end" stroke="#000" stroke-width="0.7">0.6</text>
<path d="M714.8 2370.0L722.3 2370.0" stroke="#000" stroke-width="1.9" fill="none"/>
<text x="706.4" y="2379.3" font-size="24.3" text-anchor="end" stroke="#000" stroke-width="0.7">0.4</text>
<path d="M714.8 2482.5L722.3 2482.5" stroke="#000" stroke-width="1.9" fill="none"/>
<text x="706.4" y="2491.8" font-size="24.3" text-anchor="end" stroke="#000" stroke-width="0.7">0.2</text>
<path d="M714.8 2595.0L722.3 2595.0" stroke="#000" stroke-width="1.9" fill="none"/>
<text x="706.4" y="2604.3" font-size="24.3" text-anchor="end" stroke="#000" stroke-width="0.7">0.0</text>
<path d="M797.5 2643.5L797.5 2651.0" stroke="#000" stroke-width="1.9" fill="none"/>
<text x="797.5" y="2675.0" font-size="24.3" text-anchor="middle" stroke="#000" stroke-width="0.7">10</text>
<path d="M892.5 2643.5L892.5 2651.0" stroke="#000" stroke-width="1.9" fill="none"/>
<text x="892.5" y="2675.0" font-size="24.3" text-anchor="middle" stroke="#000" stroke-width="0.7">20</text>
<path d="M987.5 2643.5L987.5 2651.0" stroke="#000" stroke-width="1.9" fill="none"/>
<text x="987.5" y="2675.0" font-size="24.3" text-anchor="middle" stroke="#000" stroke-width="0.7">30</text>
<text font-size="28.5" text-anchor="middle" fill="#e31a1c" stroke="#e31a1c" stroke-width="0.7" transform="translate(848.0 2229.0) scale(1 1.04)">aNSC/NPC</text>
<text font-size="28.3" text-anchor="middle" stroke="#000" stroke-width="0.8" transform="translate(855.0 2709.0) scale(1 1.04)">Age (months)</text>
<text font-size="28.3" text-anchor="middle" stroke="#000" stroke-width="0.8" transform="translate(651.5 2435.5) rotate(-90) scale(1 1.04)">Mean normalized expression</text>
<rect x="1018.5" y="2419.8" width="31.0" height="33.4" fill="#a9c9ec" fill-opacity="0.5"/>
<path d="M1021.5 2436.5L1046.5 2436.5" stroke="#5b9bd5" stroke-width="4.2" fill="none"/>
<circle cx="1034.0" cy="2436.5" r="4.6" fill="#5b9bd5"/>
<text font-size="28.4" stroke="#000" stroke-width="0.7" font-style="italic" transform="translate(1062.5 2445.5) scale(1 1.04)">Alcam</text>
<rect x="1018.5" y="2453.8" width="31.0" height="33.4" fill="#fbc98e" fill-opacity="0.5"/>
<path d="M1021.5 2470.5L1046.5 2470.5" stroke="#f79a36" stroke-width="4.2" fill="none"/>
<circle cx="1034.0" cy="2470.5" r="4.6" fill="#f79a36"/>
<text font-size="28.4" stroke="#000" stroke-width="0.7" font-style="italic" transform="translate(1062.5 2479.5) scale(1 1.04)">Lsamp</text>
<rect x="1018.5" y="2488.3" width="31.0" height="33.4" fill="#b5e8a8" fill-opacity="0.5"/>
<path d="M1021.5 2505.0L1046.5 2505.0" stroke="#5cb85c" stroke-width="4.2" fill="none"/>
<circle cx="1034.0" cy="2505.0" r="4.6" fill="#5cb85c"/>
<text font-size="28.4" stroke="#000" stroke-width="0.7" font-style="italic" transform="translate(1062.5 2514.0) scale(1 1.04)">Ntm</text>
<path transform="translate(.3 .3)" d="m191 159zm1341 1zm-1325 2zm754 0zm-750 2zm927 0zm-953 1zm1333 0zm13 0zm24 0zm-706 1zm910 0zm-206 2zm-1389 1zm8 0zm5 0zm5 1zm248 0zm467 0zm108 0zm4 0zm499 0zm311 1zm-1648 1zm103 0zm1280 1zm311 1zm-1690 1zm0 0zm25 0zm95 0zm-109 1zm19 0zm26 1zm654 0zm247 0zm-276 1zm293 0zm-36 1zm717 0zm-1551 1zm685 0zm-747 1zm680 0zm253 0zm-980 1zm824 0zm-810 1zm2 0zm965 0zm359 0zm-1040 1zm656 0zm-955 1zm39 0zm4 0zm633 0zm7 0zm31 0zm-713 1zm9 0zm50 0zm614 0zm154 0zm565 0zm51 0zm-1285 1zm538 0zm29 0zm-729 1zm1435 0zm-1289 1zm531 0zm8 0zm10 0zm35 0zm663 0zm219 0zm25 0zm-1624 1zm711 0zm-714 1zm708 0zm-674 1zm1 0zm371 0zm283 0zm23 0zm-715 1zm55 0zm57 0zm668 0zm146 0zm2 0zm717 0zm-962 1zm664 0zm83 0zm281 0zm-1720 1zm10 0zm38 0zm730 0zm563 0zm-1344 1zm1 0zm1 0zm3 0zm720 0zm1 0zm99 0zm9 0zm113 0zm-887 1zm55 0zm150 0zm432 0zm125 0zm175 0zm642 0zm-1625 1zm249 0zm151 0zm282 0zm148 0zm156 0zm-985 1zm4 0zm28 0zm655 0zm37 0zm60 0zm144 0zm425 0zm242 0zm-1451 1zm103 0zm698 0zm42 0zm610 0zm49 0zm-1658 1zm50 0zm12 0zm0 0zm52 0zm7 0zm204 0zm395 0zm17 0zm205 0zm420 0zm252 0zm96 0zm-1707 1zm1 0zm672 0zm44 0zm6 0zm262 0zm419 0zm-1399 1zm6 0zm660 0zm720 0zm-1389 1zm118 0zm551 0zm14 0zm47 0zm-719 1zm661 0zm113 0zm161 0zm50 0zm663 0zm-1666 1zm2 0zm679 0zm256 0zm60 0zm341 0zm10 0zm49 0zm4 0zm208 0zm29 0zm-1590 1zm4 0zm3 0zm10 0zm661 0zm18 0zm663 0zm256 0zm-1619 1zm1306 0zm132 0zm164 0zm53 0zm-1653 1zm14 0zm3 0zm85 0zm533 0zm15 0zm241 0zm61 0zm371 0zm246 0zm147 0zm-1760 1zm49 0zm6 0zm7 0zm54 0zm25 0zm2 0zm263 0zm276 0zm10 0zm297 0zm7 0zm666 0zm-985 1zm44 0zm273 0zm10 0zm340 0zm109 0zm42 0zm103 0zm-1602 1zm5 0zm4 0zm43 0zm11 0zm636 0zm97 0zm149 0zm48 0zm6 0zm662 0zm-1609 1zm2 0zm101 0zm783 0zm2 0zm58 0zm10 0zm749 0zm-1738 1zm103 0zm558 0zm64 0zm103 0zm560 0zm213 0zm-1456 1zm165 0zm410 0zm602 0zm114 0zm293 0zm-1439 1zm13 0zm373 0zm89 0zm566 0zm31 0zm76 0zm142 0zm-1482 1zm6 0zm194 0zm377 0zm650 0zm260 0zm41 0zm-1526 1zm150 0zm561 0zm779 0zm-1503 1zm48 0zm523 0zm15 0zm662 0zm104 0zm-1152 1zm1080 0zm3 0zm229 0zm39 0zm-1544 1zm0 0zm156 0zm49 0zm462 0zm264 0zm335 0zm-1069 1zm796 0zm384 0zm107 0zm1 0zm57 0zm-608 1zm60 0zm361 0zm140 0zm11 0zm38 0zm-292 1zm31 0zm-1287 1zm1242 0zm50 0zm50 0zm159 0zm112 0zm-1455 1zm40 0zm1100 0zm-1291 1zm43 0zm3 0zm1321 0zm183 0zm55 0zm-1558 1zm630 0zm702 0zm157 0zm-1542 1zm53 0zm1238 0zm207 0zm1 0zm-1501 1zm0 0zm54 0zm9 0zm107 0zm93 0zm409 0zm606 0zm279 0zm-1501 1zm141 0zm19 0zm513 0zm526 0zm291 0zm-827 1zm18 0zm196 0zm300 0zm1 0zm22 0zm1 0zm98 0zm8 0zm13 0zm123 0zm0 0zm43 0zm11 0zm2 0zm-1497 1zm1183 0zm143 0zm120 0zm40 0zm-1337 1zm9 0zm463 0zm573 0zm32 0zm3 0zm11 0zm2 0zm260 0zm-1554 1zm175 0zm18 0zm1048 0zm147 0zm102 0zm7 0zm40 0zm-1379 1zm37 0zm739 0zm313 0zm3 0zm39 0zm39 0zm2 0zm64 0zm1 0zm249 0zm-1589 1zm112 0zm19 0zm1042 0zm111 0zm161 0zm101 0zm-1612 1zm4 0zm57 0zm107 0zm8 0zm31 0zm471 0zm572 0zm14 0zm21 0zm20 0zm48 0zm6 0zm148 0zm1 0zm-1351 1zm789 0zm394 0zm7 0zm-349 1zm267 0zm15 0zm-1219 1zm624 0zm615 0zm-1243 1zm8 0zm102 0zm518 0zm62 0zm503 0zm6 0zm30 0zm-1071 1zm1024 0zm67 0zm-1240 1zm105 0zm1 0zm1086 0zm128 0zm-1171 1zm5 0zm-16 1zm529 0zm652 0zm-1383 1zm3 0zm62 0zm1 0zm100 0zm36 0zm0 0zm2 0zm19 0zm453 0zm11 0zm593 0zm23 0zm354 0zm-1437 1zm510 0zm1 0zm520 0zm90 0zm19 0zm-1149 1zm1049 0zm41 0zm-1097 1zm7 0zm95 0zm16 0zm355 0zm558 0zm51 0zm5 0zm1 0zm-1120 1zm36 0zm4 0zm1 0zm465 0zm3 0zm568 0zm8 0zm25 0zm67 0zm248 0zm-1382 1zm3 0zm510 0zm5 0zm509 0zm42 0zm101 0zm-1224 1zm584 0zm504 0zm35 0zm5 0zm2 0zm65 0zm48 0zm-1234 1zm98 0zm8 0zm408 0zm48 0zm568 0zm36 0zm18 0zm-668 1zm657 0zm12 0zm-1200 1zm58 0zm10 0zm44 0zm5 0zm472 0zm507 0zm157 0zm-1248 1zm3 0zm3 0zm43 0zm13 0zm453 0zm59 0zm518 0zm6 0zm24 0zm24 0zm40 0zm-1189 1zm118 0zm404 0zm573 0zm147 0zm3 0zm-1233 1zm39 0zm0 0zm2 0zm5 0zm1043 0zm-1101 1zm13 0zm48 0zm515 0zm6 0zm505 0zm6 0zm-1092 1zm12 0zm569 0zm508 0zm4 0zm35 0zm10 0zm10 0zm44 0zm-614 1zm507 1zm12 0zm-515 1zm556 0zm3 0zm43 0zm-106 1zm49 0zm6 0zm9 0zm-51 1zm47 0zm5 0zm5 0zm-988 1zm939 0zm-517 1zm507 0zm40 0zm104 0zm-651 1zm506 1zm0 0zm54 0zm54 0zm47 0zm6 0zm-119 1zm5 0zm50 0zm8 0zm-677 1zm8 0zm568 0zm56 0zm-629 1zm561 0zm53 0zm9 0zm99 0zm-109 1zm12 0zm2 0zm43 0zm46 0zm-55 1zm17 0zm43 0zm-46 4zm49 0zm-55 1zm55 0zm-10 2zm1 1zm-47 2zm47 0zm5 2zm-51 2zm2 2zm54 0zm0 0zm-62 1zm2 1zm8 0zm57 1zm-4 1zm-60 2zm49 0zm-44 1zm54 0zm-2 1zm-1 1zm-54 1zm53 0zm-53 2zm62 0zm-68 1zm7 0zm5 0zm42 0zm-45 1zm47 0zm-58 1zm0 1zm2 2zm0 1zm2 0zm9 0zm-2 1zm50 0zm-61 1zm58 0zm-457 1zm-1 1zm401 0zm6 1zm1 0zm58 0zm-1147 1zm1140 0zm6 1zm-1143 1zm1077 0zm8 0zm4 0zm59 0zm-1081 1zm673 0zm347 0zm55 0zm1 0zm4 0zm-401 1zm335 0zm2 2zm58 0zm-61 2zm64 0zm-7 2zm-1133 2zm-4 1zm1144 0zm193 0zm-194 1zm3 0zm0 0zm-1145 1zm739 0zm344 0zm3 0zm-1033 2zm9 0zm1342 0zm-261 1zm262 0zm-258 1zm-66 2zm324 0zm-1667 1zm4 0zm62 0zm2 0zm1341 0zm-1403 1zm999 0zm-1006 1zm69 0zm-4 1zm-61 1zm890 0zm7 0zm-832 2zm833 0zm2 0zm-999 1zm52 0zm41 0zm-87 1zm42 0zm1 0zm2 0zm112 0zm93 0zm4 0zm8 0zm730 0zm-1002 1zm4 0zm12 0zm49 0zm33 0zm10 0zm53 0zm3 0zm95 0zm2 0zm5 0zm1 0zm670 0zm59 0zm760 0zm-1699 1zm5 0zm2 0zm260 0zm671 0zm6 0zm-1000 1zm8 0zm2 0zm44 0zm10 0zm38 0zm1 0zm158 0zm5 0zm44 0zm1393 0zm-1704 1zm13 0zm4 0zm137 0zm844 0zm-980 1zm1 0zm972 0zm-663 1zm620 0zm-905 1zm2 0zm219 0zm48 0zm14 0zm618 0zm51 0zm5 0zm57 0zm704 0zm-1715 1zm12 0zm48 0zm48 0zm107 0zm674 0zm9 0zm6 0zm-900 1zm5 0zm10 0zm209 0zm36 0zm5 0zm622 0zm4 0zm49 0zm10 0zm-956 1zm14 0zm249 0zm20 0zm626 0zm750 0zm-1588 1zm158 0zm684 0zm146 0zm-1100 1zm160 0zm1541 0zm-1704 1zm270 0zm34 0zm23 0zm613 0zm-928 1zm251 0zm-98 1zm116 0zm-169 1zm9 0zm36 0zm119 0zm49 0zm-287 1zm116 0zm109 0zm52 0zm2 0zm643 0zm34 0zm-952 1zm239 0zm42 0zm612 0zm-826 1zm841 0zm34 0zm78 0zm-1063 1zm156 0zm147 0zm661 0zm42 0zm655 0zm-1642 1zm19 0zm24 0zm36 0zm25 0zm35 0zm149 0zm758 0zm534 0zm-1602 1zm151 0zm126 0zm53 0zm1334 0zm-1391 1zm577 0zm146 0zm5 0zm-982 1zm765 0zm176 0zm695 0zm-1634 1zm140 0zm127 0zm560 0zm815 0zm5 0zm-620 1zm606 0zm-1641 1zm41 0zm103 0zm623 0zm883 0zm-1382 1zm510 0zm308 0zm512 0zm58 0zm-825 1zm108 0zm54 0zm641 0zm-1581 1zm45 0zm40 0zm16 0zm94 0zm525 0zm828 0zm-1562 1zm100 0zm119 0zm1377 0zm7 0zm11 0zm3 0zm-700 1zm-919 1zm78 0zm655 0zm59 0zm115 0zm6 0zm654 0zm-1455 1zm141 0zm651 0zm690 0zm5 0zm-1591 1zm733 0zm196 0zm622 0zm3 0zm3 0zm7 0zm-1348 1zm58 0zm649 0zm463 0zm69 0zm108 0zm26 0zm5 0zm6 0zm-819 1zm605 0zm70 0zm103 0zm8 0zm37 0zm-1538 1zm724 0zm102 0zm-933 1zm30 0zm7 0zm1393 0zm61 0zm-1236 1zm131 0zm1043 0zm3 0zm54 0zm3 0zm-1488 1zm254 0zm518 0zm42 0zm112 0zm44 0zm618 0zm-1331 1zm15 0zm539 0zm8 0zm159 0zm770 0zm-1754 1zm2 0zm45 0zm723 0zm-659 1zm6 0zm-97 1zm705 0zm43 0zm3 0zm-755 1zm11 0zm656 0zm705 0zm97 0zm157 0zm-1639 1zm814 0zm3 0zm531 0zm29 0zm10 0zm246 0zm16 0zm-980 1zm8 0zm56 0zm643 0zm15 0zm53 0zm45 0zm219 0zm-1721 1zm684 0zm62 0zm101 0zm-13 1zm512 0zm45 0zm6 0zm-702 1zm29 0zm2 0zm631 0zm36 0zm12 0zm-612 1zm6 0zm27 0zm15 0zm563 0zm3 0zm-714 1zm40 0zm243 0zm426 0zm246 0zm-963 1zm6 0zm37 0zm75 0zm583 0zm20 0zm237 0zm23 1zm-1365 1zm398 0zm924 0zm-19 1zm-875 1zm2 0zm967 0zm-1676 1zm1624 0zm-676 1zm-241 2zm56 0zm816 0zm-912 1zm47 0zm920 0zm-847 1zm166 1zm-913 1zm677 0zm96 0zm-90 2zm-58 1zm7 1zm1 0zm-408 1zm-246 1zm704 0zm-42 1zm-10 1zm-410 1zm397 0zm1 0zm7 0zm1 0zm2 0zm6 0zm2 0zm0 0zm1 0zm0 0zm2 0zm1 0zm12 0zm4 0zm4 0zm2 0zm0 0zm4 0zm3 0zm3 0zm0 0zm12 0zm852 3zm6 0zm9 0zm0 0zm3 0zm2 0zm1 0zm0 0zm2 0zm1 0zm2 0zm12 0zm1 0zm4 0zm2 0zm2 0zm3 0zm5 0zm3 0zm2 0zm0 0zm97 0zm-1449 286zm967 2zm-1244 1zm753 0zm-737 1zm278 1zm589 0zm-163 2zm936 0zm-782 4zm366 5zm65 0zm-1328 2zm287 2zm-31 1zm57 2zm1013 0zm-406 1zm-793 1zm810 0zm346 1zm-266 3zm292 0zm-628 3zm643 0zm-1301 1zm256 0zm5 1zm-248 2zm651 0zm634 0zm-9 1zm249 0zm125 0zm-1381 1zm386 1zm1095 0zm-763 1zm-959 1zm193 0zm428 0zm115 0zm-525 1zm6 1zm660 0zm18 0zm-698 1zm34 0zm11 0zm376 0zm247 0zm635 0zm-917 1zm-3 1zm48 0zm239 0zm434 0zm221 0zm226 0zm-1778 1zm603 0zm31 1zm222 0zm51 0zm4 0zm-166 1zm119 0zm-873 1zm257 0zm629 0zm25 0zm-936 1zm268 0zm638 0zm24 0zm458 0zm-1328 1zm846 0zm8 0zm348 0zm160 0zm-777 1zm6 0zm267 0zm34 0zm99 0zm-1035 1zm916 0zm351 0zm-1218 1zm572 0zm19 1zm24 0zm631 0zm225 0zm-1474 1zm77 0zm136 0zm624 0zm492 0zm-1352 1zm12 0zm8 0zm42 0zm540 0zm12 0zm748 0zm-1388 1zm10 0zm40 0zm215 0zm509 0zm117 0zm399 0zm102 0zm-726 1zm591 0zm95 0zm-1339 1zm15 0zm6 0zm213 0zm391 0zm84 0zm-682 1zm643 0zm262 0zm-266 1zm68 0zm552 0zm103 0zm-1405 1zm100 0zm624 0zm208 0zm389 0zm-54 1zm-1215 1zm630 0zm47 0zm-417 1zm313 0zm10 0zm2 0zm40 0zm215 0zm429 0zm34 0zm415 0zm-1674 1zm573 0zm230 0zm358 0zm-1257 1zm348 0zm284 0zm45 0zm745 0zm-1382 1zm222 0zm360 0zm44 0zm278 0zm463 0zm-788 1zm55 0zm3 0zm10 0zm37 0zm6 0zm204 0zm-663 1zm411 0zm83 0zm10 0zm211 0zm294 0zm39 0zm-1069 1zm43 0zm3 0zm12 0zm441 0zm156 0zm38 0zm315 0zm46 0zm-1207 1zm36 0zm1631 0zm-1674 1zm4 0zm165 0zm648 0zm41 0zm469 0zm98 0zm-1464 1zm107 0zm103 0zm3 0zm4 0zm482 0zm11 0zm119 0zm14 0zm146 0zm215 0zm-985 1zm661 0zm-946 1zm2 0zm49 0zm10 0zm994 0zm255 0zm270 0zm-1305 1zm51 0zm2 0zm590 0zm30 0zm17 0zm306 0zm12 0zm23 0zm109 0zm9 0zm396 0zm27 0zm-1575 1zm6 0zm31 0zm431 0zm16 0zm181 0zm1 0zm8 0zm114 0zm624 0zm-1658 1zm140 0zm111 0zm156 0zm309 0zm157 0zm20 0zm80 0zm330 0zm48 0zm46 0zm373 0zm26 0zm-1759 1zm200 0zm15 0zm3 0zm41 0zm955 0zm55 0zm-1328 1zm0 0zm11 0zm132 0zm10 0zm164 0zm473 0zm105 0zm6 0zm2 0zm40 0zm4 0zm-931 1zm87 0zm159 0zm486 0zm39 0zm127 0zm3 0zm26 0zm119 0zm230 0zm92 0zm45 0zm370 0zm-1789 1zm54 0zm48 0zm48 0zm102 0zm45 0zm11 0zm6 0zm416 0zm162 0zm386 0zm36 0zm-1271 1zm99 0zm755 0zm-867 1zm26 0zm200 0zm7 0zm640 0zm367 0zm25 0zm-1300 1zm118 0zm610 0zm21 0zm164 0zm-922 1zm129 0zm38 0zm145 0zm3 0zm603 0zm351 0zm3 0zm158 0zm-1415 1zm98 0zm55 0zm99 0zm54 0zm1 0zm423 0zm175 0zm45 0zm99 0zm221 0zm35 0zm-1270 1zm0 0zm14 0zm83 0zm606 0zm141 0zm17 0zm39 0zm364 0zm12 0zm2 0zm109 0zm94 0zm296 0zm-1773 1zm211 0zm63 0zm461 0zm5 0zm12 0zm474 0zm40 0zm7 0zm-585 1zm57 0zm7 0zm103 0zm361 0zm54 0zm45 0zm-1258 1zm643 0zm576 0zm-1321 1zm321 0zm423 0zm47 0zm6 0zm471 0zm93 0zm54 0zm-1415 1zm40 0zm703 0zm202 0zm7 0zm363 0zm7 0zm98 0zm3 0zm355 0zm-1771 1zm88 0zm9 0zm4 0zm39 0zm639 0zm111 0zm46 0zm10 0zm-909 1zm5 0zm7 0zm50 0zm2 0zm623 0zm530 0zm144 0zm376 0zm1 0zm6 0zm-1684 1zm9 0zm668 0zm2 0zm3 0zm472 0zm105 0zm44 0zm421 0zm11 0zm-1838 1zm151 0zm584 0zm43 0zm106 0zm4 0zm0 0zm17 0zm0 0zm41 0zm457 0zm176 0zm190 0zm-1770 1zm41 0zm14 0zm894 0zm308 0zm27 0zm528 0zm6 0zm-1819 1zm47 0zm10 0zm6 0zm51 0zm1 0zm772 0zm5 0zm1 0zm936 0zm-1831 1zm7 0zm730 0zm57 0zm4 0zm835 0zm143 0zm67 0zm-1797 1zm52 0zm9 0zm42 0zm1126 0zm12 0zm24 0zm8 0zm225 0zm0 0zm271 0zm105 0zm-1862 1zm44 0zm7 0zm790 0zm5 0zm42 0zm333 0zm87 0zm20 0zm-1343 1zm2 0zm120 0zm3 0zm562 0zm171 0zm53 0zm359 0zm4 0zm365 0zm-1577 1zm42 0zm593 0zm49 0zm475 0zm578 0zm-1841 1zm49 0zm9 0zm3 0zm83 0zm10 0zm272 0zm308 0zm64 0zm480 0zm41 0zm251 0zm214 0zm9 0zm137 0zm-1925 1zm45 0zm10 0zm55 0zm37 0zm643 0zm510 0zm8 0zm482 0zm16 0zm6 0zm-1817 1zm46 0zm3 0zm100 0zm1271 0zm474 0zm25 0zm-1819 1zm634 0zm55 0zm636 0zm7 0zm151 0zm-319 1zm14 0zm142 0zm-1257 1zm1111 0zm54 0zm54 0zm410 0zm-1643 1zm12 0zm1425 0zm235 0zm65 0zm-1152 1zm1 0zm256 0zm268 0zm55 0zm228 0zm251 0zm23 0zm121 0zm-1786 1zm582 0zm536 0zm41 0zm14 0zm96 0zm104 0zm-1363 1zm1 0zm1118 0zm30 0zm10 0zm202 0zm265 0zm42 0zm5 0zm66 0zm-1803 1zm68 0zm634 0zm530 0zm86 0zm484 0zm-1801 1zm1163 0zm54 0zm104 0zm364 0zm-419 1zm202 0zm109 0zm120 0zm-1642 1zm1231 0zm155 0zm243 0zm-351 1zm105 0zm253 0zm-1687 1zm1672 0zm41 0zm-1652 1zm1207 0zm60 0zm241 0zm158 0zm53 0zm-1724 1zm8 0zm1200 0zm154 0zm49 0zm209 0zm-1662 1zm1401 0zm365 0zm-515 1zm3 0zm5 0zm158 0zm12 0zm18 0zm2 0zm250 0zm23 0zm38 0zm-302 1zm1 0zm239 0zm68 0zm1 0zm7 0zm-1794 1zm1492 0zm289 0zm47 0zm-1826 1zm1275 0zm44 0zm373 0zm-1688 1zm1445 0zm239 0zm44 0zm-1721 1zm1260 0zm58 0zm93 0zm48 0zm70 0zm240 0zm-1715 1zm1410 0zm204 0zm11 0zm50 0zm-320 1zm26 0zm82 0zm150 0zm39 0zm-451 1zm62 0zm348 0zm12 0zm30 0zm8 0zm5 0zm-1731 1zm58 0zm1209 0zm56 0zm156 0zm216 0zm-1636 1zm1210 0zm412 0zm19 0zm18 0zm1 0zm12 0zm52 0zm-1780 1zm4 0zm2 0zm50 0zm1214 0zm216 0zm239 0zm4 0zm-402 1zm89 0zm55 0zm12 0zm41 0zm146 0zm0 0zm20 0zm6 0zm21 0zm-296 1zm3 0zm6 0zm289 0zm3 0zm122 0zm-1781 1zm1357 0zm44 0zm214 0zm57 0zm-1728 1zm54 0zm3 0zm1201 0zm62 0zm110 0zm287 0zm-1668 1zm9 0zm1266 0zm365 0zm24 0zm2 0zm108 1zm-1830 1zm62 0zm1203 0zm56 0zm166 0zm-226 1zm317 0zm257 0zm-1837 1zm8 0zm60 0zm1650 0zm-1717 1zm63 0zm1371 0zm306 0zm-1738 1zm1420 0zm53 0zm203 0zm57 1zm4 0zm-1742 1zm0 0zm6 0zm1460 0zm257 0zm-1659 1zm3 0zm1 0zm1676 0zm-1741 1zm5 0zm1433 0zm33 0zm223 0zm33 0zm8 0zm45 0zm-360 1zm4 0zm3 0zm16 0zm24 0zm221 0zm41 0zm11 0zm100 0zm-1839 1zm1436 0zm33 0zm201 0zm1 0zm51 0zm-1657 1zm1265 0zm88 0zm1 0zm19 0zm24 0zm124 0zm135 0zm-1720 1zm4 0zm1418 0zm45 0zm4 0zm254 0zm15 0zm-1680 1zm5 0zm1353 0zm7 0zm4 0zm9 0zm47 0zm1 0zm-1487 1zm1439 0zm150 0zm137 0zm116 0zm-165 1zm5 0zm-207 1zm249 0zm8 0zm-1734 1zm1685 0zm53 0zm104 0zm-406 1zm30 0zm12 1zm9 0zm254 0zm-300 2zm28 0zm273 0zm-321 1zm57 0zm195 0zm3 0zm50 0zm3 0zm8 0zm-301 1zm1 0zm295 0zm11 0zm31 0zm-335 1zm240 1zm-244 1zm5 0zm44 0zm-66 1zm60 0zm-52 1zm50 0zm6 0zm-64 1zm58 0zm-46 1zm58 1zm-66 1zm8 0zm44 1zm3 1zm-524 9zm-258 4zm-64 1zm166 0zm48 0zm5 0zm7 0zm-68 1zm14 0zm151 0zm-263 1zm113 0zm47 1zm-60 1zm52 0zm3 0zm9 0zm-313 1zm37 0zm13 0zm102 0zm-160 1zm50 0zm103 0zm5 0zm146 0zm7 0zm-317 1zm51 0zm1 0zm2 0zm107 0zm8 0zm2 0zm159 0zm-315 1zm34 0zm112 0zm111 0zm49 0zm-316 1zm5 0zm43 0zm12 0zm91 0zm121 0zm-274 1zm17 0zm135 0zm119 0zm39 0zm7 0zm-269 1zm19 0zm215 0zm26 0zm20 0zm-284 1zm13 0zm256 0zm5 0zm-296 1zm39 0zm44 0zm55 0zm144 0zm-307 1zm63 0zm95 0zm-158 1zm21 0zm3 0zm23 0zm15 0zm44 0zm10 0zm169 0zm21 0zm12 0zm-296 1zm28 0zm9 0zm4 0zm-48 1zm9 0zm34 0zm2 0zm42 0zm178 0zm49 0zm95 0zm-408 1zm0 0zm42 0zm273 0zm-303 1zm242 0zm18 0zm-275 1zm93 0zm155 0zm63 0zm-257 2zm53 0zm33 0zm119 0zm1 0zm6 0zm-272 1zm38 0zm60 0zm16 0zm35 0zm104 0zm6 0zm-108 1zm129 1zm24 0zm-208 1zm5 0zm62 0zm94 0zm24 0zm1 0zm-236 1zm59 0zm59 0zm110 0zm3 0zm87 0zm-327 1zm121 0zm-117 1zm58 0zm199 0zm9 0zm-302 1zm5 0zm4 0zm32 0zm16 0zm216 0zm-133 1zm-28 1zm152 0zm3 0zm-175 1zm9 0zm15 0zm20 0zm-88 1zm217 0zm39 1zm-258 2zm2 0zm65 1zm43 0zm137 1zm-164 1zm-17 1zm-480 1zm38 1zm647 0zm-797 1zm505 0zm-559 1zm60 0zm145 0zm635 0zm-780 1zm108 0zm497 0zm1104 0zm-1777 1zm226 0zm318 0zm-383 1zm58 0zm422 0zm1141 0zm-1767 1zm45 0zm0 0zm100 0zm12 0zm101 0zm310 0zm110 0zm-688 1zm50 0zm760 0zm-756 1zm3 0zm147 0zm12 0zm108 0zm-321 1zm212 0zm323 0zm-542 1zm65 0zm102 0zm1 0zm7 0zm679 0zm928 1zm-1621 1zm3 0zm41 0zm21 0zm-59 1zm9 0zm1087 0zm69 0zm348 0zm11 0zm43 0zm1 0zm1 0zm-1574 1zm45 0zm1123 0zm395 0zm3 0zm-1564 1zm110 0zm1410 0zm8 0zm-1487 1zm1123 0zm4 0zm-1122 1zm-42 1zm49 0zm635 0zm480 0zm-751 1zm753 0zm-1161 1zm34 0zm1571 0zm-1196 1zm681 0zm3 0zm-1091 1zm47 0zm89 2zm2 0zm6 0zm271 0zm683 0zm51 0zm-60 1zm57 1zm454 1zm-455 1zm210 1zm2 0zm51 0zm10 0zm-566 294zm-585 1zm35 0zm-1 1zm484 2zm8 1zm-478 3zm-49 1zm141 0zm-144 1zm-229 2zm764 0zm-3 1zm-528 2zm90 0zm-503 1zm170 0zm-2 1zm-237 1zm482 0zm47 0zm641 0zm35 0zm-991 1zm320 0zm678 0zm-680 3zm79 1zm-119 1zm23 0zm-33 1zm14 0zm516 0zm163 0zm-662 1zm-47 1zm19 0zm578 0zm-1114 1zm574 0zm-511 1zm193 0zm267 0zm750 0zm-1214 1zm585 0zm615 0zm-1240 1zm79 1zm61 0zm513 0zm302 0zm41 0zm-982 1zm486 0zm453 0zm258 0zm-1210 1zm5 0zm650 0zm-362 1zm224 0zm-5 1zm9 0zm550 0zm4 1zm420 0zm-1474 1zm13 0zm221 0zm250 0zm103 0zm-624 1zm9 0zm553 0zm2 0zm6 0zm109 0zm0 0zm1 0zm521 0zm-1185 1zm510 0zm41 0zm399 0zm-954 1zm128 0zm374 0zm8 0zm58 0zm1 0zm642 0zm-1188 1zm1035 0zm-1049 2zm509 0zm719 0zm75 0zm-1270 1zm523 0zm-566 1zm23 0zm1 0zm254 0zm279 1zm-549 1zm16 0zm10 0zm1009 0zm172 0zm32 0zm-1265 1zm129 0zm456 0zm47 0zm-630 1zm53 0zm4 0zm8 0zm40 0zm414 0zm17 0zm46 0zm630 0zm-914 2zm236 0zm432 0zm258 0zm237 0zm-1446 1zm2 0zm508 0zm164 0zm566 0zm-1243 1zm41 0zm533 0zm-537 1zm101 0zm370 0zm8 0zm9 0zm6 0zm44 0zm625 0zm-937 1zm357 0zm41 0zm382 0zm44 0zm13 0zm154 0zm-1163 1zm429 0zm538 0zm-944 1zm399 0zm50 0zm801 0zm128 0zm-1390 1zm1095 0zm-1189 1zm142 0zm809 0zm34 0zm218 0zm-1180 1zm13 0zm1 0zm521 0zm7 0zm622 0zm-1166 1zm2 0zm20 0zm2 0zm42 0zm149 0zm25 0zm930 0zm8 0zm-1216 1zm13 0zm34 0zm2 0zm1 0zm237 0zm345 0zm329 0zm22 0zm242 0zm-1187 1zm219 0zm730 0zm116 0zm223 0zm-804 1zm149 0zm544 0zm139 0zm-1337 1zm27 0zm58 0zm39 0zm379 0zm11 0zm54 0zm892 0zm-1483 1zm15 0zm3 0zm43 0zm515 0zm13 0zm-583 1zm152 0zm366 0zm108 0zm338 0zm143 0zm98 0zm9 0zm148 0zm-1306 1zm57 0zm43 0zm371 0zm469 0zm264 0zm5 0zm8 0zm207 0zm-1483 1zm13 0zm107 0zm33 0zm2 0zm148 0zm221 0zm14 0zm731 0zm-1250 1zm1 0zm515 0zm42 0zm415 0zm24 0zm-1004 1zm6 0zm25 0zm479 0zm54 0zm527 0zm106 0zm-1203 1zm56 0zm85 0zm109 0zm4 0zm758 0zm192 0zm-1167 1zm5 0zm18 0zm220 0zm294 0zm-580 1zm112 0zm868 0zm35 0zm199 0zm46 0zm-975 1zm243 0zm55 0zm393 0zm509 0zm-1488 1zm65 0zm54 0zm457 0zm432 0zm218 0zm-1118 1zm425 0zm51 0zm51 0zm482 0zm150 0zm0 0zm2 0zm-1267 1zm15 0zm102 0zm41 0zm361 0zm63 0zm537 0zm93 0zm2 0zm0 0zm-1196 1zm990 0zm265 0zm-1218 1zm62 0zm415 0zm91 0zm68 0zm569 0zm104 0zm-1349 1zm352 0zm257 0zm332 0zm112 0zm28 0zm165 0zm16 0zm241 0zm-1515 1zm14 0zm49 0zm88 0zm370 0zm9 0zm101 0zm328 0zm57 0zm187 0zm2 0zm69 0zm-1230 1zm253 0zm223 0zm8 0zm418 0zm-784 1zm105 0zm741 0zm479 0zm-1485 1zm42 0zm7 0zm45 0zm208 0zm683 0zm485 0zm54 0zm-1373 1zm9 0zm105 0zm38 0zm122 0zm254 0zm311 0zm21 0zm93 0zm102 0zm60 0zm250 0zm60 0zm-1585 1zm974 0zm111 0zm-1083 1zm3 0zm48 0zm253 0zm703 0zm8 0zm48 0zm-1000 1zm246 0zm657 0zm10 0zm19 0zm106 0zm422 0zm-1205 1zm635 0zm63 0zm64 0zm405 0zm38 0zm-1416 1zm211 0zm1164 0zm-530 1zm46 0zm20 0zm453 0zm-783 1zm323 0zm103 0zm411 0zm-1409 1zm156 0zm35 0zm118 0zm537 0zm-695 1zm50 0zm697 0zm85 0zm413 0zm-1251 1zm810 0zm0 0zm-965 1zm62 0zm811 0zm81 0zm49 0zm-1009 1zm67 0zm205 0zm609 0zm-16 1zm41 0zm4 0zm4 0zm42 0zm472 0zm103 0zm1 0zm-1462 1zm147 0zm646 0zm107 0zm-805 1zm62 0zm727 0zm323 0zm100 0zm30 0zm4 0zm-547 1zm37 0zm6 0zm472 0zm-1154 1zm301 0zm63 0zm265 0zm3 0zm46 0zm10 0zm2 0zm2 0zm448 0zm157 0zm-1519 1zm217 0zm758 0zm15 0zm411 0zm16 0zm56 0zm-1412 1zm156 0zm684 0zm484 0zm38 0zm-1254 1zm104 0zm574 0zm16 0zm5 0zm2 0zm27 0zm469 0zm96 0zm9 0zm-1302 1zm696 0zm2 0zm95 0zm-895 1zm100 0zm724 0zm123 0zm352 0zm0 0zm-1301 1zm99 0zm45 0zm11 0zm656 0zm143 0zm339 0zm7 0zm-1367 1zm8 0zm167 0zm46 0zm692 0zm62 0zm41 0zm406 0zm41 0zm-1301 1zm4 0zm8 0zm47 0zm2 0zm1 0zm634 0zm158 0zm-953 1zm99 0zm9 0zm4 0zm679 0zm153 0zm401 0zm-1347 1zm5 0zm841 0zm1 0zm90 0zm3 0zm20 0zm355 0zm30 0zm6 0zm-1205 1zm12 0zm653 0zm502 0zm34 0zm14 0zm86 0zm-1446 1zm149 0zm648 0zm103 0zm3 0zm397 0zm-1360 1zm169 0zm9 0zm714 0zm6 0zm6 0zm466 0zm155 0zm-1529 1zm864 0zm14 0zm33 0zm5 0zm6 0zm31 0zm53 0zm11 0zm352 0zm3 0zm44 0zm108 0zm3 0zm-1355 1zm727 0zm10 0zm110 0zm451 0zm-1244 1zm5 0zm623 0zm43 0zm12 0zm4 0zm469 0zm31 0zm9 0zm-1244 1zm34 0zm657 0zm41 0zm90 0zm372 0zm59 0zm43 0zm-1263 1zm692 0zm482 0zm37 0zm-1260 1zm2 0zm14 0zm36 0zm12 0zm682 0zm11 0zm603 0zm-1303 1zm738 0zm50 0zm469 0zm-1312 1zm52 0zm5 0zm631 0zm13 0zm3 0zm7 0zm30 0zm55 0zm473 0zm-561 1zm3 0zm23 0zm55 0zm410 0zm54 0zm1 0zm15 0zm90 0zm-1349 1zm737 0zm46 0zm14 0zm49 0zm507 0zm5 0zm-628 1zm62 0zm4 0zm401 0zm12 0zm-1218 1zm12 0zm682 0zm4 0zm94 0zm41 0zm10 0zm354 0zm-1133 1zm668 0zm104 0zm1 0zm18 0zm-64 1zm-104 1zm115 0zm447 0zm-559 1zm54 0zm60 0zm38 0zm361 0zm4 0zm10 0zm33 0zm0 0zm7 0zm-521 1zm19 0zm495 0zm-507 1zm7 0zm58 0zm30 0zm462 0zm62 0zm-512 1zm358 0zm-522 1zm1 0zm48 0zm8 0zm0 0zm100 0zm359 0zm56 0zm44 0zm-617 1zm19 0zm45 0zm46 0zm4 0zm3 0zm33 0zm372 0zm60 0zm-531 1zm2 0zm4 0zm1 0zm93 0zm521 0zm-603 1zm3 0zm34 0zm53 0zm462 0zm64 0zm-623 1zm5 0zm43 0zm60 0zm445 0zm-608 1zm14 0zm29 0zm20 0zm41 0zm60 0zm-167 1zm8 0zm0 0zm2 0zm4 0zm35 0zm10 0zm556 0zm57 0zm-675 1zm12 0zm3 0zm42 0zm7 0zm100 0zm-143 1zm42 0zm8 0zm33 0zm46 0zm4 0zm7 0zm5 0zm6 0zm503 0zm-558 1zm35 0zm3 0zm-33 4zm34 0zm462 0zm-517 1zm8 0zm56 2zm-55 1zm46 0zm3 0zm13 0zm-63 1zm2 0zm48 0zm8 0zm-57 1zm49 0zm5 0zm-52 1zm52 0zm449 1zm-452 1zm4 0zm-1 1zm-60 1zm8 0zm61 0zm440 0zm0 0zm-509 1zm11 0zm-10 2zm48 0zm-50 1zm15 0zm2 0zm44 0zm-47 1zm2 0zm39 0zm2 0zm-39 1zm40 0zm-59 2zm58 0zm-51 1zm49 0zm7 0zm1 0zm-8 1zm-46 3zm59 0zm-9 1zm-44 1zm-12 1zm3 0zm-6 1zm13 0zm3 0zm1 0zm36 0zm10 0zm-51 1zm55 0zm-10 1zm0 0zm12 0zm-69 1zm69 0zm-71 2zm6 0zm2 0zm7 0zm0 1zm0 0zm1 0zm53 0zm-1 3zm-65 1zm3 0zm7 0zm47 0zm-57 1zm2 0zm67 1zm-12 1zm1 0zm3 0zm8 0zm-2 1zm-70 1zm5 1zm60 0zm-63 1zm-628 17zm265 0zm-524 4zm264 0zm196 0zm-524 3zm259 0zm328 0zm-523 1zm-62 1zm-100 1zm11 0zm43 0zm571 0zm-578 1zm1214 0zm-1206 1zm-43 1zm40 0zm51 0zm-101 1zm46 0zm8 0zm4 0zm101 0zm3 0zm-158 1zm5 0zm39 0zm5 0zm8 0zm1051 0zm1 0zm-1103 1zm31 0zm15 0zm3 0zm196 0zm16 0zm42 0zm0 0zm6 0zm785 0zm3 0zm2 0zm5 0zm88 0zm-1202 1zm11 0zm141 0zm106 0zm3 0zm266 0zm526 0zm51 0zm13 0zm-1121 1zm5 0zm0 0zm40 0zm216 0zm0 0zm65 0zm261 0zm470 0zm2 0zm1 0zm50 0zm-1064 1zm1 0zm4 0zm8 0zm58 0zm201 0zm209 0zm1 0zm6 0zm154 0zm430 0zm95 0zm43 0zm4 0zm-1259 1zm14 0zm2 0zm609 0zm428 0zm52 0zm4 0zm-1113 1zm49 0zm59 0zm156 0zm52 0zm5 0zm210 0zm4 0zm48 0zm3 0zm675 0zm-994 1zm46 0zm324 0zm384 0zm45 0zm40 0zm106 0zm7 0zm45 0zm-1163 1zm12 0zm215 0zm208 0zm154 0zm268 0zm58 0zm39 0zm2 0zm4 0zm5 0zm47 0zm10 0zm-1063 1zm211 0zm2 0zm784 0zm175 0zm399 0zm-1623 1zm13 0zm81 0zm223 0zm199 0zm5 0zm9 0zm143 0zm327 0zm3 0zm4 0zm0 0zm1 0zm2 0zm238 0zm9 0zm369 0zm-1635 1zm7 0zm4 0zm40 0zm8 0zm3 0zm207 0zm51 0zm208 0zm61 0zm35 0zm328 0zm57 0zm212 0zm49 0zm299 0zm-1558 1zm92 0zm64 0zm114 0zm242 0zm158 0zm277 0zm55 0zm267 0zm-1224 1zm116 0zm851 0zm204 0zm41 0zm11 0zm3 0zm-1275 1zm5 0zm249 0zm6 0zm324 0zm370 0zm10 0zm3 0zm2 0zm45 0zm-999 1zm30 0zm119 0zm785 0zm263 0zm7 0zm-1200 1zm77 0zm21 0zm183 0zm12 0zm1203 0zm-1510 1zm11 0zm150 0zm151 0zm260 0zm935 0zm-1513 1zm2 0zm40 0zm11 0zm42 0zm214 0zm269 0zm938 0zm2 0zm54 0zm-1254 1zm202 0zm944 0zm12 0zm-1420 1zm207 0zm15 0zm294 0zm684 0zm213 0zm152 0zm-1520 1zm56 0zm426 0zm932 0zm-1507 1zm100 0zm152 0zm15 0zm36 0zm1152 0zm-1324 1zm1070 0zm66 0zm242 0zm9 0zm-1364 1zm124 0zm984 0zm-1271 1zm20 0zm498 0zm11 0zm56 0zm878 0zm6 0zm103 0zm-1420 1zm121 0zm962 0zm243 0zm86 0zm-1305 1zm279 0zm45 0zm649 0zm284 0zm-1518 1zm124 0zm161 0zm976 0zm-1214 1zm234 0zm1297 0zm-1412 1zm417 0zm6 0zm681 0zm-992 1zm261 0zm24 0zm-552 2zm3 0zm147 0zm6 0zm92 0zm11 0zm294 0zm654 0zm158 0zm-1359 1zm10 0zm28 0zm471 0zm0 0zm20 0zm687 0zm346 0zm32 0zm-1445 1zm424 0zm647 0zm20 0zm-1248 1zm533 0zm-545 1zm3 0zm10 0zm0 0zm1 0zm6 0zm1 0zm10 0zm10 0zm6 0zm2 0zm5 0zm8 0zm6 0zm36 0zm5 0zm7 0zm3 0zm3 0zm3 0zm3 0zm1 0zm3 0zm14 0zm21 0zm100 0zm2 0zm9 0zm1 0zm5 0zm5 0zm3 0zm9 0zm4 0zm1 0zm12 0zm1 0zm7 0zm5 0zm922 0zm-42 1zm2 0zm2 0zm2 0zm1 0zm18 0zm3 0zm0 0zm1 0zm12 0zm2 0zm2 0zm1 0zm3 0zm0 0zm2 0zm8 0zm3 0zm1 0zm3 0zm98 0zm1 0zm190 0zm0 0zm3 0zm1 0zm3 0zm7 0zm3 0zm33 0zm11 0zm2 0zm1 0zm3 0zm2 0zm-1109 247zm974 3zm-505 1zm-944 1zm18 1zm510 0zm504 0zm-767 1zm647 1zm-915 1zm917 2zm31 0zm5 0zm-469 2zm32 0zm517 0zm29 0zm-934 1zm830 0zm-3 1zm531 0zm-555 1zm140 1zm-447 2zm332 0zm13 0zm-712 1zm660 0zm10 0zm-16 1zm139 0zm-547 1zm2 1zm445 0zm-697 1zm36 0zm198 0zm97 0zm-493 1zm398 0zm145 0zm-372 1zm255 0zm391 0zm13 0zm26 1zm234 0zm-253 1zm48 0zm49 0zm-755 1zm377 0zm-144 1zm533 1zm-560 1zm170 0zm374 0zm-901 1zm418 0zm5 0zm-579 1zm533 0zm-503 1zm244 0zm1222 0zm-1348 1zm176 0zm354 0zm266 0zm12 0zm40 0zm471 1zm-1360 1zm224 0zm337 0zm586 0zm-925 1zm-199 1zm33 0zm116 0zm336 0zm333 0zm48 0zm101 0zm-1080 1zm266 0zm245 0zm32 0zm11 0zm2 0zm92 0zm9 0zm593 0zm-1246 1zm39 0zm91 0zm383 0zm139 0zm-409 1zm318 0zm374 0zm-839 1zm169 0zm229 0zm160 0zm268 0zm-665 1zm237 0zm68 0zm32 0zm13 0zm44 0zm800 0zm-1433 1zm4 0zm0 0zm23 0zm467 0zm96 0zm-314 1zm654 0zm30 0zm-957 1zm971 0zm-990 1zm560 0zm40 0zm587 0zm250 0zm-1334 1zm885 0zm-1002 1zm112 0zm503 0zm436 0zm10 0zm-1046 1zm32 0zm263 0zm12 0zm182 0zm5 0zm6 0zm47 0zm10 0zm384 0zm4 0zm304 0zm-1227 1zm265 0zm9 0zm345 0zm278 0zm25 0zm22 0zm62 0zm-1035 1zm37 0zm0 0zm102 0zm113 0zm57 0zm247 0zm387 0zm154 0zm-1070 1zm3 0zm14 0zm49 0zm273 0zm143 0zm42 0zm10 0zm365 0zm71 0zm-1008 1zm40 0zm64 0zm162 0zm300 0zm375 0zm579 0zm-1506 1zm250 0zm410 0zm332 0zm-1005 1zm10 0zm49 0zm242 0zm16 0zm101 0zm208 0zm313 0zm51 0zm-989 1zm6 0zm37 0zm16 0zm254 0zm302 0zm322 0zm17 0zm51 0zm-747 1zm61 0zm1 0zm49 0zm617 0zm92 0zm127 0zm57 0zm254 0zm1 0zm-1508 1zm1 0zm253 0zm47 0zm626 0zm-940 1zm49 0zm106 0zm115 0zm47 0zm353 0zm333 0zm211 0zm-1218 1zm21 0zm38 0zm8 0zm1 0zm245 0zm10 0zm627 0zm54 0zm9 0zm44 0zm166 0zm-1166 1zm55 0zm14 0zm152 0zm2 0zm42 0zm1 0zm734 0zm543 0zm-1552 1zm76 0zm34 0zm102 0zm9 0zm49 0zm45 0zm585 0zm274 0zm53 0zm328 0zm-1452 1zm116 0zm690 0zm6 0zm30 0zm14 0zm6 0zm34 0zm217 0zm206 0zm51 0zm-1102 1zm527 0zm55 0zm2 0zm8 0zm86 0zm385 0zm-1314 1zm109 0zm40 0zm4 0zm95 0zm1056 0zm42 0zm-6 1zm-440 1zm37 0zm120 0zm43 0zm307 0zm-956 1zm890 0zm-1361 1zm473 0zm647 2zm208 1zm38 0zm100 0zm-1512 1zm13 0zm44 0zm5 0zm505 0zm583 0zm-182 1zm393 0zm17 0zm121 0zm-346 1zm4 0zm-582 1zm383 0zm164 0zm8 0zm279 0zm-1407 1zm1 0zm11 0zm557 0zm3 0zm434 0zm121 0zm244 0zm143 0zm-1455 1zm1055 0zm409 0zm-1519 1zm946 0zm0 0zm13 0zm138 0zm22 0zm4 0zm22 0zm-1153 1zm9 0zm9 0zm951 0zm139 0zm7 0zm294 0zm7 0zm9 0zm-1418 1zm4 0zm255 0zm891 0zm212 0zm10 0zm30 0zm-1392 1zm1350 0zm-850 1zm58 0zm426 0zm407 0zm102 0zm-984 1zm52 0zm831 0zm10 0zm43 0zm-1448 1zm978 0zm1 0zm261 0zm217 0zm-1472 1zm1173 0zm191 0zm14 0zm86 0zm49 0zm-1442 1zm505 0zm536 0zm7 0zm35 0zm9 0zm359 0zm-1464 1zm1212 0zm90 0zm48 0zm14 0zm-422 1zm110 0zm-107 1zm6 0zm112 0zm39 0zm1 0zm307 0zm-510 1zm203 0zm9 0zm193 0zm5 0zm-409 1zm0 0zm36 0zm117 0zm101 0zm-1208 1zm5 0zm55 0zm1046 0zm55 0zm3 0zm239 0zm-1345 1zm938 0zm105 0zm57 0zm3 0zm2 0zm195 0zm3 0zm-410 1zm4 0zm158 0zm44 0zm6 0zm189 0zm9 0zm-417 1zm168 0zm55 0zm-596 1zm3 0zm3 0zm425 0zm404 0zm-886 1zm486 0zm452 0zm-516 1zm331 0zm81 0zm8 0zm-366 1zm12 0zm401 0zm110 0zm-1001 1zm427 0zm50 0zm372 0zm5 0zm-165 1zm148 0zm1 0zm47 0zm-398 1zm364 0zm-856 1zm429 0zm8 0zm418 0zm3 0zm-792 1zm369 0zm467 0zm91 0zm17 0zm-166 1zm-844 1zm63 0zm367 1zm12 0zm50 0zm354 0zm1 0zm-418 1zm421 0zm53 0zm1 0zm-840 1zm377 0zm465 0zm48 0zm-955 1zm751 0zm7 0zm95 0zm150 0zm-162 1zm55 0zm-828 1zm422 0zm1 1zm8 0zm252 0zm5 0zm196 0zm-954 2zm961 0zm-890 1zm360 0zm0 0zm63 1zm509 1zm-571 1zm0 1zm4 0zm1 1zm57 0zm452 0zm21 0zm31 0zm-505 1zm473 0zm-468 1zm458 2zm5 0zm-10 6zm47 0zm3 1zm-47 3zm2 6zm-8 1zm10 1zm-4 5zm0 2zm-1 3zm60 0zm-63 2zm65 6zm-944 2zm-70 2zm-339 2zm42 0zm4 0zm-58 1zm62 0zm-50 1zm151 0zm-163 1zm9 0zm40 0zm301 0zm-350 1zm8 0zm46 0zm-53 1zm4 0zm7 0zm150 2zm258 0zm-6 1zm-347 1zm34 0zm313 0zm-359 1zm-11 1zm8 1zm-10 2zm-46 1zm4 0zm45 0zm11 0zm303 0zm53 0zm-367 1zm-28 1zm340 0zm-354 1zm357 0zm-361 1zm418 0zm-350 1zm93 0zm194 1zm-350 1zm156 0zm842 0zm-646 1zm594 0zm-912 1zm-23 1zm933 0zm10 0zm48 0zm4 0zm-997 1zm10 0zm34 0zm895 0zm0 0zm3 0zm-642 2zm4 0zm0 0zm2 0zm621 0zm15 0zm48 0zm-754 1zm12 0zm46 0zm58 0zm49 0zm527 0zm56 0zm-936 1zm102 1zm85 0zm700 0zm56 0zm-695 1zm43 0zm600 0zm42 0zm-984 1zm243 0zm3 0zm45 0zm703 0zm-968 1zm227 0zm157 0zm576 0zm47 0zm-49 1zm13 0zm105 0zm-758 1zm591 0zm46 0zm5 0zm-46 1zm46 0zm7 0zm-1103 1zm413 0zm675 0zm-929 1zm196 0zm11 0zm737 0zm-1163 1zm198 0zm914 0zm-647 1zm11 0zm53 0zm573 0zm-916 1zm222 0zm11 0zm11 0zm137 0zm541 0zm16 0zm34 0zm-1152 1zm256 0zm46 0zm161 0zm10 0zm38 0zm638 0zm53 0zm-1210 1zm4 0zm61 0zm364 0zm138 0zm539 0zm12 0zm141 0zm-1192 1zm351 0zm685 0zm68 0zm50 0zm0 1zm-1219 1zm426 0zm94 0zm580 0zm11 0zm44 0zm-1260 1zm19 0zm31 0zm12 0zm8 0zm41 0zm407 0zm108 0zm580 0zm48 0zm1 0zm110 0zm-1315 1zm570 0zm585 0zm13 0zm-1209 1zm272 0zm-179 1zm53 0zm106 0zm257 0zm50 0zm650 0zm-1200 1zm48 0zm46 0zm1109 0zm-1221 1zm54 0zm7 0zm58 0zm35 0zm418 0zm682 0zm10 0zm-1251 1zm33 0zm524 0zm0 0zm95 0zm-655 1zm0 0zm320 0zm918 0zm-1203 1zm3 0zm114 0zm127 0zm290 0zm647 0zm40 0zm0 0zm-1261 1zm145 0zm161 0zm210 0zm6 0zm-505 1zm2 0zm45 0zm50 0zm42 0zm368 0zm704 0zm-1187 1zm474 0zm12 0zm83 0zm595 0zm36 0zm-1186 1zm1207 0zm-1199 1zm46 0zm34 0zm379 0zm12 0zm25 0zm666 0zm-1224 1zm5 0zm272 0zm380 0zm-381 1zm132 0zm152 0zm487 0zm160 0zm2 0zm346 0zm-936 1zm592 0zm9 0zm-928 1zm274 0zm62 0zm47 0zm368 0zm62 0zm-1100 1zm548 0zm1068 0zm-1617 1zm36 0zm2 0zm230 0zm778 0zm179 0zm-1168 1zm87 0zm422 0zm685 0zm-1105 1zm4 0zm948 0zm1 0zm-1063 1zm898 0zm48 0zm226 0zm-1202 1zm28 0zm13 0zm12 0zm889 0zm151 0zm519 0zm-1605 1zm936 0zm-916 1zm490 0zm467 0zm58 0zm58 0zm-1006 1zm553 0zm339 0zm-981 1zm944 0zm81 0zm54 0zm14 0zm-1090 1zm30 0zm64 0zm407 0zm434 0zm7 0zm87 0zm-723 1zm241 0zm485 0zm54 0zm-993 1zm31 0zm797 0zm108 0zm154 0zm-1164 1zm60 0zm852 0zm8 0zm39 0zm9 0zm85 0zm-982 1zm835 0zm51 0zm45 0zm-1039 1zm17 0zm100 0zm1111 0zm-906 1zm295 0zm337 0zm1 0zm48 0zm5 0zm52 0zm182 0zm-146 1zm-1091 1zm36 0zm490 0zm-517 1zm1085 0zm-119 1zm-920 1zm95 0zm828 0zm68 0zm-1018 1zm911 0zm42 0zm5 0zm8 0zm206 0zm-1181 1zm13 0zm1179 0zm6 0zm39 0zm-1250 1zm1049 0zm-1039 1zm41 0zm0 0zm204 0zm243 0zm19 0zm1 0zm7 0zm4 0zm13 0zm4 0zm4 0zm2 0zm9 0zm1 0zm1 0zm1 0zm2 0zm37 0zm12 0zm13 0zm9 0zm7 0zm19 0zm383 0zm-1060 1zm3 0zm10 0zm9 0zm1 0zm3 0zm3 0zm12 0zm0 0zm3 0zm8 0zm1 0zm1 0zm4 0zm1 0zm2 0zm1 0zm1 0zm38 0zm6 0zm4 0zm9 0zm3 0zm4 0zm22 0zm9 0zm3 0zm1 0zm7 0zm798 0zm140 0zm-161 1zm40 0zm257 1z" stroke="#0a0505" stroke-opacity="0.075" stroke-width="2.1" stroke-linecap="round" fill="none"/>
<path transform="translate(.3 .3)" d="m161 214zm6 0zm12 0zm32 0zm14 0zm-63 1zm16 0zm-12 1zm8 0zm37 0zm956 0zm-1006 1zm6 0zm10 0zm2 0zm923 0zm8 0zm49 0zm12 0zm-1009 1zm3 0zm57 0zm884 0zm51 0zm-942 1zm895 0zm-940 1zm59 0zm625 0zm1 0zm5 0zm245 0zm-934 1zm48 0zm3 0zm632 0zm44 0zm212 0zm53 0zm-996 1zm4 0zm53 0zm623 0zm49 0zm8 0zm256 0zm6 0zm-1004 1zm0 0zm9 0zm44 0zm676 0zm-730 1zm9 0zm0 0zm723 0zm215 0zm-947 1zm5 0zm1 0zm4 0zm3 0zm724 0zm7 0zm-736 1zm3 0zm54 0zm938 0zm-1003 1zm9 0zm2 0zm736 0zm-743 1zm2 0zm4 0zm54 0zm614 0zm57 0zm6 0zm-56 1zm0 0zm-679 1zm676 0zm2 0zm265 0zm-884 1zm622 0zm49 0zm-672 1zm1 0zm2 0zm0 0zm1 0zm612 0zm7 0zm-621 1zm627 0zm45 0zm2 0zm4 0zm204 0zm60 0zm-1001 1zm0 0zm731 0zm7 0zm-59 1zm56 0zm-63 1zm327 0zm-1002 1zm678 0zm55 0zm7 0zm196 0zm7 0zm-947 1zm68 0zm1 0zm615 0zm4 0zm315 0zm2 0zm-1006 1zm682 0zm54 0zm7 0zm199 0zm-874 1zm673 0zm-741 1zm686 0zm3 0zm47 0zm863 0zm5 0zm5 0zm-666 1zm3 0zm60 0zm598 0zm8 0zm55 0zm-1597 1zm611 0zm59 0zm203 0zm67 0zm648 0zm5 0zm3 0zm-1596 1zm1591 0zm-653 1zm661 0zm-729 1zm718 0zm0 0zm-1658 1zm690 0zm0 0zm49 0zm-53 1zm59 0zm916 0zm-1492 1zm512 0zm4 0zm55 0zm861 0zm-1432 1zm3 0zm509 0zm259 0zm-837 1zm646 0zm262 0zm656 0zm-1497 1zm515 0zm979 0zm-982 1zm922 0zm-1502 1zm647 0zm916 0zm-1562 1zm68 0zm571 0zm862 0zm-860 1zm-58 1zm60 0zm-67 1zm66 0zm858 0zm63 0zm-987 1zm65 0zm4 0zm854 0zm-859 1zm924 0zm1 0zm-68 1zm-1329 1zm1 0zm55 0zm357 0zm65 0zm-473 1zm52 0zm1271 0zm-1332 1zm55 0zm4 0zm354 0zm-415 1zm4 0zm3 0zm59 0zm416 0zm-424 1zm4 0zm351 0zm1 0zm0 0zm2 0zm-419 1zm6 0zm411 1zm-356 1zm426 0zm-484 1zm5 0zm54 0zm-58 1zm2 0zm-3 1zm63 0zm5 0zm-70 1zm2 0zm0 0zm4 0zm-4 1zm582 0zm-518 1zm519 0zm564 0zm-631 1zm567 0zm1 0zm1 0zm7 0zm-4 1zm60 0zm-632 1zm66 0zm513 0zm-1027 1zm0 0zm1010 0zm0 0zm17 0zm33 0zm-1131 1zm0 0zm1138 0zm3 0zm-1 1zm3 0zm-625 1zm566 0zm8 0zm42 0zm13 0zm-11 1zm-55 1zm2 0zm16 0zm-2 2zm51 0zm2 0zm-64 1zm3 0zm8 0zm-12 1zm8 0zm52 0zm0 0zm6 0zm-60 1zm3 0zm43 0zm4 0zm2 0zm-4 1zm-55 1zm3 0zm-4 2zm66 0zm-66 2zm8 0zm1 0zm48 0zm-60 1zm67 0zm4 0zm-68 1zm0 0zm0 1zm7 0zm0 0zm49 0zm6 0zm3 0zm-59 1zm3 0zm51 0zm5 0zm-2 1zm3 1zm1 0zm-62 1zm54 0zm5 0zm1 0zm-61 1zm58 0zm-62 1zm6 0zm52 0zm4 0zm2 0zm2 0zm-67 1zm3 0zm3 0zm1 1zm-8 2zm68 0zm-1410 1zm1346 1zm1 0zm-1347 1zm0 0zm2 0zm66 0zm1276 0zm59 0zm4 0zm1 0zm-1409 1zm1343 0zm61 0zm-393 1zm332 1zm69 0zm-1341 1zm870 0zm469 0zm2 0zm-402 1zm340 0zm60 0zm3 0zm-68 1zm4 0zm62 0zm-67 2zm69 0zm-1408 1zm936 0zm466 0zm6 0zm-1409 1zm1002 0zm344 0zm54 0zm3 0zm-1403 1zm62 0zm2 0zm941 0zm337 0zm3 0zm-1348 1zm6 0zm1002 0zm333 0zm63 0zm3 0zm-1405 1zm60 0zm0 0zm943 0zm344 0zm59 0zm-467 1zm4 0zm-937 1zm995 0zm405 0zm1 0zm2 0zm-1345 1zm2 0zm193 0zm684 0zm459 0zm6 0zm-1410 1zm1 0zm6 0zm55 0zm4 0zm265 0zm676 0zm335 0zm0 0zm1 0zm7 0zm-1019 1zm1013 0zm5 0zm-1340 1zm53 0zm4 0zm1337 0zm6 0zm-1410 1zm60 0zm6 0zm199 0zm67 0zm614 0zm400 0zm0 0zm5 0zm53 0zm-1301 1zm162 0zm676 0zm402 0zm1 0zm8 0zm-1349 1zm8 0zm321 0zm679 0zm338 0zm1 0zm-1336 1zm248 0zm4 0zm65 0zm1019 0zm-1344 1zm54 0zm8 0zm34 0zm223 0zm7 0zm672 0zm348 0zm61 0zm0 0zm-1142 1zm55 0zm0 0zm615 0zm2 0zm7 0zm53 0zm401 0zm-1336 1zm202 0zm53 0zm5 0zm1017 0zm66 0zm-1397 1zm40 0zm892 0zm5 0zm393 0zm4 0zm55 0zm6 0zm1 0zm1 0zm-1409 1zm2 0zm12 0zm0 0zm50 0zm875 0zm56 0zm10 0zm-1006 1zm4 0zm52 0zm3 0zm209 0zm58 0zm621 0zm2 0zm53 0zm343 0zm3 0zm0 0zm60 0zm37 0zm62 0zm-1446 1zm207 0zm0 0zm0 0zm56 0zm1 0zm629 0zm56 0zm335 0zm4 0zm2 0zm52 0zm2 0zm0 0zm5 0zm-1410 1zm269 0zm1 0zm4 0zm48 0zm6 0zm1083 0zm1 0zm-1355 1zm214 0zm0 0zm53 0zm3 0zm2 0zm0 0zm1019 0zm58 0zm4 0zm-1403 1zm9 0zm1390 0zm262 0zm1 0zm-1405 1zm8 0zm1069 0zm64 0zm107 0zm156 0zm-1395 1zm48 0zm1020 0zm101 0zm-98 1zm4 0zm-1 1zm64 0zm190 0zm-260 1zm257 0zm-257 1zm1 0zm68 0zm189 0zm-192 1zm5 0zm0 0zm192 0zm-264 1zm258 0zm-920 1zm70 0zm1 0zm917 0zm-987 2zm171 0zm812 1zm0 1zm1 0zm-985 1zm69 0zm-69 1zm1 0zm66 0zm3 0zm918 0zm-985 1zm64 0zm1 0zm0 0zm855 1zm55 0zm-912 1zm0 0zm103 0zm758 0zm-861 2zm862 0zm54 0zm0 0zm-918 1zm7 0zm-63 1zm55 0zm109 0zm-107 1zm-64 2zm63 0zm4 0zm-62 1zm64 0zm-69 1zm7 0zm-5 2zm58 1zm-50 1zm0 0zm60 2zm-62 1zm4 0zm46 0zm707 0zm66 0zm-774 1zm11 0zm698 0zm-757 1zm1 0zm44 0zm609 0zm100 0zm-759 1zm56 0zm705 0zm0 0zm-761 1zm55 0zm604 0zm68 0zm-729 1zm8 0zm49 0zm4 0zm602 0zm65 0zm-731 1zm55 0zm675 0zm1 0zm-66 1zm3 0zm66 0zm-728 1zm659 0zm3 0zm6 0zm52 0zm-724 1zm667 0zm7 0zm-674 1zm53 0zm4 0zm0 0zm608 0zm4 0zm60 0zm-714 1zm3 0zm49 0zm594 0zm56 0zm0 0zm-699 1zm-8 1zm657 1zm4 0zm-663 391zm20 0zm-60 1zm3 0zm42 0zm-52 1zm-3 1zm12 0zm-11 1zm10 1zm2 0zm41 1zm8 0zm1 0zm-2 1zm-62 1zm17 0zm44 0zm5 0zm-58 1zm9 0zm48 0zm-63 1zm10 0zm0 0zm-7 1zm1 0zm50 0zm-52 1zm5 1zm53 0zm3 0zm3 0zm-68 1zm59 0zm7 0zm-3 1zm-5 1zm3 0zm1 2zm-62 1zm9 0zm61 0zm-5 1zm-3 1zm2 0zm5 0zm-433 2zm55 0zm315 0zm60 0zm-438 1zm375 0zm67 0zm-441 1zm377 0zm58 0zm-58 1zm0 0zm-369 1zm57 0zm306 0zm-361 1zm362 0zm3 0zm-306 1zm0 0zm371 0zm-377 1zm310 0zm64 0zm4 0zm-3 1zm-379 1zm6 0zm377 1zm261 0zm-643 1zm637 0zm2 0zm-260 1zm0 0zm201 0zm55 0zm-60 1zm55 0zm-881 1zm633 0zm198 0zm2 0zm1 0zm52 0zm4 0zm3 0zm-61 1zm51 0zm-951 1zm324 0zm568 0zm1 0zm64 0zm-948 1zm0 0zm45 0zm7 0zm901 0zm-959 1zm54 0zm7 0zm197 0zm61 0zm2 0zm638 0zm-964 1zm17 0zm36 0zm9 0zm3 0zm2 0zm257 0zm571 0zm67 0zm2 0zm-949 1zm46 0zm-57 1zm327 0zm-331 1zm5 0zm323 0zm-325 1zm66 0zm1212 0zm-1278 1zm65 0zm731 0zm2 0zm3 0zm156 0zm363 0zm-1315 1zm48 0zm10 0zm262 0zm2 0zm405 0zm69 0zm157 0zm311 0zm9 0zm-1222 1zm203 0zm474 0zm161 0zm0 0zm381 0zm43 0zm4 0zm9 0zm-1331 1zm8 0zm0 0zm1 0zm45 0zm0 0zm11 0zm262 0zm564 0zm375 0zm47 0zm6 0zm2 0zm-1314 1zm0 0zm951 0zm361 0zm-1319 1zm257 0zm636 0zm427 0zm5 0zm-1329 1zm3 0zm10 0zm1260 0zm-1011 1zm474 0zm159 1zm377 0zm9 0zm-1020 1zm70 0zm563 0zm71 0zm313 0zm-1271 1zm958 0zm359 0zm-1322 1zm68 0zm0 0zm1196 0zm56 0zm-1062 1zm1007 0zm58 0zm6 0zm-1323 1zm62 0zm0 0zm1195 0zm70 0zm-1329 1zm1270 0zm-1268 1zm59 0zm-3 1zm1 0zm1201 0zm62 0zm3 0zm-1330 1zm1268 0zm58 0zm-1323 1zm67 1zm1201 0zm-1272 2zm1274 0zm2 0zm49 0zm1 0zm-1255 1zm1260 0zm4 1zm-1332 1zm68 0zm1201 0zm57 0zm-1326 1zm1266 0zm1 0zm62 0zm-1332 1zm1266 0zm66 0zm-1262 1zm1195 1zm7 1zm59 0zm3 0zm-65 2zm-2 1zm3 0zm62 0zm-62 1zm60 0zm5 0zm-4 1zm-61 1zm66 2zm104 0zm-104 1zm-71 1zm71 0zm0 0zm-69 1zm2 0zm167 0zm-103 1zm1 0zm-1228 1zm0 2zm64 0zm1200 0zm-1197 1zm1161 0zm-701 4zm-528 1zm-1 1zm1678 0zm10 0zm1 0zm42 0zm15 0zm-1676 1zm1608 0zm55 0zm6 0zm-1670 1zm528 0zm0 0zm1086 0zm50 0zm-1665 1zm528 0zm3 0zm1085 0zm-1617 1zm531 0zm1137 0zm-1665 1zm527 0zm2 0zm1080 0zm2 0zm53 0zm3 2zm5 0zm-952 1zm894 0zm55 0zm1 0zm2 0zm0 0zm-1739 1zm592 0zm196 0zm66 0zm566 0zm251 0zm6 0zm2 0zm1 0zm54 0zm3 0zm-319 1zm62 0zm7 0zm187 0zm-1676 1zm529 0zm901 0zm248 0zm2 0zm60 0zm-1207 1zm4 0zm58 0zm259 0zm630 0zm5 0zm189 0zm60 0zm5 0zm-1675 1zm467 0zm56 0zm1 0zm200 0zm639 0zm-1430 1zm65 0zm1 0zm470 0zm58 0zm199 0zm57 0zm9 0zm559 0zm10 0zm54 0zm190 0zm1 0zm-1606 1zm464 0zm258 0zm630 0zm59 0zm-1479 1zm535 0zm6 0zm51 0zm5 0zm101 0zm94 0zm1 0zm1 0zm57 0zm631 0zm261 0zm-1741 1zm67 0zm465 0zm5 0zm59 0zm32 0zm1044 0zm68 0zm-1214 1zm5 0zm97 0zm160 0zm6 0zm628 0zm60 0zm6 0zm-1490 1zm539 0zm250 0zm12 0zm623 0zm62 0zm2 0zm189 0zm64 0zm-1203 1zm888 0zm2 0zm54 0zm2 0zm192 0zm3 0zm-1679 1zm3 0zm538 0zm44 0zm6 0zm257 0zm2 0zm2 0zm631 0zm3 0zm192 0zm-1676 1zm0 0zm530 0zm11 0zm945 0zm251 0zm3 0zm-1198 1zm52 0zm893 0zm188 0zm-1132 1zm878 0zm1 0zm61 0zm0 0zm4 0zm250 0zm-1741 1zm3 0zm1 0zm583 0zm3 0zm832 0zm256 0zm67 0zm1 0zm-1 1zm-319 1zm64 0zm1 0zm252 0zm0 1zm-1 1zm3 1zm-66 1zm66 0zm-324 2zm322 0zm1 0zm-67 2zm-1 4zm69 0zm1 1zm0 1zm0 0zm-1589 2zm68 2zm1 2zm-68 1zm0 2zm4 1zm0 2zm58 0zm-55 2zm55 3zm-49 1zm54 0zm937 0zm-1002 2zm10 0zm53 0zm-255 1zm34 0zm-38 2zm-67 2zm2 0zm1263 0zm-1263 1zm62 0zm4 1zm1711 0zm-1775 1zm1 0zm2 0zm56 0zm1204 1zm512 0zm66 0zm-1844 1zm1 0zm13 0zm54 0zm1 0zm1265 0zm103 0zm-1375 1zm4 0zm1 0zm3 0zm0 0zm1198 0zm65 0zm1 0zm104 0zm-169 1zm1 0zm60 0zm450 0zm8 0zm-1771 1zm36 0zm1211 0zm67 0zm0 0zm1 0zm1 0zm457 0zm48 0zm8 0zm-1838 1zm8 0zm42 0zm3 0zm1728 0zm52 0zm-1840 1zm1329 0zm42 0zm62 0zm-1432 1zm1 0zm1263 0zm3 0zm65 0zm444 0zm-1765 1zm37 0zm14 1zm1209 1zm59 0zm192 0zm-195 2zm-61 1zm54 0zm6 0zm3 0zm0 0zm4 0zm190 0zm-247 1zm3 0zm244 0zm-258 1zm13 0zm38 0zm17 0zm193 0zm60 0zm-319 1zm1 0zm5 0zm314 0zm4 0zm2 0zm-264 1zm196 0zm1 0zm2 0zm1 0zm-248 1zm303 0zm-1325 1zm1 0zm0 0zm1 0zm2 0zm3 0zm1 0zm1 0zm0 0zm3 0zm0 0zm0 0zm1 0zm0 0zm4 0zm2 0zm1 0zm1 0zm26 0zm2 0zm1 0zm1 0zm0 0zm3 0zm3 0zm0 0zm2 0zm0 0zm2 0zm1 0zm5 0zm0 0zm1 0zm1 0zm1 0zm950 0zm242 0zm3 0zm0 0zm-1527 1zm0 0zm1 0zm1 0zm0 0zm2 0zm1 0zm0 0zm1 0zm1 0zm0 0zm1 0zm0 0zm1 0zm0 0zm1 0zm2 0zm49 0zm0 0zm0 0zm3 0zm0 0zm0 0zm0 0zm2 0zm1 0zm0 0zm1 0zm0 0zm0 0zm1 0zm1 0zm0 0zm0 0zm0 0zm1 0zm0 0zm1 0zm31 0zm3 0zm2 0zm2 0zm2 0zm55 0zm2 0zm1 0zm2 0zm1 0zm0 0zm1098 0zm55 0zm4 0zm-12 1zm0 0zm15 0zm-58 1zm58 0zm2 0zm1 0zm189 0zm-192 1zm198 0zm-266 1zm1 0zm0 0zm1 0zm2 0zm1 0zm10 0zm1 0zm0 0zm0 0zm0 0zm2 0zm0 0zm1 0zm0 0zm1 0zm32 0zm1 0zm0 0zm1 0zm1 0zm0 0zm1 0zm0 0zm1 0zm1 0zm0 0zm2 0zm2 0zm0 0zm0 0zm2 0zm0 0zm2 0zm1 0zm0 0zm1 0zm1 0zm1 0zm1 0zm33 0zm0 0zm1 0zm0 0zm5 0zm1 0zm1 0zm0 0zm3 0zm1 0zm0 0zm44 0zm0 0zm1 0zm1 0zm1 0zm2 0zm0 0zm2 0zm0 0zm4 0zm3 0zm85 0zm3 0zm0 0zm1 0zm0 0zm2 0zm0 0zm58 0zm1 0zm1 0zm1 0zm0 0zm1 0zm1 0zm0 0zm0 0zm1 0zm1 0zm183 0zm0 0zm1 0zm0 0zm1 0zm1 0zm1 0zm0 0zm0 0zm1 0zm1 0zm0 0zm1 0zm0 0zm1 0zm55 0zm0 0zm1 0zm2 0zm2 0zm1 0zm1 0zm1 0zm0 0zm31 0zm1 0zm0 0zm4 0zm60 0zm2 0zm0 0zm1 0zm2 0zm1 0zm-1419 380zm59 1zm4 2zm634 0zm54 0zm-690 1zm6 0zm621 0zm0 0zm61 0zm-1258 1zm48 0zm7 0zm1197 0zm-1259 1zm8 0zm508 0zm697 0zm-1201 1zm568 0zm622 0zm3 0zm10 0zm56 0zm-1221 1zm6 0zm462 0zm9 0zm1 0zm741 0zm-1257 1zm51 0zm514 0zm1 0zm5 0zm679 0zm-1259 1zm519 0zm56 0zm629 0zm-1202 1zm43 0zm537 0zm682 0zm-1260 1zm512 0zm-467 1zm6 0zm3 0zm455 0zm690 0zm62 0zm3 1zm-1277 1zm57 0zm9 0zm524 0zm-592 1zm64 0zm-64 1zm15 0zm48 0zm468 0zm748 0zm-1216 1zm1154 0zm-1215 1zm62 0zm3 0zm1205 0zm6 0zm3 0zm-1279 1zm13 0zm49 0zm520 0zm3 0zm1 0zm622 0zm71 0zm-1216 1zm458 0zm1 0zm0 0zm8 0zm60 0zm-530 1zm6 0zm463 0zm55 0zm-579 1zm54 0zm1149 0zm63 0zm-1267 1zm2 0zm580 0zm4 0zm621 0zm62 0zm-1267 1zm518 0zm754 0zm-1272 1zm2 0zm579 0zm626 0zm-1208 1zm1 0zm3 0zm50 0zm2 0zm462 0zm66 0zm0 0zm-589 1zm8 0zm50 0zm5 0zm5 0zm1142 0zm-1206 1zm62 2zm1 0zm-62 1zm100 0zm1171 0zm-1276 1zm60 0zm7 0zm524 0zm687 0zm-1209 1zm31 0zm3 0zm2 0zm1103 0zm-1143 1zm1 0zm1213 0zm-1281 1zm6 0zm64 0zm99 0zm355 0zm-523 1zm67 1zm1142 0zm70 0zm-1211 1zm1142 0zm69 0zm-1276 3zm63 0zm4 0zm-68 2zm-4 1zm69 0zm1 0zm258 0zm2 0zm4 0zm-264 1zm1 0zm192 0zm8 0zm48 0zm3 0zm-320 1zm67 0zm202 0zm2 0zm2 0zm2 1zm-276 1zm0 0zm69 0zm251 0zm7 0zm-65 1zm3 0zm5 1zm-201 1zm193 0zm9 1zm50 0zm5 0zm1153 0zm51 0zm-1258 1zm1254 0zm-1196 1zm1197 0zm-1261 1zm56 0zm1145 0zm-1203 1zm3 0zm60 0zm1 0zm1138 0zm-1199 1zm-4 1zm3 0zm62 0zm688 0zm-64 1zm4 0zm46 0zm15 0zm-691 1zm7 0zm628 0zm2 0zm5 0zm40 0zm1 0zm519 0zm-1200 1zm5 0zm622 0zm6 0zm48 0zm2 0zm12 0zm-762 1zm4 0zm64 0zm625 0zm2 0zm3 0zm2 0zm7 0zm45 0zm-680 1zm623 0zm7 0zm51 0zm0 0zm-685 1zm3 0zm621 0zm59 0zm8 0zm445 0zm-506 1zm49 0zm5 0zm5 0zm446 0zm-1202 1zm697 0zm5 0zm-11 1zm56 0zm7 0zm3 0zm-11 1zm-42 1zm48 0zm7 0zm-62 1zm8 0zm40 0zm7 0zm-54 1zm6 0zm44 0zm13 0zm-70 1zm11 0zm48 0zm6 0zm-65 1zm63 0zm-56 1zm1 0zm5 1zm0 0zm-11 1zm63 0zm-66 1zm13 0zm47 0zm1 0zm4 0zm-64 1zm1 0zm10 0zm45 0zm0 0zm6 0zm2 0zm-63 1zm1 0zm2 0zm62 0zm3 0zm-71 1zm10 0zm2 0zm-6 1zm9 0zm46 0zm1 0zm3 0zm-50 1zm50 0zm3 0zm-56 1zm-11 1zm5 0zm57 0zm2 0zm-64 1zm3 0zm4 0zm1 0zm4 0zm45 0zm7 0zm-60 1zm3 1zm2 0zm47 0zm3 0zm2 0zm-58 1zm-1 1zm9 0zm3 0zm45 0zm0 0zm8 0zm4 0zm-69 1zm60 0zm-58 1zm1 0zm0 0zm2 0zm56 0zm-62 1zm2 0zm1 0zm1 0zm54 0zm1 0zm-58 1zm5 0zm3 0zm50 0zm2 0zm6 0zm2 0zm-69 1zm2 0zm4 0zm54 0zm-61 1zm1 0zm7 0zm51 0zm7 0zm-57 1zm50 0zm-59 1zm0 0zm1 0zm6 0zm6 0zm45 1zm0 0zm9 0zm0 0zm-59 1zm2 0zm3 0zm-12 1zm9 0zm48 0zm3 0zm7 0zm-66 1zm1 0zm63 1zm0 0zm-1018 1zm71 0zm881 0zm10 0zm55 0zm-1017 1zm955 0zm3 0zm62 0zm-1017 1zm957 0zm1 0zm53 0zm8 0zm259 0zm-324 1zm57 0zm1 0zm6 0zm-69 1zm2 0zm61 0zm4 0zm3 0zm-1021 1zm958 0zm99 0zm152 0zm-256 1zm64 0zm4 0zm0 0zm258 1zm-1271 1zm56 0zm3 0zm952 0zm38 0zm-992 1zm4 0zm953 0zm100 0zm157 0zm-1278 1zm60 0zm961 0zm31 0zm-1046 1zm1203 0zm4 0zm-1214 2zm0 0zm8 0zm3 0zm56 0zm-57 1zm57 0zm1142 0zm-1038 1zm421 0zm624 0zm-1210 1zm58 0zm267 0zm261 0zm1 0zm-528 1zm3 0zm263 0zm261 0zm623 0zm-1215 1zm10 0zm55 0zm2 0zm3 0zm458 0zm-527 1zm62 0zm1151 0zm-1200 1zm0 0zm46 0zm3 0zm103 0zm1050 0zm1 0zm61 0zm-1274 1zm55 0zm1216 0zm1 0zm-1278 1zm66 0zm101 0zm0 0zm167 0zm191 0zm1 0zm68 0zm622 0zm4 0zm55 0zm4 0zm-66 1zm10 0zm48 0zm2 0zm-1268 1zm7 0zm321 0zm878 0zm7 0zm60 0zm1 0zm-1012 1zm951 0zm-1208 1zm3 0zm58 0zm1 0zm192 0zm70 0zm258 0zm-526 1zm196 0zm66 0zm726 0zm-791 1zm0 0zm324 0zm683 0zm8 0zm189 0zm-1414 1zm277 0zm195 0zm59 0zm4 0zm633 0zm52 0zm261 0zm-1482 1zm0 0zm10 0zm468 0zm59 0zm469 0zm210 0zm-315 1zm71 0zm0 0zm99 0zm144 0zm199 0zm0 0zm-1140 1zm3 0zm195 0zm499 0zm34 0zm407 0zm-1193 1zm0 0zm256 0zm8 0zm520 0zm6 0zm403 0zm3 0zm-1140 1zm-3 1zm3 0zm201 0zm4 0zm3 0zm46 0zm372 0zm2 0zm0 0zm2 0zm2 0zm60 0zm515 0zm-941 1zm361 0zm1 0zm65 0zm0 0zm3 0zm446 0zm-1199 1zm5 0zm255 0zm51 0zm373 0zm66 0zm2 0zm0 0zm-427 1zm358 0zm4 0zm57 0zm516 0zm1 0zm-512 1zm3 1zm-70 1zm1 0zm2 0zm3 0zm9 0zm0 0zm1 0zm1 0zm38 0zm14 0zm-65 1zm57 0zm6 0zm0 0zm446 0zm3 0zm-502 1zm0 0zm56 0zm1 0zm-62 1zm42 0zm524 2zm-58 2zm4 0zm54 0zm8 0zm-8 1zm-60 1zm64 0zm0 0zm4 0zm-10 1zm1 0zm-50 1zm2 0zm46 0zm4 0zm4 0zm-1007 21zm3 0zm2 0zm0 0zm0 0zm1 0zm5 0zm1 0zm3 0zm0 0zm1 0zm5 0zm0 0zm1 0zm1 0zm4 0zm15 0zm1 0zm1 0zm4 0zm2 0zm6 0zm3 0zm0 0zm0 0zm2 0zm2 0zm0 0zm0 0zm1 0zm6 0zm871 2zm0 0zm2 0zm1 0zm2 0zm1 0zm0 0zm1 0zm0 0zm3 0zm1 0zm3 0zm0 0zm1 0zm1 0zm4 0zm0 0zm0 0zm1 0zm2 0zm20 0zm2 0zm2 0zm1 0zm0 0zm1 0zm1 0zm1 0zm3 0zm3 0zm1 0zm1 0zm2 0zm1 0zm0 0zm1 0zm6 0zm-1008 304zm66 0zm-5 2zm4 1zm-2 1zm-64 1zm1 2zm2 0zm55 0zm-60 1zm60 0zm-571 1zm55 0zm13 0zm450 0zm0 0zm-514 1zm46 0zm-41 1zm57 0zm446 0zm483 0zm13 0zm-734 1zm732 0zm-944 1zm4 0zm449 0zm487 0zm7 0zm-944 1zm196 0zm2 0zm9 0zm54 0zm620 0zm51 0zm-942 1zm1 0zm214 0zm58 0zm629 0zm-957 1zm5 0zm265 0zm51 0zm258 0zm380 0zm39 0zm-1001 1zm63 0zm454 0zm-509 1zm60 0zm257 0zm190 0zm2 0zm482 0zm-993 1zm945 0zm-949 1zm64 0zm265 0zm630 0zm44 0zm2 0zm-941 1zm266 0zm-329 1zm4 0zm52 0zm887 0zm7 0zm47 0zm4 0zm-735 1zm1 0zm54 0zm627 0zm54 0zm3 0zm-744 1zm689 0zm4 0zm49 0zm-1002 1zm55 0zm0 0zm11 0zm258 0zm676 0zm7 0zm3 0zm-1012 1zm58 0zm272 0zm676 0zm-946 1zm200 0zm71 0zm615 0zm9 0zm56 0zm-748 1zm0 0zm1 1zm679 0zm-943 2zm68 0zm192 0zm0 0zm682 0zm-942 1zm4 0zm56 0zm2 0zm-60 1zm62 0zm197 0zm683 0zm5 0zm-943 2zm0 0zm56 0zm7 0zm881 0zm-944 1zm59 0zm946 0zm-946 1zm-3 1zm4 0zm882 0zm-886 1zm949 0zm-943 1zm879 0zm-884 1zm881 0zm66 1zm-1009 1zm1207 0zm64 0zm-68 1zm-1206 1zm173 0zm1043 0zm4 0zm46 0zm-1196 1zm0 0zm1196 0zm5 0zm5 0zm-1271 1zm64 0zm36 0zm67 0zm1045 0zm-1213 1zm942 0zm-877 1zm946 0zm254 0zm0 0zm3 0zm-66 1zm1 0zm-1204 1zm67 0zm1201 0zm-1269 1zm68 0zm2 0zm874 0zm264 0zm-264 1zm268 1zm53 0zm3 0zm-64 1zm4 0zm-195 1zm197 0zm1 0zm-6 2zm4 0zm2 0zm-1213 1zm1206 0zm6 0zm65 0zm244 0zm-249 1zm187 1zm60 0zm-243 2zm243 0zm-243 1zm183 0zm9 1zm57 0zm-249 1zm193 2zm50 0zm6 0zm1 0zm-67 1zm11 0zm47 0zm-469 5zm3 0zm62 0zm414 0zm0 1zm-61 1zm56 1zm-406 2zm347 0zm-4 3zm70 0zm-412 1zm-71 3zm-714 8zm0 0zm1 2zm-2 2zm0 0zm1 0zm-69 1zm0 0zm66 1zm2 0zm-3 1zm-65 1zm66 0zm3 1zm-6 1zm0 0zm-59 2zm64 0zm-68 2zm8 0zm54 1zm-61 1zm1 1zm7 0zm2 0zm2 0zm54 0zm-59 1zm49 1zm263 1zm693 2zm-693 1zm692 0zm-691 2zm-67 1zm67 0zm623 0zm4 0zm62 2zm4 0zm-699 1zm630 0zm68 0zm0 0zm-67 1zm4 0zm58 1zm-1 1zm-1268 1zm1 0zm582 0zm623 0zm2 0zm-632 1zm632 0zm4 0zm2 0zm53 1zm-3 1zm-1196 1zm1201 1zm3 0zm-699 1zm634 0zm2 0zm10 0zm-1220 1zm1 0zm1216 0zm2 0zm51 0zm-1205 1zm2 0zm1138 0zm3 0zm9 0zm-1216 1zm68 0zm455 0zm3 0zm0 0zm56 0zm-517 1zm2 0zm459 0zm-462 1zm505 1zm-501 1zm447 0zm3 0zm8 0zm49 0zm-573 2zm58 0zm2 0zm38 0zm844 0zm-940 1zm54 2zm112 0zm-109 1zm-58 1zm939 0zm-944 1zm12 0zm1002 0zm1 0zm-1005 1zm0 0zm51 0zm112 0zm842 0zm1 0zm-953 1zm43 0zm841 0zm65 0zm-1010 1zm59 0zm109 0zm777 0zm69 0zm-70 1zm-937 1zm4 0zm936 0zm-949 1zm15 0zm934 0zm62 1zm-1002 1zm935 0zm72 2zm-999 1zm53 0zm941 0zm3 0zm-951 1zm7 0zm879 0zm61 0zm-1010 1zm8 0zm6 0zm0 0zm930 1zm1 0zm65 0zm-61 1zm2 0zm1 3zm1 1zm57 0zm-58 1zm55 1zm8 1zm-64 1zm3 0zm59 0zm-2 1zm1 0zm-58 1zm53 0zm9 1zm-2 1zm1 0zm100 0zm1 0zm-162 1zm3 0zm46 0zm9 3zm-9 1zm-56 1zm58 0zm8 0zm-12 1zm-40 1zm500 1zm62 1zm1 0zm-1 1zm-1 1zm-64 1zm66 1zm-5 2zm-54 1zm58 1zm-62 2zm12 0zm-11 1zm2 0zm7 0zm-13 1zm56 0zm0 0zm-52 1zm60 0zm5 0zm-63 1zm59 0zm-62 1zm8 1zm49 0zm0 1zm-56 1zm61 0zm3 0zm-62 2zm56 0zm-575 2zm8 0zm0 0zm1 0zm1 0zm4 0zm1 0zm3 0zm0 0zm3 0zm0 0zm1 0zm2 0zm1 0zm2 0zm1 0zm22 0zm0 0zm1 0zm8 0zm1 0zm5 0zm1 0zm1 0zm1 0zm1 0zm2 0zm32 0zm1 0zm1 0zm0 0zm2 0zm2 0zm5 0zm2 0zm7 0zm1 0zm27 0zm5 0zm2 0zm2 0zm4 0zm2 0zm6 0zm0 0zm341 0zm0 0zm0 0zm1 0zm2 0zm1 0zm0 0zm1 0zm0 0zm1 0zm1 0zm1 0zm1 0zm2 0zm0 0zm1 0zm48 0zm0 0zm1 0zm0 0zm0 0zm1 0zm0 0zm0 0zm0 0zm1 0zm0 0zm1 0zm1 0zm0 0zm2 0zm1 0zm0 0zm1 0zm0 0zm0 0zm0 0zm1 0zm1 0zm31 0zm3 0zm1 0zm64 0z" stroke="#0a0505" stroke-opacity="0.12" stroke-width="2.1" stroke-linecap="round" fill="none"/>
<path transform="translate(.3 .3)" d="m196 177zm1709 2zm-1708 3zm-6 5zm1 0zm1702 2zm-760 1zm-939 2zm677 1zm-673 1zm674 0zm5 1zm263 2zm1 0zm-16 3zm-155 5zm10 4zm813 0zm-1235 1zm1231 0zm-1489 1zm1497 1zm-8 1zm-813 1zm813 1zm-1491 1zm1500 1zm-1502 1zm9 0zm2 2zm660 1zm823 0zm-811 2zm247 0zm-920 1zm153 1zm-153 1zm1 0zm-23 1zm25 0zm-15 1zm1244 0zm351 1zm-913 5zm565 0zm99 1zm-1184 1zm769 0zm27 0zm-22 1zm19 0zm291 0zm-1085 2zm0 0zm530 0zm555 0zm0 1zm-310 1zm-779 1zm798 0zm291 0zm346 1zm-1423 1zm512 0zm2 0zm247 0zm29 0zm-791 1zm524 0zm543 0zm345 0zm-1421 1zm0 0zm782 0zm295 0zm-1068 2zm1077 0zm-1091 1zm801 1zm382 0zm-1064 2zm656 0zm28 0zm-36 1zm699 0zm-680 1zm412 0zm225 1zm-623 1zm21 0zm-41 1zm648 0zm-1330 1zm675 0zm4 0zm-674 1zm17 0zm653 0zm22 0zm384 1zm-1058 1zm675 0zm397 1zm7 0zm274 0zm-1354 1zm699 0zm-40 1zm402 0zm2 0zm18 0zm248 0zm9 0zm15 0zm-290 1zm16 0zm-1064 2zm639 0zm-642 1zm631 0zm22 0zm29 0zm-707 1zm654 0zm2 0zm659 0zm59 0zm-699 1zm38 0zm596 0zm6 0zm-619 1zm-699 1zm698 0zm390 0zm-1083 1zm1306 1zm-1303 1zm29 0zm1053 0zm241 0zm-1358 1zm32 1zm5 0zm642 0zm18 1zm25 0zm378 0zm18 0zm10 0zm207 0zm-638 1zm408 0zm9 1zm245 0zm-633 1zm2 0zm392 0zm-1108 2zm0 0zm39 0zm-43 1zm16 0zm666 0zm703 0zm-689 1zm18 0zm-676 1zm698 0zm-725 1zm30 0zm1340 0zm-1326 1zm-12 1zm1316 0zm-662 1zm-670 1zm673 0zm646 0zm15 0zm-1370 1zm53 0zm680 0zm-695 1zm662 0zm-672 1zm12 0zm653 0zm31 0zm616 0zm47 1zm-1332 1zm650 0zm693 0zm-1376 1zm22 0zm1296 0zm33 0zm13 0zm18 1zm-1389 1zm-6 1zm31 0zm638 0zm31 0zm634 0zm3 0zm53 0zm5 0zm-1399 1zm674 0zm24 0zm-665 1zm29 0zm-35 1zm1327 0zm-1353 1zm1332 0zm-600 1zm619 0zm-1343 1zm7 0zm31 0zm682 0zm615 0zm-1308 1zm1353 0zm-1392 1zm44 0zm689 0zm4 0zm1 0zm636 0zm-1345 1zm1336 0zm-1347 1zm692 0zm-701 1zm1370 0zm-656 1zm612 0zm1 0zm26 0zm-1317 1zm1341 0zm-692 1zm641 0zm63 0zm-56 1zm-1311 1zm1320 0zm-1349 2zm26 0zm659 0zm1 1zm673 0zm-1345 1zm5 0zm38 1zm1286 0zm-1316 1zm-23 2zm41 1zm652 0zm-675 2zm1352 0zm8 1zm-1337 1zm-31 4zm687 1zm8 2zm646 0zm5 1zm-652 4zm-666 1zm-17 1zm1334 1zm25 1zm-11 6zm-767 7zm-826 1zm829 0zm-938 2zm363 0zm569 0zm2 0zm-934 1zm100 0zm157 0zm670 0zm-831 1zm157 0zm3 0zm680 0zm-941 2zm1715 0zm-1607 1zm149 0zm1433 0zm9 2zm-1596 1zm3 0zm-107 1zm104 2zm839 0zm-680 4zm-260 3zm1593 0zm8 1zm-1501 2zm691 3zm0 0zm805 2zm-823 1zm9 0zm822 0zm-824 3zm5 0zm922 0zm-932 4zm7 2zm-105 12zm1 1zm-4 3zm1 0zm-412 308zm1 5zm-1 5zm634 20zm-789 1zm1674 0zm-153 4zm-1625 1zm896 1zm-266 2zm-374 1zm381 1zm-2 8zm-635 3zm266 0zm-8 5zm733 1zm379 2zm-1103 2zm-5 1zm108 0zm520 0zm-894 2zm256 0zm-147 1zm785 0zm6 2zm87 2zm379 0zm-380 1zm-977 1zm724 0zm7 0zm633 0zm-639 1zm533 0zm104 0zm-375 1zm-253 2zm-376 1zm370 0zm-9 2zm260 0zm-244 1zm632 0zm-991 1zm609 0zm-98 1zm482 0zm-486 1zm118 0zm-273 1zm0 0zm158 0zm472 0zm-1 2zm-640 1zm279 1zm371 0zm-1274 1zm876 0zm-862 1zm879 0zm33 0zm336 0zm11 0zm-109 1zm110 0zm251 0zm154 2zm-1668 1zm234 0zm925 0zm-1162 1zm261 0zm630 0zm4 0zm358 0zm11 0zm-1272 1zm245 0zm28 0zm-273 1zm261 1zm625 0zm-878 1zm875 0zm-7 2zm32 0zm18 0zm756 0zm-1427 1zm618 0zm10 1zm-14 1zm46 1zm356 0zm-1030 1zm652 0zm-900 1zm908 0zm6 1zm-621 1zm627 0zm-38 1zm-862 1zm-8 1zm1262 1zm-401 1zm58 0zm2 0zm348 0zm405 0zm-1416 1zm616 0zm29 1zm357 0zm16 0zm253 0zm-269 2zm-999 1zm1271 0zm147 0zm0 0zm107 0zm-908 1zm10 0zm624 0zm-88 1zm257 0zm0 0zm94 0zm-237 1zm-621 1zm505 0zm350 0zm-872 1zm22 0zm850 0zm-900 1zm35 0zm-612 1zm1132 0zm-1177 1zm1 0zm648 0zm637 0zm146 0zm-769 1zm510 0zm246 0zm100 0zm-1523 1zm38 0zm573 0zm678 0zm147 0zm-1 1zm83 0zm-881 1zm797 0zm87 0zm-1500 1zm602 0zm59 0zm585 0zm-1234 1zm1143 0zm98 0zm257 0zm-18 1zm1 0zm21 0zm-1543 1zm1189 0zm84 0zm263 1zm3 0zm-1541 1zm9 0zm645 0zm11 0zm775 0zm-1432 1zm1168 0zm111 0zm268 0zm-371 1zm333 0zm4 0zm-336 1zm2 0zm330 0zm43 0zm-939 1zm62 0zm502 0zm7 0zm341 0zm9 0zm-1499 1zm9 0zm605 0zm18 0zm6 0zm584 0zm4 0zm264 0zm-344 1zm351 0zm-1529 1zm651 0zm23 0zm601 0zm278 0zm2 0zm-897 1zm-620 1zm7 0zm0 0zm1134 0zm-1202 1zm1189 0zm-498 2zm7 0zm490 0zm-522 1zm21 0zm511 0zm-1188 1zm1271 0zm33 0zm-1305 1zm1183 0zm1 0zm7 0zm113 0zm-1259 2zm620 0zm24 0zm-693 1zm5 0zm27 0zm608 0zm54 0zm-661 2zm7 0zm-42 1zm1306 0zm-650 1zm17 0zm-607 1zm1240 0zm-1300 1zm1264 0zm1 0zm-612 1zm606 0zm48 0zm-1299 1zm652 0zm637 0zm-1245 1zm6 0zm-28 1zm1263 0zm5 1zm25 1zm-1288 1zm645 0zm4 0zm575 0zm-1217 1zm1213 0zm-582 3zm-680 1zm21 0zm19 1zm625 0zm644 0zm17 0zm-28 1zm-1265 1zm637 0zm-25 1zm617 0zm-1228 1zm1276 1zm-34 1zm-1250 2zm-16 2zm1290 0zm-1240 1zm1221 0zm-1278 1zm31 0zm7 0zm2 0zm8 0zm-17 1zm0 0zm1230 0zm-1232 1zm1237 2zm-593 1zm595 2zm-1264 1zm565 1zm-510 1zm335 0zm917 0zm-1288 1zm371 0zm-5 1zm11 0zm167 0zm-546 1zm390 0zm144 0zm704 0zm-864 1zm169 0zm721 0zm-1277 1zm1 0zm25 0zm268 0zm111 0zm848 0zm27 1zm31 0zm-1255 1zm502 1zm-269 2zm8 0zm959 0zm-3 1zm0 1zm57 0zm-915 2zm6 0zm1 1zm253 1zm608 0zm23 1zm29 1zm-1304 2zm37 0zm1213 0zm39 0zm21 0zm-49 1zm25 1zm3 1zm-1292 1zm31 0zm254 0zm989 0zm18 2zm-27 2zm44 0zm-1277 1zm513 1zm742 0zm9 1zm-1291 1zm1269 1zm-1242 3zm1242 1zm23 0zm248 0zm-1516 1zm0 0zm1489 0zm3 1zm-1516 1zm1525 0zm-1522 1zm1238 0zm33 0zm232 1zm-253 1zm276 3zm4 2zm-285 1zm257 0zm22 0zm8 0zm-1534 2zm1248 0zm16 4zm21 0zm-1530 313zm523 9zm-100 1zm99 2zm-99 7zm94 2zm595 1zm-697 6zm5 1zm-4 1zm115 0zm-634 1zm530 0zm-532 1zm527 0zm1 0zm103 0zm-101 4zm86 3zm590 0zm-1202 3zm98 0zm1112 0zm-1111 1zm540 0zm-634 1zm633 0zm569 2zm-1099 11zm1 0zm506 2zm-514 2zm506 0zm21 2zm-8 1zm331 0zm-842 1zm520 0zm1 0zm323 0zm-848 1zm504 3zm26 0zm420 0zm-963 1zm281 0zm940 1zm-1216 1zm0 1zm164 0zm361 0zm16 1zm313 0zm361 0zm-1200 1zm944 0zm-436 1zm22 0zm308 0zm-838 1zm525 0zm315 0zm-839 1zm147 0zm-2 1zm360 0zm20 0zm-541 1zm164 4zm6 0zm111 0zm-30 2zm1113 0zm-168 1zm-343 1zm514 1zm-1206 2zm6 1zm684 0zm-696 1zm6 0zm4 0zm684 0zm102 0zm242 0zm1 0zm172 0zm-1197 1zm84 0zm1107 0zm3 0zm8 0zm-523 1zm522 0zm-163 1zm160 0zm-1118 1zm603 0zm106 0zm-710 1zm706 0zm1 0zm290 0zm126 0zm87 0zm-611 2zm527 0zm-1084 1zm672 0zm266 0zm250 0zm-287 1zm18 0zm249 0zm-611 1zm7 0zm100 0zm3 0zm224 0zm180 0zm1 0zm104 0zm-1228 2zm1227 3zm-1224 1zm5 0zm989 0zm-947 1zm665 0zm-694 1zm697 0zm-684 1zm13 1zm3 0zm1 0zm1 0zm666 0zm234 0zm15 0zm-912 1zm1177 1zm-1180 1zm675 0zm283 0zm223 0zm14 0zm-1251 1zm13 0zm719 0zm483 1zm-221 1zm-16 1zm272 0zm-528 1zm240 0zm-238 1zm-721 1zm16 0zm11 2zm945 0zm21 0zm250 1zm-513 1zm-17 1zm13 0zm251 0zm276 0zm-532 1zm235 0zm21 0zm234 0zm-1188 1zm25 0zm673 0zm274 0zm-961 2zm688 0zm-719 1zm30 0zm686 0zm-685 1zm682 0zm1 0zm284 0zm-1005 1zm723 0zm13 0zm-691 2zm20 0zm658 0zm6 0zm223 0zm-910 1zm917 0zm-909 2zm676 0zm226 0zm-902 1zm676 0zm-668 2zm666 0zm13 0zm247 0zm-257 1zm-2 1zm-14 1zm9 0zm9 0zm5 0zm223 1zm26 0zm14 1zm-966 1zm678 0zm16 0zm-695 1zm-33 1zm17 0zm697 1zm5 0zm5 1zm-711 1zm11 0zm689 0zm244 0zm-928 1zm936 0zm-250 1zm3 0zm16 0zm-674 1zm653 0zm0 0zm5 0zm246 0zm-905 1zm4 0zm912 0zm-948 1zm-19 1zm13 0zm993 0zm-301 1zm22 0zm228 0zm8 1zm-932 1zm13 1zm910 0zm17 0zm-946 1zm-31 1zm957 0zm58 1zm-985 1zm32 0zm939 0zm-973 1zm923 0zm-942 2zm983 0zm-931 1zm923 0zm31 0zm-1013 1zm30 0zm30 0zm918 4zm-950 1zm32 0zm-63 2zm16 0zm53 1zm-18 1zm904 2zm-944 1zm1 0zm955 1zm-933 1zm-13 1zm966 1zm-969 1zm948 0zm-938 1zm934 2zm35 0zm-963 1zm920 0zm29 0zm-969 2zm-5 1zm948 1zm-918 1zm957 1zm-21 1zm16 0zm-3 1zm10 1zm12 0zm-995 1zm7 1zm6 0zm247 1zm706 0zm32 1zm-706 1zm651 0zm16 0zm-699 1zm741 0zm-732 1zm0 1zm26 2zm-277 1zm256 0zm670 0zm-1189 1zm2 0zm1187 0zm-659 1zm717 0zm-720 1zm-533 1zm4 0zm547 0zm677 1zm4 0zm-692 1zm-536 1zm1187 0zm25 0zm-1051 2zm945 0zm-1207 1zm615 0zm-608 1zm1205 0zm129 0zm1 0zm245 0zm-1580 1zm3 0zm626 0zm918 0zm-242 1zm258 1zm-1561 1zm253 0zm275 1zm1013 0zm-225 1zm263 0zm-27 1zm-1300 1zm1 1zm955 0zm244 1zm7 0zm-8 2zm113 0zm-1570 1zm2 0zm1206 0zm344 0zm20 2zm-1047 1zm4 2zm1047 0zm-1056 1zm695 0zm111 0zm249 0zm-1048 2zm1036 0zm-250 1zm-103 2zm366 0zm-623 253zm-431 12zm109 2zm-105 1zm95 1zm-98 5zm431 2zm2 0zm-430 3zm3 1zm97 2zm9 0zm325 1zm-433 2zm422 0zm-415 2zm85 0zm9 0zm327 0zm6 0zm-949 1zm941 2zm-685 1zm685 2zm-578 2zm245 0zm340 0zm-692 1zm363 0zm-523 4zm166 0zm360 0zm584 0zm-948 2zm-5 1zm372 1zm419 0zm-420 2zm-5 2zm3 0zm0 2zm-251 2zm235 1zm601 0zm-1112 1zm7 0zm516 0zm-18 1zm23 0zm-256 1zm-261 1zm498 0zm436 1zm7 0zm-445 2zm-498 2zm943 1zm406 0zm-1111 1zm283 1zm-273 1zm250 0zm854 3zm-1100 1zm13 0zm260 0zm-522 1zm269 0zm823 0zm261 0zm-265 1zm261 0zm-1342 1zm236 0zm854 0zm-865 1zm30 0zm233 0zm18 0zm4 0zm425 0zm416 0zm-5 1zm3 0zm1 0zm96 0zm-938 1zm-272 1zm5 0zm697 0zm-709 2zm263 0zm439 0zm4 0zm-448 1zm954 0zm-1180 1zm666 0zm-431 1zm440 0zm-413 1zm0 1zm413 0zm-418 2zm422 0zm-417 1zm-287 1zm277 0zm-17 1zm445 0zm2 0zm502 0zm-521 1zm-681 1zm13 0zm17 0zm231 0zm14 0zm0 0zm5 0zm-39 1zm-258 1zm47 0zm906 1zm-956 1zm1229 0zm-1225 1zm966 0zm-979 1zm25 2zm9 0zm26 0zm922 0zm-946 1zm31 1zm1167 0zm-1192 2zm1185 1zm-256 2zm-8 1zm-944 1zm5 0zm-16 2zm1216 0zm12 0zm-1171 1zm939 0zm-948 1zm-52 1zm45 0zm0 1zm916 0zm38 0zm0 2zm-8 1zm239 0zm2 0zm2 0zm-1206 1zm25 0zm906 0zm15 0zm-921 2zm0 0zm914 0zm-918 1zm-7 1zm919 0zm-943 1zm46 0zm939 0zm216 0zm20 0zm-1236 1zm957 0zm23 0zm239 1zm-1221 1zm17 0zm985 1zm-54 1zm-931 1zm930 0zm2 0zm259 1zm-1192 1zm35 0zm-9 1zm1 0zm930 0zm246 0zm13 0zm-1215 1zm33 0zm8 1zm2 0zm-13 1zm1172 2zm-1182 1zm949 0zm-45 1zm44 1zm227 0zm-265 2zm40 0zm19 0zm207 0zm14 0zm-263 1zm19 0zm6 0zm-46 1zm276 0zm-1205 1zm1188 0zm1 0zm36 0zm9 0zm-1251 1zm974 0zm-910 1zm893 0zm44 0zm9 0zm0 0zm-992 2zm949 1zm-910 1zm906 0zm-927 1zm907 0zm21 0zm45 0zm-69 2zm12 0zm47 1zm2 0zm-41 1zm-950 3zm8 0zm953 0zm2 0zm15 0zm-965 1zm-1 1zm959 0zm2 2zm1 0zm-939 1zm901 3zm19 0zm-693 1zm726 0zm-50 1zm51 2zm-1067 1zm1015 0zm4 0zm36 0zm5 0zm-1069 2zm12 0zm349 0zm687 0zm-929 1zm941 0zm-693 1zm721 0zm-1074 1zm330 0zm730 0zm6 0zm-980 1zm939 0zm-1036 1zm3 0zm111 0zm243 0zm12 0zm646 0zm-675 2zm32 1zm4 0zm673 0zm-709 3zm16 1zm6 0zm-354 1zm1029 0zm3 0zm-15 2zm-656 7zm-13 5zm586 2zm113 0zm-708 1zm7 0zm594 3zm4 0zm-1102 4zm-13 1zm1114 0zm-1103 1zm513 0zm-108 1zm-417 1zm423 1zm-423 3zm415 0zm-411 2zm-1 1zm417 0zm-515 2zm620 1zm-10 1zm-93 1zm1035 0zm-1443 1zm1438 0zm-1033 1zm1045 0zm22 0zm-1583 1zm1063 3zm-15 4zm6 1zm-2 1zm-1049 2zm1 0zm946 1zm90 2zm-86 5zm85 1zm1 0z" stroke="#0a0505" stroke-opacity="0.13" stroke-width="2.1" stroke-linecap="round" fill="none"/>
<path transform="translate(.3 .3)" d="m195 196zm2 1zm4 0zm-2 2zm1 2zm5 0zm662 2zm5 0zm-680 1zm12 0zm663 1zm6 0zm274 0zm-958 1zm14 0zm672 0zm4 0zm-1 1zm-688 1zm952 0zm-954 1zm682 0zm3 0zm-686 1zm9 0zm2 0zm2 0zm683 0zm259 0zm-943 1zm9 1zm671 0zm247 0zm-930 1zm686 0zm267 0zm-2 1zm3 0zm-959 1zm949 0zm-946 1zm958 0zm-273 1zm-668 1zm674 0zm-692 1zm15 0zm655 0zm13 0zm265 0zm11 0zm-955 1zm11 0zm913 0zm30 0zm-961 1zm1 0zm3 0zm687 0zm237 0zm13 0zm17 0zm-968 1zm695 0zm0 0zm254 0zm669 0zm-1604 1zm11 0zm918 0zm13 0zm9 0zm8 0zm-960 1zm5 0zm673 0zm5 0zm5 0zm4 0zm2 0zm1 0zm237 0zm11 0zm-275 1zm3 0zm18 0zm255 0zm7 0zm6 0zm6 0zm645 0zm-942 1zm7 0zm266 0zm3 0zm4 0zm-21 1zm13 0zm15 0zm7 0zm-17 1zm7 0zm1 0zm640 0zm16 0zm-927 1zm257 0zm11 0zm-17 1zm1 0zm30 0zm-269 1zm2 0zm249 0zm10 0zm-35 1zm1 0zm14 0zm-235 1zm260 0zm8 0zm-873 1zm25 0zm570 0zm3 0zm-25 1zm0 0zm922 0zm1 0zm-1498 1zm17 0zm1493 0zm11 0zm-1526 1zm1498 0zm8 0zm4 0zm-1506 1zm8 1zm5 0zm21 0zm2 1zm1473 0zm-1500 1zm1 0zm2 0zm4 0zm13 0zm2 0zm1470 0zm3 0zm-1472 2zm1493 0zm6 0zm-18 1zm10 0zm-1535 1zm13 0zm11 0zm5 0zm1516 0zm-1525 1zm1505 0zm9 0zm-1513 1zm22 0zm672 0zm5 0zm816 0zm-33 1zm19 0zm17 0zm0 0zm-1515 1zm5 0zm22 0zm642 0zm11 0zm0 0zm562 0zm6 0zm-1251 1zm32 0zm1210 0zm241 0zm15 0zm18 0zm9 0zm-1543 1zm4 0zm10 0zm37 0zm129 0zm4 0zm532 0zm789 0zm39 0zm-1551 1zm31 0zm165 0zm496 0zm17 0zm1 0zm-678 1zm662 0zm27 0zm549 0zm-1073 1zm521 0zm548 0zm-1073 1zm1084 0zm1 0zm-1254 1zm27 0zm653 0zm574 0zm-1274 1zm6 0zm23 0zm3 0zm147 0zm523 0zm571 0zm-1263 1zm18 0zm171 0zm524 0zm546 0zm6 0zm-1257 1zm6 0zm163 0zm13 0zm484 0zm9 0zm580 0zm0 0zm-1241 1zm148 0zm12 0zm2 0zm503 0zm6 0zm-710 1zm3 0zm15 0zm28 0zm648 0zm582 0zm2 0zm-1258 1zm5 0zm5 0zm4 0zm20 0zm134 0zm521 0zm571 0zm-1267 1zm15 0zm36 0zm4 0zm129 0zm499 0zm-668 1zm2 0zm6 0zm31 0zm143 0zm488 0zm563 0zm-1194 1zm123 0zm10 0zm11 0zm3 0zm488 0zm-634 1zm116 0zm30 0zm1065 0zm-1269 1zm14 0zm2 0zm2 0zm25 0zm6 0zm149 0zm481 0zm22 0zm5 0zm-683 1zm7 0zm5 0zm134 0zm7 0zm8 0zm510 0zm4 0zm11 0zm2 0zm4 0zm0 0zm5 0zm-731 1zm36 0zm22 0zm125 0zm1 0zm1 0zm3 0zm9 0zm3 0zm15 0zm1 0zm498 0zm14 0zm536 0zm11 0zm-1244 1zm20 0zm5 0zm6 0zm113 0zm5 0zm10 0zm3 0zm14 0zm6 0zm478 0zm41 0zm535 0zm4 0zm7 0zm-1067 1zm8 0zm496 0zm3 0zm1 1zm4 0zm8 0zm531 0zm13 0zm-550 1zm549 0zm6 0zm1 0zm-551 1zm548 0zm6 0zm-588 1zm32 0zm9 0zm3 0zm530 0zm13 0zm1 0zm-22 1zm8 0zm-553 1zm20 0zm524 0zm-566 1zm26 0zm21 0zm533 0zm-578 1zm562 0zm6 0zm17 0zm4 0zm-583 1zm18 0zm1 0zm12 0zm540 0zm-573 1zm1 0zm567 0zm13 0zm-598 1zm17 0zm37 0zm7 0zm517 0zm10 0zm11 0zm1 0zm75 0zm-670 1zm20 0zm27 0zm1 0zm523 0zm126 0zm-705 1zm8 0zm8 0zm19 0zm6 0zm8 0zm5 0zm1 0zm525 0zm4 0zm21 0zm79 0zm-688 1zm14 0zm9 0zm6 0zm6 0zm14 0zm11 0zm5 0zm516 0zm9 0zm1 0zm21 0zm79 0zm-668 1zm12 0zm3 0zm12 0zm532 0zm7 0zm21 0zm73 0zm-99 1zm16 0zm7 0zm2 0zm-22 1zm23 0zm-28 1zm7 0zm9 0zm106 0zm-118 1zm14 0zm0 0zm8 0zm3 0zm-14 1zm-4 1zm5 0zm1 0zm10 0zm1 0zm85 1zm3 1zm14 1zm-4 1zm-26 1zm3 1zm5 0zm18 0zm-17 2zm4 0zm9 2zm-14 1zm7 0zm5 0zm3 0zm11 0zm-6 2zm-20 2zm17 0zm-12 1zm16 0zm1 0zm6 0zm1 0zm-39 1zm10 0zm1 0zm25 0zm-33 1zm8 0zm16 0zm5 1zm-22 1zm2 1zm18 0zm2 0zm-25 1zm11 0zm9 0zm-15 1zm3 0zm-3 1zm2 0zm-18 1zm4 0zm2 0zm13 0zm3 0zm14 0zm3 0zm5 1zm-32 1zm-2 1zm19 0zm2 0zm-28 1zm0 1zm13 0zm16 0zm7 0zm3 0zm-17 1zm10 0zm-18 1zm8 0zm19 0zm-22 1zm16 0zm-1359 1zm13 0zm10 0zm1298 0zm7 0zm13 0zm8 0zm11 0zm-1390 1zm48 0zm0 0zm1312 0zm21 0zm5 0zm7 0zm1 0zm-1393 1zm2 0zm1 0zm10 0zm2 0zm1343 0zm24 0zm9 0zm-1396 1zm17 0zm833 0zm10 0zm505 0zm-1351 1zm2 0zm21 0zm7 0zm14 0zm1 0zm10 0zm804 0zm1 0zm23 0zm463 0zm17 0zm7 0zm3 0zm-1338 1zm6 0zm6 0zm7 0zm788 0zm26 0zm475 0zm4 0zm5 0zm6 0zm13 0zm12 0zm-1379 1zm834 0zm45 0zm-881 1zm42 0zm795 0zm21 0zm3 0zm519 0zm-1387 1zm20 0zm21 0zm1 0zm0 0zm806 0zm17 0zm3 0zm3 0zm479 0zm34 0zm-1473 1zm134 0zm9 0zm111 0zm11 0zm12 0zm9 0zm486 0zm20 0zm639 0zm-1429 1zm94 0zm30 0zm140 0zm15 0zm512 0zm140 0zm9 0zm15 0zm521 0zm-1381 1zm173 0zm12 0zm9 0zm473 0zm12 0zm20 0zm26 0zm115 0zm5 0zm1 0zm9 0zm16 0zm478 0zm11 0zm8 0zm-1468 1zm3 0zm18 0zm107 0zm131 0zm43 0zm-270 1zm0 0zm224 0zm5 0zm5 0zm5 0zm19 0zm495 0zm1 0zm1 0zm157 0zm2 0zm4 0zm7 0zm479 0zm8 0zm7 0zm7 0zm23 0zm1 0zm-1475 1zm102 0zm163 0zm0 0zm21 0zm6 0zm469 0zm32 0zm10 0zm157 0zm8 0zm475 0zm-1342 1zm4 0zm154 0zm3 0zm3 0zm8 0zm0 0zm500 0zm6 0zm7 0zm17 0zm18 0zm606 0zm35 0zm-1467 1zm119 0zm144 0zm6 0zm5 0zm18 0zm2 0zm480 0zm19 0zm150 0zm5 0zm7 0zm5 0zm471 0zm19 0zm4 0zm2 0zm23 0zm-1207 1zm9 0zm507 0zm2 0zm29 0zm8 0zm113 0zm24 0zm476 0zm2 0zm-1416 1zm92 0zm1 0zm168 0zm4 0zm468 0zm59 0zm0 0zm123 0zm-939 1zm4 0zm96 0zm157 0zm15 0zm521 0zm2 0zm32 0zm115 0zm6 0zm11 0zm4 0zm481 0zm4 0zm5 0zm5 0zm15 0zm0 0zm-1456 1zm3 0zm4 0zm232 0zm10 0zm8 0zm514 0zm20 0zm13 0zm618 0zm14 0zm-1448 1zm113 0zm163 0zm1 0zm509 0zm5 0zm0 0zm6 0zm4 0zm143 0zm4 0zm7 0zm483 0zm17 0zm1 0zm4 0zm1 0zm24 0zm-1472 1zm4 0zm247 0zm7 0zm486 0zm1 0zm5 0zm10 0zm12 0zm174 0zm458 0zm-1413 1zm93 0zm22 0zm164 0zm1 0zm470 0zm36 0zm3 0zm169 0zm453 0zm13 0zm9 0zm1 0zm8 0zm24 0zm3 0zm-1365 1zm155 0zm491 0zm34 0zm12 0zm6 0zm8 0zm10 0zm613 0zm2 0zm-1434 1zm4 0zm86 0zm9 0zm9 0zm148 0zm14 0zm1 0zm671 0zm1 0zm-943 1zm272 0zm480 0zm5 0zm15 0zm8 0zm25 0zm-534 1zm494 0zm21 0zm6 0zm17 0zm-46 1zm39 0zm3 0zm-803 1zm262 0zm494 0zm5 0zm10 0zm3 0zm3 0zm5 0zm15 0zm1 0zm11 0zm139 0zm645 0zm8 0zm15 0zm-1365 1zm508 0zm1 0zm824 0zm12 0zm-843 1zm13 0zm31 0zm141 0zm638 0zm20 0zm28 0zm-827 1zm782 0zm7 0zm21 0zm-841 1zm5 0zm9 0zm10 0zm3 0zm12 0zm811 0zm-1353 1zm8 0zm509 0zm16 0zm786 0zm27 0zm-1357 1zm11 0zm503 0zm6 0zm827 0zm10 0zm4 0zm-848 1zm815 0zm32 0zm-859 1zm17 0zm24 0zm1 0zm807 0zm1 0zm10 0zm-858 1zm14 0zm813 0zm2 0zm9 0zm7 1zm-845 1zm12 0zm22 0zm821 0zm0 0zm-851 1zm13 0zm20 0zm16 0zm795 0zm-838 1zm38 0zm-39 1zm28 0zm798 0zm-811 1zm816 0zm-822 1zm21 0zm10 0zm783 1zm-808 1zm832 0zm-844 1zm1 0zm24 0zm661 0zm2 0zm4 0zm19 0zm123 0zm-827 1zm1 0zm650 0zm2 0zm36 0zm130 0zm5 0zm-188 1zm32 0zm21 0zm-687 1zm14 0zm7 0zm614 0zm27 0zm2 0zm6 0zm31 0zm-40 1zm9 0zm4 0zm9 0zm12 0zm5 0zm-44 1zm14 0zm-682 1zm13 0zm7 0zm632 0zm8 0zm7 0zm1 0zm12 0zm15 0zm3 0zm-785 1zm4 0zm100 0zm3 0zm647 0zm-763 1zm115 0zm6 0zm647 0zm6 0zm5 0zm3 0zm-672 1zm688 0zm-794 1zm12 0zm12 0zm741 0zm27 0zm-782 1zm5 0zm762 0zm-767 1zm741 0zm6 0zm16 0zm-12 1zm5 0zm5 0zm-762 1zm753 0zm5 0zm15 0zm8 0zm-119 1zm1 0zm1 0zm10 0zm73 0zm5 0zm30 0zm-786 1zm15 0zm645 0zm8 0zm4 0zm85 0zm-82 1zm78 0zm17 0zm5 0zm-784 1zm675 0zm109 0zm5 0zm-781 1zm660 0zm16 0zm87 0zm5 0zm9 0zm7 0zm-776 1zm753 0zm-8 1zm-96 1zm15 0zm0 0zm-5 1zm-670 1zm660 0zm7 1zm10 0zm-665 2zm-6 2zm729 21zm1 0zm0 0zm0 0zm2 0zm0 0zm3 0zm0 0zm0 0zm1 0zm3 0zm1 0zm3 0zm1 0zm1 0zm5 0zm0 0zm1 0zm1 0zm4 0zm1 0zm1 0zm1 0zm5 0zm2 0zm3 0zm3 0zm2 0zm0 0zm0 0zm2 0zm2 0zm0 0zm2 0zm0 0zm1 0zm1 0zm2 0zm0 0zm3 0zm1 0zm1 0zm1 0zm0 0zm2 0zm0 0zm4 0zm0 0zm1 0zm3 0zm0 0zm0 0zm-848 347zm9 1zm3 3zm-9 1zm12 1zm-18 4zm4 0zm12 0zm-17 3zm24 0zm-14 1zm1 0zm2 0zm-14 1zm2 0zm9 0zm3 0zm5 0zm-20 1zm4 0zm2 0zm4 0zm-12 1zm9 0zm3 0zm0 0zm-358 1zm365 0zm7 0zm-383 1zm377 0zm3 0zm-22 1zm-357 1zm3 0zm351 0zm23 0zm10 0zm-24 1zm1 0zm7 0zm14 0zm2 0zm-34 1zm20 0zm-376 1zm8 0zm369 0zm2 0zm0 0zm-377 1zm-5 1zm11 5zm5 0zm-26 1zm13 1zm-8 1zm1 0zm16 0zm-269 1zm257 0zm642 0zm-896 2zm239 0zm656 0zm0 0zm-890 1zm234 0zm12 0zm1 0zm17 0zm448 0zm28 0zm-484 1zm470 0zm158 0zm-895 1zm259 0zm8 0zm12 0zm612 0zm-890 1zm260 0zm483 0zm143 0zm-875 1zm235 0zm2 0zm13 0zm10 0zm449 0zm2 0zm181 0zm4 0zm-895 1zm248 0zm16 0zm9 0zm598 0zm1 0zm6 0zm-889 1zm259 0zm463 0zm171 0zm6 0zm9 0zm5 0zm-658 1zm3 0zm498 0zm129 0zm8 0zm5 0zm-902 1zm728 0zm3 0zm4 0zm163 0zm21 0zm359 0zm-1266 1zm245 0zm1 0zm31 0zm449 0zm144 0zm11 0zm4 0zm-903 1zm6 0zm2 0zm732 0zm12 0zm2 0zm4 0zm133 0zm16 0zm15 0zm351 0zm-1264 1zm738 0zm17 0zm5 0zm124 0zm5 0zm16 0zm10 0zm349 0zm-1264 1zm716 0zm31 0zm129 0zm8 0zm4 0zm3 0zm15 0zm11 0zm1 0zm2 0zm-915 1zm1 0zm718 0zm12 0zm142 0zm394 0zm-552 1zm9 0zm0 1zm20 0zm143 0zm18 0zm9 0zm0 0zm342 0zm9 0zm-1276 1zm7 0zm6 0zm713 0zm7 0zm11 0zm6 0zm7 0zm139 0zm374 0zm12 0zm-1275 1zm10 0zm727 0zm12 0zm3 0zm3 0zm5 0zm-40 1zm19 0zm8 0zm12 0zm521 0zm0 0zm-1287 1zm21 0zm725 0zm2 0zm526 0zm-1261 1zm8 0zm703 0zm8 0zm30 0zm5 0zm3 0zm2 0zm513 0zm1 0zm-1284 1zm9 0zm706 0zm4 0zm51 0zm-42 1zm0 0zm1 0zm1 0zm21 0zm1 0zm15 0zm498 0zm8 0zm9 0zm-549 1zm5 0zm17 0zm512 0zm4 0zm-545 1zm33 0zm13 0zm502 0zm3 0zm1 0zm-511 1zm518 0zm-555 1zm2 0zm4 0zm9 0zm518 0zm15 0zm-549 1zm10 0zm7 0zm525 0zm15 0zm-1173 1zm7 0zm1151 0zm16 0zm-576 1zm42 0zm2 0zm14 0zm489 0zm13 0zm18 0zm0 0zm-1178 1zm13 0zm591 0zm3 0zm32 0zm9 0zm12 0zm504 0zm8 0zm6 0zm-575 1zm17 0zm9 0zm23 0zm6 0zm7 0zm481 0zm21 0zm-518 1zm504 0zm123 0zm-1270 1zm2 0zm589 0zm10 0zm5 0zm0 0zm9 0zm7 0zm623 0zm18 0zm-663 1zm1 0zm11 0zm2 0zm-636 1zm18 0zm12 0zm600 0zm18 0zm17 0zm-642 1zm616 0zm8 0zm11 0zm7 0zm-28 1zm31 0zm615 0zm-1266 1zm1266 0zm9 0zm-1289 1zm3 1zm1 0zm1257 0zm13 0zm1 0zm14 0zm5 0zm-1282 1zm12 0zm7 0zm1238 0zm17 0zm-1255 1zm1230 0zm35 0zm-1294 1zm3 0zm1253 0zm1 0zm27 0zm1 0zm2 1zm-1275 1zm2 0zm7 0zm1233 0zm37 0zm0 0zm-37 1zm-1263 1zm1274 0zm15 0zm3 0zm-1269 1zm14 0zm1244 0zm4 0zm-10 1zm9 1zm-1258 1zm1239 0zm26 0zm-1270 1zm1250 0zm-1256 1zm5 0zm22 0zm1219 0zm4 0zm37 0zm5 0zm386 0zm-1692 1zm1276 0zm8 0zm10 0zm-1272 1zm0 0zm18 0zm1221 0zm6 0zm32 0zm7 0zm-1304 1zm21 0zm6 0zm1239 0zm417 0zm10 0zm-1675 1zm1263 0zm398 0zm11 0zm91 0zm-1785 1zm3 0zm21 0zm5 0zm1234 0zm15 0zm427 0zm72 0zm39 0zm-1809 1zm12 0zm5 0zm3 0zm1271 0zm4 0zm7 0zm4 0zm370 0zm2 0zm4 0zm3 0zm124 0zm-1805 1zm0 0zm0 0zm1 0zm20 0zm1230 0zm21 0zm8 0zm9 0zm7 0zm480 0zm39 0zm-1810 1zm4 0zm20 0zm1235 0zm15 0zm3 0zm397 0zm8 0zm71 0zm32 0zm-1793 1zm1252 0zm423 0zm7 0zm5 0zm1 0zm90 0zm35 0zm-1828 1zm7 0zm7 0zm14 0zm24 0zm1227 0zm23 0zm12 0zm385 0zm10 0zm68 0zm29 0zm-1794 1zm1270 0zm0 0zm7 0zm13 0zm6 0zm4 0zm9 0zm388 0zm-1695 1zm4 0zm38 0zm1213 0zm447 0zm-1707 1zm1274 0zm9 0zm4 0zm9 0zm9 0zm377 0zm6 0zm-1695 1zm3 0zm0 0zm11 0zm34 0zm1225 0zm11 0zm12 0zm394 0zm7 0zm10 0zm9 0zm-1685 1zm1237 0zm28 0zm17 0zm5 0zm2 0zm133 0zm244 0zm10 0zm71 0zm22 0zm-484 1zm371 0zm116 0zm-1780 1zm1293 0zm134 0zm0 0zm240 0zm119 0zm6 0zm17 0zm-1835 1zm3 0zm6 0zm0 0zm27 0zm15 0zm1216 0zm48 0zm146 0zm2 0zm225 0zm1 0zm11 0zm84 0zm-1777 1zm30 0zm17 0zm1228 0zm10 0zm407 0zm18 0zm57 0zm12 0zm26 0zm26 0zm-1807 1zm1 0zm1 0zm2 0zm8 0zm0 0zm1233 0zm160 0zm11 0zm253 0zm19 0zm65 0zm24 0zm16 0zm4 0zm-1818 1zm8 0zm26 0zm1257 0zm140 0zm12 0zm10 0zm227 0zm14 0zm-1704 1zm0 0zm26 0zm2 0zm7 0zm5 0zm6 0zm5 0zm1237 0zm4 0zm144 0zm16 0zm7 0zm248 0zm4 0zm1 0zm78 0zm37 0zm-1828 1zm0 0zm1266 0zm7 0zm11 0zm4 0zm25 0zm3 0zm141 0zm242 0zm3 0zm106 0zm16 0zm-1787 1zm6 0zm2 0zm1218 0zm5 0zm57 0zm2 0zm119 0zm3 0zm239 0zm31 0zm73 0zm3 0zm47 0zm-1800 1zm10 0zm1233 0zm6 0zm12 0zm151 0zm11 0zm2 0zm0 0zm251 0zm1 0zm8 0zm-1708 1zm4 0zm8 0zm597 0zm1 0zm20 0zm632 0zm408 0zm12 0zm12 0zm3 0zm9 0zm1 0zm51 0zm9 0zm-1781 1zm7 0zm20 0zm612 0zm7 0zm627 0zm14 0zm29 0zm6 0zm112 0zm276 0zm11 0zm56 0zm-1760 1zm4 0zm3 0zm1 0zm0 0zm625 0zm16 0zm24 0zm581 0zm16 0zm0 0zm141 0zm23 0zm9 0zm221 0zm7 0zm23 0zm7 0zm80 0zm2 0zm6 0zm10 0zm0 0zm12 0zm-1830 1zm7 0zm14 0zm5 0zm1 0zm23 0zm573 0zm5 0zm9 0zm2 0zm2 0zm29 0zm632 0zm7 0zm6 0zm8 0zm134 0zm2 0zm4 0zm2 0zm2 0zm228 0zm1 0zm5 0zm6 0zm7 0zm10 0zm2 0zm47 0zm16 0zm30 0zm16 0zm2 0zm-1837 1zm36 0zm6 0zm612 0zm19 0zm0 0zm18 0zm1 0zm570 0zm45 0zm6 0zm131 0zm18 0zm4 0zm213 0zm40 0zm63 0zm28 0zm5 0zm11 0zm-1828 1zm18 0zm6 0zm4 0zm652 0zm598 0zm7 0zm20 0zm0 0zm7 0zm8 0zm2 0zm3 0zm106 0zm3 0zm0 0zm30 0zm-1441 1zm22 0zm585 0zm7 0zm17 0zm0 0zm645 0zm1 0zm12 0zm14 0zm128 0zm325 0zm11 0zm-1790 1zm10 0zm630 0zm5 0zm1 0zm42 0zm4 0zm122 0zm3 0zm1 0zm20 0zm437 0zm3 0zm23 0zm130 0zm7 0zm22 0zm354 0zm21 0zm-1806 1zm1 0zm3 0zm1 0zm2 0zm596 0zm30 0zm13 0zm124 0zm16 0zm444 0zm1 0zm168 0zm31 0zm6 0zm317 0zm27 0zm27 0zm-1809 1zm14 0zm598 0zm16 0zm151 0zm12 0zm441 0zm4 0zm179 0zm1 0zm13 0zm12 0zm373 0zm-1838 1zm13 0zm13 0zm26 0zm4 0zm584 0zm35 0zm7 0zm147 0zm4 0zm6 0zm416 0zm40 0zm6 0zm132 0zm9 0zm5 0zm11 0zm4 0zm1 0zm315 0zm-1752 1zm5 0zm625 0zm9 0zm156 0zm2 0zm9 0zm429 0zm17 0zm11 0zm26 0zm107 0zm7 0zm20 0zm12 0zm317 0zm19 0zm2 0zm-1770 1zm8 0zm4 0zm1 0zm5 0zm2 0zm586 0zm8 0zm42 0zm122 0zm14 0zm14 0zm446 0zm5 0zm11 0zm4 0zm13 0zm0 0zm1 0zm108 0zm17 0zm370 0zm21 0zm-1828 1zm22 0zm513 0zm14 0zm10 0zm98 0zm1143 0zm-1799 1zm33 0zm523 0zm11 0zm64 0zm169 0zm10 0zm985 0zm14 0zm-1803 1zm541 0zm5 0zm0 0zm94 0zm5 0zm20 0zm136 0zm987 0zm17 0zm7 0zm-1816 1zm10 0zm7 0zm3 0zm17 0zm503 0zm21 0zm95 0zm2 0zm5 0zm3 0zm0 0zm0 0zm140 0zm8 0zm984 0zm-1809 1zm8 0zm10 0zm24 0zm524 0zm3 0zm97 0zm1119 0zm1 0zm40 0zm-1826 1zm3 0zm6 0zm5 0zm12 0zm21 0zm500 0zm3 0zm13 0zm4 0zm1212 0zm22 0zm-1789 1zm20 0zm528 0zm81 0zm193 0zm982 0zm13 0zm14 0zm-1823 1zm24 0zm13 0zm587 0zm33 0zm141 0zm980 0zm42 0zm-1840 1zm42 0zm9 0zm501 0zm16 0zm88 0zm8 0zm13 0zm1107 0zm8 0zm10 0zm-1770 1zm2 0zm10 0zm3 0zm11 0zm496 0zm4 0zm2 0zm3 0zm8 0zm102 0zm1149 0zm-1822 1zm7 0zm10 0zm24 0zm18 0zm616 0zm155 0zm1005 0zm-1285 1zm100 0zm4 0zm18 0zm140 0zm14 0zm951 0zm31 0zm11 0zm-1799 1zm2 0zm20 0zm24 0zm499 0zm1243 0zm12 0zm-1823 1zm68 0zm587 0zm1160 0zm18 0zm-1826 1zm35 0zm1 0zm517 0zm-505 1zm1777 0zm-46 1zm3 0zm31 0zm-1257 1zm6 0zm1208 0zm43 0zm11 0zm-13 1zm2 0zm22 0zm-40 1zm-4 2zm11 0zm13 0zm10 0zm4 0zm-60 1zm14 0zm0 1zm51 1zm4 0zm-61 1zm5 1zm6 0zm14 0zm17 0zm8 0zm-40 1zm13 0zm-16 1zm8 0zm27 1zm16 0zm5 0zm-54 1zm10 0zm2 0zm17 0zm-13 1zm31 0zm3 1zm-1671 1zm3 0zm6 0zm7 0zm7 0zm9 0zm1581 0zm36 0zm11 0zm-1652 1zm3 0zm26 0zm4 0zm1581 0zm12 0zm32 0zm-1647 1zm2 0zm1583 0zm56 0zm-1624 1zm1580 0zm2 0zm13 0zm8 0zm1 0zm15 0zm17 0zm-1846 1zm30 0zm9 0zm153 0zm1605 0zm17 0zm-1777 1zm0 0zm5 0zm13 0zm3 0zm137 0zm9 0zm1595 0zm14 0zm21 0zm-1827 1zm7 0zm9 0zm17 0zm18 0zm7 0zm131 0zm6 0zm2 0zm1601 0zm-1785 1zm5 0zm34 0zm6 0zm120 0zm1625 0zm22 0zm-1828 1zm58 0zm3 0zm131 0zm1612 0zm-1763 1zm11 0zm1 0zm1721 0zm9 0zm9 0zm-1745 1zm14 0zm121 0zm1596 0zm10 0zm43 0zm6 0zm-1826 1zm26 0zm1748 0zm-1770 1zm6 0zm3 0zm1752 0zm6 0zm26 0zm5 0zm0 0zm22 0zm-1645 1zm1085 0zm502 0zm46 0zm17 0zm-1789 1zm1247 0zm8 0zm488 0zm-1755 1zm3 0zm4 0zm1246 0zm-1241 1zm1229 0zm25 0zm20 0zm465 0zm10 0zm20 0zm15 0zm-1654 1zm18 0zm1079 0zm19 0zm23 0zm8 0zm460 0zm32 0zm-1806 1zm22 0zm10 0zm2 0zm1253 0zm9 0zm490 0zm-1776 1zm18 0zm1260 0zm381 0zm129 0zm21 0zm-1785 1zm141 0zm3 0zm1093 0zm1 0zm38 0zm4 0zm364 0zm0 0zm16 0zm2 0zm3 0zm9 0zm5 0zm-1796 1zm6 0zm6 0zm1 0zm92 0zm162 0zm1085 0zm12 0zm4 0zm4 0zm399 0zm12 0zm12 0zm1 0zm-1795 1zm0 0zm3 0zm80 0zm5 0zm162 0zm10 0zm1100 0zm11 0zm19 0zm364 0zm4 0zm1 0zm9 0zm11 0zm-1532 1zm14 0zm1107 0zm24 0zm374 0zm4 0zm7 0zm2 0zm-1770 1zm238 0zm2 0zm1135 0zm402 0zm-1530 1zm7 0zm1093 0zm16 0zm8 0zm1 0zm392 0zm5 0zm13 0zm-1802 1zm1382 0zm-25 1zm12 0zm13 0zm9 0zm392 0zm0 1zm-523 1zm7 0zm107 0zm-1107 1zm11 0zm990 0zm5 0zm91 0zm-88 1zm5 0zm102 0zm0 0zm-113 1zm601 0zm-1604 1zm996 0zm91 0zm-1081 1zm1011 0zm107 0zm513 0zm11 0zm-659 1zm12 0zm11 0zm79 0zm6 0zm17 0zm4 0zm507 0zm-1533 1zm0 0zm4 0zm19 0zm875 0zm11 0zm11 0zm7 0zm580 0zm32 0zm-1812 1zm0 0zm2 0zm0 0zm1 0zm3 0zm1 0zm1 0zm1 0zm3 0zm0 0zm1 0zm2 0zm1 0zm1 0zm1 0zm1 0zm0 0zm2 0zm1 0zm1 0zm2 0zm1 0zm1 0zm0 0zm2 0zm0 0zm6 0zm1 0zm1 0zm2 0zm0 0zm1 0zm1 0zm2 0zm1 0zm2 0zm0 0zm1 0zm3 0zm0 0zm1224 0zm11 0zm-113 1zm118 0zm509 0zm-519 1zm16 0zm-116 1zm4 0zm598 0zm-598 1zm87 0zm0 0zm0 0zm2 0zm0 0zm2 0zm0 0zm4 0zm4 0zm1 0zm1 0zm2 0zm2 0zm1 0zm1 0zm2 0zm2 0zm0 0zm1 0zm1 0zm1 0zm1 0zm0 0zm1 0zm3 0zm1 0zm3 0zm245 0zm0 0zm5 0zm4 0zm4 0zm210 0zm5 0zm1 0zm4 0zm1 0zm4 0zm1 0zm8 0zm7 0zm12 0zm2 0zm2 0zm3 0zm1 0zm1 0zm2 0zm-1385 351zm11 0zm7 1zm-7 4zm-3 1zm-517 1zm509 0zm7 0zm-522 1zm516 0zm-6 1zm9 0zm-523 1zm1 0zm1 0zm5 0zm2 0zm526 0zm681 0zm10 0zm-3 1zm-692 1zm9 0zm-17 1zm3 0zm-517 2zm2 2zm1 0zm2 0zm1 0zm521 0zm3 0zm668 0zm15 0zm-1226 1zm10 0zm512 0zm5 0zm692 0zm12 0zm-1229 1zm-4 1zm12 0zm3 0zm512 0zm9 0zm10 0zm666 0zm-1196 1zm5 0zm512 2zm14 0zm662 0zm25 0zm-1216 1zm504 0zm15 0zm671 0zm13 0zm-1220 1zm12 1zm9 0zm-20 1zm10 0zm1216 0zm-1228 1zm5 0zm17 0zm503 0zm-523 1zm15 0zm520 0zm677 0zm-680 1zm676 0zm-695 1zm30 0zm691 0zm-694 1zm663 0zm5 0zm7 0zm-1209 1zm16 0zm491 0zm2 0zm2 0zm11 0zm22 0zm666 0zm9 0zm-22 1zm10 0zm-1212 1zm2 0zm529 0zm6 0zm669 0zm18 0zm-1229 1zm10 0zm3 0zm8 0zm495 0zm8 0zm7 0zm709 0zm-710 1zm673 0zm-1187 1zm2 0zm496 0zm35 0zm652 0zm1 0zm29 0zm-1225 1zm13 0zm0 0zm5 0zm515 0zm690 0zm7 0zm-1228 1zm11 0zm514 0zm4 0zm2 0zm9 0zm667 0zm1 0zm1 0zm-1215 1zm3 0zm16 0zm86 0zm8 0zm416 0zm1 0zm688 0zm-1214 1zm18 0zm2 0zm3 0zm489 0zm32 0zm2 0zm2 0zm2 0zm88 0zm3 0zm573 0zm-1212 1zm3 0zm4 0zm1 0zm113 0zm392 0zm5 0zm15 0zm1 0zm117 0zm547 0zm9 0zm7 0zm16 0zm-1235 1zm16 0zm101 0zm425 0zm672 0zm0 0zm3 0zm18 0zm2 0zm-1134 1zm1 0zm25 0zm383 0zm25 0zm125 0zm556 0zm1 0zm-1228 1zm21 0zm7 0zm77 0zm7 0zm20 0zm491 0zm581 0zm47 0zm-1250 1zm551 0zm9 0zm3 0zm105 0zm539 0zm8 0zm7 0zm15 0zm2 0zm8 0zm-1245 1zm1 0zm27 0zm77 0zm424 0zm137 0zm543 0zm4 0zm7 0zm16 0zm-1116 1zm2 0zm440 0zm61 0zm29 0zm586 0zm-1129 1zm5 0zm436 0zm91 0zm-531 1zm7 0zm438 0zm84 0zm18 0zm-560 1zm35 0zm411 0zm13 0zm86 0zm-1 1zm-532 1zm17 0zm522 0zm-369 1zm355 0zm3 0zm19 0zm-558 1zm12 0zm4 0zm527 0zm-546 1zm26 0zm2 0zm4 0zm140 0zm5 0zm-180 1zm513 0zm11 0zm-503 1zm161 0zm9 0zm-187 1zm28 0zm4 0zm1 0zm8 0zm152 0zm338 0zm15 0zm-545 1zm170 0zm348 0zm9 0zm43 0zm-578 1zm31 0zm7 0zm139 0zm2 0zm4 0zm10 0zm368 0zm-551 1zm13 0zm6 0zm21 0zm147 0zm342 0zm43 0zm-575 1zm9 0zm10 0zm24 0zm143 0zm330 0zm16 0zm47 0zm803 0zm-1366 1zm154 0zm339 0zm60 0zm294 0zm2 0zm8 0zm0 0zm-881 1zm21 0zm518 0zm10 0zm10 0zm-551 1zm9 0zm20 0zm511 0zm25 0zm-563 1zm6 0zm30 0zm4 0zm126 0zm2 0zm10 0zm5 0zm9 0zm1180 0zm-1370 1zm30 0zm1 0zm144 0zm10 0zm324 0zm31 0zm329 0zm4 0zm494 0zm2 0zm2 0zm13 0zm6 0zm-1388 1zm4 0zm36 0zm144 0zm382 0zm295 0zm2 0zm7 0zm3 0zm499 0zm12 0zm1 0zm-1389 1zm4 0zm6 0zm38 0zm1 0zm510 0zm313 0zm512 0zm-1393 1zm27 0zm166 0zm330 0zm57 0zm5 0zm291 0zm506 0zm7 0zm11 0zm-1219 1zm12 0zm6 0zm337 0zm39 0zm302 0zm521 0zm-1381 1zm24 0zm18 0zm4 0zm110 0zm30 0zm317 0zm1 0zm2 0zm61 0zm286 0zm507 0zm21 0zm-1398 1zm28 0zm1 0zm1 0zm24 0zm132 0zm6 0zm361 0zm822 0zm7 0zm-1364 1zm8 0zm28 0zm121 0zm0 0zm4 0zm2 0zm9 0zm2 0zm358 0zm2 0zm836 0zm9 0zm-1361 1zm141 0zm355 0zm36 0zm313 0zm-692 1zm4 0zm682 0zm11 0zm1 0zm488 0zm27 0zm-1233 1zm18 0zm2 0zm2 0zm6 0zm8 0zm365 0zm822 0zm9 0zm2 0zm-1231 1zm36 0zm326 0zm348 0zm491 0zm25 0zm-1229 1zm4 0zm7 0zm25 0zm665 0zm504 0zm17 0zm-838 1zm10 0zm309 0zm505 0zm6 0zm13 0zm6 0zm-1229 1zm13 0zm19 0zm340 0zm6 0zm25 0zm300 0zm512 0zm-1204 1zm6 0zm5 0zm339 0zm32 0zm312 0zm4 0zm492 0zm7 0zm11 0zm4 0zm6 0zm-1238 1zm26 0zm1 0zm9 0zm373 0zm814 0zm1 0zm-1219 1zm35 0zm351 0zm321 0zm507 0zm12 0zm6 0zm-855 1zm17 0zm19 0zm292 0zm1 0zm12 0zm4 0zm516 0zm-879 1zm33 0zm830 0zm11 0zm-834 1zm301 0zm10 0zm7 0zm2 0zm604 0zm-945 1zm327 0zm6 0zm-353 1zm7 0zm38 0zm303 0zm-354 1zm977 0zm-918 1zm295 0zm616 0zm-613 1zm5 0zm7 0zm589 0zm-900 1zm294 0zm17 0zm-331 1zm302 0zm0 0zm16 0zm590 0zm-938 1zm34 0zm299 0zm5 0zm5 0zm20 0zm593 0zm8 0zm-950 1zm8 0zm316 0zm2 0zm613 0zm13 0zm6 0zm21 0zm-988 1zm2 0zm343 0zm7 0zm611 0zm-978 1zm63 0zm283 0zm6 0zm3 0zm0 0zm7 0zm11 0zm3 0zm626 0zm-992 1zm9 0zm24 0zm20 0zm307 0zm592 0zm-619 1zm16 0zm7 0zm589 0zm-955 1zm63 0zm313 0zm-372 1zm18 0zm961 0zm5 0zm-978 1zm19 0zm33 0zm897 0zm21 0zm-975 1zm41 0zm899 0zm61 0zm-1010 1zm60 0zm10 1zm901 0zm11 0zm15 0zm3 0zm-22 1zm-959 1zm972 0zm9 0zm-970 1zm20 0zm948 0zm-955 1zm14 0zm892 0zm7 0zm31 0zm3 0zm-928 1zm895 0zm36 0zm-937 1zm907 0zm39 0zm1 0zm-992 1zm33 0zm8 0zm2 0zm3 0zm884 0zm24 0zm15 0zm-980 1zm21 0zm955 0zm32 0zm-61 1zm11 0zm7 0zm26 0zm9 0zm7 0zm5 0zm-982 1zm36 0zm-39 1zm2 0zm12 0zm11 1zm-21 1zm29 0zm884 0zm41 0zm9 0zm-966 1zm20 0zm431 0zm473 0zm-945 1zm10 0zm25 0zm434 0zm-468 1zm6 0zm442 0zm19 0zm-467 1zm38 0zm26 0zm377 0zm502 0zm-950 1zm20 0zm12 0zm422 0zm4 0zm24 0zm462 0zm0 0zm53 0zm-996 1zm464 0zm2 0zm508 0zm2 0zm-951 1zm446 0zm477 0zm37 0zm-982 1zm446 0zm18 0zm3 0zm531 0zm3 0zm-999 1zm8 0zm438 0zm6 0zm489 0zm-887 1zm385 0zm22 0zm7 0zm489 0zm32 0zm-980 1zm434 0zm19 0zm0 0zm508 0zm35 0zm-995 1zm428 0zm42 0zm0 0zm459 0zm27 0zm33 0zm-529 1zm1 0zm8 0zm1 0zm505 0zm2 0zm5 0zm-557 1zm32 0zm508 0zm19 0zm3 0zm-998 1zm9 0zm11 0zm30 0zm393 0zm-419 1zm34 0zm399 0zm13 0zm3 0zm497 0zm29 0zm-1517 1zm9 0zm35 0zm928 0zm20 0zm487 0zm6 0zm-1484 1zm23 0zm16 0zm499 0zm5 0zm2 0zm6 0zm27 0zm0 0zm377 0zm19 0zm12 0zm10 0zm2 0zm466 0zm-1453 1zm37 0zm909 0zm3 0zm4 0zm5 0zm2 0zm1 0zm20 0zm3 0zm8 0zm449 0zm-1449 1zm51 0zm461 0zm43 0zm20 0zm374 0zm9 0zm36 0zm461 0zm35 0zm14 0zm-1506 1zm6 0zm4 0zm3 0zm4 0zm26 0zm482 0zm40 0zm397 0zm1 0zm1 0zm10 0zm13 0zm0 0zm475 0zm20 0zm18 0zm3 0zm13 0zm-1508 1zm17 0zm504 0zm424 0zm8 0zm36 0zm0 0zm1 0zm4 0zm450 0zm25 0zm38 0zm-1496 1zm4 0zm1 0zm19 0zm501 0zm3 0zm396 0zm1 0zm6 0zm3 0zm8 0zm4 0zm10 0zm7 0zm26 0zm476 0zm29 0zm-1511 1zm39 0zm908 0zm1 0zm23 0zm14 0zm5 0zm507 0zm6 0zm-1457 1zm906 0zm8 0zm8 0zm4 0zm3 0zm4 0zm-989 1zm12 0zm21 0zm26 0zm477 0zm2 0zm416 0zm17 0zm11 0zm33 0zm4 0zm470 0zm3 0zm17 0zm-1485 1zm12 0zm1 0zm914 0zm1 0zm25 0zm8 0zm1 0zm5 0zm13 0zm1 0zm10 0zm-993 1zm21 0zm4 0zm516 0zm15 0zm406 0zm-947 1zm919 0zm0 0zm4 0zm14 0zm7 0zm12 0zm3 0zm1 0zm0 0zm10 0zm4 0zm455 0zm43 0zm9 0zm9 0zm-1522 1zm28 0zm516 0zm9 0zm402 0zm5 0zm34 0zm3 0zm4 0zm454 0zm31 0zm18 0zm18 0zm-1612 1zm10 0zm8 0zm108 0zm497 0zm33 0zm9 0zm384 0zm0 0zm3 0zm6 0zm1 0zm10 0zm3 0zm0 0zm138 0zm15 0zm5 0zm5 0zm313 0zm12 0zm-1529 1zm72 0zm7 0zm15 0zm909 0zm7 0zm0 0zm2 0zm33 0zm14 0zm7 0zm125 0zm11 0zm6 0zm324 0zm-1544 1zm629 0zm397 0zm12 0zm13 0zm12 0zm1 0zm15 0zm3 0zm3 0zm101 0zm27 0zm317 0zm5 0zm27 0zm17 0zm4 0zm-1594 1zm23 0zm86 0zm14 0zm493 0zm413 0zm9 0zm9 0zm1 0zm6 0zm22 0zm118 0zm29 0zm1 0zm7 0zm318 0zm9 0zm16 0zm-1565 1zm5 0zm1 0zm491 0zm9 0zm39 0zm54 0zm427 0zm4 0zm0 0zm16 0zm14 0zm157 0zm6 0zm-1242 1zm28 0zm95 0zm8 0zm396 0zm2 0zm7 0zm11 0zm65 0zm432 0zm17 0zm10 0zm16 0zm14 0zm120 0zm11 0zm7 0zm-1237 1zm15 0zm96 0zm5 0zm8 0zm403 0zm31 0zm54 0zm421 0zm34 0zm6 0zm14 0zm6 0zm1 0zm118 0zm3 0zm7 0zm10 0zm4 0zm312 0zm63 0zm-1505 1zm14 0zm6 0zm420 0zm91 0zm406 0zm19 0zm9 0zm0 0zm7 0zm131 0zm15 0zm19 0zm305 0zm10 0zm22 0zm-1575 1zm6 0zm86 0zm4 0zm1 0zm8 0zm412 0zm0 0zm18 0zm7 0zm6 0zm486 0zm2 0zm12 0zm1 0zm22 0zm15 0zm11 0zm134 0zm310 0zm-1534 1zm82 0zm12 0zm7 0zm12 0zm173 0zm249 0zm5 0zm6 0zm85 0zm392 0zm4 0zm4 0zm5 0zm14 0zm28 0zm116 0zm11 0zm26 0zm325 0zm14 0zm-1557 1zm77 0zm5 0zm30 0zm2 0zm124 0zm1 0zm1 0zm4 0zm1 0zm7 0zm11 0zm10 0zm226 0zm21 0zm80 0zm424 0zm11 0zm12 0zm8 0zm1 0zm1 0zm0 0zm131 0zm5 0zm26 0zm316 0zm1 0zm5 0zm6 0zm-1571 1zm106 0zm1 0zm5 0zm4 0zm5 0zm14 0zm3 0zm113 0zm39 0zm257 0zm495 0zm2 0zm8 0zm2 0zm5 0zm13 0zm0 0zm24 0zm1 0zm0 0zm130 0zm332 0zm0 0zm12 0zm1 0zm12 0zm5 0zm-1588 1zm119 0zm9 0zm155 0zm364 0zm400 0zm1 0zm3 0zm6 0zm30 0zm503 0zm1 0zm1 0zm11 0zm-1584 1zm233 0zm37 0zm261 0zm7 0zm499 0zm4 0zm5 0zm145 0zm1 0zm26 0zm332 0zm3 0zm1 0zm10 0zm2 0zm17 0zm-1506 1zm33 0zm140 0zm8 0zm257 0zm534 0zm4 0zm2 0zm7 0zm129 0zm16 0zm4 0zm-1217 1zm0 0zm5 0zm78 0zm174 0zm6 0zm268 0zm509 0zm7 0zm4 0zm8 0zm133 0zm11 0zm12 0zm339 0zm22 0zm6 0zm1 0zm6 0zm-1596 1zm16 0zm236 0zm5 0zm3 0zm12 0zm1 0zm13 0zm245 0zm515 0zm15 0zm141 0zm2 0zm348 0zm-1557 1zm1 0zm2 0zm94 0zm189 0zm243 0zm20 0zm494 0zm4 0zm8 0zm3 0zm4 0zm1 0zm24 0zm143 0zm315 0zm10 0zm-1456 1zm164 0zm10 0zm243 0zm6 0zm526 0zm15 0zm0 0zm13 0zm1 0zm140 0zm332 0zm16 0zm19 0zm3 0zm20 0zm-1594 1zm96 0zm5 0zm5 0zm3 0zm3 0zm144 0zm1 0zm1 0zm249 0zm1049 0zm-1555 1zm7 0zm86 0zm171 0zm10 0zm232 0zm17 0zm9 0zm524 0zm149 0zm11 0zm313 0zm22 0zm11 0zm-1566 1zm119 0zm143 0zm5 0zm2 0zm680 0zm13 0zm10 0zm88 0zm10 0zm1 0zm465 0zm28 0zm2 0zm0 0zm32 0zm-1599 1zm265 0zm2 0zm6 0zm664 0zm3 0zm0 0zm13 0zm2 0zm1 0zm1 0zm2 0zm5 0zm2 0zm106 0zm466 0zm2 0zm32 0zm6 0zm-1578 1zm7 0zm255 0zm247 0zm12 0zm0 0zm439 0zm0 0zm4 0zm1 0zm91 0zm16 0zm-1065 1zm250 0zm0 0zm4 0zm700 0zm5 0zm84 0zm539 0zm-1321 1zm248 0zm449 0zm94 0zm13 0zm128 0zm18 0zm-694 1zm11 0zm412 0zm3 0zm8 0zm7 0zm89 0zm5 0zm2 0zm143 0zm331 0zm2 0zm12 0zm6 0zm-511 1zm7 0zm13 0zm144 0zm340 0zm11 0zm15 0zm-1316 1zm2 0zm5 0zm1180 0zm4 0zm21 0zm19 0zm59 0zm10 0zm21 0zm-1305 1zm241 0zm23 0zm415 0zm504 0zm12 0zm119 0zm-635 1zm489 0zm16 0zm19 0zm7 0zm3 0zm91 0zm-1049 1zm1 0zm3 0zm411 0zm499 0zm32 0zm68 0zm17 0zm-615 1zm4 0zm497 0zm3 0zm9 0zm22 0zm-951 1zm938 0zm-950 2zm14 0zm919 0zm1 2zm3 0zm22 0zm3 0zm-6 2zm-18 2zm-434 15zm1 0zm0 0zm1 0zm3 0zm0 0zm1 0zm1 0zm2 0zm0 0zm0 0zm0 0zm1 0zm0 0zm5 0zm1 0zm0 0zm1 0zm1 0zm1 0zm2 0zm1 0zm1 0zm1 0zm0 0zm2 0zm0 0zm1 0zm1 0zm2 0zm1 0zm1 0zm3 0zm0 0zm1 0zm1 0zm6 0zm1 0zm0 0zm0 0zm1 0zm1 0zm1 0zm1 0zm7 0zm1 0zm1 0zm0 0zm2 0zm1 0zm1 0zm1 0zm219 0zm12 0zm1 0zm8 0zm4 0zm231 0zm4 0zm4 0zm6 0zm3 0zm-1048 289zm-5 1zm3 0zm-3 1zm3 0zm-7 1zm7 0zm3 3zm431 1zm2 0zm-448 1zm447 0zm3 0zm-428 1zm6 0zm-32 1zm3 0zm5 0zm442 0zm-6 1zm-936 1zm496 0zm21 0zm6 0zm-526 2zm521 0zm0 0zm421 0zm-436 1zm5 0zm-245 1zm259 0zm408 0zm-945 1zm0 0zm19 0zm522 0zm-33 1zm29 0zm-272 1zm8 0zm235 0zm-507 2zm255 0zm13 0zm251 0zm24 0zm410 0zm-957 1zm286 0zm248 0zm-273 1zm242 0zm23 0zm6 0zm0 0zm9 0zm6 0zm414 0zm-951 1zm10 0zm498 0zm1 0zm26 0zm425 0zm-968 1zm3 0zm15 0zm249 0zm20 0zm233 0zm424 0zm2 0zm-927 1zm235 0zm22 0zm9 0zm1 0zm-265 1zm253 0zm12 0zm657 0zm-920 1zm239 0zm21 0zm8 0zm-297 1zm24 0zm260 0zm663 0zm3 0zm-937 1zm3 0zm7 0zm250 0zm10 0zm1 0zm1 0zm3 0zm1 0zm10 0zm662 0zm15 0zm-715 1zm28 0zm-288 1zm24 0zm6 0zm3 0zm231 0zm688 0zm-927 1zm250 0zm2 0zm17 0zm1 0zm657 0zm-953 1zm16 0zm254 0zm5 0zm8 0zm6 0zm8 0zm658 0zm15 0zm0 0zm-699 1zm1 0zm4 0zm18 0zm653 0zm17 0zm3 0zm4 0zm-714 1zm13 0zm680 0zm4 0zm-672 1zm679 0zm14 0zm252 8zm-1121 1zm30 2zm-13 1zm1086 1zm0 0zm7 0zm18 0zm1 0zm-1114 1zm14 0zm-34 1zm26 0zm7 0zm1346 0zm-1360 1zm1117 0zm-1117 1zm1104 0zm-1097 1zm3 0zm1081 0zm16 0zm4 0zm245 0zm-268 1zm28 0zm238 0zm-1358 1zm1366 0zm-1352 1zm1097 0zm249 0zm-1344 1zm1085 0zm11 0zm250 0zm-1363 1zm1092 0zm17 0zm12 0zm-1146 1zm5 0zm3 0zm18 0zm946 0zm142 0zm26 0zm-1132 1zm1125 0zm-1137 1zm22 0zm4 0zm32 0zm924 0zm4 0zm135 0zm7 0zm23 0zm235 0zm4 0zm-1351 1zm516 0zm433 0zm401 0zm-420 1zm13 0zm132 0zm19 0zm12 0zm255 0zm-866 1zm434 0zm21 0zm149 0zm237 0zm-1354 1zm4 0zm3 0zm14 0zm519 0zm430 0zm124 0zm7 0zm1 0zm2 0zm-1109 1zm535 0zm571 0zm9 0zm10 0zm6 0zm232 0zm-1329 1zm16 0zm1 0zm1044 0zm26 0zm252 0zm2 0zm-1380 1zm18 0zm546 0zm395 0zm407 0zm-809 1zm408 0zm402 0zm25 0zm-416 1zm390 0zm9 0zm-848 1zm437 0zm396 0zm3 0zm18 0zm-873 1zm47 0zm402 0zm411 0zm-1 1zm19 0zm7 0zm-850 1zm420 0zm7 0zm5 0zm414 0zm-876 1zm5 0zm25 0zm818 0zm15 0zm-869 1zm30 0zm449 0zm4 0zm369 0zm16 0zm6 0zm2 0zm-436 1zm33 0zm384 0zm3 0zm-817 1zm415 0zm393 1zm5 0zm3 0zm-817 1zm394 0zm420 0zm12 0zm22 0zm-829 1zm413 0zm375 0zm20 0zm0 0zm24 0zm-856 2zm8 0zm408 0zm15 0zm418 0zm3 0zm3 0zm-897 1zm32 0zm30 0zm403 0zm-441 1zm32 0zm382 0zm48 0zm368 0zm24 0zm-859 1zm434 0zm20 0zm388 0zm3 0zm2 0zm-813 1zm402 0zm13 0zm-451 1zm8 0zm19 0zm390 0zm50 0zm-460 1zm413 0zm11 0zm30 0zm11 0zm-488 1zm62 0zm372 0zm-430 1zm4 0zm29 0zm28 0zm393 0zm19 0zm1 0zm11 0zm-476 1zm20 0zm405 0zm12 0zm1 0zm27 0zm13 0zm1 0zm-436 1zm380 0zm40 0zm-466 1zm10 0zm44 0zm366 0zm7 0zm1 0zm13 0zm-442 1zm9 0zm1 0zm5 0zm11 0zm429 0zm22 0zm6 0zm-431 1zm376 0zm1 0zm6 0zm34 0zm-34 1zm30 0zm18 0zm-449 1zm7 0zm383 0zm5 0zm15 0zm13 0zm-464 1zm20 0zm19 0zm423 0zm23 0zm5 0zm3 0zm-476 1zm10 0zm25 0zm396 0zm31 0zm14 0zm-463 1zm12 0zm390 0zm14 0zm0 0zm10 0zm33 0zm-427 1zm383 0zm5 0zm14 0zm27 0zm5 0zm-487 1zm22 0zm4 0zm6 0zm-45 1zm38 0zm31 0zm367 0zm1 0zm27 0zm-426 1zm1 0zm8 0zm438 0zm-416 1zm370 0zm17 0zm20 0zm5 0zm10 0zm-447 1zm387 0zm37 0zm4 0zm7 0zm-480 1zm71 0zm360 0zm15 0zm6 0zm11 0zm8 0zm16 0zm-474 1zm56 0zm-38 1zm8 0zm1 0zm20 1zm8 0zm-61 1zm24 1zm8 0zm15 0zm-49 1zm36 0zm-34 1zm50 0zm-48 1zm10 0zm35 0zm9 0zm0 0zm891 0zm2 0zm2 0zm22 1zm7 0zm-1321 1zm22 0zm2 0zm311 0zm17 0zm4 0zm37 0zm920 0zm-1307 1zm25 0zm358 0zm917 0zm8 0zm-1321 1zm22 0zm335 0zm39 0zm13 0zm887 0zm35 0zm-981 1zm9 0zm51 0zm881 0zm33 0zm-1314 1zm15 0zm342 0zm5 0zm953 0zm-1319 1zm12 0zm11 0zm1 0zm1282 0zm1 0zm-1304 1zm27 0zm345 0zm8 0zm913 0zm-1286 1zm1 0zm367 0zm916 0zm16 0zm17 0zm-1304 1zm1308 0zm-1307 1zm9 0zm1263 0zm16 0zm11 0zm4 0zm-971 1zm3 0zm8 0zm931 0zm-1288 1zm6 0zm12 0zm1262 0zm39 0zm-1317 1zm12 0zm1288 0zm18 0zm-1328 1zm9 0zm354 0zm25 0zm931 0zm6 0zm2 0zm1 0zm10 0zm-1333 1zm15 0zm344 0zm982 0zm-1003 1zm5 0zm15 0zm-342 1zm1283 0zm25 0zm-31 1zm5 0zm18 0zm-378 2zm342 0zm16 0zm1 0zm-353 1zm9 0zm9 0zm0 0zm361 0zm7 0zm-1079 1zm683 0zm20 0zm378 0zm-1065 1zm7 0zm686 0zm341 0zm-1057 1zm1 0zm27 0zm659 0zm5 0zm13 0zm6 0zm17 0zm3 0zm0 0zm309 0zm13 0zm36 0zm-1048 1zm646 0zm11 0zm11 0zm361 0zm-1074 1zm695 0zm15 0zm8 0zm324 0zm11 0zm13 0zm-1060 1zm1 0zm24 0zm681 0zm346 0zm-1021 1zm2 0zm663 0zm21 0zm1 0zm346 0zm23 0zm-1063 1zm684 0zm11 0zm309 0zm-1459 1zm3 0zm26 0zm436 0zm666 0zm0 0zm351 0zm30 0zm1 0zm-1484 1zm16 0zm17 0zm368 0zm18 0zm10 0zm3 0zm675 0zm12 0zm0 0zm7 0zm348 0zm-1503 1zm23 0zm12 0zm6 0zm395 0zm13 0zm693 0zm331 0zm55 0zm-1490 1zm27 0zm365 0zm696 0zm334 0zm29 0zm4 0zm20 0zm-1513 1zm43 0zm398 0zm16 0zm665 0zm340 0zm49 0zm9 0zm-1491 1zm23 0zm3 0zm379 0zm9 0zm549 0zm7 0zm15 0zm121 0zm16 0zm331 0zm15 0zm5 0zm-1488 1zm7 0zm36 0zm376 0zm17 0zm495 0zm1 0zm1 0zm31 0zm155 0zm3 0zm340 0zm-1467 1zm2 0zm13 0zm40 0zm378 0zm18 0zm487 0zm27 0zm13 0zm14 0zm482 0zm6 0zm6 0zm-1494 1zm19 0zm9 0zm9 0zm406 0zm509 0zm15 0zm21 0zm479 0zm30 0zm12 0zm-1484 1zm37 0zm887 0zm17 0zm38 0zm119 0zm335 0zm18 0zm23 0zm-552 1zm8 0zm3 0zm13 0zm5 0zm32 0zm461 0zm-1446 1zm0 0zm8 0zm1 0zm14 0zm939 0zm156 0zm5 0zm317 0zm10 0zm32 0zm2 0zm13 0zm-1502 1zm21 0zm391 0zm549 0zm28 0zm476 0zm3 0zm-1464 1zm418 0zm532 0zm5 0zm15 0zm2 0zm6 0zm143 0zm317 0zm8 0zm7 0zm15 0zm30 0zm-1493 1zm33 0zm893 0zm12 0zm14 0zm24 0zm461 0zm6 0zm2 0zm10 0zm18 0zm20 0zm6 0zm-1520 1zm0 0zm15 0zm10 0zm4 0zm6 0zm3 0zm402 0zm4 0zm1 0zm5 0zm502 0zm8 0zm4 0zm15 0zm18 0zm4 0zm133 0zm344 0zm9 0zm15 0zm-1483 1zm1460 0zm23 0zm13 0zm5 0zm-1472 1zm0 0zm1095 0zm323 0zm7 0zm0 0zm13 0zm-1578 1zm1 0zm1 0zm130 0zm386 0zm1044 0zm20 0zm14 0zm-1497 1zm22 0zm412 0zm1030 0zm36 0zm3 0zm-1598 1zm0 0zm3 0zm1 0zm1 0zm13 0zm98 0zm413 0zm679 0zm9 0zm366 0zm1 0zm3 0zm7 0zm-1458 1zm380 0zm-519 1zm1 0zm93 0zm21 0zm0 0zm15 0zm3 0zm1 0zm1082 0zm8 0zm318 0zm56 0zm-1597 1zm113 0zm16 0zm409 0zm1004 0zm7 0zm28 0zm-1575 1zm2 0zm1 0zm13 0zm6 0zm1 0zm6 0zm71 0zm432 0zm1044 0zm-1556 1zm102 0zm1423 0zm-1450 1zm1456 0zm2 0zm6 0zm22 0zm-1484 1zm20 0zm6 0zm1447 0zm9 0zm28 0zm-1587 1zm77 0zm34 0zm386 0zm1021 0zm69 0zm-1605 1zm4 0zm4 0zm4 0zm102 0zm11 0zm405 0zm3 0zm1016 0zm33 0zm3 0zm0 0zm-1454 1zm1460 0zm-1479 1zm16 0zm1424 0zm7 0zm43 0zm3 1zm-1603 1zm1053 0zm16 0zm6 0zm12 0zm452 0zm18 0zm22 0zm4 0zm13 0zm-574 1zm9 0zm24 0zm18 0zm8 0zm454 0zm20 0zm-1552 1zm1045 0zm1 0zm9 0zm480 0zm42 0zm-1574 1zm6 0zm1009 0zm534 0zm22 0zm7 0zm1 0zm-1585 1zm1027 0zm46 0zm495 0zm-541 1zm12 0zm4 0zm0 0zm26 0zm477 0zm1 0zm40 0zm0 0zm3 0zm-564 1zm1 0zm32 0zm21 0zm458 0zm35 0zm3 0zm-530 1zm1 0zm1 0zm5 0zm13 0zm495 0zm3 0zm-1553 1zm1540 0zm-498 1zm4 0zm512 0zm31 0zm-1598 1zm6 0zm1 0zm943 0zm20 0zm111 0zm502 0zm-637 1zm18 0zm64 0zm-79 1zm9 0zm85 0zm5 0zm18 0zm498 0zm7 0zm-605 1zm82 0zm4 0zm541 0zm-548 1zm1 0zm501 0zm15 0zm17 0zm12 0zm-633 2zm-3 1zm9 0zm0 1zm-9 1zm-8 1zm2 0zm118 0zm388 0zm26 0zm-523 1zm492 0zm18 0zm15 0zm-32 2zm11 0zm23 1zm-18 1zm-15 1zm23 0zm4 0zm-24 1zm15 0zm6 0zm-30 2zm15 0zm-4 2zm21 0zm-14 1zm-8 3zm5 0zm15 0zm2 0zm-21 1zm7 0zm6 1zm8 2zm7 0zm-443 1zm5 0zm1 0zm4 0zm2 0zm1 0zm1 0zm0 0zm2 0zm2 0zm1 0zm1 0zm0 0zm2 0zm1 0zm1 0zm384 0zm14 0zm4 0zm70 0zm7 0zm0 0zm3 0zm1 0zm6 0zm0 0zm1 0zm2 0zm0 0zm1 0zm0 0zm1 0zm3 0zm2 0zm0 0zm3 0zm4 0zm1 0zm4 0zm3 0zm10 0z" stroke="#0a0505" stroke-opacity="0.2" stroke-width="2.1" stroke-linecap="round" fill="none"/>
<path transform="translate(.3 .3)" d="m186 225zm2 0zm7 0zm3 0zm-22 1zm12 0zm12 0zm6 1zm-19 1zm26 0zm3 0zm-30 1zm4 0zm-11 1zm3 0zm4 0zm10 0zm3 0zm4 0zm-29 1zm12 0zm10 0zm5 0zm8 0zm1 0zm-31 1zm3 0zm13 0zm15 0zm0 0zm-36 1zm20 0zm919 0zm18 0zm-958 1zm17 0zm21 0zm911 0zm22 0zm4 0zm9 0zm-988 1zm2 0zm3 0zm5 0zm8 0zm15 0zm18 0zm927 0zm4 0zm-969 1zm18 0zm0 0zm6 0zm8 0zm668 0zm232 0zm20 0zm1 0zm6 0zm10 0zm-963 1zm24 0zm1 0zm11 0zm667 0zm225 0zm25 0zm7 0zm-979 1zm3 0zm29 0zm17 0zm893 0zm14 0zm12 0zm0 0zm12 0zm-983 1zm10 0zm29 0zm19 0zm0 0zm630 0zm15 0zm24 0zm219 0zm30 0zm-972 1zm16 0zm0 0zm0 0zm29 0zm2 0zm0 0zm637 0zm11 0zm9 0zm0 0zm237 0zm1 0zm38 0zm-979 1zm8 0zm13 0zm10 0zm2 0zm4 0zm649 0zm17 0zm3 0zm0 0zm242 0zm6 0zm28 0zm-985 1zm5 0zm12 0zm14 0zm1 0zm663 0zm21 0zm2 0zm2 0zm223 0zm16 0zm5 0zm4 0zm4 0zm4 0zm-960 1zm15 0zm1 0zm3 0zm2 0zm2 0zm10 0zm657 0zm1 0zm16 0zm221 0zm7 0zm3 0zm6 0zm10 0zm13 0zm3 0zm10 0zm1 0zm-994 1zm0 0zm2 0zm44 0zm2 0zm6 0zm650 0zm10 0zm228 0zm6 0zm11 0zm19 0zm-971 1zm29 0zm651 0zm1 0zm5 0zm8 0zm265 0zm8 0zm9 0zm-987 1zm16 0zm7 0zm5 0zm5 0zm3 0zm5 0zm5 0zm4 0zm11 0zm629 0zm2 0zm14 0zm3 0zm19 0zm231 0zm1 0zm18 0zm10 0zm2 0zm-990 1zm23 0zm0 0zm11 0zm8 0zm2 0zm6 0zm1 0zm11 0zm627 0zm19 0zm6 0zm230 0zm30 0zm-980 1zm16 0zm36 0zm663 0zm6 0zm1 0zm221 0zm37 0zm-975 1zm1 0zm2 0zm9 0zm19 0zm27 0zm1 0zm4 0zm640 0zm25 0zm209 0zm22 0zm12 0zm5 0zm3 0zm3 0zm-984 1zm4 0zm3 0zm1 0zm1 0zm15 0zm12 0zm2 0zm2 0zm4 0zm11 0zm4 0zm1 0zm656 0zm4 0zm1 0zm11 0zm209 0zm21 0zm3 0zm2 0zm15 0zm21 0zm1 0zm-1006 1zm23 0zm6 0zm0 0zm22 0zm648 0zm4 0zm10 0zm21 0zm210 0zm4 0zm5 0zm28 0zm11 0zm648 0zm-1638 1zm8 0zm13 0zm16 0zm12 0zm9 0zm640 0zm25 0zm6 0zm0 0zm220 0zm10 0zm4 0zm11 0zm8 0zm7 0zm11 0zm3 0zm2 0zm601 0zm26 0zm14 0zm9 0zm-1654 1zm1 0zm23 0zm16 0zm7 0zm7 0zm5 0zm3 0zm4 0zm627 0zm13 0zm28 0zm219 0zm17 0zm12 0zm3 0zm6 0zm0 0zm10 0zm638 0zm11 0zm1 0zm-1651 1zm8 0zm2 0zm2 0zm4 0zm6 0zm1 0zm6 0zm2 0zm0 0zm2 0zm17 0zm0 0zm14 0zm620 0zm0 0zm10 0zm9 0zm240 0zm1 0zm3 0zm10 0zm46 0zm599 0zm5 0zm16 0zm23 0zm-1641 1zm7 0zm7 0zm0 0zm3 0zm5 0zm3 0zm8 0zm4 0zm5 0zm4 0zm11 0zm5 0zm622 0zm14 0zm4 0zm16 0zm3 0zm213 0zm10 0zm3 0zm10 0zm8 0zm16 0zm619 0zm32 0zm1 0zm7 0zm5 0zm-1640 1zm14 0zm2 0zm4 0zm14 0zm15 0zm1 0zm3 0zm1 0zm619 0zm8 0zm8 0zm251 0zm0 0zm2 0zm17 0zm635 0zm55 0zm-1660 1zm20 0zm3 0zm6 0zm3 0zm7 0zm2 0zm10 0zm7 0zm633 0zm6 0zm5 0zm8 0zm3 0zm223 0zm9 0zm28 0zm26 0zm627 0zm35 0zm-1665 1zm9 0zm7 0zm0 0zm20 0zm5 0zm1 0zm3 0zm4 0zm2 0zm12 0zm639 0zm26 0zm13 0zm215 0zm6 0zm11 0zm1 0zm3 0zm12 0zm4 0zm11 0zm601 0zm43 0zm11 0zm3 0zm1 0zm-1663 1zm1 0zm9 0zm10 0zm2 0zm9 0zm10 0zm14 0zm1 0zm2 0zm6 0zm633 0zm269 0zm3 0zm3 0zm5 0zm1 0zm5 0zm9 0zm2 0zm14 0zm624 0zm21 0zm-1647 1zm10 0zm11 0zm2 0zm31 0zm11 0zm616 0zm1 0zm17 0zm1 0zm3 0zm253 0zm11 0zm31 0zm623 0zm13 0zm-1634 1zm3 0zm0 0zm2 0zm0 0zm9 0zm26 0zm0 0zm13 0zm1 0zm3 0zm6 0zm0 0zm0 0zm645 0zm8 0zm12 0zm207 0zm7 0zm0 0zm17 0zm9 0zm33 0zm598 0zm19 0zm29 0zm10 0zm-1657 1zm7 0zm17 0zm16 0zm23 0zm639 0zm12 0zm223 0zm1 0zm2 0zm3 0zm6 0zm49 0zm615 0zm13 0zm4 0zm13 0zm13 0zm-1661 1zm3 0zm10 0zm7 0zm9 0zm0 0zm7 0zm4 0zm1 0zm9 0zm8 0zm10 0zm0 0zm624 0zm7 0zm2 0zm14 0zm6 0zm16 0zm206 0zm0 0zm1 0zm0 0zm4 0zm17 0zm17 0zm0 0zm10 0zm5 0zm7 0zm2 0zm595 0zm65 0zm1 0zm-1664 1zm0 0zm1 0zm4 0zm1 0zm1 0zm6 0zm0 0zm7 0zm41 0zm632 0zm5 0zm1 0zm32 0zm221 0zm0 0zm5 0zm7 0zm35 0zm601 0zm6 0zm17 0zm4 0zm6 0zm17 0zm-1652 1zm20 0zm4 0zm6 0zm15 0zm3 0zm7 0zm1 0zm4 0zm2 0zm636 0zm21 0zm0 0zm2 0zm4 0zm218 0zm4 0zm40 0zm614 0zm8 0zm41 0zm-1651 1zm7 0zm10 0zm4 0zm6 0zm10 0zm3 0zm5 0zm10 0zm8 0zm0 0zm627 0zm1 0zm9 0zm1 0zm6 0zm5 0zm8 0zm4 0zm10 0zm205 0zm24 0zm2 0zm1 0zm640 0zm6 0zm1 0zm33 0zm8 0zm6 0zm7 0zm-1655 1zm4 0zm1 0zm14 0zm9 0zm15 0zm12 0zm4 0zm0 0zm617 0zm2 0zm3 0zm2 0zm27 0zm16 0zm201 0zm33 0zm11 0zm618 0zm20 0zm12 0zm13 0zm1 0zm1 0zm11 0zm5 0zm-1651 1zm7 0zm4 0zm6 0zm0 0zm3 0zm2 0zm5 0zm1 0zm10 0zm7 0zm622 0zm14 0zm28 0zm222 0zm19 0zm39 0zm625 0zm4 0zm20 0zm6 0zm3 0zm4 0zm-1656 1zm0 0zm9 0zm11 0zm8 0zm5 0zm2 0zm1 0zm0 0zm2 0zm3 0zm0 0zm5 0zm9 0zm3 0zm622 0zm1 0zm10 0zm8 0zm5 0zm31 0zm244 0zm9 0zm632 0zm26 0zm0 0zm2 0zm13 0zm-1616 1zm4 0zm84 0zm579 0zm12 0zm221 0zm9 0zm2 0zm16 0zm11 0zm9 0zm10 0zm609 0zm16 0zm20 0zm6 0zm8 0zm0 0zm-1669 1zm2 0zm3 0zm8 0zm1 0zm6 0zm0 0zm3 0zm7 0zm3 0zm5 0zm12 0zm3 0zm5 0zm52 0zm42 0zm6 0zm2 0zm129 0zm418 0zm9 0zm7 0zm1 0zm6 0zm214 0zm10 0zm4 0zm12 0zm11 0zm10 0zm3 0zm6 0zm1 0zm612 0zm40 0zm-1648 1zm12 0zm7 0zm0 0zm3 0zm10 0zm2 0zm16 0zm50 0zm11 0zm9 0zm46 0zm112 0zm2 0zm9 0zm1 0zm7 0zm13 0zm364 0zm4 0zm30 0zm0 0zm27 0zm6 0zm195 0zm13 0zm2 0zm21 0zm11 0zm6 0zm8 0zm600 0zm11 0zm17 0zm-1631 1zm5 0zm3 0zm10 0zm0 0zm1 0zm1 0zm2 0zm2 0zm11 0zm2 0zm1 0zm3 0zm2 0zm6 0zm2 0zm8 0zm67 0zm147 0zm41 0zm3 0zm364 0zm36 0zm2 0zm5 0zm4 0zm9 0zm1 0zm210 0zm17 0zm15 0zm14 0zm13 0zm593 0zm27 0zm5 0zm17 0zm4 0zm6 0zm4 0zm2 0zm2 0zm-1658 1zm17 0zm21 0zm6 0zm0 0zm2 0zm3 0zm8 0zm41 0zm13 0zm1 0zm1 0zm2 0zm150 0zm2 0zm20 0zm9 0zm1 0zm16 0zm384 0zm23 0zm12 0zm8 0zm192 0zm3 0zm14 0zm0 0zm6 0zm37 0zm4 0zm5 0zm599 0zm10 0zm23 0zm6 0zm-1633 1zm2 0zm6 0zm19 0zm11 0zm4 0zm2 0zm3 0zm1 0zm1 0zm5 0zm36 0zm6 0zm2 0zm18 0zm15 0zm124 0zm12 0zm17 0zm4 0zm10 0zm9 0zm364 0zm3 0zm3 0zm13 0zm6 0zm12 0zm12 0zm8 0zm4 0zm1 0zm194 0zm17 0zm3 0zm5 0zm5 0zm0 0zm1 0zm7 0zm0 0zm20 0zm9 0zm593 0zm13 0zm4 0zm1 0zm1 0zm37 0zm9 0zm-1645 1zm6 0zm10 0zm3 0zm2 0zm3 0zm13 0zm4 0zm1 0zm48 0zm1 0zm34 0zm7 0zm2 0zm113 0zm1 0zm19 0zm6 0zm12 0zm4 0zm3 0zm13 0zm354 0zm1 0zm2 0zm10 0zm5 0zm1 0zm42 0zm218 0zm9 0zm644 0zm2 0zm1 0zm22 0zm23 0zm-1647 1zm15 0zm3 0zm8 0zm5 0zm1 0zm23 0zm59 0zm24 0zm133 0zm12 0zm13 0zm0 0zm8 0zm366 0zm21 0zm1 0zm0 0zm7 0zm7 0zm12 0zm17 0zm196 0zm13 0zm6 0zm4 0zm19 0zm13 0zm648 0zm1 0zm-1646 1zm43 0zm6 0zm7 0zm1 0zm5 0zm0 0zm63 0zm20 0zm7 0zm3 0zm3 0zm7 0zm107 0zm0 0zm2 0zm4 0zm18 0zm24 0zm358 0zm5 0zm20 0zm0 0zm16 0zm13 0zm207 0zm2 0zm7 0zm3 0zm10 0zm4 0zm11 0zm21 0zm4 0zm4 0zm1 0zm605 0zm17 0zm5 0zm3 0zm4 0zm1 0zm2 0zm8 0zm-1654 1zm1 0zm7 0zm0 0zm10 0zm15 0zm4 0zm23 0zm4 0zm38 0zm10 0zm0 0zm29 0zm12 0zm9 0zm109 0zm17 0zm4 0zm12 0zm21 0zm3 0zm383 0zm3 0zm6 0zm1 0zm219 0zm3 0zm2 0zm17 0zm38 0zm4 0zm598 0zm10 0zm22 0zm2 0zm8 0zm7 0zm11 0zm-1656 1zm6 0zm36 0zm66 0zm6 0zm3 0zm16 0zm17 0zm113 0zm25 0zm1 0zm24 0zm11 0zm354 0zm6 0zm23 0zm7 0zm23 0zm2 0zm198 0zm14 0zm7 0zm5 0zm1 0zm8 0zm3 0zm21 0zm8 0zm0 0zm593 0zm34 0zm3 0zm21 0zm4 0zm4 0zm-1657 1zm7 0zm2 0zm18 0zm9 0zm2 0zm2 0zm1 0zm4 0zm59 0zm1 0zm3 0zm3 0zm11 0zm138 0zm7 0zm5 0zm10 0zm23 0zm365 0zm5 0zm22 0zm6 0zm10 0zm11 0zm2 0zm6 0zm0 0zm196 0zm11 0zm5 0zm15 0zm6 0zm9 0zm18 0zm3 0zm592 0zm26 0zm-1615 1zm3 0zm6 0zm10 0zm6 0zm2 0zm3 0zm27 0zm2 0zm64 0zm27 0zm5 0zm109 0zm17 0zm8 0zm3 0zm2 0zm17 0zm4 0zm377 0zm1 0zm14 0zm2 0zm5 0zm15 0zm206 0zm5 0zm6 0zm11 0zm9 0zm23 0zm621 0zm2 0zm37 0zm-1655 1zm6 0zm6 0zm10 0zm7 0zm5 0zm8 0zm10 0zm1 0zm11 0zm42 0zm8 0zm6 0zm13 0zm27 0zm1 0zm3 0zm95 0zm29 0zm5 0zm15 0zm0 0zm9 0zm7 0zm359 0zm6 0zm5 0zm16 0zm36 0zm207 0zm7 0zm14 0zm16 0zm7 0zm0 0zm603 0zm6 0zm2 0zm1 0zm17 0zm8 0zm15 0zm10 0zm-1662 1zm9 0zm5 0zm2 0zm10 0zm21 0zm12 0zm3 0zm48 0zm23 0zm17 0zm7 0zm7 0zm8 0zm96 0zm4 0zm4 0zm24 0zm9 0zm2 0zm7 0zm6 0zm359 0zm10 0zm0 0zm2 0zm27 0zm4 0zm220 0zm5 0zm3 0zm2 0zm39 0zm0 0zm7 0zm8 0zm608 0zm44 0zm-1663 1zm15 0zm2 0zm3 0zm6 0zm17 0zm2 0zm70 0zm6 0zm14 0zm30 0zm3 0zm103 0zm2 0zm10 0zm22 0zm9 0zm8 0zm364 0zm1 0zm2 0zm9 0zm0 0zm2 0zm2 0zm10 0zm1 0zm1 0zm22 0zm204 0zm8 0zm2 0zm25 0zm3 0zm1 0zm627 0zm16 0zm31 0zm11 0zm0 0zm2 0zm-1663 1zm10 0zm9 0zm24 0zm2 0zm7 0zm11 0zm1 0zm85 0zm21 0zm93 0zm13 0zm11 0zm2 0zm12 0zm12 0zm5 0zm10 0zm351 0zm25 0zm3 0zm2 0zm5 0zm28 0zm200 0zm5 0zm10 0zm0 0zm5 0zm2 0zm11 0zm3 0zm0 0zm1 0zm23 0zm594 0zm26 0zm9 0zm25 0zm2 0zm5 0zm-1658 1zm4 0zm1 0zm3 0zm1 0zm3 0zm1 0zm7 0zm5 0zm27 0zm44 0zm21 0zm4 0zm12 0zm3 0zm15 0zm104 0zm0 0zm7 0zm11 0zm12 0zm16 0zm10 0zm3 0zm7 0zm363 0zm2 0zm6 0zm4 0zm3 0zm0 0zm7 0zm11 0zm1 0zm4 0zm2 0zm3 0zm228 0zm13 0zm8 0zm11 0zm613 0zm19 0zm4 0zm1 0zm3 0zm15 0zm4 0zm7 0zm2 0zm-1650 1zm8 0zm4 0zm0 0zm5 0zm1 0zm1 0zm14 0zm2 0zm14 0zm3 0zm37 0zm9 0zm15 0zm7 0zm6 0zm11 0zm0 0zm20 0zm93 0zm9 0zm3 0zm6 0zm2 0zm3 0zm7 0zm8 0zm10 0zm10 0zm358 0zm13 0zm6 0zm1 0zm3 0zm14 0zm4 0zm2 0zm9 0zm13 0zm1 0zm3 0zm92 0zm112 0zm4 0zm16 0zm21 0zm10 0zm597 0zm6 0zm14 0zm2 0zm22 0zm-1643 1zm8 0zm1 0zm1 0zm1 0zm3 0zm10 0zm8 0zm7 0zm3 0zm0 0zm5 0zm16 0zm43 0zm25 0zm11 0zm19 0zm112 0zm4 0zm13 0zm20 0zm5 0zm2 0zm9 0zm351 0zm26 0zm2 0zm19 0zm4 0zm106 0zm117 0zm3 0zm1 0zm0 0zm3 0zm2 0zm6 0zm30 0zm4 0zm627 0zm1 0zm8 0zm-1623 1zm0 0zm20 0zm2 0zm8 0zm0 0zm14 0zm0 0zm1 0zm11 0zm1 0zm60 0zm6 0zm6 0zm24 0zm96 0zm1 0zm2 0zm2 0zm17 0zm2 0zm7 0zm22 0zm17 0zm351 0zm2 0zm0 0zm2 0zm3 0zm16 0zm10 0zm4 0zm2 0zm1 0zm4 0zm2 0zm0 0zm6 0zm55 0zm21 0zm12 0zm28 0zm88 0zm5 0zm1 0zm5 0zm1 0zm8 0zm0 0zm9 0zm6 0zm2 0zm5 0zm636 0zm10 0zm2 0zm2 0zm21 0zm2 0zm6 0zm0 0zm-1646 1zm1 0zm0 0zm2 0zm3 0zm6 0zm19 0zm6 0zm3 0zm9 0zm45 0zm1 0zm7 0zm8 0zm1 0zm11 0zm25 0zm9 0zm2 0zm93 0zm7 0zm6 0zm4 0zm9 0zm22 0zm366 0zm12 0zm5 0zm3 0zm1 0zm15 0zm3 0zm14 0zm11 0zm5 0zm49 0zm5 0zm139 0zm16 0zm0 0zm1 0zm49 0zm596 0zm18 0zm2 0zm5 0zm13 0zm1 0zm8 0zm-1638 1zm11 0zm7 0zm2 0zm6 0zm3 0zm15 0zm63 0zm17 0zm36 0zm97 0zm3 0zm18 0zm1 0zm5 0zm388 0zm1 0zm2 0zm2 0zm7 0zm16 0zm5 0zm25 0zm6 0zm80 0zm20 0zm96 0zm4 0zm8 0zm16 0zm4 0zm2 0zm6 0zm4 0zm7 0zm2 0zm11 0zm605 0zm13 0zm31 0zm10 0zm-1665 1zm6 0zm19 0zm4 0zm17 0zm4 0zm11 0zm3 0zm0 0zm2 0zm2 0zm36 0zm24 0zm7 0zm128 0zm1 0zm14 0zm15 0zm1 0zm5 0zm1 0zm8 0zm1 0zm10 0zm0 0zm358 0zm7 0zm35 0zm1 0zm17 0zm3 0zm42 0zm21 0zm136 0zm11 0zm0 0zm6 0zm13 0zm1 0zm4 0zm13 0zm16 0zm373 0zm2 0zm6 0zm227 0zm4 0zm29 0zm7 0zm1 0zm1 0zm-1612 1zm7 0zm13 0zm4 0zm0 0zm1 0zm47 0zm2 0zm14 0zm14 0zm116 0zm23 0zm8 0zm12 0zm6 0zm5 0zm7 0zm358 0zm12 0zm12 0zm2 0zm9 0zm23 0zm10 0zm52 0zm20 0zm12 0zm113 0zm8 0zm5 0zm16 0zm11 0zm2 0zm14 0zm363 0zm20 0zm218 0zm6 0zm4 0zm8 0zm8 0zm0 0zm6 0zm30 0zm-1660 1zm20 0zm2 0zm1 0zm21 0zm3 0zm6 0zm10 0zm1 0zm50 0zm4 0zm1 0zm1 0zm5 0zm2 0zm16 0zm11 0zm2 0zm5 0zm4 0zm2 0zm102 0zm1 0zm18 0zm0 0zm1 0zm3 0zm6 0zm5 0zm5 0zm4 0zm1 0zm9 0zm0 0zm356 0zm7 0zm2 0zm9 0zm17 0zm5 0zm11 0zm16 0zm50 0zm31 0zm7 0zm2 0zm2 0zm124 0zm5 0zm4 0zm9 0zm25 0zm2 0zm350 0zm6 0zm10 0zm4 0zm2 0zm2 0zm4 0zm4 0zm3 0zm213 0zm32 0zm0 0zm8 0zm9 0zm7 0zm1 0zm1 0zm-1665 1zm6 0zm4 0zm11 0zm16 0zm6 0zm2 0zm11 0zm62 0zm170 0zm13 0zm19 0zm375 0zm8 0zm14 0zm0 0zm70 0zm33 0zm7 0zm7 0zm4 0zm102 0zm19 0zm2 0zm14 0zm23 0zm376 0zm258 0zm4 0zm2 0zm1 0zm11 0zm6 0zm-1657 1zm1 0zm7 0zm0 0zm3 0zm2 0zm9 0zm1 0zm0 0zm5 0zm12 0zm7 0zm6 0zm1 0zm4 0zm9 0zm40 0zm34 0zm1 0zm30 0zm100 0zm4 0zm7 0zm4 0zm9 0zm1 0zm1 0zm26 0zm5 0zm357 0zm2 0zm2 0zm10 0zm1 0zm1 0zm3 0zm35 0zm69 0zm31 0zm2 0zm1 0zm110 0zm3 0zm8 0zm5 0zm1 0zm17 0zm6 0zm3 0zm1 0zm1 0zm5 0zm1 0zm352 0zm7 0zm9 0zm4 0zm1 0zm8 0zm1 0zm2 0zm3 0zm223 0zm4 0zm12 0zm22 0zm3 0zm0 0zm6 0zm1 0zm4 0zm2 0zm-1664 1zm29 0zm2 0zm87 0zm21 0zm4 0zm6 0zm8 0zm6 0zm93 0zm4 0zm3 0zm1 0zm14 0zm7 0zm6 0zm1 0zm2 0zm0 0zm2 0zm1 0zm11 0zm5 0zm3 0zm0 0zm379 0zm28 0zm22 0zm88 0zm116 0zm1 0zm12 0zm26 0zm0 0zm370 0zm2 0zm9 0zm24 0zm212 0zm3 0zm2 0zm12 0zm13 0zm-1631 1zm1 0zm14 0zm5 0zm8 0zm21 0zm1 0zm56 0zm7 0zm10 0zm10 0zm15 0zm3 0zm12 0zm92 0zm4 0zm1 0zm3 0zm10 0zm1 0zm18 0zm8 0zm1 0zm12 0zm7 0zm353 0zm9 0zm2 0zm24 0zm8 0zm2 0zm18 0zm1 0zm2 0zm36 0zm4 0zm12 0zm31 0zm114 0zm29 0zm26 0zm360 0zm11 0zm3 0zm19 0zm4 0zm208 0zm1 0zm13 0zm5 0zm4 0zm16 0zm21 0zm-1647 1zm10 0zm27 0zm1 0zm61 0zm18 0zm1 0zm126 0zm12 0zm1 0zm3 0zm2 0zm17 0zm5 0zm22 0zm3 0zm354 0zm26 0zm22 0zm6 0zm9 0zm53 0zm18 0zm15 0zm21 0zm89 0zm32 0zm13 0zm6 0zm370 0zm4 0zm1 0zm12 0zm1 0zm7 0zm7 0zm221 0zm6 0zm37 0zm3 0zm10 0zm-1667 1zm4 0zm0 0zm5 0zm1 0zm11 0zm10 0zm15 0zm7 0zm1 0zm49 0zm16 0zm34 0zm138 0zm22 0zm11 0zm1 0zm5 0zm352 0zm5 0zm1 0zm2 0zm8 0zm4 0zm11 0zm4 0zm1 0zm5 0zm4 0zm1 0zm10 0zm3 0zm40 0zm10 0zm3 0zm145 0zm15 0zm31 0zm381 0zm4 0zm11 0zm4 0zm214 0zm4 0zm1 0zm6 0zm2 0zm-1604 1zm11 0zm12 0zm11 0zm1 0zm10 0zm6 0zm1 0zm2 0zm5 0zm32 0zm2 0zm10 0zm8 0zm4 0zm31 0zm15 0zm96 0zm2 0zm0 0zm3 0zm2 0zm0 0zm1 0zm2 0zm7 0zm9 0zm4 0zm15 0zm368 0zm13 0zm6 0zm14 0zm4 0zm11 0zm5 0zm1 0zm45 0zm19 0zm10 0zm19 0zm149 0zm3 0zm4 0zm13 0zm7 0zm2 0zm3 0zm1 0zm345 0zm22 0zm0 0zm22 0zm1 0zm213 0zm13 0zm11 0zm11 0zm8 0zm1 0zm-1654 1zm13 0zm4 0zm2 0zm1 0zm7 0zm11 0zm2 0zm6 0zm4 0zm2 0zm8 0zm5 0zm48 0zm1 0zm13 0zm37 0zm100 0zm3 0zm12 0zm23 0zm12 0zm1 0zm1 0zm5 0zm0 0zm5 0zm1 0zm352 0zm3 0zm27 0zm12 0zm64 0zm4 0zm15 0zm10 0zm22 0zm9 0zm105 0zm13 0zm3 0zm5 0zm23 0zm3 0zm10 0zm352 0zm244 0zm8 0zm8 0zm4 0zm5 0zm-1620 1zm1 0zm33 0zm17 0zm1 0zm53 0zm41 0zm14 0zm91 0zm13 0zm5 0zm1 0zm1 0zm17 0zm10 0zm0 0zm11 0zm12 0zm353 0zm7 0zm7 0zm1 0zm4 0zm18 0zm7 0zm5 0zm1 0zm5 0zm3 0zm40 0zm6 0zm2 0zm38 0zm17 0zm109 0zm1 0zm8 0zm16 0zm0 0zm1 0zm6 0zm8 0zm6 0zm374 0zm5 0zm1 0zm4 0zm10 0zm210 0zm4 0zm1 0zm6 0zm29 0zm22 0zm-1657 1zm4 0zm8 0zm14 0zm10 0zm3 0zm17 0zm0 0zm49 0zm16 0zm14 0zm19 0zm110 0zm8 0zm7 0zm2 0zm2 0zm8 0zm3 0zm1 0zm1 0zm4 0zm1 0zm1 0zm17 0zm351 0zm5 0zm6 0zm24 0zm1 0zm7 0zm17 0zm1 0zm0 0zm5 0zm2 0zm36 0zm5 0zm31 0zm15 0zm126 0zm6 0zm16 0zm10 0zm14 0zm349 0zm3 0zm8 0zm5 0zm8 0zm222 0zm6 0zm0 0zm2 0zm16 0zm6 0zm21 0zm8 0zm2 0zm0 0zm2 0zm1 0zm-1662 1zm20 0zm6 0zm26 0zm12 0zm42 0zm17 0zm9 0zm134 0zm4 0zm29 0zm0 0zm5 0zm7 0zm16 0zm361 0zm2 0zm1 0zm6 0zm2 0zm16 0zm0 0zm1 0zm14 0zm7 0zm48 0zm24 0zm5 0zm2 0zm17 0zm8 0zm103 0zm1 0zm19 0zm7 0zm10 0zm367 0zm21 0zm7 0zm13 0zm222 0zm10 0zm16 0zm1 0zm2 0zm5 0zm0 0zm1 0zm15 0zm-1659 1zm6 0zm1 0zm0 0zm1 0zm2 0zm2 0zm14 0zm18 0zm6 0zm5 0zm0 0zm72 0zm6 0zm6 0zm19 0zm6 0zm104 0zm5 0zm15 0zm7 0zm1 0zm5 0zm18 0zm1 0zm2 0zm359 0zm13 0zm3 0zm14 0zm19 0zm8 0zm37 0zm18 0zm10 0zm0 0zm16 0zm3 0zm10 0zm102 0zm50 0zm7 0zm13 0zm368 0zm17 0zm215 0zm3 0zm7 0zm6 0zm6 0zm9 0zm2 0zm15 0zm-1656 1zm7 0zm33 0zm7 0zm6 0zm52 0zm32 0zm8 0zm3 0zm11 0zm103 0zm2 0zm5 0zm10 0zm16 0zm11 0zm22 0zm353 0zm7 0zm30 0zm1 0zm12 0zm58 0zm37 0zm14 0zm5 0zm99 0zm6 0zm7 0zm2 0zm7 0zm8 0zm380 0zm2 0zm21 0zm9 0zm2 0zm3 0zm4 0zm3 0zm1 0zm204 0zm7 0zm1 0zm13 0zm-1598 1zm3 0zm10 0zm14 0zm5 0zm42 0zm24 0zm8 0zm7 0zm31 0zm99 0zm2 0zm23 0zm3 0zm2 0zm13 0zm6 0zm7 0zm352 0zm18 0zm7 0zm3 0zm5 0zm2 0zm12 0zm6 0zm10 0zm108 0zm94 0zm1 0zm18 0zm15 0zm14 0zm2 0zm4 0zm365 0zm14 0zm2 0zm4 0zm3 0zm218 0zm6 0zm30 0zm2 0zm1 0zm19 0zm4 0zm0 0zm-1661 1zm8 0zm5 0zm14 0zm6 0zm8 0zm3 0zm9 0zm8 0zm54 0zm0 0zm9 0zm10 0zm7 0zm115 0zm3 0zm13 0zm0 0zm1 0zm2 0zm9 0zm17 0zm7 0zm3 0zm16 0zm360 0zm9 0zm11 0zm19 0zm0 0zm1 0zm3 0zm69 0zm7 0zm131 0zm2 0zm15 0zm3 0zm22 0zm3 0zm390 0zm4 0zm2 0zm4 0zm8 0zm223 0zm6 0zm3 0zm3 0zm3 0zm4 0zm4 0zm26 0zm1 0zm-1665 1zm1 0zm14 0zm2 0zm1 0zm1 0zm6 0zm26 0zm13 0zm85 0zm11 0zm102 0zm2 0zm2 0zm5 0zm3 0zm3 0zm0 0zm5 0zm1 0zm6 0zm8 0zm8 0zm1 0zm14 0zm356 0zm6 0zm30 0zm7 0zm59 0zm8 0zm8 0zm10 0zm10 0zm18 0zm3 0zm103 0zm2 0zm37 0zm5 0zm380 0zm32 0zm204 0zm15 0zm5 0zm2 0zm23 0zm2 0zm2 0zm20 0zm-1658 1zm17 0zm2 0zm12 0zm2 0zm19 0zm80 0zm27 0zm100 0zm11 0zm7 0zm12 0zm0 0zm4 0zm2 0zm4 0zm17 0zm1 0zm373 0zm4 0zm6 0zm13 0zm3 0zm10 0zm3 0zm2 0zm41 0zm51 0zm1 0zm110 0zm1 0zm5 0zm19 0zm1 0zm20 0zm2 0zm358 0zm6 0zm11 0zm1 0zm23 0zm1 0zm4 0zm4 0zm206 0zm0 0zm25 0zm37 0zm-1633 1zm85 0zm17 0zm130 0zm8 0zm14 0zm22 0zm3 0zm0 0zm4 0zm10 0zm2 0zm354 0zm0 0zm10 0zm5 0zm25 0zm1 0zm4 0zm2 0zm2 0zm9 0zm4 0zm2 0zm46 0zm14 0zm7 0zm17 0zm6 0zm122 0zm14 0zm30 0zm350 0zm42 0zm202 0zm3 0zm3 0zm12 0zm35 0zm1 0zm2 0zm2 0zm11 0zm-1654 1zm1 0zm1 0zm16 0zm5 0zm28 0zm41 0zm1 0zm4 0zm20 0zm9 0zm9 0zm7 0zm9 0zm97 0zm10 0zm12 0zm12 0zm11 0zm19 0zm358 0zm5 0zm9 0zm9 0zm15 0zm6 0zm0 0zm20 0zm33 0zm13 0zm11 0zm15 0zm3 0zm13 0zm104 0zm0 0zm37 0zm1 0zm6 0zm17 0zm2 0zm348 0zm2 0zm8 0zm9 0zm10 0zm244 0zm2 0zm16 0zm8 0zm0 0zm9 0zm2 0zm-1642 1zm88 0zm1 0zm42 0zm4 0zm2 0zm117 0zm5 0zm9 0zm5 0zm8 0zm9 0zm373 0zm48 0zm7 0zm10 0zm2 0zm34 0zm24 0zm6 0zm9 0zm5 0zm2 0zm13 0zm122 0zm1 0zm26 0zm6 0zm383 0zm1 0zm4 0zm10 0zm212 0zm7 0zm6 0zm26 0zm9 0zm5 0zm9 0zm-1660 1zm7 0zm6 0zm1 0zm81 0zm0 0zm0 0zm3 0zm7 0zm17 0zm5 0zm28 0zm8 0zm93 0zm19 0zm4 0zm10 0zm2 0zm4 0zm5 0zm0 0zm7 0zm2 0zm2 0zm4 0zm0 0zm1 0zm354 0zm17 0zm2 0zm17 0zm4 0zm8 0zm5 0zm3 0zm7 0zm38 0zm6 0zm37 0zm18 0zm100 0zm1 0zm1 0zm2 0zm16 0zm2 0zm12 0zm19 0zm0 0zm364 0zm11 0zm12 0zm217 0zm5 0zm5 0zm8 0zm1 0zm8 0zm-1612 1zm3 0zm3 0zm21 0zm22 0zm40 0zm0 0zm8 0zm10 0zm142 0zm1 0zm7 0zm7 0zm5 0zm6 0zm15 0zm11 0zm14 0zm353 0zm1 0zm2 0zm44 0zm5 0zm1 0zm84 0zm124 0zm2 0zm13 0zm0 0zm23 0zm6 0zm3 0zm2 0zm366 0zm4 0zm0 0zm39 0zm206 0zm4 0zm3 0zm38 0zm12 0zm3 0zm0 0zm-1649 1zm19 0zm66 0zm8 0zm23 0zm9 0zm5 0zm18 0zm111 0zm9 0zm33 0zm2 0zm10 0zm353 0zm6 0zm12 0zm8 0zm6 0zm13 0zm2 0zm3 0zm10 0zm2 0zm42 0zm42 0zm6 0zm3 0zm1 0zm3 0zm130 0zm1 0zm11 0zm5 0zm8 0zm396 0zm4 0zm211 0zm23 0zm9 0zm7 0zm7 0zm1 0zm-1619 1zm2 0zm11 0zm1 0zm56 0zm4 0zm15 0zm3 0zm2 0zm31 0zm103 0zm6 0zm30 0zm5 0zm11 0zm4 0zm5 0zm0 0zm1 0zm357 0zm0 0zm7 0zm10 0zm1 0zm8 0zm6 0zm23 0zm6 0zm45 0zm11 0zm0 0zm7 0zm25 0zm119 0zm5 0zm13 0zm401 0zm231 0zm4 0zm5 0zm32 0zm2 0zm15 0zm4 0zm1 0zm4 0zm-1609 1zm64 0zm5 0zm3 0zm4 0zm0 0zm12 0zm12 0zm110 0zm2 0zm30 0zm28 0zm355 0zm6 0zm1 0zm2 0zm5 0zm102 0zm4 0zm155 0zm2 0zm30 0zm7 0zm0 0zm389 0zm2 0zm7 0zm208 0zm8 0zm4 0zm33 0zm7 0zm8 0zm-1603 1zm71 0zm12 0zm0 0zm8 0zm6 0zm13 0zm103 0zm2 0zm4 0zm26 0zm4 0zm14 0zm369 0zm8 0zm3 0zm5 0zm1 0zm15 0zm2 0zm70 0zm2 0zm10 0zm5 0zm24 0zm11 0zm0 0zm97 0zm36 0zm8 0zm370 0zm6 0zm10 0zm21 0zm2 0zm199 0zm2 0zm3 0zm10 0zm17 0zm5 0zm15 0zm2 0zm7 0zm-1648 1zm17 0zm1 0zm27 0zm45 0zm26 0zm26 0zm111 0zm12 0zm0 0zm7 0zm1 0zm1 0zm12 0zm12 0zm4 0zm1 0zm6 0zm363 0zm9 0zm27 0zm22 0zm44 0zm2 0zm6 0zm5 0zm6 0zm9 0zm6 0zm133 0zm33 0zm368 0zm13 0zm13 0zm13 0zm10 0zm199 0zm0 0zm3 0zm4 0zm8 0zm31 0zm7 0zm-1615 1zm21 0zm1 0zm76 0zm3 0zm2 0zm24 0zm4 0zm91 0zm9 0zm27 0zm0 0zm9 0zm7 0zm5 0zm14 0zm348 0zm0 0zm10 0zm15 0zm19 0zm12 0zm47 0zm18 0zm48 0zm1 0zm109 0zm1 0zm9 0zm2 0zm2 0zm14 0zm8 0zm1 0zm358 0zm8 0zm13 0zm5 0zm226 0zm5 0zm26 0zm-1620 1zm0 0zm2 0zm7 0zm2 0zm11 0zm4 0zm1 0zm15 0zm49 0zm2 0zm41 0zm118 0zm17 0zm21 0zm5 0zm371 0zm12 0zm8 0zm0 0zm2 0zm8 0zm3 0zm9 0zm12 0zm7 0zm3 0zm44 0zm15 0zm140 0zm4 0zm25 0zm19 0zm1 0zm356 0zm36 0zm3 0zm1 0zm214 0zm4 0zm18 0zm29 0zm6 0zm-1639 1zm3 0zm12 0zm0 0zm87 0zm36 0zm2 0zm117 0zm3 0zm11 0zm26 0zm5 0zm355 0zm6 0zm63 0zm31 0zm14 0zm15 0zm144 0zm25 0zm4 0zm369 0zm25 0zm3 0zm1 0zm2 0zm1 0zm8 0zm6 0zm1 0zm212 0zm10 0zm13 0zm11 0zm0 0zm9 0zm15 0zm-1659 1zm50 0zm205 0zm10 0zm19 0zm1 0zm0 0zm7 0zm14 0zm2 0zm372 0zm32 0zm15 0zm7 0zm0 0zm79 0zm5 0zm11 0zm158 0zm372 0zm14 0zm1 0zm235 0zm1 0zm8 0zm7 0zm9 0zm6 0zm17 0zm-1644 1zm2 0zm9 0zm15 0zm249 0zm1 0zm11 0zm15 0zm362 0zm18 0zm14 0zm24 0zm3 0zm2 0zm37 0zm27 0zm4 0zm8 0zm0 0zm7 0zm6 0zm7 0zm111 0zm37 0zm397 0zm2 0zm3 0zm8 0zm198 0zm1 0zm7 0zm39 0zm5 0zm1 0zm-1614 1zm5 0zm226 0zm13 0zm5 0zm22 0zm5 0zm1 0zm7 0zm6 0zm349 0zm8 0zm2 0zm9 0zm4 0zm0 0zm21 0zm9 0zm3 0zm15 0zm46 0zm5 0zm21 0zm23 0zm134 0zm22 0zm356 0zm5 0zm17 0zm6 0zm222 0zm5 0zm8 0zm8 0zm17 0zm7 0zm16 0zm-1643 1zm15 0zm1 0zm237 0zm29 0zm13 0zm2 0zm2 0zm2 0zm361 0zm13 0zm2 0zm1 0zm14 0zm15 0zm9 0zm5 0zm55 0zm3 0zm1 0zm9 0zm33 0zm4 0zm1 0zm113 0zm391 0zm13 0zm2 0zm25 0zm219 0zm9 0zm3 0zm32 0zm7 0zm4 0zm-1638 1zm6 0zm5 0zm237 0zm4 0zm11 0zm2 0zm11 0zm2 0zm18 0zm355 0zm6 0zm2 0zm0 0zm5 0zm40 0zm58 0zm12 0zm4 0zm21 0zm538 0zm6 0zm14 0zm212 0zm1 0zm6 0zm23 0zm11 0zm18 0zm11 0zm-1640 1zm20 0zm238 0zm4 0zm12 0zm4 0zm374 0zm59 0zm78 0zm19 0zm5 0zm511 0zm1 0zm11 0zm7 0zm22 0zm204 0zm37 0zm34 0zm-1644 1zm1 0zm7 0zm2 0zm19 0zm235 0zm3 0zm13 0zm0 0zm11 0zm362 0zm12 0zm4 0zm7 0zm12 0zm0 0zm32 0zm39 0zm18 0zm552 0zm15 0zm0 0zm7 0zm6 0zm1 0zm0 0zm15 0zm210 0zm6 0zm20 0zm15 0zm-1633 1zm0 0zm15 0zm11 0zm250 0zm2 0zm9 0zm12 0zm366 0zm2 0zm0 0zm0 0zm15 0zm8 0zm27 0zm3 0zm0 0zm3 0zm0 0zm5 0zm72 0zm550 0zm18 0zm5 0zm8 0zm222 0zm15 0zm10 0zm23 0zm-1631 1zm247 0zm36 0zm358 0zm4 0zm22 0zm1 0zm4 0zm10 0zm18 0zm6 0zm60 0zm0 0zm10 0zm9 0zm7 0zm21 0zm1 0zm541 0zm4 0zm3 0zm202 0zm5 0zm14 0zm10 0zm5 0zm3 0zm8 0zm3 0zm10 0zm5 0zm-1631 1zm18 0zm222 0zm22 0zm14 0zm5 0zm370 0zm0 0zm40 0zm15 0zm3 0zm6 0zm628 0zm3 0zm2 0zm229 0zm2 0zm8 0zm4 0zm20 0zm0 0zm20 0zm2 0zm4 0zm-963 1zm1 0zm15 0zm5 0zm635 0zm12 0zm7 0zm9 0zm4 0zm258 0zm1 0zm-967 1zm4 0zm2 0zm6 0zm2 0zm18 0zm11 0zm4 0zm5 0zm7 0zm2 0zm2 0zm606 0zm38 0zm210 0zm6 0zm2 0zm1 0zm5 0zm26 0zm7 0zm9 0zm-972 1zm6 0zm11 0zm2 0zm2 0zm9 0zm643 0zm5 0zm10 0zm2 0zm9 0zm239 0zm10 0zm3 0zm1 0zm9 0zm12 0zm3 0zm2 0zm-978 1zm17 0zm15 0zm0 0zm12 0zm14 0zm4 0zm621 0zm19 0zm214 0zm-888 1zm7 0zm9 0zm3 0zm9 0zm1 0zm627 0zm5 0zm4 0zm8 0zm212 0zm10 0zm6 0zm7 0zm19 0zm2 0zm2 0zm11 0zm-980 1zm20 0zm1 0zm8 0zm21 0zm20 0zm623 0zm4 0zm8 0zm5 0zm4 0zm2 0zm2 0zm221 0zm4 0zm10 0zm8 0zm14 0zm6 0zm0 0zm3 0zm5 0zm-979 1zm5 0zm0 0zm15 0zm14 0zm14 0zm11 0zm606 0zm4 0zm9 0zm7 0zm4 0zm13 0zm225 0zm37 0zm13 0zm3 0zm-990 1zm7 0zm5 0zm2 0zm20 0zm11 0zm20 0zm3 0zm608 0zm1 0zm9 0zm14 0zm16 0zm4 0zm3 0zm206 0zm4 0zm11 0zm16 0zm5 0zm5 0zm11 0zm-960 1zm17 0zm9 0zm11 0zm6 0zm6 0zm0 0zm609 0zm35 0zm211 0zm2 0zm24 0zm13 0zm-930 1zm13 0zm8 0zm1 0zm4 0zm6 0zm1 0zm645 0zm9 0zm204 0zm9 0zm9 0zm7 0zm-939 1zm9 0zm1 0zm5 0zm14 0zm2 0zm19 0zm615 0zm13 0zm17 0zm6 0zm2 0zm227 0zm1 0zm3 0zm5 0zm3 0zm0 0zm13 0zm4 0zm-954 1zm0 0zm6 0zm651 0zm22 0zm3 0zm10 0zm11 0zm3 0zm2 0zm0 0zm236 0zm-947 1zm2 0zm1 0zm18 0zm12 0zm0 0zm21 0zm605 0zm6 0zm0 0zm4 0zm35 0zm5 0zm221 0zm13 0zm27 0zm-973 1zm7 0zm5 0zm18 0zm14 0zm635 0zm12 0zm6 0zm11 0zm3 0zm223 0zm1 0zm2 0zm40 0zm-977 1zm1 0zm18 0zm11 0zm9 0zm3 0zm4 0zm7 0zm1 0zm613 0zm0 0zm22 0zm1 0zm0 0zm7 0zm6 0zm4 0zm9 0zm202 0zm1 0zm6 0zm18 0zm1 0zm-952 1zm11 0zm15 0zm10 0zm6 0zm7 0zm625 0zm3 0zm3 0zm3 0zm12 0zm11 0zm9 0zm3 0zm1 0zm70 0zm143 0zm4 0zm9 0zm4 0zm3 0zm-932 1zm2 0zm11 0zm30 0zm0 0zm605 0zm11 0zm17 0zm3 0zm10 0zm11 0zm2 0zm51 0zm14 0zm3 0zm3 0zm19 0zm7 0zm0 0zm15 0zm115 0zm32 0zm-973 1zm12 0zm2 0zm15 0zm5 0zm7 0zm615 0zm16 0zm0 0zm1 0zm5 0zm2 0zm0 0zm8 0zm4 0zm5 0zm6 0zm5 0zm7 0zm42 0zm11 0zm41 0zm8 0zm4 0zm111 0zm27 0zm5 0zm8 0zm-960 1zm0 0zm43 0zm4 0zm599 0zm0 0zm3 0zm23 0zm3 0zm3 0zm0 0zm5 0zm67 0zm54 0zm7 0zm145 0zm-971 1zm1 0zm3 0zm7 0zm20 0zm0 0zm27 0zm619 0zm1 0zm1 0zm3 0zm1 0zm7 0zm5 0zm3 0zm2 0zm15 0zm4 0zm0 0zm3 0zm1 0zm2 0zm60 0zm27 0zm13 0zm144 0zm6 0zm-976 1zm0 0zm15 0zm4 0zm15 0zm20 0zm609 0zm2 0zm23 0zm19 0zm53 0zm14 0zm32 0zm23 0zm-813 1zm23 0zm2 0zm618 0zm0 0zm5 0zm5 0zm1 0zm6 0zm1 0zm2 0zm14 0zm5 0zm6 0zm9 0zm2 0zm6 0zm6 0zm2 0zm65 0zm6 0zm2 0zm6 0zm16 0zm-785 1zm8 0zm2 0zm611 0zm9 0zm2 0zm3 0zm13 0zm4 0zm15 0zm5 0zm3 0zm59 0zm1 0zm7 0zm4 0zm4 0zm8 0zm26 0zm5 0zm-827 1zm6 0zm11 0zm0 0zm1 0zm648 0zm2 0zm1 0zm6 0zm5 0zm9 0zm5 0zm0 0zm7 0zm1 0zm3 0zm6 0zm7 0zm5 0zm5 0zm39 0zm1 0zm16 0zm3 0zm3 0zm12 0zm-801 1zm1 0zm2 0zm0 0zm4 0zm10 0zm21 0zm2 0zm8 0zm9 0zm600 0zm10 0zm13 0zm2 0zm5 0zm4 0zm11 0zm18 0zm41 0zm20 0zm1 0zm1 0zm1 0zm22 0zm4 0zm4 0zm12 0zm-811 1zm9 0zm5 0zm679 0zm9 0zm0 0zm2 0zm5 0zm3 0zm32 0zm9 0zm19 0zm7 0zm0 0zm13 0zm1 0zm7 0zm5 0zm-800 1zm3 0zm23 0zm5 0zm609 0zm30 0zm10 0zm1 0zm8 0zm3 0zm1 0zm4 0zm3 0zm2 0zm61 0zm6 0zm5 0zm0 0zm4 0zm1 0zm13 0zm5 0zm3 0zm-818 1zm17 0zm1 0zm31 0zm610 0zm2 0zm6 0zm1 0zm4 0zm17 0zm3 0zm14 0zm1 0zm1 0zm9 0zm0 0zm0 0zm1 0zm2 0zm1 0zm40 0zm9 0zm33 0zm17 0zm-812 1zm7 0zm5 0zm4 0zm22 0zm615 0zm6 0zm1 0zm11 0zm7 0zm2 0zm7 0zm2 0zm3 0zm5 0zm2 0zm15 0zm56 0zm2 0zm1 0zm6 0zm2 0zm5 0zm-787 1zm22 0zm4 0zm625 0zm4 0zm2 0zm3 0zm5 0zm6 0zm0 0zm9 0zm1 0zm10 0zm5 0zm2 0zm1 0zm16 0zm2 0zm44 0zm2 0zm27 0zm1 0zm2 0zm13 0zm-811 1zm3 0zm1 0zm656 0zm0 0zm2 0zm2 0zm7 0zm2 0zm3 0zm0 0zm1 0zm0 0zm28 0zm5 0zm1 0zm5 0zm3 0zm54 0zm1 0zm2 0zm0 0zm5 0zm33 0zm3 0zm0 0zm-807 1zm8 0zm1 0zm9 0zm10 0zm5 0zm3 0zm607 0zm11 0zm2 0zm1 0zm14 0zm5 0zm2 0zm1 0zm90 0zm2 0zm5 0zm13 0zm1 0zm-773 1zm631 0zm0 0zm1 0zm6 0zm19 0zm7 0zm1 0zm6 0zm8 0zm5 0zm3 0zm0 0zm-710 1zm7 0zm5 0zm645 0zm6 0zm2 0zm6 0zm6 0zm0 0zm7 0zm0 0zm2 0zm9 0zm7 0zm7 0zm3 0zm0 0zm4 0zm2 0zm59 0zm11 0zm21 0zm11 0zm-788 1zm3 0zm614 0zm7 0zm7 0zm6 0zm2 0zm5 0zm6 0zm2 0zm0 0zm2 0zm2 0zm2 0zm1 0zm0 0zm2 0zm3 0zm0 0zm5 0zm0 0zm12 0zm6 0zm52 0zm3 0zm0 0zm6 0zm10 0zm11 0zm2 0zm16 0zm-811 1zm639 0zm3 0zm4 0zm1 0zm3 0zm8 0zm3 0zm2 0zm22 0zm6 0zm8 0zm44 0zm0 0zm5 0zm1 0zm25 0zm2 0zm6 0zm16 0zm4 0zm5 0zm-774 1zm607 0zm31 0zm1 0zm2 0zm25 0zm5 0zm51 0zm29 0zm6 0zm19 0zm-778 1zm3 0zm1 0zm607 0zm13 0zm7 0zm5 0zm8 0zm0 0zm1 0zm7 0zm4 0zm11 0zm3 0zm0 0zm1 0zm0 0zm40 0zm11 0zm21 0zm2 0zm2 0zm5 0zm0 0zm18 0zm4 0zm0 0zm4 0zm-816 1zm1 0zm7 0zm18 0zm9 0zm620 0zm3 0zm2 0zm9 0zm6 0zm6 0zm3 0zm1 0zm12 0zm3 0zm6 0zm2 0zm0 0zm-688 1zm2 0zm637 0zm3 0zm1 0zm5 0zm9 0zm5 0zm7 0zm23 0zm-57 1zm18 0zm0 0zm2 0zm3 0zm16 0zm14 0zm0 0zm-682 1zm624 0zm10 0zm7 0zm4 0zm7 0zm1 0zm6 0zm15 0zm7 0zm0 0zm2 0zm-707 1zm656 0zm5 0zm13 0zm10 0zm2 0zm5 0zm2 0zm2 0zm4 0zm2 0zm-700 1zm646 0zm3 0zm11 0zm2 0zm14 0zm5 0zm6 0zm4 0zm13 0zm2 0zm1 0zm6 0zm-61 1zm5 0zm15 0zm0 0zm8 0zm4 0zm30 0zm-66 1zm2 0zm2 0zm21 0zm16 0zm2 0zm0 0zm7 0zm11 0zm-46 1zm18 0zm4 0zm5 0zm1 0zm1 0zm2 0zm15 0zm-53 1zm2 0zm18 0zm2 0zm7 0zm14 0zm1 0zm-43 1zm7 0zm5 0zm18 0zm2 0zm6 0zm1 0zm2 0zm-42 1zm27 0zm-24 1zm14 0zm28 0zm-26 1zm-10 1zm4 0zm9 0zm13 0zm-677 33zm4 0zm626 3zm0 0zm1 0zm1 0zm0 0zm1 0zm0 0zm0 0zm0 0zm2 0zm1 0zm0 0zm0 0zm0 0zm0 0zm1 0zm0 0zm1 0zm0 0zm1 0zm0 0zm2 0zm1 0zm0 0zm1 0zm1 0zm1 0zm1 0zm1 0zm1 0zm0 0zm1 0zm2 0zm0 0zm1 0zm1 0zm0 0zm3 0zm0 0zm1 0zm0 0zm1 0zm0 0zm1 0zm0 0zm0 0zm1 0zm0 0zm0 0zm2 0zm1 0zm0 0zm1 0zm0 0zm1 0zm0 0zm0 0zm1 0zm2 0zm1 0zm0 0zm1 0zm0 0zm0 0zm0 0zm0 0zm1 0zm1 0zm0 0zm1 0zm0 0zm1 0zm1 0zm1 0zm1 0zm2 0zm1 0zm0 0zm0 0zm0 0zm1 0zm0 0zm1 0zm0 0zm2 0zm2 0zm1 0zm1 0zm0 0zm1 0zm0 0zm1 0zm0 0zm0 0zm0 0zm1 0zm1 0zm1 0zm1 0zm2 0zm0 0zm1 0zm0 0zm0 0zm1 0zm0 0zm0 0zm2 0zm1 0zm0 0zm218 0zm0 0zm0 0zm3 0zm-965 372zm4 0zm14 0zm-28 1zm21 0zm-22 1zm14 0zm12 0zm-31 1zm21 0zm3 0zm9 0zm9 0zm-42 1zm7 0zm3 0zm12 0zm7 0zm1 0zm9 0zm-31 1zm27 0zm4 0zm-28 1zm9 0zm13 0zm-19 1zm6 0zm-23 1zm20 0zm7 0zm-18 1zm7 0zm14 0zm0 0zm14 0zm-5 1zm9 0zm-46 1zm39 0zm-30 1zm26 0zm-22 1zm9 0zm10 0zm13 0zm-24 1zm4 0zm-28 1zm4 0zm12 0zm7 0zm13 0zm12 0zm-51 1zm0 0zm14 0zm2 0zm7 0zm7 0zm1 0zm3 0zm10 0zm-35 1zm5 0zm8 0zm16 0zm6 0zm7 0zm2 0zm-54 1zm4 0zm1 0zm7 0zm16 0zm16 0zm5 0zm-48 1zm5 0zm4 0zm8 0zm2 0zm2 0zm4 0zm5 0zm8 0zm12 0zm-51 1zm3 0zm4 0zm11 0zm21 0zm3 0zm-38 1zm25 0zm-29 1zm6 0zm15 0zm8 0zm7 0zm1 0zm7 0zm-384 1zm350 0zm4 0zm10 0zm6 0zm15 0zm10 0zm2 0zm-424 1zm13 0zm1 0zm4 0zm3 0zm4 0zm12 0zm333 0zm5 0zm8 0zm19 0zm-392 1zm28 0zm10 0zm321 0zm11 0zm0 0zm2 0zm22 0zm3 0zm7 0zm7 0zm-397 1zm22 0zm321 0zm3 0zm20 0zm2 0zm4 0zm29 0zm-401 1zm16 0zm323 0zm3 0zm3 0zm9 0zm2 0zm0 0zm6 0zm6 0zm3 0zm17 0zm3 0zm9 0zm-427 1zm28 0zm14 0zm2 0zm323 0zm4 0zm7 0zm4 0zm12 0zm6 0zm6 0zm1 0zm3 0zm12 0zm1 0zm5 0zm-429 1zm6 0zm5 0zm21 0zm14 0zm7 0zm321 0zm4 0zm7 0zm6 0zm0 0zm7 0zm10 0zm4 0zm16 0zm5 0zm-431 1zm2 0zm38 0zm2 0zm5 0zm6 0zm311 0zm21 0zm0 0zm3 0zm5 0zm10 0zm1 0zm22 0zm223 0zm14 0zm2 0zm7 0zm12 0zm-661 1zm6 0zm4 0zm354 0zm1 0zm2 0zm6 0zm4 0zm14 0zm3 0zm3 0zm4 0zm1 0zm3 0zm4 0zm221 0zm3 0zm9 0zm11 0zm7 0zm2 0zm-681 1zm3 0zm14 0zm19 0zm11 0zm320 0zm1 0zm23 0zm4 0zm2 0zm6 0zm5 0zm1 0zm9 0zm8 0zm202 0zm4 0zm13 0zm7 0zm20 0zm6 0zm-660 1zm10 0zm11 0zm321 0zm5 0zm20 0zm5 0zm8 0zm11 0zm4 0zm0 0zm2 0zm213 0zm4 0zm25 0zm3 0zm5 0zm18 0zm-675 1zm4 0zm13 0zm5 0zm16 0zm322 0zm7 0zm1 0zm14 0zm5 0zm11 0zm3 0zm1 0zm4 0zm2 0zm218 0zm6 0zm3 0zm-899 1zm2 0zm31 0zm225 0zm6 0zm26 0zm6 0zm325 0zm7 0zm10 0zm6 0zm3 0zm13 0zm6 0zm6 0zm10 0zm1 0zm0 0zm209 0zm4 0zm37 0zm5 0zm-906 1zm216 0zm1 0zm7 0zm33 0zm328 0zm3 0zm1 0zm3 0zm2 0zm11 0zm3 0zm9 0zm5 0zm5 0zm6 0zm7 0zm2 0zm207 0zm5 0zm3 0zm5 0zm3 0zm24 0zm-900 1zm9 0zm3 0zm215 0zm13 0zm28 0zm11 0zm320 0zm2 0zm5 0zm6 0zm4 0zm5 0zm2 0zm9 0zm7 0zm3 0zm9 0zm1 0zm2 0zm0 0zm5 0zm0 0zm201 0zm9 0zm16 0zm1 0zm3 0zm5 0zm6 0zm7 0zm12 0zm-944 1zm21 0zm4 0zm3 0zm228 0zm6 0zm6 0zm25 0zm8 0zm3 0zm318 0zm26 0zm1 0zm14 0zm7 0zm18 0zm212 0zm7 0zm4 0zm11 0zm2 0zm2 0zm5 0zm13 0zm1 0zm-936 1zm33 0zm211 0zm2 0zm6 0zm11 0zm0 0zm0 0zm6 0zm25 0zm329 0zm3 0zm19 0zm4 0zm4 0zm1 0zm0 0zm3 0zm1 0zm225 0zm3 0zm6 0zm2 0zm38 0zm-919 1zm19 0zm1 0zm218 0zm49 0zm322 0zm2 0zm4 0zm1 0zm1 0zm6 0zm6 0zm14 0zm220 0zm8 0zm1 0zm3 0zm27 0zm15 0zm2 0zm1 0zm1 0zm3 0zm0 0zm-946 1zm37 0zm229 0zm19 0zm6 0zm11 0zm5 0zm4 0zm311 0zm6 0zm6 0zm2 0zm10 0zm1 0zm8 0zm0 0zm16 0zm1 0zm3 0zm225 0zm14 0zm0 0zm3 0zm7 0zm11 0zm5 0zm-940 1zm23 0zm19 0zm209 0zm16 0zm18 0zm349 0zm4 0zm11 0zm1 0zm16 0zm9 0zm7 0zm2 0zm202 0zm26 0zm13 0zm0 0zm4 0zm3 0zm1 0zm-918 1zm250 0zm9 0zm34 0zm313 0zm13 0zm7 0zm15 0zm7 0zm1 0zm2 0zm1 0zm2 0zm6 0zm2 0zm214 0zm1 0zm18 0zm4 0zm9 0zm17 0zm-941 1zm3 0zm5 0zm14 0zm2 0zm10 0zm214 0zm0 0zm13 0zm10 0zm24 0zm350 0zm2 0zm3 0zm0 0zm1 0zm4 0zm8 0zm19 0zm3 0zm201 0zm6 0zm43 0zm4 0zm3 0zm4 0zm0 0zm-936 1zm1 0zm8 0zm13 0zm15 0zm201 0zm26 0zm18 0zm6 0zm14 0zm3 0zm306 0zm1 0zm0 0zm1 0zm2 0zm6 0zm25 0zm2 0zm1 0zm2 0zm2 0zm0 0zm4 0zm22 0zm201 0zm15 0zm16 0zm7 0zm11 0zm2 0zm4 0zm4 0zm322 0zm-1272 1zm27 0zm13 0zm247 0zm4 0zm332 0zm9 0zm4 0zm7 0zm9 0zm3 0zm7 0zm9 0zm0 0zm8 0zm0 0zm8 0zm217 0zm7 0zm1 0zm7 0zm12 0zm352 0zm21 0zm-1266 1zm227 0zm19 0zm8 0zm15 0zm3 0zm4 0zm313 0zm6 0zm25 0zm9 0zm8 0zm4 0zm8 0zm196 0zm7 0zm10 0zm2 0zm4 0zm4 0zm4 0zm2 0zm11 0zm15 0zm7 0zm3 0zm317 0zm-1258 1zm12 0zm2 0zm6 0zm18 0zm237 0zm3 0zm5 0zm7 0zm14 0zm3 0zm309 0zm2 0zm3 0zm6 0zm4 0zm3 0zm1 0zm4 0zm7 0zm3 0zm5 0zm2 0zm7 0zm10 0zm201 0zm2 0zm3 0zm11 0zm0 0zm1 0zm9 0zm3 0zm7 0zm3 0zm11 0zm12 0zm3 0zm2 0zm339 0zm7 0zm2 0zm-1302 1zm4 0zm46 0zm200 0zm24 0zm13 0zm16 0zm4 0zm5 0zm318 0zm3 0zm6 0zm9 0zm2 0zm3 0zm0 0zm10 0zm8 0zm1 0zm5 0zm11 0zm4 0zm206 0zm27 0zm3 0zm3 0zm1 0zm22 0zm321 0zm5 0zm-1252 1zm23 0zm203 0zm381 0zm3 0zm4 0zm5 0zm5 0zm9 0zm7 0zm78 0zm10 0zm128 0zm1 0zm16 0zm5 0zm0 0zm7 0zm2 0zm3 0zm23 0zm5 0zm8 0zm314 0zm4 0zm1 0zm12 0zm3 0zm19 0zm-1309 1zm1 0zm21 0zm2 0zm9 0zm3 0zm6 0zm7 0zm207 0zm25 0zm5 0zm12 0zm3 0zm11 0zm6 0zm309 0zm13 0zm18 0zm5 0zm6 0zm2 0zm3 0zm2 0zm3 0zm4 0zm2 0zm4 0zm0 0zm67 0zm20 0zm1 0zm2 0zm0 0zm131 0zm27 0zm0 0zm4 0zm332 0zm39 0zm0 0zm2 0zm-1292 1zm19 0zm7 0zm203 0zm17 0zm3 0zm39 0zm5 0zm328 0zm5 0zm13 0zm15 0zm57 0zm12 0zm7 0zm6 0zm15 0zm2 0zm142 0zm3 0zm0 0zm9 0zm9 0zm14 0zm323 0zm0 0zm4 0zm16 0zm-1281 1zm24 0zm10 0zm220 0zm44 0zm5 0zm310 0zm11 0zm4 0zm13 0zm0 0zm13 0zm14 0zm4 0zm1 0zm3 0zm0 0zm4 0zm49 0zm9 0zm12 0zm17 0zm132 0zm11 0zm21 0zm10 0zm2 0zm315 0zm16 0zm7 0zm13 0zm1 0zm-1309 1zm0 0zm8 0zm3 0zm4 0zm0 0zm10 0zm24 0zm226 0zm8 0zm9 0zm5 0zm336 0zm1 0zm23 0zm14 0zm0 0zm0 0zm23 0zm41 0zm1 0zm0 0zm18 0zm39 0zm4 0zm101 0zm25 0zm3 0zm18 0zm0 0zm340 0zm15 0zm16 0zm-1311 1zm16 0zm5 0zm10 0zm1 0zm5 0zm228 0zm13 0zm11 0zm14 0zm14 0zm2 0zm302 0zm1 0zm1 0zm1 0zm1 0zm18 0zm13 0zm2 0zm2 0zm3 0zm17 0zm9 0zm46 0zm7 0zm26 0zm19 0zm108 0zm8 0zm0 0zm8 0zm3 0zm350 0zm31 0zm4 0zm2 0zm-1304 1zm2 0zm1 0zm6 0zm4 0zm12 0zm245 0zm30 0zm1 0zm1 0zm321 0zm0 0zm7 0zm4 0zm19 0zm13 0zm4 0zm1 0zm2 0zm18 0zm34 0zm14 0zm21 0zm12 0zm116 0zm3 0zm5 0zm11 0zm20 0zm19 0zm369 0zm-1310 1zm7 0zm26 0zm9 0zm205 0zm7 0zm9 0zm49 0zm306 0zm43 0zm3 0zm5 0zm0 0zm3 0zm73 0zm20 0zm3 0zm116 0zm9 0zm26 0zm4 0zm5 0zm8 0zm3 0zm3 0zm3 0zm1 0zm2 0zm317 0zm38 0zm-1310 1zm11 0zm11 0zm1 0zm5 0zm3 0zm26 0zm214 0zm16 0zm36 0zm313 0zm9 0zm1 0zm7 0zm2 0zm15 0zm10 0zm4 0zm4 0zm0 0zm5 0zm41 0zm22 0zm10 0zm128 0zm17 0zm17 0zm14 0zm0 0zm4 0zm332 0zm3 0zm16 0zm-1300 1zm28 0zm7 0zm5 0zm5 0zm1 0zm245 0zm1 0zm0 0zm5 0zm8 0zm21 0zm303 0zm17 0zm10 0zm3 0zm4 0zm10 0zm1 0zm1 0zm2 0zm1 0zm10 0zm7 0zm0 0zm1 0zm41 0zm54 0zm100 0zm13 0zm2 0zm12 0zm11 0zm1 0zm19 0zm8 0zm1 0zm3 0zm312 0zm1 0zm17 0zm-1288 1zm9 0zm1 0zm9 0zm10 0zm4 0zm8 0zm3 0zm225 0zm5 0zm23 0zm20 0zm4 0zm308 0zm5 0zm1 0zm2 0zm10 0zm0 0zm9 0zm3 0zm2 0zm1 0zm7 0zm4 0zm2 0zm12 0zm3 0zm1 0zm1 0zm0 0zm35 0zm13 0zm7 0zm15 0zm13 0zm13 0zm0 0zm3 0zm5 0zm92 0zm13 0zm4 0zm1 0zm6 0zm5 0zm0 0zm28 0zm1 0zm7 0zm4 0zm322 0zm9 0zm8 0zm-1299 1zm2 0zm42 0zm2 0zm10 0zm208 0zm1 0zm8 0zm16 0zm5 0zm0 0zm349 0zm2 0zm6 0zm2 0zm5 0zm12 0zm8 0zm21 0zm81 0zm8 0zm9 0zm98 0zm1 0zm4 0zm5 0zm1 0zm5 0zm0 0zm3 0zm43 0zm3 0zm352 0zm3 0zm2 0zm-1318 1zm9 0zm2 0zm2 0zm3 0zm12 0zm3 0zm1 0zm3 0zm15 0zm2 0zm10 0zm199 0zm8 0zm11 0zm2 0zm1 0zm0 0zm5 0zm2 0zm13 0zm7 0zm4 0zm9 0zm315 0zm4 0zm0 0zm1 0zm6 0zm9 0zm5 0zm2 0zm0 0zm8 0zm15 0zm4 0zm8 0zm33 0zm10 0zm1 0zm5 0zm5 0zm10 0zm10 0zm7 0zm5 0zm115 0zm0 0zm5 0zm7 0zm21 0zm1 0zm1 0zm0 0zm23 0zm326 0zm6 0zm8 0zm6 0zm-1301 1zm14 0zm0 0zm15 0zm1 0zm1 0zm3 0zm2 0zm3 0zm8 0zm230 0zm11 0zm1 0zm6 0zm2 0zm6 0zm2 0zm12 0zm309 0zm6 0zm5 0zm13 0zm1 0zm10 0zm9 0zm5 0zm19 0zm42 0zm13 0zm22 0zm8 0zm4 0zm105 0zm16 0zm9 0zm14 0zm15 0zm6 0zm1 0zm1 0zm317 0zm23 0zm-1292 1zm22 0zm21 0zm13 0zm205 0zm0 0zm12 0zm0 0zm28 0zm329 0zm1 0zm11 0zm6 0zm5 0zm1 0zm27 0zm6 0zm3 0zm6 0zm33 0zm13 0zm4 0zm3 0zm22 0zm5 0zm4 0zm114 0zm2 0zm9 0zm2 0zm10 0zm12 0zm1 0zm8 0zm3 0zm1 0zm1 0zm15 0zm328 0zm2 0zm4 0zm8 0zm17 0zm3 0zm-1302 1zm5 0zm29 0zm8 0zm203 0zm4 0zm26 0zm1 0zm12 0zm8 0zm4 0zm2 0zm1 0zm5 0zm302 0zm5 0zm9 0zm3 0zm4 0zm2 0zm5 0zm4 0zm9 0zm3 0zm1 0zm5 0zm15 0zm42 0zm9 0zm16 0zm4 0zm3 0zm5 0zm133 0zm22 0zm22 0zm6 0zm315 0zm2 0zm11 0zm2 0zm7 0zm4 0zm3 0zm2 0zm16 0zm3 0zm-1310 1zm16 0zm20 0zm13 0zm1 0zm3 0zm208 0zm9 0zm9 0zm14 0zm8 0zm2 0zm5 0zm318 0zm13 0zm11 0zm7 0zm1 0zm27 0zm2 0zm32 0zm24 0zm11 0zm3 0zm4 0zm21 0zm98 0zm23 0zm12 0zm3 0zm1 0zm3 0zm1 0zm2 0zm4 0zm16 0zm0 0zm317 0zm1 0zm18 0zm4 0zm24 0zm-1300 1zm0 0zm23 0zm1 0zm4 0zm5 0zm9 0zm0 0zm3 0zm201 0zm4 0zm0 0zm3 0zm9 0zm17 0zm333 0zm16 0zm0 0zm6 0zm1 0zm5 0zm3 0zm4 0zm6 0zm0 0zm9 0zm1 0zm0 0zm9 0zm7 0zm32 0zm1 0zm28 0zm1 0zm12 0zm2 0zm5 0zm118 0zm4 0zm7 0zm5 0zm6 0zm7 0zm7 0zm16 0zm2 0zm343 0zm16 0zm0 0zm-1311 1zm8 0zm3 0zm7 0zm5 0zm2 0zm10 0zm7 0zm3 0zm212 0zm10 0zm0 0zm16 0zm13 0zm17 0zm6 0zm311 0zm11 0zm0 0zm12 0zm4 0zm8 0zm5 0zm7 0zm1 0zm1 0zm8 0zm1 0zm1 0zm2 0zm1 0zm1 0zm41 0zm15 0zm5 0zm9 0zm15 0zm7 0zm107 0zm7 0zm3 0zm0 0zm12 0zm1 0zm4 0zm24 0zm12 0zm1 0zm316 0zm17 0zm-1291 1zm4 0zm2 0zm2 0zm6 0zm14 0zm21 0zm17 0zm200 0zm2 0zm5 0zm27 0zm10 0zm2 0zm3 0zm0 0zm314 0zm5 0zm1 0zm8 0zm1 0zm17 0zm27 0zm9 0zm4 0zm55 0zm28 0zm4 0zm6 0zm5 0zm93 0zm6 0zm3 0zm5 0zm2 0zm1 0zm17 0zm19 0zm1 0zm7 0zm321 0zm2 0zm14 0zm2 0zm4 0zm4 0zm-1283 1zm4 0zm9 0zm18 0zm8 0zm0 0zm4 0zm5 0zm194 0zm14 0zm3 0zm7 0zm2 0zm13 0zm1 0zm4 0zm6 0zm9 0zm11 0zm311 0zm10 0zm10 0zm15 0zm9 0zm9 0zm5 0zm41 0zm1 0zm8 0zm18 0zm31 0zm5 0zm90 0zm5 0zm5 0zm19 0zm9 0zm3 0zm5 0zm6 0zm2 0zm2 0zm5 0zm325 0zm6 0zm29 0zm-1316 1zm3 0zm8 0zm2 0zm16 0zm15 0zm14 0zm4 0zm3 0zm200 0zm2 0zm21 0zm5 0zm1 0zm12 0zm328 0zm4 0zm5 0zm9 0zm0 0zm8 0zm9 0zm5 0zm2 0zm0 0zm7 0zm1 0zm2 0zm1 0zm8 0zm0 0zm1 0zm5 0zm1 0zm54 0zm16 0zm2 0zm9 0zm1 0zm115 0zm5 0zm1 0zm3 0zm4 0zm6 0zm17 0zm7 0zm10 0zm2 0zm5 0zm336 0zm32 0zm-1312 1zm4 0zm2 0zm5 0zm4 0zm6 0zm232 0zm13 0zm26 0zm337 0zm0 0zm4 0zm3 0zm19 0zm5 0zm14 0zm10 0zm37 0zm10 0zm11 0zm25 0zm10 0zm117 0zm3 0zm3 0zm3 0zm8 0zm32 0zm328 0zm10 0zm9 0zm13 0zm-1316 1zm10 0zm13 0zm13 0zm223 0zm1 0zm7 0zm4 0zm16 0zm348 0zm11 0zm3 0zm1 0zm1 0zm3 0zm5 0zm7 0zm12 0zm0 0zm7 0zm1 0zm10 0zm40 0zm7 0zm6 0zm52 0zm104 0zm30 0zm1 0zm18 0zm8 0zm1 0zm308 0zm0 0zm20 0zm19 0zm6 0zm-1315 1zm6 0zm7 0zm26 0zm2 0zm217 0zm17 0zm13 0zm8 0zm340 0zm18 0zm10 0zm1 0zm2 0zm5 0zm7 0zm10 0zm5 0zm38 0zm11 0zm10 0zm27 0zm3 0zm10 0zm7 0zm1 0zm1 0zm95 0zm20 0zm17 0zm25 0zm2 0zm362 0zm-1326 1zm30 0zm1 0zm5 0zm7 0zm3 0zm4 0zm15 0zm200 0zm22 0zm3 0zm35 0zm319 0zm2 0zm2 0zm7 0zm8 0zm3 0zm5 0zm13 0zm70 0zm1 0zm35 0zm114 0zm2 0zm8 0zm6 0zm1 0zm16 0zm1 0zm10 0zm17 0zm306 0zm0 0zm56 0zm-1324 1zm10 0zm13 0zm12 0zm0 0zm11 0zm5 0zm11 0zm199 0zm20 0zm4 0zm1 0zm5 0zm0 0zm1 0zm10 0zm21 0zm329 0zm29 0zm15 0zm0 0zm36 0zm12 0zm10 0zm14 0zm6 0zm16 0zm103 0zm1 0zm10 0zm29 0zm2 0zm1 0zm1 0zm5 0zm12 0zm1 0zm4 0zm0 0zm311 0zm10 0zm12 0zm22 0zm2 0zm0 0zm2 0zm7 0zm-1326 1zm10 0zm9 0zm1 0zm5 0zm5 0zm2 0zm2 0zm5 0zm3 0zm3 0zm22 0zm195 0zm32 0zm0 0zm1 0zm5 0zm342 0zm2 0zm5 0zm5 0zm10 0zm3 0zm8 0zm6 0zm18 0zm34 0zm45 0zm128 0zm5 0zm12 0zm2 0zm0 0zm2 0zm4 0zm5 0zm9 0zm325 0zm3 0zm10 0zm5 0zm6 0zm3 0zm5 0zm9 0zm10 0zm1 0zm-1323 1zm0 0zm34 0zm9 0zm3 0zm3 0zm8 0zm11 0zm206 0zm3 0zm13 0zm2 0zm28 0zm324 0zm2 0zm10 0zm2 0zm10 0zm8 0zm2 0zm21 0zm2 0zm38 0zm18 0zm37 0zm104 0zm22 0zm0 0zm9 0zm10 0zm11 0zm14 0zm318 0zm18 0zm5 0zm17 0zm5 0zm-1325 1zm10 0zm7 0zm3 0zm7 0zm11 0zm0 0zm4 0zm26 0zm210 0zm3 0zm8 0zm6 0zm5 0zm5 0zm9 0zm10 0zm308 0zm6 0zm11 0zm14 0zm10 0zm18 0zm4 0zm2 0zm76 0zm1 0zm19 0zm2 0zm115 0zm1 0zm13 0zm4 0zm3 0zm1 0zm11 0zm3 0zm5 0zm322 0zm27 0zm9 0zm2 0zm7 0zm2 0zm-1315 1zm13 0zm4 0zm3 0zm2 0zm4 0zm8 0zm14 0zm1 0zm9 0zm203 0zm0 0zm9 0zm34 0zm14 0zm312 0zm62 0zm35 0zm8 0zm6 0zm3 0zm36 0zm3 0zm110 0zm4 0zm9 0zm3 0zm1 0zm3 0zm9 0zm2 0zm2 0zm27 0zm2 0zm2 0zm315 0zm2 0zm10 0zm7 0zm0 0zm3 0zm6 0zm0 0zm4 0zm11 0zm8 0zm1 0zm-1332 1zm1 0zm13 0zm1 0zm3 0zm3 0zm1 0zm8 0zm2 0zm27 0zm5 0zm4 0zm206 0zm24 0zm3 0zm8 0zm5 0zm6 0zm322 0zm2 0zm33 0zm12 0zm11 0zm47 0zm35 0zm11 0zm116 0zm3 0zm4 0zm7 0zm4 0zm17 0zm7 0zm3 0zm316 0zm15 0zm13 0zm7 0zm5 0zm20 0zm-1319 1zm5 0zm4 0zm18 0zm4 0zm5 0zm2 0zm8 0zm224 0zm8 0zm11 0zm5 0zm7 0zm16 0zm1 0zm1 0zm316 0zm7 0zm0 0zm4 0zm19 0zm1 0zm0 0zm11 0zm6 0zm88 0zm19 0zm2 0zm2 0zm97 0zm8 0zm5 0zm1 0zm4 0zm23 0zm6 0zm11 0zm3 0zm0 0zm310 0zm25 0zm1 0zm11 0zm22 0zm-1314 1zm10 0zm12 0zm2 0zm3 0zm12 0zm0 0zm2 0zm1 0zm12 0zm194 0zm2 0zm5 0zm11 0zm7 0zm6 0zm25 0zm6 0zm313 0zm2 0zm19 0zm1 0zm10 0zm6 0zm4 0zm1 0zm7 0zm6 0zm4 0zm42 0zm13 0zm8 0zm30 0zm10 0zm95 0zm1 0zm16 0zm3 0zm20 0zm12 0zm4 0zm313 0zm7 0zm9 0zm8 0zm6 0zm11 0zm18 0zm-1308 1zm8 0zm0 0zm3 0zm4 0zm1 0zm20 0zm6 0zm208 0zm35 0zm15 0zm5 0zm319 0zm5 0zm3 0zm0 0zm31 0zm8 0zm48 0zm4 0zm15 0zm12 0zm3 0zm6 0zm2 0zm15 0zm100 0zm3 0zm1 0zm4 0zm2 0zm21 0zm2 0zm12 0zm343 0zm4 0zm0 0zm6 0zm27 0zm8 0zm4 0zm-1329 1zm13 0zm0 0zm3 0zm9 0zm20 0zm1 0zm219 0zm6 0zm15 0zm8 0zm5 0zm17 0zm321 0zm12 0zm40 0zm55 0zm3 0zm7 0zm14 0zm29 0zm97 0zm4 0zm5 0zm22 0zm2 0zm11 0zm5 0zm334 0zm1 0zm36 0zm5 0zm2 0zm-1318 1zm1 0zm4 0zm23 0zm7 0zm4 0zm1 0zm2 0zm10 0zm4 0zm2 0zm199 0zm19 0zm8 0zm13 0zm349 0zm0 0zm7 0zm6 0zm2 0zm4 0zm2 0zm2 0zm10 0zm6 0zm5 0zm46 0zm0 0zm7 0zm6 0zm14 0zm137 0zm11 0zm14 0zm23 0zm315 0zm9 0zm7 0zm3 0zm4 0zm7 0zm1 0zm2 0zm21 0zm-1321 1zm1 0zm7 0zm19 0zm9 0zm0 0zm13 0zm2 0zm1 0zm0 0zm10 0zm1 0zm5 0zm191 0zm20 0zm0 0zm19 0zm3 0zm24 0zm3 0zm312 0zm7 0zm26 0zm1 0zm10 0zm10 0zm1 0zm55 0zm0 0zm27 0zm5 0zm2 0zm0 0zm9 0zm103 0zm6 0zm0 0zm6 0zm2 0zm17 0zm0 0zm7 0zm3 0zm2 0zm5 0zm324 0zm4 0zm5 0zm0 0zm2 0zm5 0zm19 0zm11 0zm5 0zm13 0zm-1334 1zm14 0zm3 0zm1 0zm0 0zm18 0zm1 0zm4 0zm1 0zm17 0zm2 0zm3 0zm221 0zm27 0zm0 0zm6 0zm320 0zm6 0zm2 0zm3 0zm23 0zm18 0zm3 0zm2 0zm43 0zm35 0zm11 0zm3 0zm6 0zm1 0zm106 0zm30 0zm1 0zm9 0zm3 0zm0 0zm6 0zm13 0zm304 0zm16 0zm0 0zm4 0zm2 0zm12 0zm4 0zm1 0zm-1304 1zm2 0zm4 0zm24 0zm0 0zm19 0zm2 0zm4 0zm2 0zm8 0zm2 0zm1 0zm200 0zm2 0zm9 0zm2 0zm18 0zm15 0zm13 0zm3 0zm313 0zm18 0zm5 0zm4 0zm17 0zm62 0zm38 0zm113 0zm16 0zm14 0zm2 0zm3 0zm6 0zm5 0zm321 0zm4 0zm17 0zm3 0zm1 0zm3 0zm4 0zm2 0zm26 0zm-1326 1zm6 0zm4 0zm3 0zm2 0zm9 0zm2 0zm1 0zm14 0zm1 0zm7 0zm17 0zm216 0zm2 0zm30 0zm5 0zm2 0zm5 0zm322 0zm3 0zm11 0zm10 0zm7 0zm11 0zm64 0zm15 0zm10 0zm124 0zm2 0zm1 0zm1 0zm27 0zm12 0zm4 0zm315 0zm39 0zm3 0zm0 0zm9 0zm-1296 1zm4 0zm2 0zm5 0zm7 0zm0 0zm7 0zm4 0zm4 0zm2 0zm14 0zm198 0zm9 0zm2 0zm361 0zm38 0zm65 0zm17 0zm7 0zm26 0zm4 0zm2 0zm100 0zm12 0zm13 0zm341 0zm30 0zm13 0zm9 0zm-1316 1zm4 0zm4 0zm11 0zm30 0zm4 0zm14 0zm217 0zm3 0zm29 0zm326 0zm25 0zm6 0zm9 0zm0 0zm4 0zm91 0zm6 0zm120 0zm5 0zm4 0zm18 0zm342 0zm2 0zm9 0zm4 0zm20 0zm6 0zm-1313 1zm4 0zm30 0zm1 0zm21 0zm3 0zm7 0zm195 0zm8 0zm4 0zm2 0zm5 0zm24 0zm10 0zm1 0zm6 0zm327 0zm46 0zm212 0zm4 0zm12 0zm8 0zm3 0zm5 0zm1 0zm1 0zm323 0zm11 0zm2 0zm2 0zm2 0zm3 0zm4 0zm15 0zm2 0zm28 0zm-1330 1zm9 0zm5 0zm7 0zm0 0zm8 0zm1 0zm8 0zm223 0zm1 0zm12 0zm10 0zm4 0zm25 0zm3 0zm323 0zm1 0zm4 0zm9 0zm15 0zm239 0zm10 0zm9 0zm5 0zm10 0zm333 0zm21 0zm0 0zm1 0zm2 0zm13 0zm1 0zm13 0zm2 0zm3 0zm-1329 1zm21 0zm3 0zm5 0zm0 0zm2 0zm9 0zm3 0zm3 0zm1 0zm2 0zm209 0zm4 0zm17 0zm0 0zm4 0zm7 0zm7 0zm22 0zm342 0zm13 0zm2 0zm1 0zm2 0zm3 0zm4 0zm212 0zm2 0zm17 0zm0 0zm21 0zm4 0zm341 0zm18 0zm5 0zm12 0zm1 0zm2 0zm5 0zm5 0zm-1327 1zm14 0zm11 0zm4 0zm6 0zm243 0zm20 0zm11 0zm328 0zm6 0zm40 0zm219 0zm18 0zm22 0zm5 0zm326 0zm17 0zm1 0zm1 0zm12 0zm1 0zm3 0zm6 0zm9 0zm1 0zm465 0zm-1796 1zm8 0zm1 0zm4 0zm11 0zm0 0zm6 0zm19 0zm0 0zm2 0zm10 0zm2 0zm2 0zm195 0zm28 0zm17 0zm344 0zm10 0zm10 0zm1 0zm2 0zm2 0zm0 0zm5 0zm12 0zm211 0zm12 0zm40 0zm309 0zm13 0zm5 0zm1 0zm14 0zm1 0zm3 0zm13 0zm21 0zm478 0zm5 0zm11 0zm4 0zm-1827 1zm27 0zm8 0zm4 0zm9 0zm209 0zm15 0zm380 0zm13 0zm10 0zm233 0zm4 0zm34 0zm323 0zm1 0zm1 0zm0 0zm30 0zm1 0zm6 0zm475 0zm0 0zm10 0zm27 0zm3 0zm0 0zm7 0zm-1831 1zm3 0zm5 0zm1 0zm2 0zm2 0zm12 0zm3 0zm2 0zm0 0zm11 0zm7 0zm4 0zm214 0zm21 0zm11 0zm18 0zm1 0zm323 0zm10 0zm13 0zm6 0zm254 0zm336 0zm1 0zm1 0zm14 0zm29 0zm0 0zm6 0zm10 0zm4 0zm477 0zm2 0zm13 0zm12 0zm3 0zm2 0zm-1820 1zm0 0zm6 0zm18 0zm14 0zm212 0zm4 0zm36 0zm2 0zm17 0zm348 0zm1 0zm1 0zm590 0zm25 0zm0 0zm12 0zm16 0zm8 0zm2 0zm5 0zm1 0zm451 0zm31 0zm11 0zm-1811 1zm7 0zm2 0zm1 0zm2 0zm7 0zm11 0zm5 0zm207 0zm9 0zm14 0zm38 0zm334 0zm10 0zm612 0zm1 0zm1 0zm0 0zm6 0zm19 0zm483 0zm11 0zm6 0zm1 0zm11 0zm3 0zm15 0zm-1823 1zm3 0zm7 0zm10 0zm6 0zm0 0zm18 0zm4 0zm11 0zm200 0zm4 0zm14 0zm5 0zm2 0zm13 0zm2 0zm3 0zm8 0zm3 0zm326 0zm0 0zm4 0zm3 0zm8 0zm8 0zm13 0zm582 0zm2 0zm1 0zm0 0zm1 0zm23 0zm3 0zm2 0zm6 0zm10 0zm5 0zm1 0zm13 0zm454 0zm14 0zm4 0zm6 0zm1 0zm23 0zm2 0zm-1819 1zm7 0zm0 0zm8 0zm11 0zm0 0zm3 0zm13 0zm4 0zm213 0zm28 0zm348 0zm4 0zm6 0zm14 0zm589 0zm5 0zm6 0zm8 0zm9 0zm12 0zm12 0zm481 0zm1 0zm7 0zm28 0zm-1837 1zm5 0zm19 0zm0 0zm3 0zm4 0zm27 0zm1 0zm1 0zm224 0zm17 0zm30 0zm320 0zm7 0zm2 0zm607 0zm3 0zm3 0zm5 0zm0 0zm10 0zm1 0zm5 0zm1 0zm0 0zm4 0zm0 0zm1 0zm10 0zm8 0zm5 0zm2 0zm3 0zm226 0zm18 0zm216 0zm4 0zm12 0zm8 0zm8 0zm4 0zm-1819 1zm22 0zm33 0zm203 0zm18 0zm21 0zm1 0zm8 0zm966 0zm7 0zm1 0zm8 0zm0 0zm4 0zm0 0zm16 0zm9 0zm2 0zm6 0zm3 0zm40 0zm2 0zm3 0zm155 0zm2 0zm10 0zm8 0zm19 0zm1 0zm5 0zm7 0zm256 0zm0 0zm-1836 1zm9 0zm11 0zm241 0zm8 0zm22 0zm2 0zm0 0zm11 0zm5 0zm8 0zm1 0zm950 0zm3 0zm7 0zm2 0zm8 0zm0 0zm3 0zm20 0zm1 0zm6 0zm1 0zm4 0zm1 0zm38 0zm197 0zm12 0zm7 0zm204 0zm1 0zm4 0zm2 0zm9 0zm0 0zm15 0zm5 0zm0 0zm14 0zm1 0zm-1830 1zm14 0zm5 0zm11 0zm19 0zm207 0zm36 0zm9 0zm980 0zm16 0zm5 0zm2 0zm2 0zm1 0zm6 0zm49 0zm4 0zm17 0zm142 0zm1 0zm9 0zm16 0zm9 0zm8 0zm231 0zm8 0zm9 0zm9 0zm-1834 1zm16 0zm3 0zm33 0zm4 0zm7 0zm6 0zm227 0zm4 0zm972 0zm2 0zm10 0zm9 0zm8 0zm2 0zm1 0zm1 0zm3 0zm14 0zm2 0zm1 0zm4 0zm39 0zm14 0zm16 0zm16 0zm4 0zm121 0zm2 0zm10 0zm3 0zm14 0zm5 0zm4 0zm212 0zm3 0zm-1789 1zm20 0zm2 0zm3 0zm2 0zm5 0zm7 0zm1 0zm4 0zm16 0zm210 0zm17 0zm18 0zm18 0zm3 0zm949 0zm28 0zm8 0zm5 0zm82 0zm5 0zm21 0zm106 0zm0 0zm6 0zm33 0zm1 0zm211 0zm7 0zm2 0zm6 0zm21 0zm3 0zm6 0zm3 0zm0 0zm8 0zm1 0zm-1830 1zm13 0zm1 0zm18 0zm2 0zm15 0zm2 0zm0 0zm209 0zm10 0zm16 0zm24 0zm1 0zm9 0zm938 0zm0 0zm3 0zm1 0zm12 0zm1 0zm3 0zm17 0zm12 0zm1 0zm9 0zm103 0zm101 0zm8 0zm6 0zm5 0zm19 0zm237 0zm15 0zm3 0zm1 0zm2 0zm2 0zm7 0zm1 0zm-1824 1zm9 0zm7 0zm18 0zm1 0zm1 0zm216 0zm3 0zm18 0zm31 0zm11 0zm945 0zm8 0zm0 0zm5 0zm12 0zm17 0zm1 0zm0 0zm1 0zm7 0zm1 0zm10 0zm66 0zm21 0zm14 0zm104 0zm16 0zm6 0zm0 0zm14 0zm8 0zm1 0zm2 0zm199 0zm9 0zm19 0zm4 0zm3 0zm5 0zm2 0zm-1824 1zm11 0zm1 0zm5 0zm10 0zm2 0zm17 0zm3 0zm9 0zm4 0zm5 0zm196 0zm50 0zm952 0zm10 0zm14 0zm9 0zm9 0zm6 0zm2 0zm109 0zm6 0zm95 0zm12 0zm5 0zm9 0zm17 0zm2 0zm11 0zm3 0zm196 0zm28 0zm4 0zm9 0zm6 0zm0 0zm9 0zm1 0zm-1833 1zm1 0zm8 0zm13 0zm7 0zm2 0zm3 0zm5 0zm15 0zm8 0zm203 0zm53 0zm940 0zm5 0zm9 0zm1 0zm2 0zm8 0zm2 0zm13 0zm3 0zm11 0zm50 0zm2 0zm7 0zm3 0zm6 0zm8 0zm1 0zm9 0zm123 0zm1 0zm29 0zm6 0zm248 0zm-1810 1zm5 0zm1 0zm9 0zm16 0zm7 0zm1 0zm3 0zm22 0zm199 0zm9 0zm1 0zm43 0zm1 0zm8 0zm0 0zm2 0zm935 0zm6 0zm15 0zm3 0zm3 0zm1 0zm3 0zm1 0zm10 0zm4 0zm9 0zm8 0zm3 0zm2 0zm68 0zm5 0zm129 0zm1 0zm8 0zm3 0zm14 0zm8 0zm5 0zm210 0zm3 0zm9 0zm33 0zm2 0zm3 0zm4 0zm1 0zm2 0zm-1832 1zm12 0zm3 0zm11 0zm25 0zm5 0zm2 0zm2 0zm194 0zm0 0zm1 0zm2 0zm1 0zm4 0zm0 0zm13 0zm6 0zm23 0zm5 0zm972 0zm1 0zm5 0zm2 0zm4 0zm21 0zm4 0zm47 0zm58 0zm106 0zm3 0zm1 0zm22 0zm3 0zm4 0zm19 0zm1 0zm214 0zm14 0zm0 0zm1 0zm23 0zm-1826 1zm9 0zm3 0zm8 0zm240 0zm2 0zm1 0zm0 0zm8 0zm0 0zm9 0zm8 0zm23 0zm947 0zm9 0zm9 0zm1 0zm2 0zm5 0zm4 0zm8 0zm13 0zm63 0zm13 0zm7 0zm1 0zm17 0zm110 0zm24 0zm5 0zm1 0zm6 0zm2 0zm9 0zm7 0zm194 0zm5 0zm1 0zm35 0zm3 0zm-1820 1zm23 0zm30 0zm0 0zm198 0zm15 0zm26 0zm964 0zm1 0zm1 0zm11 0zm17 0zm5 0zm6 0zm13 0zm10 0zm0 0zm3 0zm42 0zm18 0zm19 0zm6 0zm3 0zm3 0zm7 0zm119 0zm4 0zm21 0zm1 0zm4 0zm13 0zm190 0zm40 0zm17 0zm-1829 1zm5 0zm2 0zm0 0zm4 0zm4 0zm6 0zm3 0zm1 0zm0 0zm10 0zm6 0zm2 0zm2 0zm11 0zm200 0zm2 0zm11 0zm6 0zm4 0zm14 0zm1 0zm0 0zm6 0zm16 0zm3 0zm938 0zm2 0zm13 0zm1 0zm1 0zm14 0zm9 0zm0 0zm1 0zm16 0zm53 0zm149 0zm1 0zm36 0zm8 0zm6 0zm3 0zm9 0zm197 0zm10 0zm0 0zm23 0zm5 0zm-1825 1zm4 0zm8 0zm16 0zm1 0zm6 0zm14 0zm14 0zm2 0zm4 0zm194 0zm16 0zm2 0zm10 0zm2 0zm3 0zm984 0zm6 0zm4 0zm0 0zm2 0zm11 0zm6 0zm2 0zm3 0zm6 0zm9 0zm8 0zm37 0zm6 0zm2 0zm2 0zm4 0zm11 0zm22 0zm104 0zm9 0zm0 0zm34 0zm8 0zm7 0zm0 0zm5 0zm3 0zm194 0zm1 0zm8 0zm18 0zm14 0zm13 0zm-1827 1zm7 0zm19 0zm1 0zm5 0zm11 0zm3 0zm103 0zm114 0zm9 0zm25 0zm958 0zm8 0zm0 0zm8 0zm8 0zm11 0zm4 0zm1 0zm10 0zm3 0zm1 0zm1 0zm60 0zm5 0zm2 0zm5 0zm22 0zm15 0zm93 0zm6 0zm9 0zm1 0zm16 0zm5 0zm6 0zm8 0zm10 0zm2 0zm2 0zm203 0zm11 0zm11 0zm2 0zm1 0zm6 0zm3 0zm5 0zm12 0zm-1831 1zm8 0zm14 0zm18 0zm1 0zm6 0zm0 0zm85 0zm27 0zm103 0zm10 0zm5 0zm20 0zm960 0zm3 0zm1 0zm11 0zm5 0zm14 0zm8 0zm1 0zm3 0zm19 0zm49 0zm12 0zm131 0zm15 0zm1 0zm12 0zm1 0zm2 0zm15 0zm8 0zm5 0zm213 0zm15 0zm11 0zm1 0zm3 0zm10 0zm-1837 1zm5 0zm2 0zm2 0zm22 0zm11 0zm21 0zm1 0zm4 0zm39 0zm16 0zm14 0zm16 0zm3 0zm11 0zm5 0zm101 0zm37 0zm7 0zm961 0zm4 0zm14 0zm3 0zm1 0zm1 0zm7 0zm6 0zm1 0zm1 0zm6 0zm2 0zm2 0zm62 0zm14 0zm20 0zm12 0zm94 0zm10 0zm14 0zm2 0zm11 0zm2 0zm8 0zm4 0zm12 0zm203 0zm5 0zm1 0zm3 0zm11 0zm20 0zm-1830 1zm12 0zm1 0zm3 0zm14 0zm1 0zm7 0zm9 0zm10 0zm4 0zm52 0zm14 0zm22 0zm6 0zm129 0zm1011 0zm10 0zm2 0zm9 0zm14 0zm90 0zm11 0zm2 0zm94 0zm12 0zm6 0zm8 0zm9 0zm23 0zm209 0zm25 0zm7 0zm10 0zm2 0zm-1819 1zm0 0zm31 0zm6 0zm9 0zm40 0zm5 0zm7 0zm6 0zm19 0zm17 0zm96 0zm2 0zm10 0zm6 0zm12 0zm4 0zm975 0zm8 0zm3 0zm6 0zm25 0zm7 0zm3 0zm7 0zm2 0zm0 0zm5 0zm1 0zm0 0zm34 0zm20 0zm16 0zm4 0zm9 0zm2 0zm115 0zm4 0zm15 0zm4 0zm6 0zm2 0zm4 0zm0 0zm14 0zm217 0zm3 0zm9 0zm7 0zm4 0zm7 0zm-1829 1zm3 0zm1 0zm22 0zm1 0zm15 0zm0 0zm5 0zm3 0zm3 0zm6 0zm1 0zm6 0zm42 0zm13 0zm16 0zm121 0zm6 0zm17 0zm2 0zm0 0zm4 0zm7 0zm2 0zm5 0zm19 0zm942 0zm20 0zm1 0zm12 0zm3 0zm9 0zm1 0zm11 0zm63 0zm10 0zm21 0zm7 0zm5 0zm2 0zm94 0zm19 0zm18 0zm1 0zm7 0zm12 0zm1 0zm211 0zm14 0zm5 0zm1 0zm2 0zm7 0zm7 0zm1 0zm15 0zm-1832 1zm1 0zm3 0zm4 0zm1 0zm0 0zm2 0zm11 0zm1 0zm3 0zm12 0zm3 0zm7 0zm4 0zm2 0zm4 0zm35 0zm39 0zm117 0zm23 0zm32 0zm12 0zm939 0zm3 0zm2 0zm3 0zm7 0zm7 0zm3 0zm2 0zm3 0zm8 0zm17 0zm2 0zm2 0zm73 0zm9 0zm1 0zm0 0zm5 0zm4 0zm4 0zm103 0zm1 0zm4 0zm6 0zm27 0zm2 0zm4 0zm25 0zm184 0zm4 0zm8 0zm24 0zm10 0zm5 0zm17 0zm-1835 1zm12 0zm3 0zm5 0zm11 0zm0 0zm2 0zm11 0zm8 0zm88 0zm3 0zm18 0zm2 0zm101 0zm4 0zm22 0zm977 0zm2 0zm2 0zm20 0zm21 0zm0 0zm3 0zm41 0zm9 0zm9 0zm26 0zm4 0zm2 0zm138 0zm5 0zm10 0zm7 0zm6 0zm0 0zm7 0zm4 0zm186 0zm1 0zm1 0zm10 0zm2 0zm8 0zm10 0zm14 0zm1 0zm1 0zm4 0zm10 0zm4 0zm-1847 1zm3 0zm1 0zm11 0zm10 0zm0 0zm8 0zm8 0zm5 0zm2 0zm13 0zm7 0zm41 0zm16 0zm6 0zm19 0zm11 0zm9 0zm103 0zm15 0zm22 0zm11 0zm6 0zm945 0zm13 0zm2 0zm2 0zm15 0zm6 0zm12 0zm4 0zm6 0zm3 0zm34 0zm7 0zm7 0zm21 0zm1 0zm9 0zm3 0zm121 0zm9 0zm5 0zm1 0zm2 0zm6 0zm6 0zm13 0zm0 0zm1 0zm8 0zm6 0zm185 0zm1 0zm0 0zm1 0zm3 0zm9 0zm4 0zm1 0zm5 0zm5 0zm6 0zm13 0zm12 0zm0 0zm2 0zm7 0zm-1842 1zm12 0zm4 0zm4 0zm11 0zm8 0zm7 0zm12 0zm69 0zm3 0zm21 0zm106 0zm45 0zm956 0zm21 0zm20 0zm4 0zm20 0zm4 0zm34 0zm57 0zm99 0zm11 0zm3 0zm1 0zm19 0zm28 0zm193 0zm1 0zm2 0zm2 0zm10 0zm2 0zm6 0zm6 0zm2 0zm34 0zm-1835 1zm15 0zm1 0zm0 0zm10 0zm0 0zm10 0zm0 0zm2 0zm6 0zm2 0zm10 0zm2 0zm2 0zm1 0zm46 0zm10 0zm19 0zm3 0zm8 0zm150 0zm2 0zm10 0zm952 0zm1 0zm4 0zm4 0zm16 0zm3 0zm2 0zm35 0zm45 0zm31 0zm114 0zm1 0zm12 0zm1 0zm24 0zm8 0zm2 0zm9 0zm5 0zm213 0zm7 0zm6 0zm4 0zm5 0zm16 0zm5 0zm-1832 1zm12 0zm11 0zm2 0zm1 0zm11 0zm2 0zm3 0zm13 0zm47 0zm2 0zm13 0zm1 0zm8 0zm18 0zm18 0zm93 0zm24 0zm9 0zm13 0zm8 0zm948 0zm2 0zm17 0zm5 0zm12 0zm4 0zm1 0zm27 0zm39 0zm2 0zm1 0zm0 0zm5 0zm2 0zm24 0zm17 0zm113 0zm4 0zm15 0zm11 0zm5 0zm2 0zm3 0zm1 0zm6 0zm0 0zm201 0zm3 0zm11 0zm9 0zm10 0zm1 0zm4 0zm5 0zm6 0zm3 0zm-1838 1zm18 0zm9 0zm25 0zm3 0zm50 0zm30 0zm0 0zm138 0zm24 0zm15 0zm8 0zm3 0zm944 0zm13 0zm28 0zm6 0zm14 0zm4 0zm2 0zm47 0zm29 0zm15 0zm9 0zm94 0zm8 0zm17 0zm3 0zm1 0zm19 0zm4 0zm1 0zm203 0zm18 0zm13 0zm24 0zm-1824 1zm2 0zm0 0zm4 0zm3 0zm2 0zm6 0zm15 0zm4 0zm12 0zm4 0zm3 0zm39 0zm20 0zm4 0zm39 0zm118 0zm12 0zm13 0zm6 0zm960 0zm2 0zm1 0zm16 0zm1 0zm0 0zm5 0zm3 0zm61 0zm11 0zm2 0zm5 0zm7 0zm9 0zm17 0zm17 0zm96 0zm13 0zm0 0zm8 0zm10 0zm5 0zm4 0zm1 0zm0 0zm1 0zm11 0zm3 0zm199 0zm7 0zm8 0zm2 0zm11 0zm15 0zm3 0zm6 0zm7 0zm-1839 1zm2 0zm4 0zm10 0zm3 0zm11 0zm1 0zm14 0zm2 0zm1 0zm6 0zm1 0zm49 0zm8 0zm17 0zm11 0zm2 0zm0 0zm3 0zm13 0zm3 0zm146 0zm956 0zm3 0zm16 0zm25 0zm10 0zm46 0zm14 0zm24 0zm9 0zm0 0zm3 0zm105 0zm6 0zm9 0zm4 0zm6 0zm7 0zm7 0zm15 0zm5 0zm2 0zm191 0zm4 0zm13 0zm12 0zm2 0zm6 0zm5 0zm1 0zm13 0zm1 0zm1 0zm-1838 1zm26 0zm20 0zm25 0zm47 0zm22 0zm177 0zm4 0zm944 0zm10 0zm1 0zm59 0zm54 0zm12 0zm2 0zm12 0zm22 0zm90 0zm1 0zm6 0zm2 0zm6 0zm2 0zm10 0zm7 0zm14 0zm0 0zm11 0zm8 0zm187 0zm21 0zm13 0zm8 0zm7 0zm5 0zm10 0zm-1836 1zm2 0zm8 0zm8 0zm4 0zm5 0zm1 0zm11 0zm10 0zm60 0zm29 0zm2 0zm10 0zm140 0zm966 0zm8 0zm1 0zm11 0zm2 0zm10 0zm6 0zm13 0zm1 0zm3 0zm6 0zm4 0zm3 0zm3 0zm34 0zm6 0zm0 0zm9 0zm14 0zm0 0zm29 0zm107 0zm16 0zm13 0zm25 0zm190 0zm6 0zm10 0zm1 0zm1 0zm3 0zm3 0zm2 0zm5 0zm4 0zm17 0zm5 0zm0 0zm6 0zm3 0zm-1845 1zm7 0zm5 0zm8 0zm2 0zm26 0zm0 0zm7 0zm1 0zm7 0zm55 0zm13 0zm3 0zm0 0zm0 0zm20 0zm6 0zm4 0zm143 0zm966 0zm4 0zm6 0zm10 0zm1 0zm3 0zm14 0zm7 0zm3 0zm3 0zm4 0zm59 0zm51 0zm89 0zm5 0zm9 0zm1 0zm28 0zm8 0zm12 0zm188 0zm6 0zm16 0zm1 0zm0 0zm1 0zm1 0zm3 0zm1 0zm23 0zm16 0zm2 0zm-1848 1zm1 0zm4 0zm2 0zm7 0zm2 0zm3 0zm7 0zm0 0zm1 0zm6 0zm0 0zm11 0zm4 0zm2 0zm1 0zm19 0zm33 0zm4 0zm9 0zm24 0zm13 0zm5 0zm9 0zm1100 0zm18 0zm6 0zm3 0zm30 0zm3 0zm5 0zm81 0zm21 0zm4 0zm89 0zm8 0zm0 0zm10 0zm7 0zm3 0zm0 0zm4 0zm2 0zm3 0zm0 0zm0 0zm11 0zm15 0zm195 0zm22 0zm0 0zm14 0zm5 0zm12 0zm9 0zm1 0zm-1840 1zm10 0zm0 0zm15 0zm3 0zm0 0zm17 0zm2 0zm15 0zm42 0zm1 0zm31 0zm4 0zm2 0zm10 0zm8 0zm2 0zm1137 0zm0 0zm7 0zm13 0zm1 0zm55 0zm10 0zm18 0zm3 0zm5 0zm1 0zm11 0zm104 0zm3 0zm3 0zm7 0zm5 0zm11 0zm1 0zm4 0zm5 0zm11 0zm219 0zm6 0zm2 0zm20 0zm5 0zm10 0zm2 0zm-1846 1zm12 0zm13 0zm0 0zm87 0zm3 0zm20 0zm11 0zm4 0zm0 0zm4 0zm5 0zm1109 0zm7 0zm1 0zm25 0zm3 0zm1 0zm20 0zm6 0zm43 0zm16 0zm23 0zm9 0zm4 0zm109 0zm5 0zm0 0zm1 0zm1 0zm7 0zm4 0zm6 0zm1 0zm10 0zm17 0zm2 0zm210 0zm10 0zm1 0zm8 0zm10 0zm0 0zm3 0zm8 0zm5 0zm-1829 1zm9 0zm1 0zm6 0zm13 0zm8 0zm13 0zm39 0zm23 0zm13 0zm11 0zm1127 0zm2 0zm5 0zm14 0zm16 0zm2 0zm9 0zm46 0zm2 0zm19 0zm1 0zm3 0zm129 0zm4 0zm2 0zm5 0zm10 0zm6 0zm3 0zm9 0zm2 0zm2 0zm2 0zm1 0zm20 0zm183 0zm11 0zm8 0zm5 0zm15 0zm11 0zm0 0zm4 0zm10 0zm3 0zm-1839 1zm5 0zm8 0zm2 0zm23 0zm10 0zm4 0zm98 0zm1119 0zm0 0zm1 0zm3 0zm14 0zm1 0zm14 0zm4 0zm9 0zm7 0zm77 0zm16 0zm5 0zm6 0zm1 0zm93 0zm8 0zm1 0zm6 0zm8 0zm2 0zm1 0zm4 0zm8 0zm8 0zm2 0zm9 0zm202 0zm4 0zm3 0zm2 0zm7 0zm2 0zm3 0zm10 0zm14 0zm6 0zm11 0zm-1835 1zm7 0zm10 0zm29 0zm2 0zm9 0zm1197 0zm0 0zm2 0zm33 0zm4 0zm20 0zm8 0zm3 0zm41 0zm31 0zm1 0zm24 0zm4 0zm102 0zm11 0zm6 0zm4 0zm2 0zm2 0zm8 0zm4 0zm9 0zm0 0zm2 0zm0 0zm192 0zm2 0zm2 0zm2 0zm17 0zm1 0zm5 0zm0 0zm1 0zm12 0zm2 0zm4 0zm14 0zm1 0zm0 0zm2 0zm1 0zm-1845 1zm21 0zm1 0zm10 0zm0 0zm23 0zm12 0zm5 0zm1201 0zm8 0zm6 0zm5 0zm1 0zm17 0zm58 0zm26 0zm13 0zm10 0zm119 0zm21 0zm5 0zm0 0zm14 0zm15 0zm188 0zm20 0zm6 0zm2 0zm2 0zm16 0zm24 0zm-1849 1zm2 0zm11 0zm15 0zm1 0zm4 0zm1 0zm34 0zm1216 0zm0 0zm6 0zm1 0zm12 0zm9 0zm18 0zm6 0zm63 0zm15 0zm24 0zm89 0zm2 0zm7 0zm2 0zm1 0zm11 0zm4 0zm21 0zm15 0zm193 0zm10 0zm0 0zm0 0zm7 0zm6 0zm5 0zm10 0zm7 0zm18 0zm-1844 1zm25 0zm4 0zm10 0zm1225 0zm26 0zm34 0zm71 0zm8 0zm2 0zm4 0zm23 0zm102 0zm21 0zm1 0zm1 0zm1 0zm0 0zm3 0zm2 0zm20 0zm5 0zm0 0zm198 0zm2 0zm9 0zm3 0zm1 0zm1 0zm0 0zm6 0zm3 0zm2 0zm7 0zm1 0zm1 0zm12 0zm1 0zm5 0zm-1836 1zm31 0zm9 0zm22 0zm1203 0zm2 0zm1 0zm3 0zm7 0zm13 0zm8 0zm6 0zm15 0zm1 0zm8 0zm0 0zm68 0zm6 0zm1 0zm23 0zm92 0zm12 0zm1 0zm2 0zm4 0zm1 0zm36 0zm5 0zm3 0zm1 0zm198 0zm15 0zm6 0zm1 0zm5 0zm3 0zm8 0zm0 0zm9 0zm1 0zm5 0zm2 0zm5 0zm-1818 1zm1 0zm5 0zm2 0zm7 0zm4 0zm9 0zm11 0zm1197 0zm5 0zm8 0zm3 0zm18 0zm2 0zm17 0zm75 0zm43 0zm93 0zm4 0zm14 0zm4 0zm29 0zm201 0zm4 0zm6 0zm18 0zm6 0zm10 0zm1 0zm2 0zm3 0zm4 0zm2 0zm10 0zm1 0zm-1814 1zm5 0zm8 0zm13 0zm1217 0zm4 0zm11 0zm5 0zm16 0zm2 0zm3 0zm0 0zm4 0zm48 0zm32 0zm1 0zm6 0zm9 0zm4 0zm106 0zm11 0zm2 0zm10 0zm5 0zm17 0zm204 0zm4 0zm10 0zm25 0zm3 0zm3 0zm4 0zm12 0zm1 0zm1 0zm5 0zm-1823 1zm3 0zm12 0zm11 0zm15 0zm1 0zm1205 0zm42 0zm9 0zm1 0zm6 0zm7 0zm37 0zm3 0zm20 0zm30 0zm108 0zm5 0zm0 0zm1 0zm1 0zm9 0zm4 0zm4 0zm2 0zm0 0zm29 0zm5 0zm2 0zm184 0zm2 0zm8 0zm12 0zm9 0zm6 0zm6 0zm13 0zm6 0zm2 0zm-1819 1zm4 0zm17 0zm1 0zm11 0zm2 0zm1207 0zm2 0zm38 0zm4 0zm8 0zm12 0zm215 0zm13 0zm15 0zm3 0zm4 0zm10 0zm1 0zm1 0zm198 0zm1 0zm9 0zm7 0zm4 0zm15 0zm4 0zm6 0zm9 0zm-1829 1zm2 0zm10 0zm1 0zm2 0zm1 0zm13 0zm13 0zm1210 0zm6 0zm3 0zm18 0zm2 0zm10 0zm0 0zm17 0zm202 0zm2 0zm13 0zm0 0zm3 0zm1 0zm5 0zm1 0zm15 0zm19 0zm4 0zm209 0zm14 0zm4 0zm0 0zm15 0zm13 0zm-1810 1zm12 0zm10 0zm1218 0zm12 0zm5 0zm26 0zm1 0zm1 0zm4 0zm201 0zm16 0zm5 0zm14 0zm0 0zm20 0zm203 0zm22 0zm7 0zm14 0zm0 0zm2 0zm3 0zm3 0zm1 0zm3 0zm-1806 1zm1241 0zm24 0zm28 0zm203 0zm0 0zm3 0zm6 0zm4 0zm4 0zm8 0zm24 0zm0 0zm8 0zm3 0zm7 0zm2 0zm196 0zm0 0zm25 0zm4 0zm9 0zm4 0zm-1815 1zm1254 0zm1 0zm26 0zm2 0zm3 0zm14 0zm11 0zm194 0zm11 0zm11 0zm7 0zm9 0zm14 0zm0 0zm211 0zm15 0zm8 0zm7 0zm17 0zm8 0zm2 0zm-1826 1zm1260 0zm1 0zm6 0zm6 0zm11 0zm4 0zm10 0zm1 0zm209 0zm8 0zm4 0zm10 0zm0 0zm19 0zm9 0zm16 0zm3 0zm191 0zm17 0zm9 0zm1 0zm0 0zm12 0zm9 0zm8 0zm-547 1zm4 0zm6 0zm6 0zm15 0zm4 0zm207 0zm12 0zm1 0zm14 0zm0 0zm15 0zm0 0zm5 0zm3 0zm2 0zm207 0zm15 0zm7 0zm-540 1zm11 0zm25 0zm4 0zm11 0zm202 0zm3 0zm13 0zm15 0zm3 0zm2 0zm16 0zm-305 1zm28 0zm1 0zm3 0zm7 0zm3 0zm7 0zm219 0zm14 0zm1 0zm3 0zm9 0zm1 0zm0 0zm3 0zm14 0zm-304 1zm6 0zm248 0zm1 0zm1 0zm2 0zm17 0zm3 0zm4 0zm0 0zm3 0zm3 0zm1 0zm16 0zm0 0zm-308 1zm25 0zm7 0zm221 0zm5 0zm3 0zm4 0zm4 0zm1 0zm10 0zm32 0zm-313 1zm16 0zm1 0zm1 0zm11 0zm2 0zm212 0zm16 0zm1 0zm18 0zm4 0zm25 0zm0 0zm-295 1zm20 0zm213 0zm1 0zm8 0zm1 0zm21 0zm21 0zm-292 1zm17 0zm234 0zm6 0zm30 0zm-289 1zm5 0zm15 0zm9 0zm1 0zm228 0zm0 0zm28 0zm1 0zm-291 1zm13 0zm13 0zm243 0zm6 0zm19 0zm0 0zm14 0zm-18 1zm8 0zm-50 1zm20 0zm3 0zm16 0zm1 0zm11 0zm1 0zm2 0zm4 0zm-47 1zm1 0zm13 0zm17 0zm-40 1zm9 0zm2 0zm34 0zm-26 1zm-15 1zm34 0zm7 0zm2 0zm1 0zm-39 1zm8 0zm3 0zm18 0zm-1284 1zm1 0zm3 0zm1 0zm1 0zm2 0zm4 0zm0 0zm1 0zm1 0zm0 0zm1 0zm2 0zm0 0zm4 0zm1244 0zm13 0zm9 0zm11 0zm-1571 1zm0 0zm1 0zm0 0zm1 0zm0 0zm0 0zm2 0zm0 0zm1 0zm0 0zm1 0zm0 0zm0 0zm0 0zm0 0zm1 0zm1 0zm0 0zm1 0zm0 0zm1 0zm1 0zm0 0zm1 0zm0 0zm0 0zm2 0zm0 0zm2 0zm2 0zm0 0zm2 0zm0 0zm0 0zm0 0zm0 0zm1 0zm1 0zm0 0zm1 0zm1 0zm1 0zm1 0zm0 0zm2 0zm1 0zm0 0zm0 0zm1 0zm0 0zm0 0zm0 0zm1 0zm1 0zm1 0zm0 0zm2 0zm1 0zm2 0zm1 0zm0 0zm1 0zm0 0zm1 0zm0 0zm1 0zm1 0zm2 0zm1 0zm0 0zm1 0zm1501 0zm2 0zm13 0zm-32 1zm11 1zm-16 1zm16 0zm11 0zm6 0zm-286 1zm0 0zm1 0zm0 0zm1 0zm0 0zm1 0zm1 0zm0 0zm2 0zm0 0zm1 0zm0 0zm1 0zm1 0zm0 0zm1 0zm1 0zm0 0zm0 0zm1 0zm1 0zm0 0zm0 0zm1 0zm0 0zm1 0zm1 0zm0 0zm1 0zm3 0zm1 0zm0 0zm0 0zm2 0zm0 0zm0 0zm1 0zm1 0zm1 0zm0 0zm1 0zm0 0zm0 0zm1 0zm0 0zm0 0zm217 0zm1 0zm1 0zm1 0zm0 0zm0 0zm3 0zm1 0zm0 0zm1 0zm1 0zm1 0zm1 0zm2 0zm0 0zm0 0zm2 0zm3 0zm1 0zm1 0zm2 0zm1 0zm0 0zm0 0zm3 0zm0 0zm0 0zm1 0zm0 0zm1 0zm0 0zm1 0zm1 0zm0 0zm1 0zm1 0zm1 0zm0 0zm1 0zm1 0zm2 0zm0 0zm2 0zm0 0zm1 0zm1 0zm0 0zm1 0zm1 0zm1 0zm0 0zm0 0zm1 0zm1 0zm1 0zm1 0zm0 0zm1 0zm0 0zm0 0zm1 0zm1 0zm5 0zm0 0zm0 0zm0 0zm201 0zm1 0zm0 0zm0 0zm0 0zm1 0zm2 0zm4 0zm0 0zm2 0zm2 0zm0 0zm0 0zm2 0zm1 0zm1 0zm0 0zm1 0zm1 0zm2 0zm0 0zm1 0zm1 0zm0 0zm0 0zm0 0zm3 0zm1 0zm0 0zm0 0zm0 0zm1 0zm1 0zm1 0zm3 0zm2 0zm1 0zm0 0zm2 0zm0 0zm1 0zm1 0zm1 0zm0 0zm2 0zm0 0zm0 0zm0 0zm2 0zm2 0zm2 0zm1 0zm1 0zm0 0zm1 0zm0 0zm-1798 399zm1 0zm3 1zm1186 0zm26 0zm-1230 1zm2 0zm29 0zm1176 0zm3 0zm5 0zm-1215 1zm7 0zm15 0zm1 0zm1216 0zm3 0zm-1235 1zm6 0zm1216 0zm14 0zm4 0zm-1222 1zm7 0zm6 0zm526 0zm669 0zm5 0zm-1227 1zm12 0zm1 0zm513 0zm2 0zm0 0zm10 0zm666 0zm32 0zm-1241 1zm5 0zm505 0zm7 0zm0 0zm5 0zm1 0zm15 0zm4 0zm10 0zm5 0zm646 0zm2 0zm26 0zm-1242 1zm31 0zm491 0zm22 0zm24 0zm663 0zm5 0zm-1239 1zm21 0zm16 0zm2 0zm4 0zm5 0zm474 0zm24 0zm662 0zm32 0zm10 0zm-1242 1zm4 0zm7 0zm13 0zm11 0zm1 0zm489 0zm38 0zm658 0zm16 0zm-1242 1zm3 0zm15 0zm8 0zm3 0zm14 0zm478 0zm3 0zm13 0zm668 0zm6 0zm-1183 1zm4 0zm1 0zm487 0zm12 0zm9 0zm2 0zm672 0zm7 0zm5 0zm26 0zm0 0zm-1236 1zm15 0zm5 0zm504 0zm13 0zm657 0zm6 0zm0 0zm15 0zm11 0zm9 0zm5 0zm0 0zm-1252 1zm5 0zm3 0zm4 0zm26 0zm1 0zm2 0zm488 0zm25 0zm3 0zm638 0zm12 0zm3 0zm1 0zm7 0zm13 0zm22 0zm-1244 1zm17 0zm491 0zm33 0zm9 0zm1 0zm636 0zm36 0zm-1205 1zm12 0zm1 0zm489 0zm13 0zm1 0zm10 0zm1 0zm653 0zm5 0zm41 0zm-1255 1zm10 0zm15 0zm2 0zm3 0zm487 0zm10 0zm37 0zm7 0zm-581 1zm33 0zm498 0zm0 0zm10 0zm681 0zm2 0zm12 0zm24 0zm7 0zm-1257 1zm15 0zm21 0zm1 0zm472 0zm53 0zm676 0zm3 0zm7 0zm5 0zm8 0zm-1263 1zm19 0zm9 0zm3 0zm1 0zm2 0zm7 0zm7 0zm465 0zm2 0zm9 0zm1 0zm18 0zm21 0zm633 0zm4 0zm2 0zm28 0zm15 0zm-1251 1zm8 0zm1 0zm1 0zm4 0zm0 0zm2 0zm30 0zm505 0zm2 0zm18 0zm0 0zm656 0zm23 0zm13 0zm-1266 1zm23 0zm3 0zm5 0zm25 0zm519 0zm637 0zm6 0zm17 0zm20 0zm5 0zm-1260 1zm11 0zm0 0zm1 0zm3 0zm18 0zm7 0zm8 0zm480 0zm6 0zm1 0zm11 0zm3 0zm2 0zm6 0zm22 0zm681 0zm-1248 1zm23 0zm7 0zm17 0zm0 0zm481 0zm4 0zm7 0zm4 0zm655 0zm10 0zm10 0zm1 0zm2 0zm9 0zm14 0zm12 0zm-1271 1zm22 0zm15 0zm6 0zm7 0zm2 0zm471 0zm7 0zm12 0zm1 0zm9 0zm17 0zm648 0zm55 0zm-1254 1zm0 0zm28 0zm490 0zm15 0zm15 0zm21 0zm625 0zm16 0zm12 0zm34 0zm0 0zm-1265 1zm1 0zm4 0zm6 0zm7 0zm7 0zm10 0zm6 0zm6 0zm3 0zm1 0zm465 0zm6 0zm4 0zm29 0zm2 0zm11 0zm654 0zm2 0zm40 0zm2 0zm2 0zm-1266 1zm14 0zm0 0zm3 0zm10 0zm4 0zm491 0zm32 0zm0 0zm649 0zm27 0zm1 0zm7 0zm12 0zm7 0zm1 0zm3 0zm1 0zm5 0zm-1241 1zm1 0zm18 0zm463 0zm41 0zm648 0zm2 0zm5 0zm15 0zm2 0zm8 0zm9 0zm18 0zm-1249 1zm1 0zm3 0zm0 0zm17 0zm19 0zm6 0zm39 0zm51 0zm366 0zm729 0zm-1242 1zm16 0zm12 0zm71 0zm3 0zm6 0zm19 0zm428 0zm0 0zm651 0zm5 0zm15 0zm45 0zm-1275 1zm1 0zm0 0zm10 0zm6 0zm3 0zm3 0zm9 0zm10 0zm11 0zm53 0zm15 0zm12 0zm12 0zm376 0zm8 0zm10 0zm2 0zm7 0zm21 0zm3 0zm9 0zm3 0zm657 0zm14 0zm8 0zm3 0zm5 0zm1 0zm-1276 1zm31 0zm3 0zm31 0zm0 0zm60 0zm8 0zm19 0zm396 0zm6 0zm1 0zm14 0zm4 0zm646 0zm12 0zm18 0zm22 0zm5 0zm-1261 1zm3 0zm10 0zm0 0zm5 0zm13 0zm3 0zm0 0zm8 0zm3 0zm39 0zm10 0zm1 0zm33 0zm15 0zm7 0zm4 0zm373 0zm14 0zm18 0zm645 0zm1 0zm40 0zm0 0zm10 0zm-1254 1zm15 0zm6 0zm28 0zm0 0zm41 0zm16 0zm1 0zm23 0zm1073 0zm7 0zm17 0zm4 0zm4 0zm22 0zm-1269 1zm8 0zm3 0zm1 0zm6 0zm22 0zm1 0zm7 0zm8 0zm105 0zm355 0zm8 0zm29 0zm23 0zm2 0zm631 0zm13 0zm2 0zm7 0zm-1237 1zm47 0zm9 0zm2 0zm1 0zm4 0zm91 0zm380 0zm54 0zm627 0zm12 0zm10 0zm5 0zm4 0zm7 0zm15 0zm-1255 1zm10 0zm3 0zm9 0zm4 0zm24 0zm5 0zm2 0zm33 0zm5 0zm1 0zm45 0zm6 0zm2 0zm7 0zm3 0zm370 0zm10 0zm4 0zm34 0zm2 0zm1 0zm617 0zm0 0zm4 0zm7 0zm8 0zm41 0zm-1271 1zm9 0zm7 0zm4 0zm4 0zm2 0zm11 0zm1 0zm2 0zm6 0zm11 0zm7 0zm44 0zm11 0zm16 0zm22 0zm12 0zm124 0zm1 0zm18 0zm0 0zm215 0zm6 0zm11 0zm25 0zm1 0zm2 0zm11 0zm1 0zm3 0zm655 0zm-1241 1zm2 0zm19 0zm9 0zm4 0zm0 0zm15 0zm1 0zm54 0zm12 0zm1 0zm44 0zm1 0zm115 0zm17 0zm5 0zm5 0zm8 0zm220 0zm16 0zm3 0zm16 0zm7 0zm1 0zm4 0zm9 0zm629 0zm0 0zm2 0zm18 0zm0 0zm5 0zm236 0zm29 0zm-1508 1zm2 0zm1 0zm11 0zm20 0zm7 0zm1 0zm2 0zm1 0zm3 0zm6 0zm12 0zm66 0zm3 0zm17 0zm15 0zm107 0zm11 0zm281 0zm16 0zm0 0zm656 0zm1 0zm3 0zm9 0zm4 0zm14 0zm4 0zm201 0zm12 0zm24 0zm11 0zm-1505 1zm20 0zm85 0zm13 0zm147 0zm21 0zm5 0zm1 0zm13 0zm3 0zm240 0zm29 0zm622 0zm3 0zm27 0zm7 0zm0 0zm1 0zm3 0zm3 0zm7 0zm10 0zm202 0zm25 0zm14 0zm-1509 1zm12 0zm4 0zm11 0zm15 0zm10 0zm1 0zm8 0zm34 0zm10 0zm4 0zm9 0zm43 0zm2 0zm0 0zm113 0zm2 0zm8 0zm19 0zm217 0zm15 0zm0 0zm11 0zm7 0zm21 0zm9 0zm655 0zm3 0zm15 0zm8 0zm205 0zm16 0zm11 0zm-1503 1zm1 0zm20 0zm41 0zm4 0zm2 0zm31 0zm9 0zm33 0zm133 0zm1 0zm21 0zm8 0zm9 0zm213 0zm1 0zm1 0zm11 0zm13 0zm666 0zm3 0zm3 0zm11 0zm254 0zm20 0zm5 0zm-1514 1zm21 0zm10 0zm4 0zm5 0zm4 0zm12 0zm4 0zm47 0zm40 0zm11 0zm8 0zm109 0zm17 0zm229 0zm10 0zm1 0zm5 0zm27 0zm7 0zm1 0zm9 0zm633 0zm21 0zm0 0zm2 0zm13 0zm25 0zm227 0zm3 0zm3 0zm6 0zm-1504 1zm18 0zm4 0zm10 0zm15 0zm2 0zm1 0zm8 0zm51 0zm19 0zm21 0zm2 0zm126 0zm4 0zm3 0zm3 0zm231 0zm3 0zm10 0zm2 0zm8 0zm1 0zm38 0zm0 0zm622 0zm10 0zm20 0zm18 0zm8 0zm3 0zm5 0zm1 0zm188 0zm-1462 1zm4 0zm8 0zm4 0zm23 0zm7 0zm2 0zm0 0zm51 0zm13 0zm15 0zm7 0zm136 0zm11 0zm6 0zm2 0zm22 0zm10 0zm1 0zm197 0zm1 0zm25 0zm0 0zm9 0zm0 0zm655 0zm18 0zm239 0zm8 0zm32 0zm12 0zm3 0zm-1527 1zm7 0zm2 0zm5 0zm1 0zm1 0zm34 0zm10 0zm44 0zm31 0zm132 0zm11 0zm6 0zm7 0zm21 0zm4 0zm2 0zm213 0zm9 0zm10 0zm9 0zm26 0zm9 0zm617 0zm8 0zm14 0zm25 0zm10 0zm4 0zm8 0zm190 0zm1 0zm61 0zm0 0zm-1532 1zm1 0zm4 0zm8 0zm2 0zm9 0zm5 0zm3 0zm3 0zm11 0zm13 0zm1 0zm10 0zm42 0zm14 0zm23 0zm114 0zm0 0zm7 0zm25 0zm9 0zm3 0zm6 0zm16 0zm197 0zm28 0zm15 0zm23 0zm625 0zm10 0zm2 0zm14 0zm21 0zm5 0zm3 0zm208 0zm6 0zm7 0zm1 0zm5 0zm1 0zm7 0zm18 0zm2 0zm7 0zm0 0zm-1532 1zm7 0zm3 0zm25 0zm12 0zm3 0zm6 0zm11 0zm35 0zm8 0zm13 0zm12 0zm128 0zm9 0zm1 0zm5 0zm0 0zm20 0zm6 0zm6 0zm14 0zm198 0zm1 0zm18 0zm11 0zm0 0zm1 0zm4 0zm7 0zm4 0zm11 0zm639 0zm4 0zm1 0zm5 0zm5 0zm15 0zm14 0zm209 0zm3 0zm13 0zm1 0zm35 0zm-1522 1zm4 0zm16 0zm12 0zm8 0zm18 0zm47 0zm42 0zm116 0zm14 0zm39 0zm13 0zm191 0zm6 0zm2 0zm17 0zm40 0zm622 0zm7 0zm20 0zm13 0zm12 0zm2 0zm3 0zm205 0zm15 0zm6 0zm13 0zm11 0zm12 0zm-1525 1zm9 0zm16 0zm5 0zm1 0zm5 0zm2 0zm6 0zm6 0zm16 0zm32 0zm53 0zm116 0zm16 0zm12 0zm12 0zm3 0zm218 0zm45 0zm6 0zm10 0zm632 0zm6 0zm0 0zm13 0zm15 0zm0 0zm7 0zm0 0zm1 0zm0 0zm7 0zm192 0zm6 0zm16 0zm7 0zm28 0zm2 0zm-1516 1zm13 0zm8 0zm5 0zm12 0zm0 0zm7 0zm5 0zm1 0zm4 0zm50 0zm9 0zm3 0zm4 0zm26 0zm13 0zm1 0zm97 0zm7 0zm27 0zm2 0zm0 0zm4 0zm18 0zm5 0zm215 0zm2 0zm21 0zm2 0zm9 0zm631 0zm1 0zm1 0zm0 0zm3 0zm1 0zm0 0zm1 0zm12 0zm6 0zm4 0zm5 0zm8 0zm6 0zm0 0zm5 0zm201 0zm16 0zm28 0zm0 0zm13 0zm11 0zm-1529 1zm19 0zm7 0zm24 0zm6 0zm5 0zm47 0zm12 0zm26 0zm8 0zm7 0zm2 0zm95 0zm4 0zm13 0zm34 0zm1 0zm4 0zm12 0zm3 0zm201 0zm11 0zm16 0zm7 0zm1 0zm7 0zm3 0zm638 0zm0 0zm15 0zm8 0zm240 0zm18 0zm3 0zm1 0zm14 0zm3 0zm-1503 1zm1 0zm13 0zm4 0zm6 0zm3 0zm73 0zm24 0zm11 0zm6 0zm107 0zm4 0zm25 0zm2 0zm2 0zm3 0zm10 0zm2 0zm6 0zm9 0zm2 0zm2 0zm222 0zm8 0zm25 0zm395 0zm13 0zm3 0zm8 0zm209 0zm8 0zm12 0zm5 0zm8 0zm11 0zm14 0zm4 0zm1 0zm203 0zm33 0zm5 0zm0 0zm4 0zm-1515 1zm2 0zm3 0zm9 0zm19 0zm21 0zm3 0zm3 0zm1 0zm45 0zm15 0zm15 0zm17 0zm4 0zm100 0zm6 0zm15 0zm30 0zm2 0zm9 0zm5 0zm211 0zm6 0zm11 0zm12 0zm1 0zm2 0zm4 0zm4 0zm415 0zm2 0zm7 0zm216 0zm8 0zm4 0zm3 0zm31 0zm9 0zm194 0zm5 0zm6 0zm9 0zm1 0zm3 0zm5 0zm12 0zm11 0zm-1520 1zm1 0zm28 0zm11 0zm3 0zm4 0zm10 0zm8 0zm2 0zm43 0zm3 0zm6 0zm6 0zm2 0zm5 0zm19 0zm126 0zm2 0zm6 0zm4 0zm17 0zm4 0zm220 0zm44 0zm14 0zm383 0zm5 0zm1 0zm3 0zm1 0zm3 0zm15 0zm1 0zm2 0zm1 0zm211 0zm24 0zm2 0zm0 0zm3 0zm3 0zm21 0zm6 0zm190 0zm8 0zm5 0zm3 0zm7 0zm17 0zm2 0zm4 0zm15 0zm1 0zm2 0zm-1525 1zm15 0zm15 0zm21 0zm2 0zm1 0zm4 0zm9 0zm31 0zm12 0zm19 0zm5 0zm4 0zm27 0zm117 0zm5 0zm13 0zm3 0zm216 0zm2 0zm16 0zm1 0zm9 0zm18 0zm5 0zm409 0zm9 0zm222 0zm5 0zm8 0zm1 0zm8 0zm2 0zm279 0zm7 0zm1 0zm-1523 1zm1 0zm4 0zm13 0zm2 0zm1 0zm2 0zm6 0zm1 0zm17 0zm1 0zm2 0zm0 0zm10 0zm71 0zm22 0zm122 0zm1 0zm5 0zm14 0zm1 0zm18 0zm4 0zm1 0zm8 0zm204 0zm16 0zm19 0zm15 0zm3 0zm384 0zm28 0zm216 0zm3 0zm7 0zm4 0zm31 0zm6 0zm6 0zm5 0zm1 0zm0 0zm195 0zm5 0zm34 0zm1 0zm4 0zm4 0zm10 0zm4 0zm-1524 1zm2 0zm3 0zm4 0zm15 0zm8 0zm19 0zm6 0zm1 0zm36 0zm6 0zm4 0zm17 0zm4 0zm4 0zm7 0zm116 0zm6 0zm2 0zm21 0zm20 0zm10 0zm0 0zm6 0zm241 0zm19 0zm389 0zm3 0zm12 0zm5 0zm220 0zm3 0zm11 0zm9 0zm12 0zm10 0zm227 0zm6 0zm1 0zm18 0zm21 0zm-1532 1zm0 0zm12 0zm8 0zm0 0zm2 0zm4 0zm1 0zm3 0zm2 0zm7 0zm22 0zm57 0zm37 0zm6 0zm106 0zm4 0zm17 0zm8 0zm8 0zm9 0zm214 0zm12 0zm0 0zm40 0zm391 0zm21 0zm0 0zm10 0zm214 0zm13 0zm20 0zm12 0zm6 0zm7 0zm188 0zm2 0zm5 0zm12 0zm3 0zm40 0zm6 0zm-1506 1zm20 0zm12 0zm2 0zm2 0zm65 0zm3 0zm25 0zm119 0zm1 0zm13 0zm12 0zm1 0zm0 0zm8 0zm6 0zm8 0zm205 0zm5 0zm2 0zm38 0zm403 0zm1 0zm0 0zm11 0zm5 0zm0 0zm7 0zm0 0zm269 0zm12 0zm188 0zm3 0zm9 0zm3 0zm12 0zm1 0zm25 0zm2 0zm6 0zm2 0zm-1531 1zm12 0zm4 0zm3 0zm3 0zm1 0zm8 0zm8 0zm10 0zm3 0zm9 0zm6 0zm67 0zm17 0zm111 0zm3 0zm12 0zm7 0zm3 0zm4 0zm2 0zm3 0zm5 0zm4 0zm9 0zm4 0zm5 0zm4 0zm205 0zm35 0zm21 0zm384 0zm0 0zm18 0zm16 0zm210 0zm25 0zm20 0zm6 0zm3 0zm4 0zm190 0zm26 0zm-1472 1zm15 0zm1 0zm9 0zm1 0zm2 0zm4 0zm2 0zm3 0zm1 0zm12 0zm2 0zm44 0zm25 0zm13 0zm19 0zm109 0zm1 0zm13 0zm18 0zm12 0zm204 0zm5 0zm24 0zm21 0zm9 0zm7 0zm388 0zm7 0zm11 0zm4 0zm214 0zm11 0zm6 0zm16 0zm8 0zm12 0zm196 0zm3 0zm11 0zm8 0zm6 0zm1 0zm12 0zm1 0zm3 0zm3 0zm5 0zm8 0zm-1502 1zm5 0zm2 0zm4 0zm6 0zm1 0zm8 0zm3 0zm87 0zm19 0zm10 0zm102 0zm1 0zm6 0zm2 0zm9 0zm1 0zm14 0zm7 0zm0 0zm210 0zm5 0zm13 0zm15 0zm4 0zm10 0zm12 0zm7 0zm378 0zm5 0zm5 0zm3 0zm5 0zm11 0zm5 0zm5 0zm0 0zm2 0zm209 0zm5 0zm1 0zm5 0zm14 0zm3 0zm17 0zm208 0zm3 0zm17 0zm10 0zm31 0zm-1529 1zm3 0zm15 0zm1 0zm17 0zm7 0zm14 0zm3 0zm2 0zm6 0zm48 0zm158 0zm8 0zm2 0zm20 0zm8 0zm16 0zm192 0zm1 0zm1 0zm19 0zm8 0zm16 0zm7 0zm5 0zm394 0zm11 0zm6 0zm5 0zm2 0zm4 0zm5 0zm214 0zm39 0zm5 0zm3 0zm3 0zm6 0zm4 0zm198 0zm9 0zm13 0zm21 0zm3 0zm0 0zm3 0zm1 0zm-1528 1zm4 0zm3 0zm4 0zm1 0zm14 0zm7 0zm6 0zm2 0zm15 0zm2 0zm0 0zm7 0zm5 0zm47 0zm15 0zm6 0zm24 0zm109 0zm3 0zm25 0zm1 0zm226 0zm15 0zm1 0zm2 0zm14 0zm12 0zm11 0zm11 0zm393 0zm12 0zm4 0zm212 0zm0 0zm24 0zm10 0zm26 0zm217 0zm21 0zm6 0zm5 0zm4 0zm6 0zm0 0zm-1527 1zm0 0zm7 0zm0 0zm13 0zm1 0zm21 0zm6 0zm5 0zm9 0zm2 0zm0 0zm33 0zm20 0zm15 0zm6 0zm3 0zm4 0zm16 0zm5 0zm94 0zm13 0zm5 0zm13 0zm0 0zm6 0zm24 0zm2 0zm2 0zm0 0zm198 0zm12 0zm16 0zm19 0zm397 0zm3 0zm32 0zm203 0zm6 0zm2 0zm8 0zm6 0zm17 0zm7 0zm3 0zm21 0zm183 0zm8 0zm6 0zm1 0zm4 0zm2 0zm5 0zm21 0zm1 0zm15 0zm0 0zm1 0zm-1527 1zm5 0zm6 0zm4 0zm1 0zm4 0zm10 0zm6 0zm21 0zm13 0zm45 0zm22 0zm1 0zm123 0zm7 0zm7 0zm22 0zm11 0zm21 0zm224 0zm7 0zm7 0zm3 0zm3 0zm3 0zm15 0zm395 0zm12 0zm0 0zm10 0zm202 0zm24 0zm14 0zm4 0zm11 0zm4 0zm1 0zm8 0zm4 0zm198 0zm3 0zm4 0zm13 0zm0 0zm10 0zm2 0zm4 0zm13 0zm-1494 1zm2 0zm1 0zm3 0zm18 0zm6 0zm5 0zm40 0zm26 0zm12 0zm6 0zm7 0zm104 0zm0 0zm12 0zm7 0zm0 0zm16 0zm1 0zm15 0zm17 0zm206 0zm10 0zm9 0zm8 0zm5 0zm6 0zm6 0zm386 0zm2 0zm13 0zm16 0zm212 0zm25 0zm15 0zm11 0zm203 0zm20 0zm1 0zm3 0zm13 0zm6 0zm4 0zm11 0zm7 0zm3 0zm-1514 1zm15 0zm14 0zm10 0zm10 0zm81 0zm11 0zm107 0zm5 0zm6 0zm4 0zm10 0zm25 0zm6 0zm2 0zm3 0zm196 0zm5 0zm6 0zm3 0zm3 0zm8 0zm33 0zm7 0zm386 0zm243 0zm11 0zm1 0zm4 0zm2 0zm15 0zm219 0zm30 0zm3 0zm1 0zm7 0zm5 0zm-1515 1zm3 0zm7 0zm3 0zm11 0zm9 0zm1 0zm3 0zm2 0zm2 0zm3 0zm8 0zm5 0zm9 0zm0 0zm56 0zm41 0zm104 0zm2 0zm12 0zm4 0zm4 0zm34 0zm4 0zm227 0zm3 0zm18 0zm394 0zm3 0zm6 0zm4 0zm20 0zm5 0zm204 0zm7 0zm55 0zm2 0zm194 0zm2 0zm10 0zm6 0zm14 0zm17 0zm-1518 1zm4 0zm4 0zm3 0zm7 0zm1 0zm2 0zm0 0zm5 0zm2 0zm10 0zm0 0zm9 0zm13 0zm1 0zm8 0zm41 0zm19 0zm13 0zm16 0zm130 0zm0 0zm23 0zm223 0zm3 0zm26 0zm12 0zm7 0zm1 0zm1 0zm386 0zm4 0zm0 0zm3 0zm17 0zm6 0zm3 0zm3 0zm256 0zm204 0zm5 0zm20 0zm8 0zm19 0zm0 0zm9 0zm4 0zm-1530 1zm4 0zm6 0zm13 0zm7 0zm23 0zm81 0zm13 0zm7 0zm9 0zm120 0zm2 0zm13 0zm21 0zm217 0zm5 0zm32 0zm6 0zm7 0zm385 0zm7 0zm2 0zm2 0zm0 0zm2 0zm2 0zm11 0zm230 0zm3 0zm25 0zm20 0zm3 0zm218 0zm10 0zm9 0zm9 0zm5 0zm-1529 1zm13 0zm11 0zm6 0zm6 0zm15 0zm3 0zm0 0zm54 0zm47 0zm10 0zm4 0zm96 0zm27 0zm2 0zm4 0zm7 0zm217 0zm15 0zm45 0zm4 0zm381 0zm5 0zm7 0zm1 0zm17 0zm3 0zm221 0zm7 0zm3 0zm34 0zm3 0zm8 0zm189 0zm12 0zm6 0zm9 0zm29 0zm0 0zm-1513 1zm7 0zm9 0zm23 0zm7 0zm3 0zm1 0zm2 0zm41 0zm0 0zm56 0zm9 0zm3 0zm91 0zm3 0zm5 0zm10 0zm0 0zm4 0zm2 0zm5 0zm10 0zm244 0zm21 0zm4 0zm402 0zm7 0zm29 0zm215 0zm15 0zm8 0zm2 0zm4 0zm24 0zm189 0zm10 0zm1 0zm6 0zm8 0zm4 0zm12 0zm6 0zm11 0zm1 0zm2 0zm6 0zm-1531 1zm10 0zm1 0zm0 0zm12 0zm28 0zm2 0zm9 0zm1 0zm3 0zm3 0zm95 0zm103 0zm1 0zm14 0zm20 0zm9 0zm219 0zm29 0zm11 0zm5 0zm4 0zm3 0zm6 0zm384 0zm5 0zm1 0zm24 0zm4 0zm206 0zm7 0zm1 0zm5 0zm6 0zm2 0zm39 0zm200 0zm19 0zm16 0zm4 0zm2 0zm18 0zm-1531 1zm9 0zm2 0zm0 0zm34 0zm60 0zm10 0zm6 0zm6 0zm0 0zm3 0zm15 0zm9 0zm7 0zm8 0zm103 0zm15 0zm1 0zm2 0zm14 0zm3 0zm13 0zm1 0zm8 0zm195 0zm15 0zm3 0zm4 0zm10 0zm27 0zm383 0zm4 0zm27 0zm1 0zm223 0zm18 0zm7 0zm11 0zm8 0zm0 0zm4 0zm11 0zm216 0zm5 0zm1 0zm9 0zm6 0zm9 0zm-1499 1zm6 0zm10 0zm13 0zm7 0zm55 0zm10 0zm31 0zm12 0zm100 0zm11 0zm17 0zm16 0zm6 0zm0 0zm4 0zm2 0zm196 0zm6 0zm30 0zm8 0zm4 0zm8 0zm388 0zm5 0zm23 0zm11 0zm207 0zm15 0zm9 0zm42 0zm0 0zm195 0zm16 0zm14 0zm18 0zm5 0zm-1522 1zm22 0zm4 0zm10 0zm0 0zm1 0zm3 0zm13 0zm47 0zm13 0zm10 0zm7 0zm3 0zm1 0zm126 0zm5 0zm6 0zm0 0zm17 0zm9 0zm10 0zm214 0zm13 0zm7 0zm17 0zm12 0zm1 0zm12 0zm378 0zm18 0zm11 0zm4 0zm5 0zm219 0zm3 0zm33 0zm9 0zm5 0zm8 0zm188 0zm8 0zm7 0zm15 0zm6 0zm4 0zm3 0zm3 0zm19 0zm-1527 1zm1 0zm4 0zm1 0zm10 0zm23 0zm14 0zm1 0zm1 0zm4 0zm61 0zm153 0zm3 0zm5 0zm8 0zm9 0zm1 0zm15 0zm7 0zm2 0zm193 0zm3 0zm5 0zm0 0zm4 0zm10 0zm23 0zm422 0zm8 0zm255 0zm12 0zm5 0zm7 0zm213 0zm14 0zm1 0zm4 0zm9 0zm-1514 1zm7 0zm10 0zm7 0zm1 0zm3 0zm6 0zm7 0zm20 0zm3 0zm67 0zm8 0zm17 0zm118 0zm6 0zm9 0zm5 0zm2 0zm11 0zm19 0zm198 0zm11 0zm8 0zm7 0zm414 0zm7 0zm19 0zm0 0zm4 0zm1 0zm213 0zm8 0zm13 0zm29 0zm18 0zm209 0zm16 0zm15 0zm7 0zm-1517 1zm24 0zm8 0zm28 0zm0 0zm47 0zm1 0zm15 0zm12 0zm0 0zm3 0zm24 0zm92 0zm28 0zm22 0zm4 0zm210 0zm9 0zm1 0zm0 0zm3 0zm16 0zm8 0zm4 0zm3 0zm3 0zm9 0zm398 0zm4 0zm13 0zm4 0zm6 0zm208 0zm19 0zm4 0zm3 0zm6 0zm9 0zm22 0zm1 0zm192 0zm1 0zm21 0zm6 0zm0 0zm11 0zm3 0zm8 0zm3 0zm7 0zm-1529 1zm1 0zm5 0zm7 0zm30 0zm20 0zm44 0zm151 0zm1 0zm10 0zm7 0zm19 0zm0 0zm4 0zm2 0zm11 0zm11 0zm200 0zm4 0zm24 0zm11 0zm8 0zm14 0zm1 0zm2 0zm379 0zm17 0zm2 0zm7 0zm11 0zm1 0zm3 0zm202 0zm4 0zm4 0zm2 0zm9 0zm3 0zm0 0zm11 0zm12 0zm11 0zm204 0zm1 0zm17 0zm9 0zm5 0zm7 0zm12 0zm8 0zm-1530 1zm5 0zm2 0zm15 0zm0 0zm4 0zm88 0zm13 0zm8 0zm19 0zm109 0zm14 0zm6 0zm26 0zm2 0zm221 0zm25 0zm3 0zm402 0zm8 0zm22 0zm6 0zm0 0zm1 0zm5 0zm209 0zm1 0zm18 0zm10 0zm2 0zm228 0zm23 0zm16 0zm21 0zm-1519 1zm2 0zm43 0zm3 0zm39 0zm11 0zm8 0zm40 0zm100 0zm5 0zm14 0zm3 0zm13 0zm7 0zm227 0zm6 0zm7 0zm8 0zm2 0zm411 0zm2 0zm0 0zm2 0zm5 0zm8 0zm3 0zm18 0zm2 0zm254 0zm0 0zm13 0zm195 0zm2 0zm2 0zm3 0zm4 0zm3 0zm5 0zm6 0zm3 0zm28 0zm2 0zm8 0zm-1520 1zm12 0zm1 0zm2 0zm2 0zm7 0zm0 0zm1 0zm21 0zm52 0zm3 0zm22 0zm146 0zm7 0zm1 0zm1 0zm3 0zm12 0zm3 0zm3 0zm7 0zm7 0zm4 0zm204 0zm35 0zm21 0zm382 0zm3 0zm8 0zm2 0zm1 0zm12 0zm8 0zm4 0zm1 0zm207 0zm15 0zm6 0zm10 0zm20 0zm10 0zm185 0zm13 0zm11 0zm6 0zm10 0zm7 0zm0 0zm1 0zm8 0zm1 0zm-1513 1zm32 0zm11 0zm3 0zm58 0zm23 0zm2 0zm6 0zm1 0zm24 0zm94 0zm7 0zm18 0zm8 0zm24 0zm206 0zm1 0zm21 0zm4 0zm17 0zm395 0zm0 0zm16 0zm1 0zm20 0zm217 0zm7 0zm30 0zm7 0zm210 0zm7 0zm20 0zm27 0zm0 0zm-1516 1zm1 0zm8 0zm10 0zm2 0zm2 0zm19 0zm54 0zm159 0zm6 0zm1 0zm22 0zm20 0zm4 0zm8 0zm7 0zm1 0zm196 0zm4 0zm442 0zm3 0zm4 0zm10 0zm4 0zm5 0zm7 0zm5 0zm2 0zm227 0zm12 0zm211 0zm7 0zm9 0zm2 0zm6 0zm22 0zm3 0zm12 0zm-1515 1zm6 0zm5 0zm11 0zm3 0zm27 0zm60 0zm50 0zm0 0zm126 0zm13 0zm224 0zm25 0zm0 0zm20 0zm1 0zm9 0zm403 0zm220 0zm10 0zm256 0zm9 0zm2 0zm20 0zm18 0zm-1514 1zm12 0zm4 0zm13 0zm228 0zm2 0zm4 0zm5 0zm6 0zm7 0zm6 0zm2 0zm5 0zm3 0zm8 0zm3 0zm9 0zm199 0zm5 0zm23 0zm13 0zm4 0zm2 0zm382 0zm7 0zm4 0zm2 0zm0 0zm2 0zm4 0zm5 0zm9 0zm2 0zm2 0zm1 0zm1 0zm5 0zm239 0zm15 0zm208 0zm4 0zm5 0zm7 0zm9 0zm3 0zm3 0zm4 0zm1 0zm14 0zm1 0zm9 0zm-1501 1zm19 0zm4 0zm230 0zm3 0zm7 0zm3 0zm30 0zm10 0zm247 0zm6 0zm8 0zm369 0zm5 0zm1 0zm4 0zm2 0zm0 0zm1 0zm9 0zm21 0zm2 0zm209 0zm9 0zm16 0zm23 0zm10 0zm196 0zm4 0zm7 0zm12 0zm3 0zm2 0zm26 0zm8 0zm0 0zm-1518 1zm2 0zm6 0zm26 0zm13 0zm219 0zm8 0zm5 0zm13 0zm4 0zm2 0zm15 0zm4 0zm203 0zm20 0zm24 0zm9 0zm374 0zm13 0zm6 0zm0 0zm2 0zm1 0zm7 0zm7 0zm1 0zm6 0zm7 0zm4 0zm1 0zm4 0zm200 0zm312 0zm-1520 1zm6 0zm11 0zm11 0zm2 0zm12 0zm229 0zm6 0zm7 0zm3 0zm2 0zm2 0zm2 0zm4 0zm11 0zm6 0zm5 0zm195 0zm1 0zm12 0zm3 0zm5 0zm3 0zm2 0zm20 0zm21 0zm365 0zm3 0zm9 0zm7 0zm4 0zm2 0zm2 0zm0 0zm6 0zm0 0zm1 0zm7 0zm5 0zm214 0zm7 0zm35 0zm17 0zm198 0zm22 0zm17 0zm3 0zm3 0zm7 0zm-1501 1zm8 0zm17 0zm228 0zm9 0zm1 0zm1 0zm2 0zm15 0zm6 0zm16 0zm4 0zm230 0zm0 0zm7 0zm20 0zm2 0zm376 0zm4 0zm3 0zm5 0zm0 0zm5 0zm6 0zm5 0zm2 0zm21 0zm1 0zm213 0zm23 0zm17 0zm192 0zm11 0zm1 0zm2 0zm2 0zm0 0zm8 0zm32 0zm12 0zm1 0zm2 0zm-1523 1zm18 0zm13 0zm3 0zm7 0zm0 0zm1 0zm215 0zm13 0zm0 0zm6 0zm7 0zm4 0zm8 0zm6 0zm2 0zm2 0zm269 0zm2 0zm370 0zm3 0zm1 0zm29 0zm4 0zm3 0zm11 0zm1 0zm4 0zm205 0zm11 0zm22 0zm17 0zm7 0zm205 0zm28 0zm4 0zm9 0zm9 0zm-1514 1zm4 0zm18 0zm240 0zm22 0zm2 0zm24 0zm5 0zm239 0zm10 0zm377 0zm3 0zm12 0zm5 0zm2 0zm6 0zm13 0zm5 0zm4 0zm212 0zm19 0zm1 0zm1 0zm2 0zm223 0zm23 0zm7 0zm33 0zm2 0zm-1492 1zm4 0zm1 0zm0 0zm14 0zm205 0zm14 0zm16 0zm6 0zm34 0zm1 0zm212 0zm16 0zm3 0zm390 0zm2 0zm8 0zm2 0zm1 0zm8 0zm3 0zm0 0zm1 0zm0 0zm14 0zm5 0zm12 0zm2 0zm1 0zm4 0zm206 0zm2 0zm16 0zm6 0zm0 0zm2 0zm6 0zm1 0zm3 0zm210 0zm27 0zm7 0zm23 0zm5 0zm0 0zm3 0zm-1508 1zm18 0zm221 0zm24 0zm246 0zm16 0zm23 0zm6 0zm376 0zm6 0zm13 0zm2 0zm3 0zm0 0zm4 0zm6 0zm10 0zm1 0zm0 0zm4 0zm1 0zm5 0zm10 0zm1 0zm209 0zm240 0zm7 0zm4 0zm1 0zm1 0zm3 0zm31 0zm-1503 1zm10 0zm5 0zm2 0zm2 0zm14 0zm223 0zm7 0zm12 0zm4 0zm0 0zm1 0zm3 0zm0 0zm11 0zm4 0zm3 0zm229 0zm5 0zm413 0zm6 0zm1 0zm5 0zm4 0zm1 0zm3 0zm14 0zm2 0zm7 0zm1 0zm7 0zm6 0zm220 0zm23 0zm211 0zm1 0zm2 0zm11 0zm5 0zm8 0zm2 0zm1 0zm9 0zm5 0zm7 0zm8 0zm-1516 1zm4 0zm8 0zm20 0zm237 0zm7 0zm21 0zm6 0zm215 0zm2 0zm19 0zm1 0zm7 0zm2 0zm21 0zm367 0zm3 0zm9 0zm1 0zm5 0zm1 0zm0 0zm17 0zm3 0zm5 0zm3 0zm9 0zm220 0zm27 0zm215 0zm21 0zm17 0zm15 0zm-1498 1zm9 0zm10 0zm3 0zm5 0zm219 0zm7 0zm5 0zm8 0zm10 0zm3 0zm264 0zm8 0zm6 0zm371 0zm4 0zm7 0zm2 0zm5 0zm2 0zm5 0zm4 0zm6 0zm1 0zm2 0zm5 0zm5 0zm3 0zm229 0zm13 0zm11 0zm2 0zm210 0zm1 0zm35 0zm6 0zm6 0zm-1488 1zm7 0zm12 0zm220 0zm2 0zm1 0zm3 0zm23 0zm7 0zm10 0zm1 0zm14 0zm235 0zm387 0zm0 0zm0 0zm2 0zm9 0zm5 0zm17 0zm1 0zm3 0zm3 0zm20 0zm7 0zm214 0zm32 0zm220 0zm2 0zm4 0zm2 0zm-1461 1zm231 0zm4 0zm8 0zm4 0zm2 0zm9 0zm18 0zm7 0zm13 0zm209 0zm20 0zm4 0zm9 0zm381 0zm2 0zm9 0zm3 0zm2 0zm1 0zm8 0zm0 0zm9 0zm2 0zm3 0zm1 0zm9 0zm6 0zm0 0zm5 0zm456 0zm7 0zm7 0zm29 0zm10 0zm2 0zm5 0zm0 0zm-1250 1zm6 0zm11 0zm20 0zm1 0zm0 0zm243 0zm21 0zm380 0zm9 0zm4 0zm13 0zm3 0zm13 0zm1 0zm1 0zm1 0zm7 0zm7 0zm444 0zm1 0zm3 0zm3 0zm13 0zm5 0zm0 0zm11 0zm2 0zm5 0zm18 0zm4 0zm2 0zm-1246 1zm43 0zm0 0zm234 0zm390 0zm1 0zm7 0zm1 0zm0 0zm5 0zm4 0zm4 0zm0 0zm10 0zm1 0zm4 0zm5 0zm1 0zm3 0zm1 0zm2 0zm11 0zm2 0zm1 0zm3 0zm0 0zm2 0zm2 0zm468 0zm11 0zm-1230 1zm22 0zm11 0zm5 0zm10 0zm2 0zm241 0zm6 0zm392 0zm1 0zm13 0zm9 0zm1 0zm11 0zm4 0zm6 0zm2 0zm458 0zm5 0zm27 0zm5 0zm1 0zm2 0zm13 0zm5 0zm0 0zm-1211 1zm9 0zm2 0zm640 0zm1 0zm6 0zm2 0zm1 0zm10 0zm5 0zm1 0zm4 0zm4 0zm6 0zm6 0zm13 0zm445 0zm5 0zm20 0zm2 0zm1 0zm19 0zm3 0zm15 0zm-1253 1zm3 0zm7 0zm8 0zm3 0zm1 0zm655 0zm1 0zm11 0zm2 0zm6 0zm5 0zm1 0zm6 0zm1 0zm5 0zm9 0zm14 0zm7 0zm448 0zm6 0zm4 0zm9 0zm8 0zm9 0zm2 0zm1 0zm11 0zm5 0zm-1247 1zm5 0zm22 0zm16 0zm647 0zm2 0zm1 0zm1 0zm1 0zm1 0zm8 0zm3 0zm0 0zm4 0zm23 0zm1 0zm465 0zm24 0zm8 0zm17 0zm1 0zm2 0zm-1242 1zm4 0zm11 0zm0 0zm654 0zm7 0zm4 0zm30 0zm15 0zm5 0zm455 0zm0 0zm13 0zm21 0zm16 0zm6 0zm-1223 1zm649 0zm2 0zm3 0zm4 0zm9 0zm1 0zm4 0zm1 0zm13 0zm2 0zm5 0zm6 0zm7 0zm2 0zm459 0zm25 0zm7 0zm22 0zm-571 1zm4 0zm11 0zm3 0zm0 0zm3 0zm1 0zm1 0zm6 0zm1 0zm7 0zm6 0zm3 0zm2 0zm10 0zm1 0zm1 0zm4 0zm1 0zm449 0zm8 0zm12 0zm4 0zm8 0zm3 0zm13 0zm8 0zm-564 1zm10 0zm3 0zm3 0zm5 0zm4 0zm3 0zm0 0zm2 0zm2 0zm1 0zm8 0zm5 0zm4 0zm5 0zm466 0zm5 0zm9 0zm10 0zm2 0zm6 0zm4 0zm-567 1zm9 0zm1 0zm4 0zm8 0zm2 0zm37 0zm0 0zm5 0zm1 0zm449 0zm15 0zm10 0zm4 0zm0 0zm13 0zm5 0zm-544 1zm1 0zm3 0zm5 0zm1 0zm4 0zm2 0zm0 0zm3 0zm1 0zm1 0zm6 0zm7 0zm2 0zm4 0zm7 0zm1 0zm472 0zm-533 1zm7 0zm4 0zm0 0zm1 0zm2 0zm3 0zm3 0zm2 0zm4 0zm3 0zm7 0zm19 0zm460 0zm14 0zm35 0zm4 0zm-562 1zm4 0zm5 0zm5 0zm6 0zm19 0zm5 0zm9 0zm466 0zm-518 1zm1 0zm30 0zm12 0zm460 0zm12 0zm18 0zm27 0zm-554 1zm4 0zm13 0zm4 0zm6 0zm1 0zm3 0zm8 0zm467 0zm22 0zm5 0zm1 0zm-534 1zm1 0zm9 0zm2 0zm491 0zm2 0zm11 0zm5 0zm26 0zm-552 1zm2 0zm1 0zm13 0zm0 0zm6 0zm2 0zm5 0zm477 0zm10 0zm1 0zm5 0zm1 0zm18 0zm14 0zm-554 1zm0 0zm5 0zm1 0zm4 0zm527 0zm-534 1zm0 0zm4 0zm2 0zm29 0zm0 0zm469 0zm18 0zm2 0zm22 0zm5 0zm-545 1zm497 0zm3 0zm11 0zm18 0zm12 0zm-43 1zm21 0zm1 0zm0 0zm5 0zm3 0zm9 0zm-40 1zm12 0zm6 0zm2 0zm-21 1zm26 0zm5 0zm0 0zm11 0zm5 0zm-49 1zm0 0zm0 0zm5 0zm1 0zm9 0zm3 0zm9 0zm11 0zm-28 1zm4 0zm15 0zm9 0zm1 0zm9 0zm1 0zm-44 1zm16 0zm10 0zm14 0zm0 0zm5 0zm-964 27zm1 0zm2 0zm0 0zm2 0zm-528 1zm1 0zm1 0zm1 0zm914 1zm1 0zm0 0zm1 0zm3 0zm0 0zm2 0zm3 0zm0 0zm0 0zm1 0zm1 0zm1 0zm0 0zm1 0zm1 0zm0 0zm0 0zm1 0zm0 0zm1 0zm0 0zm0 0zm0 0zm1 0zm1 0zm0 0zm0 0zm0 0zm0 0zm1 0zm0 0zm0 0zm0 0zm0 0zm2 0zm0 0zm1 0zm1 0zm1 0zm1 0zm0 0zm2 0zm1 0zm2 0zm0 0zm1 0zm2 0zm2 0zm1 0zm0 0zm0 0zm1 0zm1 0zm1 0zm0 0zm0 0zm1 0zm0 0zm1 0zm0 0zm0 0zm0 0zm1 0zm0 0zm3 0zm0 0zm1 0zm1 0zm0 0zm1 0zm0 0zm3 0zm0 0zm0 0zm0 0zm1 0zm0 0zm0 0zm1 0zm1 0zm1 0zm0 0zm1 0zm1 0zm0 0zm0 0zm3 0zm1 0zm0 0zm0 0zm0 0zm2 0zm0 0zm0 0zm1 0zm0 0zm0 0zm0 0zm1 0zm1 0zm0 0zm0 0zm0 0zm2 0zm1 0zm0 0zm1 0zm0 0zm0 0zm223 0zm0 0zm0 0zm0 0zm5 0zm241 0zm5 0zm1 0zm3 0zm3 0zm2 0zm-957 315zm9 0zm-25 1zm15 0zm14 0zm-22 1zm6 0zm6 0zm6 0zm5 0zm5 0zm4 0zm-29 1zm3 0zm27 0zm8 0zm-50 1zm11 0zm23 0zm5 0zm9 0zm4 0zm-43 1zm19 0zm25 0zm-46 1zm11 0zm-10 1zm16 0zm17 0zm0 0zm4 0zm13 0zm-50 1zm10 0zm11 0zm27 0zm-557 1zm0 0zm29 0zm1 0zm484 0zm24 0zm0 0zm10 0zm-27 1zm7 0zm11 0zm-519 1zm5 0zm3 0zm234 0zm26 0zm5 0zm267 0zm-563 1zm22 0zm2 0zm235 0zm15 0zm6 0zm4 0zm21 0zm194 0zm6 0zm27 0zm417 0zm9 0zm20 0zm2 0zm-980 1zm1 0zm9 0zm2 0zm6 0zm1 0zm1 0zm9 0zm248 0zm4 0zm15 0zm1 0zm211 0zm17 0zm2 0zm5 0zm12 0zm9 0zm12 0zm399 0zm0 0zm-950 1zm13 0zm243 0zm229 0zm22 0zm6 0zm14 0zm10 0zm3 0zm392 0zm4 0zm10 0zm18 0zm-961 1zm6 0zm1 0zm236 0zm1 0zm10 0zm30 0zm213 0zm3 0zm19 0zm12 0zm3 0zm409 0zm10 0zm-966 1zm4 0zm12 0zm11 0zm6 0zm216 0zm0 0zm7 0zm30 0zm13 0zm3 0zm218 0zm444 0zm3 0zm-967 1zm28 0zm220 0zm14 0zm6 0zm21 0zm12 0zm192 0zm473 0zm11 0zm-708 1zm10 0zm3 0zm224 0zm0 0zm1 0zm4 0zm34 0zm403 0zm27 0zm-975 1zm267 0zm7 0zm23 0zm4 0zm203 0zm4 0zm32 0zm1 0zm2 0zm0 0zm19 0zm412 0zm-959 1zm249 0zm3 0zm8 0zm2 0zm19 0zm219 0zm33 0zm400 0zm1 0zm2 0zm-947 1zm15 0zm241 0zm14 0zm0 0zm6 0zm19 0zm3 0zm7 0zm188 0zm6 0zm13 0zm4 0zm9 0zm4 0zm0 0zm21 0zm4 0zm410 0zm1 0zm3 0zm2 0zm3 0zm-976 1zm11 0zm14 0zm1 0zm0 0zm3 0zm219 0zm13 0zm14 0zm220 0zm24 0zm24 0zm393 0zm5 0zm27 0zm4 0zm-979 1zm3 0zm13 0zm4 0zm7 0zm18 0zm208 0zm0 0zm12 0zm23 0zm5 0zm2 0zm1 0zm0 0zm204 0zm2 0zm21 0zm26 0zm6 0zm385 0zm7 0zm8 0zm-956 1zm13 0zm28 0zm3 0zm2 0zm208 0zm0 0zm1 0zm0 0zm1 0zm10 0zm3 0zm7 0zm3 0zm6 0zm1 0zm19 0zm4 0zm7 0zm201 0zm2 0zm2 0zm17 0zm8 0zm398 0zm1 0zm0 0zm46 0zm-996 1zm6 0zm0 0zm17 0zm5 0zm227 0zm11 0zm14 0zm2 0zm22 0zm10 0zm9 0zm188 0zm5 0zm6 0zm4 0zm3 0zm2 0zm10 0zm15 0zm9 0zm4 0zm5 0zm399 0zm4 0zm6 0zm-976 1zm0 0zm5 0zm15 0zm2 0zm23 0zm206 0zm8 0zm4 0zm12 0zm1 0zm8 0zm2 0zm3 0zm0 0zm14 0zm13 0zm187 0zm5 0zm19 0zm5 0zm6 0zm6 0zm394 0zm12 0zm3 0zm17 0zm13 0zm-988 1zm33 0zm226 0zm1 0zm2 0zm8 0zm26 0zm14 0zm12 0zm191 0zm3 0zm8 0zm44 0zm380 0zm6 0zm32 0zm-967 1zm18 0zm1 0zm224 0zm5 0zm7 0zm30 0zm3 0zm4 0zm198 0zm6 0zm0 0zm3 0zm32 0zm16 0zm2 0zm381 0zm18 0zm9 0zm3 0zm7 0zm-986 1zm4 0zm12 0zm4 0zm253 0zm10 0zm1 0zm4 0zm15 0zm7 0zm6 0zm207 0zm16 0zm22 0zm409 0zm20 0zm5 0zm-980 1zm18 0zm3 0zm10 0zm2 0zm207 0zm19 0zm0 0zm0 0zm31 0zm11 0zm6 0zm190 0zm24 0zm11 0zm4 0zm9 0zm2 0zm406 0zm5 0zm8 0zm-955 1zm4 0zm9 0zm6 0zm5 0zm207 0zm15 0zm2 0zm10 0zm7 0zm4 0zm4 0zm7 0zm2 0zm14 0zm191 0zm1 0zm8 0zm1 0zm37 0zm388 0zm0 0zm26 0zm10 0zm2 0zm4 0zm6 0zm-998 1zm27 0zm14 0zm5 0zm6 0zm205 0zm3 0zm10 0zm14 0zm5 0zm2 0zm3 0zm11 0zm6 0zm4 0zm2 0zm5 0zm184 0zm17 0zm13 0zm11 0zm9 0zm398 0zm1 0zm10 0zm30 0zm-998 1zm11 0zm23 0zm1 0zm233 0zm9 0zm8 0zm3 0zm3 0zm2 0zm241 0zm21 0zm3 0zm394 0zm2 0zm-947 1zm13 0zm238 0zm13 0zm2 0zm15 0zm12 0zm4 0zm4 0zm9 0zm206 0zm24 0zm0 0zm4 0zm4 0zm4 0zm395 0zm4 0zm9 0zm-961 1zm2 0zm7 0zm4 0zm20 0zm15 0zm207 0zm0 0zm3 0zm7 0zm2 0zm14 0zm9 0zm10 0zm11 0zm206 0zm11 0zm2 0zm2 0zm15 0zm20 0zm398 0zm0 0zm4 0zm10 0zm6 0zm10 0zm-994 1zm5 0zm10 0zm7 0zm15 0zm224 0zm4 0zm2 0zm21 0zm20 0zm6 0zm199 0zm3 0zm7 0zm9 0zm13 0zm2 0zm8 0zm11 0zm3 0zm2 0zm0 0zm1 0zm368 0zm11 0zm14 0zm14 0zm-983 1zm0 0zm5 0zm3 0zm8 0zm13 0zm5 0zm5 0zm17 0zm207 0zm18 0zm16 0zm6 0zm18 0zm1 0zm241 0zm10 0zm407 0zm9 0zm10 0zm0 0zm-1001 1zm13 0zm7 0zm13 0zm24 0zm200 0zm7 0zm12 0zm7 0zm4 0zm16 0zm204 0zm13 0zm7 0zm45 0zm0 0zm370 0zm21 0zm15 0zm14 0zm6 0zm-977 1zm13 0zm5 0zm8 0zm3 0zm1 0zm9 0zm207 0zm1 0zm12 0zm5 0zm0 0zm5 0zm5 0zm8 0zm10 0zm207 0zm29 0zm0 0zm2 0zm4 0zm14 0zm377 0zm9 0zm3 0zm2 0zm19 0zm7 0zm-960 1zm26 0zm7 0zm204 0zm25 0zm4 0zm3 0zm12 0zm11 0zm5 0zm2 0zm184 0zm1 0zm6 0zm10 0zm11 0zm18 0zm4 0zm4 0zm6 0zm376 0zm18 0zm5 0zm30 0zm-994 1zm2 0zm17 0zm9 0zm12 0zm222 0zm36 0zm3 0zm10 0zm1 0zm3 0zm250 0zm5 0zm368 0zm6 0zm30 0zm2 0zm7 0zm16 0zm-992 1zm4 0zm8 0zm5 0zm15 0zm10 0zm207 0zm7 0zm3 0zm3 0zm10 0zm2 0zm15 0zm4 0zm5 0zm15 0zm185 0zm7 0zm5 0zm3 0zm6 0zm23 0zm17 0zm4 0zm369 0zm1 0zm7 0zm0 0zm4 0zm2 0zm1 0zm1 0zm17 0zm9 0zm3 0zm17 0zm-1007 1zm16 0zm31 0zm10 0zm201 0zm2 0zm7 0zm0 0zm3 0zm21 0zm4 0zm0 0zm3 0zm8 0zm2 0zm4 0zm4 0zm198 0zm10 0zm7 0zm7 0zm3 0zm1 0zm1 0zm0 0zm4 0zm13 0zm11 0zm384 0zm7 0zm3 0zm5 0zm21 0zm16 0zm-975 1zm3 0zm6 0zm3 0zm10 0zm0 0zm1 0zm5 0zm209 0zm14 0zm11 0zm2 0zm22 0zm4 0zm0 0zm224 0zm396 0zm4 0zm16 0zm9 0zm17 0zm16 0zm210 0zm7 0zm4 0zm25 0zm-1238 1zm22 0zm2 0zm7 0zm2 0zm2 0zm4 0zm6 0zm92 0zm1 0zm114 0zm10 0zm44 0zm2 0zm0 0zm194 0zm34 0zm11 0zm2 0zm12 0zm380 0zm16 0zm9 0zm1 0zm15 0zm13 0zm202 0zm23 0zm22 0zm8 0zm-1264 1zm9 0zm6 0zm9 0zm33 0zm43 0zm31 0zm16 0zm129 0zm4 0zm23 0zm5 0zm9 0zm1 0zm197 0zm4 0zm1 0zm0 0zm2 0zm10 0zm3 0zm10 0zm12 0zm3 0zm19 0zm372 0zm6 0zm14 0zm5 0zm250 0zm7 0zm22 0zm-1255 1zm1 0zm2 0zm21 0zm0 0zm6 0zm22 0zm7 0zm65 0zm1 0zm9 0zm11 0zm114 0zm14 0zm4 0zm12 0zm20 0zm17 0zm190 0zm8 0zm445 0zm28 0zm4 0zm209 0zm3 0zm2 0zm2 0zm7 0zm15 0zm-1235 1zm14 0zm13 0zm12 0zm1 0zm5 0zm17 0zm54 0zm8 0zm15 0zm7 0zm20 0zm102 0zm3 0zm38 0zm2 0zm3 0zm6 0zm5 0zm184 0zm5 0zm20 0zm41 0zm384 0zm6 0zm7 0zm1 0zm31 0zm3 0zm228 0zm12 0zm15 0zm-1253 1zm5 0zm0 0zm34 0zm12 0zm44 0zm22 0zm27 0zm113 0zm3 0zm7 0zm1 0zm7 0zm2 0zm7 0zm1 0zm215 0zm17 0zm3 0zm9 0zm10 0zm7 0zm7 0zm14 0zm364 0zm26 0zm21 0zm3 0zm1 0zm222 0zm2 0zm13 0zm16 0zm-1245 1zm15 0zm11 0zm2 0zm7 0zm4 0zm2 0zm7 0zm14 0zm34 0zm8 0zm11 0zm21 0zm3 0zm3 0zm10 0zm14 0zm95 0zm16 0zm38 0zm8 0zm1 0zm192 0zm20 0zm12 0zm22 0zm368 0zm18 0zm0 0zm14 0zm26 0zm10 0zm203 0zm0 0zm7 0zm4 0zm16 0zm9 0zm16 0zm-1264 1zm4 0zm16 0zm8 0zm20 0zm7 0zm13 0zm32 0zm14 0zm4 0zm10 0zm6 0zm27 0zm113 0zm3 0zm6 0zm1 0zm4 0zm9 0zm17 0zm10 0zm193 0zm56 0zm6 0zm3 0zm373 0zm6 0zm0 0zm1 0zm5 0zm10 0zm11 0zm1 0zm6 0zm222 0zm42 0zm7 0zm-1265 1zm49 0zm0 0zm4 0zm3 0zm55 0zm36 0zm133 0zm0 0zm10 0zm1 0zm5 0zm10 0zm16 0zm5 0zm195 0zm1 0zm11 0zm22 0zm15 0zm2 0zm1 0zm409 0zm1 0zm6 0zm237 0zm1 0zm14 0zm1 0zm-1237 1zm7 0zm21 0zm1 0zm8 0zm5 0zm62 0zm25 0zm21 0zm107 0zm5 0zm10 0zm2 0zm1 0zm11 0zm7 0zm2 0zm4 0zm2 0zm3 0zm17 0zm183 0zm13 0zm1 0zm23 0zm6 0zm14 0zm377 0zm11 0zm6 0zm3 0zm4 0zm12 0zm1 0zm249 0zm1 0zm6 0zm9 0zm21 0zm-1269 1zm5 0zm5 0zm32 0zm8 0zm7 0zm12 0zm43 0zm21 0zm12 0zm14 0zm111 0zm1 0zm3 0zm3 0zm11 0zm9 0zm13 0zm0 0zm8 0zm201 0zm17 0zm4 0zm15 0zm8 0zm10 0zm372 0zm5 0zm26 0zm12 0zm5 0zm14 0zm1 0zm199 0zm11 0zm4 0zm29 0zm7 0zm-1253 1zm5 0zm18 0zm6 0zm7 0zm9 0zm11 0zm48 0zm26 0zm1 0zm153 0zm3 0zm9 0zm19 0zm2 0zm1 0zm4 0zm194 0zm8 0zm33 0zm3 0zm7 0zm373 0zm5 0zm14 0zm20 0zm241 0zm26 0zm3 0zm10 0zm6 0zm1 0zm-1273 1zm25 0zm0 0zm21 0zm24 0zm99 0zm106 0zm4 0zm8 0zm0 0zm14 0zm0 0zm9 0zm4 0zm215 0zm3 0zm3 0zm8 0zm3 0zm1 0zm1 0zm2 0zm10 0zm1 0zm4 0zm1 0zm380 0zm54 0zm4 0zm217 0zm12 0zm2 0zm17 0zm12 0zm11 0zm-1272 1zm2 0zm27 0zm24 0zm0 0zm9 0zm2 0zm66 0zm10 0zm1 0zm3 0zm1 0zm2 0zm14 0zm5 0zm101 0zm3 0zm34 0zm21 0zm191 0zm6 0zm3 0zm3 0zm2 0zm3 0zm13 0zm24 0zm415 0zm15 0zm3 0zm6 0zm208 0zm11 0zm4 0zm13 0zm3 0zm6 0zm9 0zm0 0zm3 0zm3 0zm-1257 1zm6 0zm20 0zm8 0zm4 0zm4 0zm4 0zm60 0zm49 0zm133 0zm23 0zm1 0zm188 0zm8 0zm30 0zm11 0zm14 0zm369 0zm6 0zm6 0zm0 0zm7 0zm13 0zm29 0zm7 0zm221 0zm26 0zm1 0zm-1245 1zm11 0zm2 0zm5 0zm15 0zm4 0zm5 0zm2 0zm5 0zm2 0zm48 0zm40 0zm120 0zm20 0zm2 0zm10 0zm1 0zm2 0zm18 0zm216 0zm24 0zm5 0zm371 0zm8 0zm3 0zm22 0zm7 0zm5 0zm10 0zm4 0zm3 0zm4 0zm194 0zm26 0zm21 0zm19 0zm4 0zm-1271 1zm2 0zm13 0zm29 0zm9 0zm11 0zm45 0zm42 0zm16 0zm92 0zm28 0zm13 0zm7 0zm7 0zm3 0zm10 0zm211 0zm11 0zm23 0zm370 0zm7 0zm9 0zm13 0zm4 0zm230 0zm0 0zm13 0zm3 0zm15 0zm8 0zm15 0zm9 0zm-1271 1zm8 0zm4 0zm12 0zm15 0zm15 0zm4 0zm50 0zm49 0zm103 0zm12 0zm13 0zm24 0zm3 0zm218 0zm15 0zm10 0zm26 0zm389 0zm22 0zm212 0zm2 0zm2 0zm0 0zm1 0zm5 0zm8 0zm5 0zm7 0zm6 0zm3 0zm12 0zm-1256 1zm9 0zm31 0zm7 0zm7 0zm58 0zm1 0zm28 0zm133 0zm0 0zm9 0zm1 0zm4 0zm2 0zm8 0zm1 0zm6 0zm9 0zm219 0zm4 0zm7 0zm15 0zm13 0zm385 0zm15 0zm17 0zm9 0zm1 0zm3 0zm11 0zm192 0zm8 0zm9 0zm6 0zm15 0zm1 0zm2 0zm0 0zm8 0zm22 0zm-1274 1zm23 0zm7 0zm4 0zm3 0zm3 0zm15 0zm48 0zm46 0zm122 0zm0 0zm3 0zm0 0zm7 0zm8 0zm4 0zm4 0zm7 0zm11 0zm3 0zm9 0zm2 0zm184 0zm1 0zm5 0zm18 0zm2 0zm28 0zm1 0zm1 0zm7 0zm366 0zm13 0zm3 0zm244 0zm3 0zm5 0zm4 0zm5 0zm7 0zm3 0zm13 0zm8 0zm2 0zm8 0zm3 0zm6 0zm215 0zm-1475 1zm14 0zm16 0zm63 0zm2 0zm34 0zm3 0zm25 0zm98 0zm4 0zm28 0zm10 0zm12 0zm9 0zm193 0zm8 0zm2 0zm8 0zm33 0zm1 0zm8 0zm368 0zm12 0zm2 0zm5 0zm22 0zm1 0zm9 0zm7 0zm198 0zm3 0zm5 0zm6 0zm24 0zm237 0zm0 0zm2 0zm1 0zm28 0zm-1511 1zm1 0zm2 0zm7 0zm13 0zm2 0zm12 0zm2 0zm5 0zm13 0zm3 0zm0 0zm6 0zm73 0zm121 0zm4 0zm4 0zm11 0zm6 0zm16 0zm2 0zm7 0zm5 0zm2 0zm196 0zm3 0zm3 0zm6 0zm1 0zm3 0zm0 0zm2 0zm14 0zm13 0zm387 0zm5 0zm15 0zm0 0zm6 0zm0 0zm15 0zm1 0zm6 0zm1 0zm216 0zm0 0zm3 0zm16 0zm9 0zm19 0zm17 0zm1 0zm193 0zm18 0zm30 0zm1 0zm-1510 1zm12 0zm3 0zm0 0zm3 0zm28 0zm2 0zm12 0zm41 0zm3 0zm10 0zm8 0zm19 0zm22 0zm98 0zm2 0zm5 0zm14 0zm8 0zm15 0zm17 0zm184 0zm27 0zm23 0zm15 0zm403 0zm1 0zm5 0zm24 0zm214 0zm1 0zm7 0zm10 0zm12 0zm3 0zm12 0zm2 0zm0 0zm194 0zm20 0zm1 0zm-1476 1zm1 0zm2 0zm14 0zm10 0zm2 0zm23 0zm97 0zm102 0zm6 0zm11 0zm11 0zm2 0zm12 0zm2 0zm3 0zm14 0zm4 0zm3 0zm188 0zm35 0zm16 0zm6 0zm1 0zm1 0zm1 0zm370 0zm7 0zm1 0zm22 0zm9 0zm1 0zm6 0zm0 0zm2 0zm220 0zm9 0zm1 0zm12 0zm3 0zm18 0zm-1249 1zm7 0zm11 0zm6 0zm0 0zm30 0zm3 0zm1 0zm193 0zm2 0zm18 0zm44 0zm211 0zm0 0zm3 0zm1 0zm3 0zm3 0zm19 0zm13 0zm5 0zm360 0zm5 0zm32 0zm30 0zm214 0zm4 0zm2 0zm5 0zm4 0zm2 0zm1 0zm4 0zm2 0zm3 0zm0 0zm3 0zm15 0zm229 0zm7 0zm-1495 1zm7 0zm2 0zm4 0zm2 0zm4 0zm1 0zm2 0zm3 0zm22 0zm61 0zm0 0zm6 0zm17 0zm15 0zm12 0zm99 0zm4 0zm0 0zm12 0zm2 0zm4 0zm4 0zm5 0zm10 0zm252 0zm394 0zm4 0zm7 0zm2 0zm1 0zm7 0zm4 0zm3 0zm10 0zm5 0zm4 0zm8 0zm218 0zm12 0zm8 0zm8 0zm4 0zm212 0zm11 0zm2 0zm3 0zm-1489 1zm8 0zm7 0zm5 0zm4 0zm6 0zm6 0zm3 0zm31 0zm43 0zm3 0zm16 0zm154 0zm6 0zm3 0zm9 0zm3 0zm11 0zm196 0zm7 0zm9 0zm10 0zm16 0zm4 0zm8 0zm2 0zm3 0zm12 0zm383 0zm30 0zm213 0zm45 0zm1 0zm12 0zm2 0zm5 0zm195 0zm6 0zm6 0zm16 0zm15 0zm10 0zm-1522 1zm0 0zm6 0zm23 0zm10 0zm8 0zm1 0zm4 0zm2 0zm10 0zm2 0zm43 0zm8 0zm14 0zm7 0zm16 0zm120 0zm1 0zm6 0zm12 0zm16 0zm240 0zm8 0zm406 0zm1 0zm2 0zm18 0zm11 0zm7 0zm205 0zm7 0zm4 0zm3 0zm2 0zm32 0zm14 0zm1 0zm203 0zm20 0zm1 0zm-1481 1zm28 0zm3 0zm3 0zm6 0zm6 0zm43 0zm24 0zm1 0zm32 0zm9 0zm108 0zm6 0zm5 0zm14 0zm2 0zm12 0zm4 0zm203 0zm10 0zm31 0zm4 0zm5 0zm3 0zm395 0zm2 0zm3 0zm11 0zm10 0zm6 0zm2 0zm207 0zm17 0zm1 0zm20 0zm4 0zm11 0zm4 0zm5 0zm2 0zm203 0zm2 0zm26 0zm-1496 1zm1 0zm19 0zm21 0zm4 0zm6 0zm7 0zm56 0zm12 0zm4 0zm124 0zm11 0zm26 0zm4 0zm210 0zm3 0zm25 0zm10 0zm12 0zm11 0zm367 0zm3 0zm2 0zm2 0zm12 0zm12 0zm12 0zm4 0zm11 0zm7 0zm204 0zm19 0zm5 0zm6 0zm17 0zm14 0zm186 0zm6 0zm27 0zm21 0zm0 0zm-1510 1zm2 0zm6 0zm7 0zm7 0zm24 0zm1 0zm9 0zm45 0zm25 0zm6 0zm124 0zm11 0zm5 0zm20 0zm6 0zm22 0zm235 0zm387 0zm1 0zm9 0zm4 0zm16 0zm0 0zm1 0zm15 0zm5 0zm225 0zm12 0zm4 0zm10 0zm9 0zm4 0zm7 0zm1 0zm202 0zm22 0zm19 0zm6 0zm-1507 1zm12 0zm5 0zm7 0zm1 0zm13 0zm5 0zm15 0zm56 0zm0 0zm150 0zm7 0zm4 0zm26 0zm19 0zm210 0zm15 0zm1 0zm19 0zm373 0zm6 0zm9 0zm13 0zm16 0zm14 0zm202 0zm4 0zm7 0zm3 0zm9 0zm23 0zm6 0zm2 0zm3 0zm3 0zm200 0zm25 0zm2 0zm8 0zm2 0zm-1506 1zm4 0zm26 0zm6 0zm4 0zm2 0zm1 0zm1 0zm13 0zm2 0zm1 0zm45 0zm0 0zm17 0zm154 0zm15 0zm13 0zm6 0zm5 0zm1 0zm1 0zm8 0zm198 0zm12 0zm2 0zm1 0zm3 0zm2 0zm6 0zm5 0zm391 0zm8 0zm6 0zm20 0zm4 0zm9 0zm3 0zm15 0zm194 0zm14 0zm6 0zm18 0zm5 0zm6 0zm2 0zm1 0zm3 0zm0 0zm14 0zm208 0zm20 0zm6 0zm6 0zm5 0zm-1497 1zm4 0zm1 0zm6 0zm6 0zm11 0zm211 0zm15 0zm5 0zm12 0zm4 0zm16 0zm0 0zm2 0zm7 0zm0 0zm5 0zm226 0zm10 0zm20 0zm363 0zm0 0zm18 0zm2 0zm1 0zm2 0zm2 0zm3 0zm14 0zm11 0zm1 0zm4 0zm203 0zm8 0zm5 0zm12 0zm5 0zm2 0zm3 0zm18 0zm220 0zm5 0zm40 0zm-1523 1zm1 0zm2 0zm4 0zm5 0zm8 0zm1 0zm10 0zm13 0zm0 0zm1 0zm2 0zm5 0zm3 0zm15 0zm47 0zm7 0zm1 0zm18 0zm3 0zm10 0zm2 0zm110 0zm1 0zm3 0zm5 0zm8 0zm3 0zm1 0zm30 0zm1 0zm192 0zm40 0zm23 0zm4 0zm4 0zm363 0zm1 0zm3 0zm4 0zm11 0zm26 0zm15 0zm7 0zm200 0zm6 0zm10 0zm12 0zm13 0zm8 0zm199 0zm8 0zm9 0zm27 0zm2 0zm-1505 1zm5 0zm2 0zm6 0zm10 0zm6 0zm5 0zm17 0zm4 0zm8 0zm46 0zm3 0zm13 0zm5 0zm2 0zm23 0zm6 0zm96 0zm3 0zm3 0zm11 0zm6 0zm33 0zm200 0zm1 0zm56 0zm381 0zm14 0zm13 0zm19 0zm6 0zm3 0zm202 0zm6 0zm0 0zm2 0zm10 0zm8 0zm230 0zm4 0zm26 0zm29 0zm1 0zm-1520 1zm6 0zm4 0zm5 0zm5 0zm18 0zm7 0zm4 0zm3 0zm9 0zm61 0zm7 0zm31 0zm94 0zm13 0zm24 0zm15 0zm18 0zm198 0zm27 0zm3 0zm1 0zm5 0zm4 0zm13 0zm365 0zm8 0zm8 0zm2 0zm0 0zm2 0zm1 0zm2 0zm10 0zm1 0zm4 0zm2 0zm15 0zm10 0zm207 0zm7 0zm1 0zm2 0zm12 0zm23 0zm197 0zm0 0zm50 0zm-1512 1zm7 0zm4 0zm0 0zm9 0zm6 0zm17 0zm17 0zm2 0zm40 0zm13 0zm2 0zm19 0zm137 0zm18 0zm4 0zm14 0zm12 0zm231 0zm2 0zm439 0zm5 0zm1 0zm0 0zm16 0zm1 0zm192 0zm7 0zm3 0zm5 0zm1 0zm5 0zm6 0zm3 0zm4 0zm12 0zm6 0zm1 0zm9 0zm198 0zm4 0zm8 0zm6 0zm7 0zm4 0zm2 0zm16 0zm8 0zm1 0zm-1519 1zm5 0zm2 0zm11 0zm15 0zm7 0zm6 0zm0 0zm0 0zm11 0zm41 0zm8 0zm6 0zm10 0zm2 0zm22 0zm6 0zm0 0zm6 0zm4 0zm3 0zm1 0zm117 0zm20 0zm4 0zm215 0zm1 0zm2 0zm2 0zm1 0zm27 0zm2 0zm388 0zm9 0zm5 0zm5 0zm1 0zm17 0zm14 0zm4 0zm208 0zm18 0zm0 0zm1 0zm7 0zm1 0zm5 0zm1 0zm2 0zm7 0zm0 0zm5 0zm4 0zm0 0zm6 0zm4 0zm195 0zm49 0zm-1512 1zm8 0zm5 0zm11 0zm4 0zm9 0zm22 0zm45 0zm15 0zm16 0zm2 0zm157 0zm0 0zm9 0zm5 0zm207 0zm19 0zm6 0zm37 0zm368 0zm1 0zm3 0zm1 0zm3 0zm10 0zm4 0zm11 0zm4 0zm6 0zm15 0zm6 0zm222 0zm9 0zm4 0zm4 0zm8 0zm6 0zm1 0zm7 0zm183 0zm8 0zm2 0zm1 0zm34 0zm10 0zm0 0zm2 0zm-1515 1zm9 0zm1 0zm5 0zm16 0zm1 0zm2 0zm11 0zm18 0zm7 0zm54 0zm16 0zm128 0zm11 0zm23 0zm3 0zm3 0zm3 0zm0 0zm203 0zm30 0zm6 0zm27 0zm6 0zm366 0zm3 0zm1 0zm11 0zm0 0zm2 0zm4 0zm9 0zm4 0zm1 0zm0 0zm7 0zm11 0zm88 0zm1 0zm122 0zm19 0zm5 0zm2 0zm7 0zm1 0zm14 0zm207 0zm21 0zm24 0zm6 0zm0 0zm4 0zm4 0zm-1511 1zm1 0zm5 0zm1 0zm7 0zm6 0zm7 0zm3 0zm5 0zm7 0zm2 0zm2 0zm51 0zm27 0zm137 0zm16 0zm3 0zm9 0zm13 0zm1 0zm205 0zm7 0zm1 0zm6 0zm6 0zm23 0zm384 0zm4 0zm48 0zm1 0zm42 0zm10 0zm46 0zm11 0zm130 0zm11 0zm4 0zm17 0zm189 0zm13 0zm9 0zm18 0zm8 0zm4 0zm-1514 1zm11 0zm2 0zm8 0zm10 0zm4 0zm2 0zm6 0zm11 0zm7 0zm5 0zm41 0zm7 0zm34 0zm6 0zm6 0zm104 0zm8 0zm5 0zm3 0zm1 0zm17 0zm10 0zm14 0zm1 0zm1 0zm203 0zm3 0zm18 0zm9 0zm25 0zm0 0zm359 0zm49 0zm8 0zm9 0zm5 0zm33 0zm12 0zm51 0zm4 0zm96 0zm10 0zm1 0zm3 0zm2 0zm18 0zm3 0zm6 0zm3 0zm12 0zm3 0zm4 0zm213 0zm40 0zm-1528 1zm5 0zm11 0zm18 0zm2 0zm0 0zm72 0zm28 0zm137 0zm18 0zm4 0zm11 0zm0 0zm16 0zm193 0zm9 0zm8 0zm14 0zm5 0zm13 0zm6 0zm387 0zm14 0zm3 0zm12 0zm16 0zm1 0zm4 0zm0 0zm47 0zm12 0zm44 0zm114 0zm3 0zm20 0zm7 0zm3 0zm18 0zm195 0zm35 0zm6 0zm4 0zm-1503 1zm17 0zm16 0zm3 0zm1 0zm4 0zm7 0zm0 0zm1 0zm5 0zm64 0zm8 0zm6 0zm12 0zm126 0zm9 0zm10 0zm22 0zm3 0zm199 0zm35 0zm23 0zm381 0zm3 0zm10 0zm4 0zm15 0zm77 0zm23 0zm120 0zm34 0zm1 0zm2 0zm210 0zm0 0zm4 0zm3 0zm14 0zm3 0zm4 0zm12 0zm5 0zm1 0zm3 0zm-1508 1zm2 0zm12 0zm7 0zm20 0zm5 0zm12 0zm2 0zm0 0zm57 0zm9 0zm12 0zm16 0zm2 0zm114 0zm3 0zm10 0zm0 0zm1 0zm10 0zm4 0zm218 0zm39 0zm2 0zm3 0zm1 0zm4 0zm4 0zm1 0zm381 0zm4 0zm10 0zm0 0zm14 0zm6 0zm2 0zm6 0zm67 0zm7 0zm1 0zm5 0zm133 0zm1 0zm2 0zm14 0zm13 0zm9 0zm6 0zm13 0zm3 0zm3 0zm189 0zm1 0zm2 0zm1 0zm1 0zm15 0zm31 0zm5 0zm-1519 1zm32 0zm17 0zm0 0zm17 0zm57 0zm10 0zm26 0zm7 0zm102 0zm6 0zm15 0zm9 0zm16 0zm199 0zm15 0zm14 0zm2 0zm14 0zm4 0zm390 0zm12 0zm15 0zm14 0zm10 0zm54 0zm35 0zm3 0zm8 0zm4 0zm101 0zm3 0zm27 0zm1 0zm15 0zm11 0zm8 0zm200 0zm21 0zm-1490 1zm11 0zm15 0zm11 0zm27 0zm39 0zm5 0zm18 0zm10 0zm1 0zm29 0zm1 0zm145 0zm7 0zm0 0zm195 0zm2 0zm1 0zm14 0zm32 0zm0 0zm7 0zm371 0zm12 0zm13 0zm5 0zm81 0zm40 0zm1 0zm17 0zm106 0zm7 0zm1 0zm1 0zm3 0zm7 0zm5 0zm12 0zm18 0zm184 0zm1 0zm2 0zm19 0zm22 0zm-1501 1zm22 0zm6 0zm19 0zm10 0zm1 0zm2 0zm97 0zm8 0zm128 0zm4 0zm10 0zm206 0zm0 0zm6 0zm56 0zm4 0zm381 0zm3 0zm8 0zm15 0zm4 0zm4 0zm12 0zm1 0zm1 0zm91 0zm15 0zm91 0zm4 0zm6 0zm23 0zm8 0zm8 0zm12 0zm0 0zm2 0zm6 0zm205 0zm43 0zm3 0zm-1526 1zm20 0zm12 0zm20 0zm0 0zm2 0zm6 0zm44 0zm4 0zm3 0zm10 0zm35 0zm0 0zm10 0zm2 0zm127 0zm3 0zm7 0zm2 0zm220 0zm3 0zm41 0zm4 0zm370 0zm1 0zm1 0zm1 0zm10 0zm23 0zm1 0zm6 0zm5 0zm2 0zm16 0zm55 0zm11 0zm9 0zm13 0zm125 0zm3 0zm3 0zm7 0zm6 0zm3 0zm18 0zm1 0zm3 0zm1 0zm6 0zm1 0zm182 0zm40 0zm7 0zm-1502 1zm1 0zm5 0zm1 0zm2 0zm6 0zm2 0zm1 0zm6 0zm1 0zm24 0zm15 0zm37 0zm9 0zm31 0zm6 0zm1 0zm12 0zm358 0zm21 0zm29 0zm2 0zm383 0zm19 0zm4 0zm11 0zm7 0zm1 0zm3 0zm5 0zm56 0zm50 0zm106 0zm1 0zm6 0zm1 0zm3 0zm6 0zm27 0zm5 0zm1 0zm194 0zm4 0zm4 0zm19 0zm34 0zm-1497 1zm8 0zm0 0zm4 0zm5 0zm1 0zm14 0zm3 0zm1 0zm42 0zm18 0zm22 0zm372 0zm7 0zm9 0zm23 0zm3 0zm19 0zm0 0zm369 0zm7 0zm4 0zm2 0zm8 0zm2 0zm5 0zm25 0zm1 0zm11 0zm56 0zm5 0zm0 0zm6 0zm9 0zm131 0zm1 0zm25 0zm2 0zm0 0zm231 0zm0 0zm18 0zm17 0zm-1506 1zm2 0zm4 0zm1 0zm0 0zm2 0zm5 0zm1 0zm28 0zm0 0zm3 0zm6 0zm2 0zm59 0zm9 0zm391 0zm15 0zm11 0zm13 0zm9 0zm7 0zm374 0zm9 0zm18 0zm2 0zm5 0zm4 0zm2 0zm4 0zm5 0zm1 0zm8 0zm0 0zm5 0zm59 0zm2 0zm10 0zm23 0zm4 0zm4 0zm100 0zm2 0zm4 0zm0 0zm5 0zm1 0zm11 0zm14 0zm1 0zm19 0zm6 0zm0 0zm194 0zm7 0zm3 0zm11 0zm1 0zm9 0zm15 0zm1 0zm5 0zm0 0zm-1520 1zm12 0zm2 0zm0 0zm1 0zm5 0zm5 0zm8 0zm31 0zm45 0zm19 0zm2 0zm27 0zm4 0zm9 0zm352 0zm49 0zm372 0zm2 0zm1 0zm19 0zm4 0zm22 0zm4 0zm5 0zm54 0zm11 0zm18 0zm30 0zm98 0zm8 0zm0 0zm6 0zm11 0zm2 0zm18 0zm0 0zm8 0zm6 0zm1 0zm2 0zm194 0zm16 0zm2 0zm34 0zm-1511 1zm7 0zm9 0zm11 0zm3 0zm13 0zm1 0zm1 0zm67 0zm8 0zm18 0zm22 0zm1 0zm779 0zm12 0zm1 0zm4 0zm3 0zm15 0zm62 0zm5 0zm162 0zm19 0zm6 0zm23 0zm13 0zm201 0zm2 0zm28 0zm7 0zm4 0zm4 0zm-1507 1zm4 0zm5 0zm3 0zm3 0zm5 0zm17 0zm13 0zm1 0zm37 0zm1 0zm2 0zm13 0zm2 0zm23 0zm17 0zm363 0zm18 0zm9 0zm8 0zm9 0zm9 0zm0 0zm367 0zm0 0zm49 0zm6 0zm3 0zm6 0zm3 0zm43 0zm35 0zm1 0zm17 0zm2 0zm97 0zm4 0zm13 0zm0 0zm25 0zm18 0zm2 0zm7 0zm204 0zm7 0zm28 0zm1 0zm-1511 1zm6 0zm12 0zm16 0zm33 0zm31 0zm38 0zm6 0zm10 0zm5 0zm363 0zm10 0zm10 0zm11 0zm11 0zm409 0zm3 0zm10 0zm67 0zm9 0zm24 0zm25 0zm93 0zm3 0zm3 0zm3 0zm25 0zm11 0zm5 0zm5 0zm2 0zm5 0zm198 0zm17 0zm20 0zm2 0zm-1504 1zm0 0zm9 0zm3 0zm10 0zm10 0zm0 0zm5 0zm1 0zm3 0zm3 0zm7 0zm15 0zm1 0zm39 0zm31 0zm29 0zm1 0zm378 0zm17 0zm386 0zm33 0zm1 0zm3 0zm14 0zm2 0zm10 0zm1 0zm1 0zm71 0zm6 0zm10 0zm112 0zm2 0zm1 0zm6 0zm2 0zm3 0zm4 0zm35 0zm192 0zm2 0zm20 0zm2 0zm1 0zm45 0zm-1528 1zm2 0zm11 0zm3 0zm9 0zm13 0zm26 0zm4 0zm36 0zm9 0zm11 0zm399 0zm2 0zm50 0zm4 0zm366 0zm9 0zm14 0zm1 0zm2 0zm12 0zm11 0zm11 0zm93 0zm6 0zm104 0zm22 0zm5 0zm3 0zm1 0zm5 0zm7 0zm19 0zm212 0zm3 0zm5 0zm14 0zm15 0zm-1483 1zm4 0zm2 0zm15 0zm11 0zm0 0zm0 0zm48 0zm22 0zm4 0zm0 0zm3 0zm380 0zm3 0zm2 0zm24 0zm12 0zm1 0zm378 0zm16 0zm13 0zm2 0zm1 0zm1 0zm9 0zm10 0zm15 0zm3 0zm66 0zm6 0zm136 0zm8 0zm11 0zm4 0zm10 0zm4 0zm5 0zm1 0zm0 0zm6 0zm224 0zm16 0zm2 0zm1 0zm10 0zm-1490 1zm6 0zm5 0zm8 0zm53 0zm10 0zm6 0zm8 0zm2 0zm13 0zm404 0zm4 0zm26 0zm368 0zm3 0zm6 0zm6 0zm9 0zm1 0zm13 0zm5 0zm11 0zm12 0zm1 0zm42 0zm15 0zm146 0zm18 0zm20 0zm2 0zm12 0zm2 0zm2 0zm184 0zm1 0zm27 0zm3 0zm5 0zm3 0zm2 0zm20 0zm-1518 1zm2 0zm10 0zm6 0zm30 0zm56 0zm12 0zm8 0zm404 0zm10 0zm9 0zm10 0zm387 0zm2 0zm1 0zm5 0zm7 0zm3 0zm8 0zm11 0zm0 0zm8 0zm3 0zm7 0zm6 0zm45 0zm6 0zm1 0zm10 0zm5 0zm3 0zm137 0zm1 0zm7 0zm33 0zm7 0zm12 0zm2 0zm197 0zm10 0zm5 0zm1 0zm7 0zm4 0zm6 0zm20 0zm-1525 1zm3 0zm1 0zm5 0zm6 0zm13 0zm32 0zm48 0zm1 0zm11 0zm2 0zm2 0zm10 0zm6 0zm12 0zm10 0zm371 0zm35 0zm6 0zm5 0zm373 0zm17 0zm13 0zm6 0zm26 0zm75 0zm1 0zm134 0zm36 0zm7 0zm212 0zm4 0zm37 0zm-1506 1zm12 0zm7 0zm1 0zm2 0zm3 0zm16 0zm49 0zm14 0zm11 0zm6 0zm1 0zm7 0zm17 0zm826 0zm27 0zm0 0zm43 0zm40 0zm117 0zm2 0zm1 0zm2 0zm14 0zm14 0zm8 0zm4 0zm4 0zm213 0zm6 0zm11 0zm1 0zm4 0zm6 0zm7 0zm9 0zm-1504 1zm8 0zm6 0zm2 0zm12 0zm4 0zm7 0zm1 0zm4 0zm5 0zm6 0zm34 0zm9 0zm2 0zm26 0zm389 0zm16 0zm3 0zm24 0zm374 0zm4 0zm4 0zm3 0zm24 0zm7 0zm0 0zm14 0zm1 0zm8 0zm1 0zm49 0zm26 0zm2 0zm6 0zm4 0zm4 0zm117 0zm3 0zm4 0zm4 0zm12 0zm8 0zm15 0zm200 0zm0 0zm6 0zm15 0zm3 0zm4 0zm11 0zm14 0zm-1515 1zm17 0zm1 0zm4 0zm9 0zm2 0zm0 0zm24 0zm0 0zm2 0zm42 0zm4 0zm6 0zm3 0zm33 0zm15 0zm361 0zm2 0zm7 0zm6 0zm18 0zm13 0zm380 0zm18 0zm5 0zm3 0zm4 0zm87 0zm10 0zm12 0zm17 0zm123 0zm30 0zm2 0zm1 0zm195 0zm2 0zm2 0zm16 0zm4 0zm23 0zm-1506 1zm2 0zm7 0zm1 0zm17 0zm5 0zm33 0zm2 0zm66 0zm22 0zm4 0zm6 0zm407 0zm529 0zm118 0zm5 0zm11 0zm11 0zm9 0zm11 0zm218 0zm5 0zm6 0zm2 0zm2 0zm26 0zm-1507 1zm3 0zm4 0zm11 0zm3 0zm1 0zm18 0zm4 0zm4 0zm48 0zm17 0zm10 0zm20 0zm6 0zm359 0zm17 0zm6 0zm4 0zm4 0zm389 0zm20 0zm5 0zm3 0zm7 0zm5 0zm7 0zm54 0zm2 0zm14 0zm7 0zm147 0zm33 0zm10 0zm198 0zm14 0zm4 0zm8 0zm16 0zm9 0zm8 0zm-1507 1zm6 0zm6 0zm1 0zm12 0zm10 0zm8 0zm1 0zm9 0zm92 0zm392 0zm23 0zm379 0zm10 0zm30 0zm2 0zm10 0zm1 0zm66 0zm10 0zm135 0zm8 0zm17 0zm29 0zm202 0zm7 0zm17 0zm28 0zm-1518 1zm3 0zm1 0zm14 0zm1 0zm45 0zm74 0zm380 0zm38 0zm4 0zm9 0zm372 0zm4 0zm23 0zm3 0zm2 0zm3 0zm3 0zm2 0zm25 0zm35 0zm4 0zm22 0zm20 0zm16 0zm114 0zm42 0zm211 0zm5 0zm10 0zm17 0zm2 0zm-1505 1zm18 0zm1 0zm24 0zm21 0zm1 0zm0 0zm74 0zm2 0zm411 0zm1 0zm0 0zm390 0zm3 0zm0 0zm43 0zm12 0zm8 0zm1 0zm58 0zm4 0zm16 0zm367 0zm0 0zm3 0zm17 0zm15 0zm3 0zm7 0zm7 0zm3 0zm8 0zm-1517 1zm24 0zm10 0zm7 0zm2 0zm15 0zm3 0zm1 0zm73 0zm11 0zm9 0zm370 0zm4 0zm4 0zm31 0zm400 0zm13 0zm4 0zm1 0zm3 0zm15 0zm8 0zm57 0zm17 0zm15 0zm373 0zm23 0zm1 0zm2 0zm13 0zm9 0zm-1518 1zm14 0zm14 0zm12 0zm1 0zm1 0zm7 0zm57 0zm33 0zm18 0zm793 0zm20 0zm3 0zm1 0zm1 0zm9 0zm19 0zm2 0zm3 0zm34 0zm8 0zm7 0zm3 0zm15 0zm3 0zm29 0zm349 0zm1 0zm2 0zm13 0zm23 0zm3 0zm24 0zm-1513 1zm6 0zm2 0zm9 0zm4 0zm1 0zm15 0zm1 0zm1 0zm64 0zm1 0zm0 0zm5 0zm1 0zm31 0zm799 0zm11 0zm5 0zm0 0zm38 0zm50 0zm34 0zm4 0zm1 0zm376 0zm18 0zm8 0zm3 0zm1 0zm4 0zm8 0zm-1506 1zm5 0zm13 0zm6 0zm4 0zm0 0zm17 0zm6 0zm72 0zm28 0zm12 0zm785 0zm16 0zm10 0zm6 0zm8 0zm76 0zm5 0zm30 0zm4 0zm360 0zm5 0zm3 0zm6 0zm19 0zm4 0zm6 0zm1 0zm-1496 1zm8 0zm22 0zm122 0zm774 0zm2 0zm20 0zm12 0zm74 0zm17 0zm10 0zm2 0zm7 0zm7 0zm382 0zm4 0zm1 0zm4 0zm11 0zm5 0zm16 0zm3 0zm-1504 1zm10 0zm13 0zm2 0zm2 0zm7 0zm49 0zm32 0zm10 0zm27 0zm786 0zm14 0zm11 0zm8 0zm2 0zm7 0zm2 0zm9 0zm40 0zm3 0zm14 0zm34 0zm411 0zm5 0zm9 0zm2 0zm-1520 1zm8 0zm40 0zm9 0zm64 0zm8 0zm12 0zm18 0zm2 0zm785 0zm5 0zm32 0zm4 0zm10 0zm41 0zm21 0zm9 0zm18 0zm379 0zm3 0zm1 0zm1 0zm10 0zm40 0zm1 0zm-1523 1zm2 0zm26 0zm99 0zm12 0zm821 0zm1 0zm20 0zm3 0zm78 0zm1 0zm393 0zm8 0zm33 0zm2 0zm8 0zm4 0zm-1503 1zm16 0zm0 0zm23 0zm5 0zm78 0zm814 0zm9 0zm5 0zm1 0zm9 0zm8 0zm6 0zm1 0zm7 0zm10 0zm2 0zm60 0zm1 0zm44 0zm345 0zm8 0zm21 0zm21 0zm-1497 1zm3 0zm1 0zm1 0zm937 0zm9 0zm9 0zm5 0zm10 0zm9 0zm54 0zm10 0zm36 0zm19 0zm353 0zm1 0zm12 0zm24 0zm6 0zm0 0zm14 0zm-1511 1zm28 0zm7 0zm1 0zm0 0zm8 0zm2 0zm895 0zm9 0zm7 0zm13 0zm3 0zm4 0zm8 0zm57 0zm51 0zm0 0zm9 0zm343 0zm9 0zm-1450 1zm16 0zm14 0zm899 0zm12 0zm7 0zm22 0zm19 0zm54 0zm16 0zm13 0zm10 0zm2 0zm357 0zm7 0zm7 0zm2 0zm16 0zm5 0zm7 0zm13 0zm-1504 1zm5 0zm6 0zm39 0zm886 0zm63 0zm1 0zm1 0zm40 0zm6 0zm43 0zm386 0zm2 0zm2 0zm6 0zm3 0zm5 0zm5 0zm10 0zm-1503 1zm0 0zm20 0zm1 0zm4 0zm13 0zm1 0zm895 0zm21 0zm3 0zm6 0zm3 0zm5 0zm9 0zm12 0zm457 0zm10 0zm11 0zm18 0zm4 0zm4 0zm-1489 1zm7 0zm11 0zm14 0zm901 0zm12 0zm5 0zm12 0zm15 0zm9 0zm0 0zm455 0zm16 0zm1 0zm10 0zm9 0zm9 0zm14 0zm4 0zm-1508 1zm9 0zm18 0zm10 0zm888 0zm21 0zm15 0zm13 0zm500 0zm22 0zm10 0zm-1504 1zm25 0zm11 0zm890 0zm4 0zm36 0zm13 0zm5 0zm6 0zm447 0zm17 0zm8 0zm5 0zm3 0zm2 0zm7 0zm3 0zm-1492 1zm3 0zm1 0zm5 0zm35 0zm890 0zm3 0zm29 0zm8 0zm491 0zm2 0zm-1464 1zm26 0zm6 0zm1 0zm909 0zm6 0zm12 0zm1 0zm0 0zm5 0zm15 0zm1 0zm7 0zm457 0zm6 0zm16 0zm18 0zm24 0zm-1507 1zm5 0zm13 0zm20 0zm924 0zm12 0zm495 0zm1 0zm9 0zm1 0zm1 0zm17 0zm2 0zm-1476 1zm10 0zm2 0zm901 0zm5 0zm16 0zm35 0zm451 0zm13 0zm9 0zm7 0zm17 0zm16 0zm-1508 1zm11 0zm17 0zm919 0zm10 0zm36 0zm479 0zm18 0zm-1487 1zm23 0zm923 0zm40 0zm452 0zm18 0zm50 0zm-1488 1zm12 0zm923 0zm487 0zm11 0zm5 0zm7 0zm15 0zm15 0zm9 0zm-1496 1zm952 0zm19 0zm490 0zm10 0zm15 0zm-543 1zm4 0zm9 0zm18 0zm50 0zm49 0zm14 0zm360 0zm-476 1zm4 0zm59 0zm33 0zm19 0zm356 0zm5 0zm2 0zm34 0zm5 0zm6 0zm3 0zm3 0zm3 0zm-559 1zm7 0zm26 0zm61 0zm5 0zm394 0zm2 0zm19 0zm9 0zm5 0zm11 0zm8 0zm5 0zm-554 1zm14 0zm3 0zm4 0zm80 0zm15 0zm5 0zm13 0zm365 0zm4 0zm4 0zm10 0zm25 0zm3 0zm16 0zm-576 1zm1 0zm6 0zm5 0zm4 0zm3 0zm14 0zm21 0zm59 0zm13 0zm6 0zm32 0zm347 0zm1 0zm4 0zm3 0zm5 0zm10 0zm1 0zm12 0zm7 0zm6 0zm17 0zm-574 1zm40 0zm12 0zm42 0zm9 0zm18 0zm390 0zm-496 1zm83 0zm410 0zm2 0zm9 0zm9 0zm17 0zm12 0zm16 0zm-559 1zm15 0zm20 0zm90 0zm6 0zm11 0zm358 0zm6 0zm10 0zm6 0zm33 0zm-572 1zm15 0zm33 0zm3 0zm86 0zm2 0zm8 0zm360 0zm5 0zm30 0zm10 0zm7 0zm1 0zm1 0zm16 0zm-546 1zm13 0zm68 0zm20 0zm399 0zm4 0zm2 0zm30 0zm6 0zm-571 1zm6 0zm8 0zm5 0zm1 0zm17 0zm77 0zm411 0zm0 0zm2 0zm25 0zm-549 1zm8 0zm35 0zm1 0zm50 0zm15 0zm30 0zm370 0zm0 0zm40 0zm16 0zm1 0zm2 0zm0 0zm3 0zm-563 1zm11 0zm9 0zm1 0zm9 0zm60 0zm17 0zm27 0zm388 0zm1 0zm9 0zm1 0zm9 0zm18 0zm-555 1zm11 0zm75 0zm9 0zm4 0zm0 0zm8 0zm395 0zm5 0zm11 0zm3 0zm13 0zm7 0zm-558 1zm4 0zm1 0zm10 0zm22 0zm3 0zm6 0zm111 0zm2 0zm358 0zm5 0zm36 0zm12 0zm-571 1zm16 0zm2 0zm17 0zm0 0zm7 0zm12 0zm46 0zm6 0zm10 0zm6 0zm24 0zm13 0zm347 0zm0 0zm9 0zm3 0zm18 0zm22 0zm-557 1zm41 0zm2 0zm5 0zm2 0zm460 0zm3 0zm6 0zm35 0zm-548 1zm24 0zm5 0zm519 0zm-518 1zm4 0zm11 0zm468 0zm27 0zm6 0zm19 0zm-541 1zm484 0zm17 0zm7 0zm11 0zm10 0zm3 0zm-546 1zm8 0zm4 0zm13 0zm472 0zm2 0zm1 0zm27 0zm0 0zm27 0zm-565 1zm19 0zm25 0zm467 0zm12 0zm8 0zm3 0zm17 0zm18 0zm-563 1zm20 0zm13 0zm468 0zm20 0zm35 0zm2 0zm-555 1zm22 0zm483 0zm7 0zm11 0zm27 0zm-526 1zm475 0zm7 0zm8 0zm10 0zm7 0zm23 0zm-552 1zm13 0zm485 0zm3 0zm6 0zm3 0zm0 0zm14 0zm16 0zm1 0zm0 0zm6 0zm8 0zm-47 1zm4 0zm2 0zm17 0zm3 0zm9 0zm5 0zm1 0zm5 0zm-58 1zm13 0zm9 0zm9 0zm8 0zm19 0zm-56 1zm22 0zm20 0zm2 0zm-49 1zm17 0zm6 0zm5 0zm4 1zm3 0zm6 0zm4 1zm11 0zm4 1zm-27 2zm13 0zm-7 1zm-1468 20zm3 0zm938 1zm0 0zm0 0zm1 0zm1 0zm2 0zm0 0zm0 0zm1 0zm1 0zm0 0zm0 0zm0 0zm2 0zm0 0zm490 0zm1 0zm1 0zm1 0zm3 0zm0 0zm1 0zm2 0zm1 0zm1 0zm0 0zm0 0zm1 0zm2 0zm1 0zm1 0zm0 0zm1 0zm1 0zm2 0zm4 0zm0 0zm2 0zm1 0zm1 0zm6 0zm0 0zm0 0zm0 0zm2 0zm0 0zm1 0zm1 0zm1 0zm2 0zm0 0zm1 0zm0 0zm0 0zm0 0zm0 0zm1 0zm0 0z" stroke="#0a0505" stroke-opacity="0.3" stroke-width="2.1" stroke-linecap="round" fill="none"/>
</svg>
</body></html>
